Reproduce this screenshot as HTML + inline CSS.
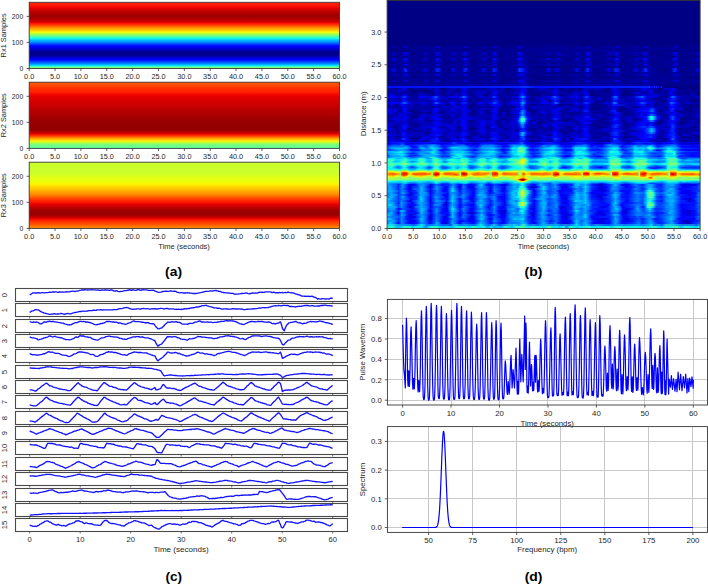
<!DOCTYPE html><html><head><meta charset="utf-8"><style>html,body{margin:0;padding:0;background:#fff;overflow:hidden}svg{display:block}text{font-family:"Liberation Sans",sans-serif}</style></head><body><svg width="708" height="584" viewBox="0 0 708 584"><defs><linearGradient id="ga0" x1="0" y1="0" x2="0" y2="1"><stop offset="0.000" stop-color="#ff2500"/><stop offset="0.015" stop-color="#ff2200"/><stop offset="0.030" stop-color="#ff1f00"/><stop offset="0.045" stop-color="#ff1900"/><stop offset="0.061" stop-color="#fb1000"/><stop offset="0.076" stop-color="#f00600"/><stop offset="0.091" stop-color="#e40000"/><stop offset="0.106" stop-color="#d90000"/><stop offset="0.121" stop-color="#cd0000"/><stop offset="0.136" stop-color="#c20000"/><stop offset="0.152" stop-color="#b80000"/><stop offset="0.167" stop-color="#af0000"/><stop offset="0.182" stop-color="#a70000"/><stop offset="0.197" stop-color="#a20000"/><stop offset="0.212" stop-color="#9d0000"/><stop offset="0.227" stop-color="#a40000"/><stop offset="0.242" stop-color="#ae0000"/><stop offset="0.258" stop-color="#b70000"/><stop offset="0.273" stop-color="#c00000"/><stop offset="0.288" stop-color="#ca0000"/><stop offset="0.303" stop-color="#e20000"/><stop offset="0.318" stop-color="#fe1200"/><stop offset="0.333" stop-color="#ff2b00"/><stop offset="0.348" stop-color="#ff4400"/><stop offset="0.364" stop-color="#ff6400"/><stop offset="0.379" stop-color="#ff8300"/><stop offset="0.394" stop-color="#ff9d00"/><stop offset="0.409" stop-color="#ffb400"/><stop offset="0.424" stop-color="#ffcb00"/><stop offset="0.439" stop-color="#ffe500"/><stop offset="0.455" stop-color="#e9ff0e"/><stop offset="0.470" stop-color="#c7ff30"/><stop offset="0.485" stop-color="#a4ff53"/><stop offset="0.500" stop-color="#7eff78"/><stop offset="0.515" stop-color="#58ff9e"/><stop offset="0.530" stop-color="#34ffc2"/><stop offset="0.545" stop-color="#13fee3"/><stop offset="0.561" stop-color="#00d5ff"/><stop offset="0.576" stop-color="#00b8ff"/><stop offset="0.591" stop-color="#009dff"/><stop offset="0.606" stop-color="#0082ff"/><stop offset="0.621" stop-color="#005cff"/><stop offset="0.636" stop-color="#0036ff"/><stop offset="0.652" stop-color="#0015ff"/><stop offset="0.667" stop-color="#0000ff"/><stop offset="0.682" stop-color="#0000f0"/><stop offset="0.697" stop-color="#0000d7"/><stop offset="0.712" stop-color="#0000c4"/><stop offset="0.727" stop-color="#0000b1"/><stop offset="0.742" stop-color="#00009d"/><stop offset="0.758" stop-color="#000092"/><stop offset="0.773" stop-color="#00008b"/><stop offset="0.788" stop-color="#000091"/><stop offset="0.803" stop-color="#000096"/><stop offset="0.818" stop-color="#0000ad"/><stop offset="0.833" stop-color="#0000c4"/><stop offset="0.848" stop-color="#0000e3"/><stop offset="0.864" stop-color="#0000ff"/><stop offset="0.879" stop-color="#001cff"/><stop offset="0.894" stop-color="#003eff"/><stop offset="0.909" stop-color="#005eff"/><stop offset="0.924" stop-color="#007fff"/><stop offset="0.939" stop-color="#00acff"/><stop offset="0.955" stop-color="#00e0fb"/><stop offset="0.970" stop-color="#3bffbb"/><stop offset="0.985" stop-color="#7bff7c"/><stop offset="1.000" stop-color="#a5ff52"/></linearGradient><linearGradient id="ga1" x1="0" y1="0" x2="0" y2="1"><stop offset="0.000" stop-color="#ff5400"/><stop offset="0.015" stop-color="#ff5200"/><stop offset="0.030" stop-color="#ff4f00"/><stop offset="0.045" stop-color="#ff4c00"/><stop offset="0.061" stop-color="#ff4300"/><stop offset="0.076" stop-color="#ff3800"/><stop offset="0.091" stop-color="#ff2f00"/><stop offset="0.106" stop-color="#ff2c00"/><stop offset="0.121" stop-color="#ff2900"/><stop offset="0.136" stop-color="#ff2700"/><stop offset="0.152" stop-color="#ff1e00"/><stop offset="0.167" stop-color="#ff1200"/><stop offset="0.182" stop-color="#f20900"/><stop offset="0.197" stop-color="#ee0500"/><stop offset="0.212" stop-color="#e90100"/><stop offset="0.227" stop-color="#e40000"/><stop offset="0.242" stop-color="#e00000"/><stop offset="0.258" stop-color="#db0000"/><stop offset="0.273" stop-color="#d80000"/><stop offset="0.288" stop-color="#d50000"/><stop offset="0.303" stop-color="#d20000"/><stop offset="0.318" stop-color="#cf0000"/><stop offset="0.333" stop-color="#cd0000"/><stop offset="0.348" stop-color="#cb0000"/><stop offset="0.364" stop-color="#c80000"/><stop offset="0.379" stop-color="#c60000"/><stop offset="0.394" stop-color="#c00000"/><stop offset="0.409" stop-color="#b90000"/><stop offset="0.424" stop-color="#b30000"/><stop offset="0.439" stop-color="#b20000"/><stop offset="0.455" stop-color="#b10000"/><stop offset="0.470" stop-color="#b00000"/><stop offset="0.485" stop-color="#af0000"/><stop offset="0.500" stop-color="#ac0000"/><stop offset="0.515" stop-color="#a80000"/><stop offset="0.530" stop-color="#a30000"/><stop offset="0.545" stop-color="#a00000"/><stop offset="0.561" stop-color="#9e0000"/><stop offset="0.576" stop-color="#9c0000"/><stop offset="0.591" stop-color="#990000"/><stop offset="0.606" stop-color="#970000"/><stop offset="0.621" stop-color="#960000"/><stop offset="0.636" stop-color="#950000"/><stop offset="0.652" stop-color="#940000"/><stop offset="0.667" stop-color="#940000"/><stop offset="0.682" stop-color="#930000"/><stop offset="0.697" stop-color="#920000"/><stop offset="0.712" stop-color="#910000"/><stop offset="0.727" stop-color="#9a0000"/><stop offset="0.742" stop-color="#aa0000"/><stop offset="0.758" stop-color="#bb0000"/><stop offset="0.773" stop-color="#d80000"/><stop offset="0.788" stop-color="#f50b00"/><stop offset="0.803" stop-color="#ff2a00"/><stop offset="0.818" stop-color="#ff4d00"/><stop offset="0.833" stop-color="#ff7500"/><stop offset="0.848" stop-color="#ff9f00"/><stop offset="0.864" stop-color="#ffbe00"/><stop offset="0.879" stop-color="#ffdc00"/><stop offset="0.894" stop-color="#e8ff0f"/><stop offset="0.909" stop-color="#c4ff32"/><stop offset="0.924" stop-color="#a3ff53"/><stop offset="0.939" stop-color="#82ff74"/><stop offset="0.955" stop-color="#71ff86"/><stop offset="0.970" stop-color="#63ff94"/><stop offset="0.985" stop-color="#63ff94"/><stop offset="1.000" stop-color="#63ff94"/></linearGradient><linearGradient id="ga2" x1="0" y1="0" x2="0" y2="1"><stop offset="0.000" stop-color="#caff2d"/><stop offset="0.015" stop-color="#caff2d"/><stop offset="0.030" stop-color="#caff2c"/><stop offset="0.045" stop-color="#cbff2c"/><stop offset="0.061" stop-color="#cbff2c"/><stop offset="0.076" stop-color="#cbff2b"/><stop offset="0.091" stop-color="#ccff2b"/><stop offset="0.106" stop-color="#ccff2b"/><stop offset="0.121" stop-color="#ccff2a"/><stop offset="0.136" stop-color="#cdff2a"/><stop offset="0.152" stop-color="#cdff2a"/><stop offset="0.167" stop-color="#cdff29"/><stop offset="0.182" stop-color="#cfff28"/><stop offset="0.197" stop-color="#d6ff21"/><stop offset="0.212" stop-color="#dcff1a"/><stop offset="0.227" stop-color="#e0ff17"/><stop offset="0.242" stop-color="#e2ff14"/><stop offset="0.258" stop-color="#e5ff12"/><stop offset="0.273" stop-color="#e8ff0f"/><stop offset="0.288" stop-color="#eaff0d"/><stop offset="0.303" stop-color="#efff08"/><stop offset="0.318" stop-color="#f4f903"/><stop offset="0.333" stop-color="#faf200"/><stop offset="0.348" stop-color="#ffe800"/><stop offset="0.364" stop-color="#ffdd00"/><stop offset="0.379" stop-color="#ffd300"/><stop offset="0.394" stop-color="#ffc900"/><stop offset="0.409" stop-color="#ffbf00"/><stop offset="0.424" stop-color="#ffb400"/><stop offset="0.439" stop-color="#ffaa00"/><stop offset="0.455" stop-color="#ffa000"/><stop offset="0.470" stop-color="#ff9600"/><stop offset="0.485" stop-color="#ff8b00"/><stop offset="0.500" stop-color="#ff7f00"/><stop offset="0.515" stop-color="#ff6d00"/><stop offset="0.530" stop-color="#ff5b00"/><stop offset="0.545" stop-color="#ff4900"/><stop offset="0.561" stop-color="#ff3a00"/><stop offset="0.576" stop-color="#ff2d00"/><stop offset="0.591" stop-color="#ff2100"/><stop offset="0.606" stop-color="#ff1400"/><stop offset="0.621" stop-color="#f30900"/><stop offset="0.636" stop-color="#e60000"/><stop offset="0.652" stop-color="#d90000"/><stop offset="0.667" stop-color="#cd0000"/><stop offset="0.682" stop-color="#c00000"/><stop offset="0.697" stop-color="#b40000"/><stop offset="0.712" stop-color="#a80000"/><stop offset="0.727" stop-color="#a10000"/><stop offset="0.742" stop-color="#9f0000"/><stop offset="0.758" stop-color="#9c0000"/><stop offset="0.773" stop-color="#9a0000"/><stop offset="0.788" stop-color="#970000"/><stop offset="0.803" stop-color="#a30000"/><stop offset="0.818" stop-color="#b60000"/><stop offset="0.833" stop-color="#c90000"/><stop offset="0.848" stop-color="#e00000"/><stop offset="0.864" stop-color="#f70d00"/><stop offset="0.879" stop-color="#ff1e00"/><stop offset="0.894" stop-color="#ff2e00"/><stop offset="0.909" stop-color="#ff3d00"/><stop offset="0.924" stop-color="#ff4900"/><stop offset="0.939" stop-color="#ff5500"/><stop offset="0.955" stop-color="#ff6200"/><stop offset="0.970" stop-color="#ff7800"/><stop offset="0.985" stop-color="#ff8700"/><stop offset="1.000" stop-color="#ff8e00"/></linearGradient><linearGradient id="s22"><stop offset="0.002" stop-color="#000084"/><stop offset="0.069" stop-color="#000088"/><stop offset="0.174" stop-color="#000086"/><stop offset="0.260" stop-color="#000087"/><stop offset="0.356" stop-color="#000085"/><stop offset="0.436" stop-color="#00008d"/><stop offset="0.653" stop-color="#000086"/><stop offset="0.743" stop-color="#000088"/><stop offset="0.931" stop-color="#000086"/><stop offset="0.998" stop-color="#000089"/></linearGradient><linearGradient id="s23"><stop offset="0.002" stop-color="#000084"/><stop offset="0.024" stop-color="#0000aa"/><stop offset="0.043" stop-color="#000085"/><stop offset="0.059" stop-color="#0000ce"/><stop offset="0.075" stop-color="#000085"/><stop offset="0.117" stop-color="#00009e"/><stop offset="0.129" stop-color="#000091"/><stop offset="0.152" stop-color="#000092"/><stop offset="0.161" stop-color="#0000cf"/><stop offset="0.181" stop-color="#000084"/><stop offset="0.206" stop-color="#00009b"/><stop offset="0.216" stop-color="#0000a2"/><stop offset="0.238" stop-color="#00008b"/><stop offset="0.251" stop-color="#0000ce"/><stop offset="0.267" stop-color="#000085"/><stop offset="0.302" stop-color="#000098"/><stop offset="0.312" stop-color="#0000a6"/><stop offset="0.331" stop-color="#000089"/><stop offset="0.343" stop-color="#0000cf"/><stop offset="0.359" stop-color="#000085"/><stop offset="0.414" stop-color="#000095"/><stop offset="0.423" stop-color="#0000d4"/><stop offset="0.442" stop-color="#000089"/><stop offset="0.506" stop-color="#00008f"/><stop offset="0.519" stop-color="#0000a0"/><stop offset="0.535" stop-color="#000091"/><stop offset="0.548" stop-color="#00009e"/><stop offset="0.596" stop-color="#000089"/><stop offset="0.609" stop-color="#0000aa"/><stop offset="0.628" stop-color="#000087"/><stop offset="0.644" stop-color="#0000c7"/><stop offset="0.657" stop-color="#000085"/><stop offset="0.701" stop-color="#000096"/><stop offset="0.711" stop-color="#0000a7"/><stop offset="0.724" stop-color="#000095"/><stop offset="0.733" stop-color="#0000cf"/><stop offset="0.749" stop-color="#000085"/><stop offset="0.788" stop-color="#000094"/><stop offset="0.797" stop-color="#0000a9"/><stop offset="0.813" stop-color="#00008c"/><stop offset="0.826" stop-color="#0000cd"/><stop offset="0.842" stop-color="#000085"/><stop offset="0.909" stop-color="#00008f"/><stop offset="0.922" stop-color="#0000c8"/><stop offset="0.938" stop-color="#000084"/><stop offset="0.986" stop-color="#000094"/><stop offset="0.995" stop-color="#0000a9"/><stop offset="0.998" stop-color="#00009a"/></linearGradient><linearGradient id="s24"><stop offset="0.002" stop-color="#000084"/><stop offset="0.065" stop-color="#000090"/><stop offset="0.158" stop-color="#00009c"/><stop offset="0.241" stop-color="#00008c"/><stop offset="0.257" stop-color="#00008f"/><stop offset="0.337" stop-color="#000093"/><stop offset="0.417" stop-color="#000095"/><stop offset="0.637" stop-color="#00009a"/><stop offset="0.727" stop-color="#000093"/><stop offset="0.819" stop-color="#000097"/><stop offset="0.915" stop-color="#00009a"/><stop offset="0.998" stop-color="#00008a"/></linearGradient><linearGradient id="s25"><stop offset="0.002" stop-color="#000084"/><stop offset="0.069" stop-color="#000088"/><stop offset="0.158" stop-color="#00009c"/><stop offset="0.241" stop-color="#00008f"/><stop offset="0.257" stop-color="#000096"/><stop offset="0.337" stop-color="#000092"/><stop offset="0.417" stop-color="#000098"/><stop offset="0.637" stop-color="#000097"/><stop offset="0.730" stop-color="#00009f"/><stop offset="0.772" stop-color="#000091"/><stop offset="0.998" stop-color="#000088"/></linearGradient><linearGradient id="s26"><stop offset="0.002" stop-color="#000084"/><stop offset="0.014" stop-color="#0000a0"/><stop offset="0.024" stop-color="#0000c3"/><stop offset="0.037" stop-color="#00008c"/><stop offset="0.050" stop-color="#0000a4"/><stop offset="0.056" stop-color="#0001ef"/><stop offset="0.062" stop-color="#0000e6"/><stop offset="0.072" stop-color="#00008a"/><stop offset="0.113" stop-color="#000096"/><stop offset="0.123" stop-color="#0000c6"/><stop offset="0.136" stop-color="#000089"/><stop offset="0.152" stop-color="#00009b"/><stop offset="0.161" stop-color="#0007f4"/><stop offset="0.177" stop-color="#000086"/><stop offset="0.203" stop-color="#000095"/><stop offset="0.212" stop-color="#0000d0"/><stop offset="0.228" stop-color="#000091"/><stop offset="0.241" stop-color="#0000a7"/><stop offset="0.251" stop-color="#0004f0"/><stop offset="0.264" stop-color="#000088"/><stop offset="0.299" stop-color="#000092"/><stop offset="0.308" stop-color="#0000c9"/><stop offset="0.324" stop-color="#000085"/><stop offset="0.334" stop-color="#00009f"/><stop offset="0.343" stop-color="#0005f4"/><stop offset="0.356" stop-color="#00008d"/><stop offset="0.411" stop-color="#00008e"/><stop offset="0.423" stop-color="#0008f2"/><stop offset="0.439" stop-color="#00008f"/><stop offset="0.506" stop-color="#000096"/><stop offset="0.516" stop-color="#0000c6"/><stop offset="0.529" stop-color="#00008a"/><stop offset="0.545" stop-color="#0000c8"/><stop offset="0.558" stop-color="#00008a"/><stop offset="0.599" stop-color="#00009c"/><stop offset="0.609" stop-color="#0000c1"/><stop offset="0.621" stop-color="#00008b"/><stop offset="0.631" stop-color="#00009b"/><stop offset="0.641" stop-color="#0009f2"/><stop offset="0.657" stop-color="#00008c"/><stop offset="0.698" stop-color="#00008e"/><stop offset="0.711" stop-color="#0000c0"/><stop offset="0.724" stop-color="#0000af"/><stop offset="0.733" stop-color="#0005ef"/><stop offset="0.746" stop-color="#00008c"/><stop offset="0.788" stop-color="#0000a4"/><stop offset="0.797" stop-color="#0000bf"/><stop offset="0.810" stop-color="#000095"/><stop offset="0.826" stop-color="#0003ee"/><stop offset="0.839" stop-color="#000089"/><stop offset="0.909" stop-color="#000096"/><stop offset="0.919" stop-color="#0004ef"/><stop offset="0.925" stop-color="#0000ce"/><stop offset="0.935" stop-color="#000088"/><stop offset="0.986" stop-color="#00009e"/><stop offset="0.995" stop-color="#0000c6"/><stop offset="0.998" stop-color="#0000b0"/></linearGradient><linearGradient id="s27"><stop offset="0.002" stop-color="#000088"/><stop offset="0.024" stop-color="#0000ad"/><stop offset="0.043" stop-color="#00008a"/><stop offset="0.059" stop-color="#0000d9"/><stop offset="0.075" stop-color="#000085"/><stop offset="0.126" stop-color="#0000a4"/><stop offset="0.149" stop-color="#00008c"/><stop offset="0.161" stop-color="#0000e2"/><stop offset="0.177" stop-color="#00008f"/><stop offset="0.203" stop-color="#000095"/><stop offset="0.212" stop-color="#0000c2"/><stop offset="0.232" stop-color="#000084"/><stop offset="0.244" stop-color="#0000b8"/><stop offset="0.254" stop-color="#0000d0"/><stop offset="0.267" stop-color="#000088"/><stop offset="0.302" stop-color="#00009c"/><stop offset="0.312" stop-color="#0000a9"/><stop offset="0.331" stop-color="#00008a"/><stop offset="0.343" stop-color="#0000de"/><stop offset="0.359" stop-color="#000088"/><stop offset="0.414" stop-color="#00009a"/><stop offset="0.423" stop-color="#0000e1"/><stop offset="0.442" stop-color="#00008d"/><stop offset="0.510" stop-color="#0000a0"/><stop offset="0.519" stop-color="#0000a3"/><stop offset="0.532" stop-color="#000089"/><stop offset="0.545" stop-color="#0000b6"/><stop offset="0.596" stop-color="#00008b"/><stop offset="0.609" stop-color="#0000af"/><stop offset="0.628" stop-color="#000088"/><stop offset="0.644" stop-color="#0000e2"/><stop offset="0.657" stop-color="#000086"/><stop offset="0.701" stop-color="#0000a2"/><stop offset="0.711" stop-color="#0000ab"/><stop offset="0.724" stop-color="#000098"/><stop offset="0.733" stop-color="#0000da"/><stop offset="0.746" stop-color="#000089"/><stop offset="0.788" stop-color="#000096"/><stop offset="0.797" stop-color="#0000ac"/><stop offset="0.810" stop-color="#00008b"/><stop offset="0.826" stop-color="#0000d8"/><stop offset="0.839" stop-color="#000088"/><stop offset="0.909" stop-color="#000091"/><stop offset="0.919" stop-color="#0000d9"/><stop offset="0.935" stop-color="#000089"/><stop offset="0.986" stop-color="#000095"/><stop offset="0.995" stop-color="#0000ac"/><stop offset="0.998" stop-color="#00009f"/></linearGradient><linearGradient id="s28"><stop offset="0.002" stop-color="#000087"/><stop offset="0.050" stop-color="#000092"/><stop offset="0.062" stop-color="#00009d"/><stop offset="0.107" stop-color="#000090"/><stop offset="0.152" stop-color="#000099"/><stop offset="0.244" stop-color="#000098"/><stop offset="0.337" stop-color="#00009d"/><stop offset="0.353" stop-color="#00008e"/><stop offset="0.414" stop-color="#000099"/><stop offset="0.427" stop-color="#0000b5"/><stop offset="0.474" stop-color="#000084"/><stop offset="0.637" stop-color="#00009f"/><stop offset="0.724" stop-color="#00008d"/><stop offset="0.736" stop-color="#0000ae"/><stop offset="0.762" stop-color="#000084"/><stop offset="0.829" stop-color="#00009e"/><stop offset="0.909" stop-color="#000089"/><stop offset="0.922" stop-color="#0000aa"/><stop offset="0.944" stop-color="#000087"/><stop offset="0.998" stop-color="#00008d"/></linearGradient><linearGradient id="s29"><stop offset="0.002" stop-color="#000084"/><stop offset="0.014" stop-color="#0000ac"/><stop offset="0.021" stop-color="#0000d8"/><stop offset="0.040" stop-color="#000085"/><stop offset="0.050" stop-color="#0000b5"/><stop offset="0.059" stop-color="#000cfb"/><stop offset="0.072" stop-color="#00008a"/><stop offset="0.110" stop-color="#00008e"/><stop offset="0.123" stop-color="#0000d2"/><stop offset="0.136" stop-color="#000086"/><stop offset="0.152" stop-color="#00009e"/><stop offset="0.161" stop-color="#000dfb"/><stop offset="0.177" stop-color="#00008d"/><stop offset="0.203" stop-color="#0000a3"/><stop offset="0.212" stop-color="#0000d6"/><stop offset="0.225" stop-color="#000086"/><stop offset="0.238" stop-color="#00009d"/><stop offset="0.248" stop-color="#0009f9"/><stop offset="0.254" stop-color="#0000ec"/><stop offset="0.264" stop-color="#000089"/><stop offset="0.299" stop-color="#000094"/><stop offset="0.308" stop-color="#0000db"/><stop offset="0.324" stop-color="#000085"/><stop offset="0.334" stop-color="#0000a4"/><stop offset="0.343" stop-color="#000cfb"/><stop offset="0.356" stop-color="#000093"/><stop offset="0.411" stop-color="#000094"/><stop offset="0.420" stop-color="#0009fb"/><stop offset="0.430" stop-color="#0000e2"/><stop offset="0.439" stop-color="#000096"/><stop offset="0.500" stop-color="#00009a"/><stop offset="0.516" stop-color="#0000dd"/><stop offset="0.532" stop-color="#00008e"/><stop offset="0.545" stop-color="#0000d8"/><stop offset="0.561" stop-color="#00008b"/><stop offset="0.596" stop-color="#00008d"/><stop offset="0.605" stop-color="#0000d4"/><stop offset="0.621" stop-color="#000086"/><stop offset="0.631" stop-color="#00009b"/><stop offset="0.641" stop-color="#000bfb"/><stop offset="0.647" stop-color="#0000d4"/><stop offset="0.657" stop-color="#00008b"/><stop offset="0.698" stop-color="#000098"/><stop offset="0.708" stop-color="#0000d5"/><stop offset="0.720" stop-color="#000094"/><stop offset="0.733" stop-color="#000cfc"/><stop offset="0.746" stop-color="#000095"/><stop offset="0.784" stop-color="#000090"/><stop offset="0.794" stop-color="#0000d9"/><stop offset="0.810" stop-color="#00009b"/><stop offset="0.826" stop-color="#000aff"/><stop offset="0.839" stop-color="#00008b"/><stop offset="0.909" stop-color="#000099"/><stop offset="0.919" stop-color="#000bfb"/><stop offset="0.925" stop-color="#0000d6"/><stop offset="0.935" stop-color="#000087"/><stop offset="0.982" stop-color="#000097"/><stop offset="0.992" stop-color="#0000d6"/><stop offset="0.998" stop-color="#0000ae"/></linearGradient><linearGradient id="s30"><stop offset="0.002" stop-color="#000084"/><stop offset="0.024" stop-color="#0000ad"/><stop offset="0.040" stop-color="#00008f"/><stop offset="0.059" stop-color="#0000d4"/><stop offset="0.075" stop-color="#000085"/><stop offset="0.117" stop-color="#0000a6"/><stop offset="0.149" stop-color="#000088"/><stop offset="0.161" stop-color="#0000dd"/><stop offset="0.181" stop-color="#000089"/><stop offset="0.206" stop-color="#00009f"/><stop offset="0.216" stop-color="#0000a4"/><stop offset="0.235" stop-color="#00008b"/><stop offset="0.251" stop-color="#0000d3"/><stop offset="0.267" stop-color="#00008a"/><stop offset="0.302" stop-color="#000098"/><stop offset="0.312" stop-color="#0000a9"/><stop offset="0.331" stop-color="#00008b"/><stop offset="0.343" stop-color="#0000d5"/><stop offset="0.359" stop-color="#000086"/><stop offset="0.414" stop-color="#000097"/><stop offset="0.423" stop-color="#0000de"/><stop offset="0.449" stop-color="#000088"/><stop offset="0.510" stop-color="#00009e"/><stop offset="0.522" stop-color="#000099"/><stop offset="0.538" stop-color="#0000a0"/><stop offset="0.551" stop-color="#0000a2"/><stop offset="0.573" stop-color="#000087"/><stop offset="0.599" stop-color="#000099"/><stop offset="0.609" stop-color="#0000ae"/><stop offset="0.628" stop-color="#000088"/><stop offset="0.641" stop-color="#0000dd"/><stop offset="0.657" stop-color="#000086"/><stop offset="0.701" stop-color="#000097"/><stop offset="0.714" stop-color="#00009b"/><stop offset="0.724" stop-color="#000098"/><stop offset="0.733" stop-color="#0000d4"/><stop offset="0.752" stop-color="#000086"/><stop offset="0.788" stop-color="#0000a1"/><stop offset="0.797" stop-color="#0000b0"/><stop offset="0.813" stop-color="#00008d"/><stop offset="0.826" stop-color="#0000d4"/><stop offset="0.839" stop-color="#00008c"/><stop offset="0.909" stop-color="#000093"/><stop offset="0.922" stop-color="#0000cd"/><stop offset="0.935" stop-color="#000086"/><stop offset="0.986" stop-color="#00009c"/><stop offset="0.995" stop-color="#0000b2"/><stop offset="0.998" stop-color="#0000a5"/></linearGradient><linearGradient id="s31"><stop offset="0.002" stop-color="#000084"/><stop offset="0.027" stop-color="#000094"/><stop offset="0.050" stop-color="#000098"/><stop offset="0.062" stop-color="#0000b3"/><stop offset="0.081" stop-color="#000088"/><stop offset="0.129" stop-color="#00008d"/><stop offset="0.152" stop-color="#000094"/><stop offset="0.161" stop-color="#0000c3"/><stop offset="0.181" stop-color="#000084"/><stop offset="0.219" stop-color="#00008e"/><stop offset="0.241" stop-color="#000094"/><stop offset="0.251" stop-color="#0000bf"/><stop offset="0.270" stop-color="#000084"/><stop offset="0.315" stop-color="#000097"/><stop offset="0.334" stop-color="#000093"/><stop offset="0.343" stop-color="#0000c7"/><stop offset="0.363" stop-color="#000084"/><stop offset="0.414" stop-color="#000093"/><stop offset="0.427" stop-color="#0000c9"/><stop offset="0.458" stop-color="#000084"/><stop offset="0.510" stop-color="#00009a"/><stop offset="0.538" stop-color="#000097"/><stop offset="0.551" stop-color="#000093"/><stop offset="0.602" stop-color="#00009d"/><stop offset="0.631" stop-color="#000090"/><stop offset="0.644" stop-color="#0000c4"/><stop offset="0.660" stop-color="#000084"/><stop offset="0.704" stop-color="#00009b"/><stop offset="0.724" stop-color="#000098"/><stop offset="0.733" stop-color="#0000ca"/><stop offset="0.749" stop-color="#000085"/><stop offset="0.791" stop-color="#0000a0"/><stop offset="0.816" stop-color="#0000a9"/><stop offset="0.826" stop-color="#0000c3"/><stop offset="0.845" stop-color="#000088"/><stop offset="0.912" stop-color="#00009f"/><stop offset="0.922" stop-color="#0000c0"/><stop offset="0.941" stop-color="#000084"/><stop offset="0.998" stop-color="#000093"/></linearGradient><linearGradient id="s32"><stop offset="0.002" stop-color="#000084"/><stop offset="0.024" stop-color="#0000b5"/><stop offset="0.043" stop-color="#000086"/><stop offset="0.059" stop-color="#0000ed"/><stop offset="0.075" stop-color="#000090"/><stop offset="0.117" stop-color="#0000a5"/><stop offset="0.126" stop-color="#0000a8"/><stop offset="0.149" stop-color="#000089"/><stop offset="0.161" stop-color="#0000ec"/><stop offset="0.177" stop-color="#000085"/><stop offset="0.206" stop-color="#0000a3"/><stop offset="0.216" stop-color="#0000b1"/><stop offset="0.232" stop-color="#000085"/><stop offset="0.241" stop-color="#0000a1"/><stop offset="0.251" stop-color="#0000eb"/><stop offset="0.264" stop-color="#000088"/><stop offset="0.302" stop-color="#0000a0"/><stop offset="0.312" stop-color="#0000b5"/><stop offset="0.327" stop-color="#000086"/><stop offset="0.337" stop-color="#0000bb"/><stop offset="0.343" stop-color="#0000ea"/><stop offset="0.356" stop-color="#00008a"/><stop offset="0.414" stop-color="#00009c"/><stop offset="0.423" stop-color="#0000f3"/><stop offset="0.442" stop-color="#000096"/><stop offset="0.506" stop-color="#00009a"/><stop offset="0.516" stop-color="#0000bf"/><stop offset="0.535" stop-color="#00009b"/><stop offset="0.545" stop-color="#0000bc"/><stop offset="0.564" stop-color="#000086"/><stop offset="0.599" stop-color="#000097"/><stop offset="0.609" stop-color="#0000b4"/><stop offset="0.628" stop-color="#000088"/><stop offset="0.641" stop-color="#0000ee"/><stop offset="0.657" stop-color="#000092"/><stop offset="0.701" stop-color="#00009f"/><stop offset="0.711" stop-color="#0000b7"/><stop offset="0.720" stop-color="#000090"/><stop offset="0.733" stop-color="#0000ea"/><stop offset="0.746" stop-color="#000089"/><stop offset="0.788" stop-color="#00009f"/><stop offset="0.797" stop-color="#0000b6"/><stop offset="0.810" stop-color="#000088"/><stop offset="0.826" stop-color="#0000ef"/><stop offset="0.839" stop-color="#00008d"/><stop offset="0.909" stop-color="#000093"/><stop offset="0.919" stop-color="#0000e6"/><stop offset="0.935" stop-color="#00008b"/><stop offset="0.986" stop-color="#00009d"/><stop offset="0.995" stop-color="#0000b3"/><stop offset="0.998" stop-color="#0000a0"/></linearGradient><linearGradient id="s33"><stop offset="0.002" stop-color="#000086"/><stop offset="0.053" stop-color="#000099"/><stop offset="0.065" stop-color="#000099"/><stop offset="0.155" stop-color="#000095"/><stop offset="0.168" stop-color="#000096"/><stop offset="0.244" stop-color="#00009a"/><stop offset="0.337" stop-color="#000097"/><stop offset="0.356" stop-color="#00008f"/><stop offset="0.417" stop-color="#00009d"/><stop offset="0.436" stop-color="#0000b8"/><stop offset="0.468" stop-color="#000084"/><stop offset="0.554" stop-color="#000085"/><stop offset="0.634" stop-color="#000093"/><stop offset="0.644" stop-color="#0000ad"/><stop offset="0.698" stop-color="#00008e"/><stop offset="0.740" stop-color="#000097"/><stop offset="0.816" stop-color="#000091"/><stop offset="0.829" stop-color="#0000a9"/><stop offset="0.861" stop-color="#000090"/><stop offset="0.915" stop-color="#00009f"/><stop offset="0.986" stop-color="#00008d"/><stop offset="0.998" stop-color="#00008b"/></linearGradient><linearGradient id="s34"><stop offset="0.002" stop-color="#000093"/><stop offset="0.014" stop-color="#0000b0"/><stop offset="0.021" stop-color="#0005e1"/><stop offset="0.037" stop-color="#000085"/><stop offset="0.050" stop-color="#0000b2"/><stop offset="0.056" stop-color="#0025f5"/><stop offset="0.065" stop-color="#0000cc"/><stop offset="0.072" stop-color="#000091"/><stop offset="0.113" stop-color="#0000a1"/><stop offset="0.123" stop-color="#0002e2"/><stop offset="0.136" stop-color="#000086"/><stop offset="0.149" stop-color="#000094"/><stop offset="0.158" stop-color="#001ef1"/><stop offset="0.165" stop-color="#001ef3"/><stop offset="0.174" stop-color="#00009a"/><stop offset="0.200" stop-color="#00008e"/><stop offset="0.212" stop-color="#000ae1"/><stop offset="0.225" stop-color="#000087"/><stop offset="0.238" stop-color="#000098"/><stop offset="0.244" stop-color="#0002e4"/><stop offset="0.251" stop-color="#002cfa"/><stop offset="0.260" stop-color="#0000a4"/><stop offset="0.292" stop-color="#00008e"/><stop offset="0.302" stop-color="#0000b8"/><stop offset="0.308" stop-color="#0008e8"/><stop offset="0.315" stop-color="#0000c0"/><stop offset="0.324" stop-color="#000085"/><stop offset="0.334" stop-color="#0000ac"/><stop offset="0.340" stop-color="#001ff3"/><stop offset="0.347" stop-color="#0018ef"/><stop offset="0.356" stop-color="#00008d"/><stop offset="0.411" stop-color="#000098"/><stop offset="0.417" stop-color="#0000e2"/><stop offset="0.423" stop-color="#003fff"/><stop offset="0.439" stop-color="#0000f0"/><stop offset="0.449" stop-color="#000091"/><stop offset="0.503" stop-color="#00008e"/><stop offset="0.516" stop-color="#0006e4"/><stop offset="0.529" stop-color="#00009c"/><stop offset="0.545" stop-color="#0002e5"/><stop offset="0.558" stop-color="#000086"/><stop offset="0.596" stop-color="#000096"/><stop offset="0.605" stop-color="#0007ea"/><stop offset="0.621" stop-color="#000085"/><stop offset="0.631" stop-color="#0000a1"/><stop offset="0.641" stop-color="#002dfc"/><stop offset="0.647" stop-color="#0000e5"/><stop offset="0.657" stop-color="#000087"/><stop offset="0.698" stop-color="#000096"/><stop offset="0.708" stop-color="#0003e2"/><stop offset="0.720" stop-color="#000095"/><stop offset="0.730" stop-color="#0020f4"/><stop offset="0.736" stop-color="#001bef"/><stop offset="0.749" stop-color="#000087"/><stop offset="0.784" stop-color="#000099"/><stop offset="0.794" stop-color="#0005e1"/><stop offset="0.810" stop-color="#000089"/><stop offset="0.819" stop-color="#0008e7"/><stop offset="0.826" stop-color="#002cfb"/><stop offset="0.835" stop-color="#0000b7"/><stop offset="0.874" stop-color="#000084"/><stop offset="0.906" stop-color="#00008d"/><stop offset="0.915" stop-color="#0013ed"/><stop offset="0.922" stop-color="#0023f6"/><stop offset="0.928" stop-color="#0000b3"/><stop offset="0.941" stop-color="#000084"/><stop offset="0.982" stop-color="#000097"/><stop offset="0.992" stop-color="#0002e3"/><stop offset="0.998" stop-color="#0000bb"/></linearGradient><linearGradient id="s35"><stop offset="0.002" stop-color="#000084"/><stop offset="0.014" stop-color="#0000ba"/><stop offset="0.021" stop-color="#000beb"/><stop offset="0.027" stop-color="#0000ca"/><stop offset="0.037" stop-color="#000085"/><stop offset="0.046" stop-color="#000096"/><stop offset="0.053" stop-color="#0001e9"/><stop offset="0.059" stop-color="#002dfd"/><stop offset="0.069" stop-color="#0000a5"/><stop offset="0.104" stop-color="#000086"/><stop offset="0.117" stop-color="#0000c5"/><stop offset="0.123" stop-color="#0000e0"/><stop offset="0.136" stop-color="#000086"/><stop offset="0.152" stop-color="#0000ae"/><stop offset="0.158" stop-color="#001df3"/><stop offset="0.165" stop-color="#001ff5"/><stop offset="0.174" stop-color="#00009a"/><stop offset="0.200" stop-color="#00008b"/><stop offset="0.212" stop-color="#0002e1"/><stop offset="0.228" stop-color="#000087"/><stop offset="0.241" stop-color="#0000b5"/><stop offset="0.248" stop-color="#0025f6"/><stop offset="0.257" stop-color="#0000c9"/><stop offset="0.267" stop-color="#000086"/><stop offset="0.299" stop-color="#000098"/><stop offset="0.308" stop-color="#0005e2"/><stop offset="0.324" stop-color="#000087"/><stop offset="0.334" stop-color="#0000ac"/><stop offset="0.340" stop-color="#001ff4"/><stop offset="0.347" stop-color="#0018f0"/><stop offset="0.356" stop-color="#00008d"/><stop offset="0.411" stop-color="#000091"/><stop offset="0.417" stop-color="#0000e3"/><stop offset="0.423" stop-color="#0042ff"/><stop offset="0.439" stop-color="#0000f1"/><stop offset="0.449" stop-color="#000096"/><stop offset="0.503" stop-color="#00008d"/><stop offset="0.516" stop-color="#0005e3"/><stop offset="0.529" stop-color="#00008a"/><stop offset="0.545" stop-color="#0000e0"/><stop offset="0.558" stop-color="#000086"/><stop offset="0.596" stop-color="#000090"/><stop offset="0.605" stop-color="#0006e5"/><stop offset="0.621" stop-color="#000085"/><stop offset="0.631" stop-color="#0000a6"/><stop offset="0.641" stop-color="#002ffc"/><stop offset="0.647" stop-color="#0000e2"/><stop offset="0.657" stop-color="#000087"/><stop offset="0.698" stop-color="#000094"/><stop offset="0.708" stop-color="#0003e3"/><stop offset="0.720" stop-color="#000095"/><stop offset="0.730" stop-color="#0020f4"/><stop offset="0.736" stop-color="#001cf3"/><stop offset="0.746" stop-color="#000092"/><stop offset="0.784" stop-color="#000096"/><stop offset="0.794" stop-color="#0006e6"/><stop offset="0.810" stop-color="#00008c"/><stop offset="0.819" stop-color="#0008e7"/><stop offset="0.826" stop-color="#002efa"/><stop offset="0.835" stop-color="#0000af"/><stop offset="0.858" stop-color="#00008a"/><stop offset="0.896" stop-color="#000089"/><stop offset="0.909" stop-color="#00009f"/><stop offset="0.919" stop-color="#002cfb"/><stop offset="0.925" stop-color="#0000e3"/><stop offset="0.935" stop-color="#000087"/><stop offset="0.982" stop-color="#000095"/><stop offset="0.992" stop-color="#0002e2"/><stop offset="0.998" stop-color="#0000bc"/></linearGradient><linearGradient id="s36"><stop offset="0.002" stop-color="#000092"/><stop offset="0.050" stop-color="#00009b"/><stop offset="0.059" stop-color="#0000b3"/><stop offset="0.081" stop-color="#000085"/><stop offset="0.126" stop-color="#000091"/><stop offset="0.155" stop-color="#000099"/><stop offset="0.165" stop-color="#0000ab"/><stop offset="0.193" stop-color="#00008f"/><stop offset="0.244" stop-color="#00009f"/><stop offset="0.257" stop-color="#000099"/><stop offset="0.334" stop-color="#00008e"/><stop offset="0.347" stop-color="#0000ae"/><stop offset="0.369" stop-color="#00008f"/><stop offset="0.414" stop-color="#00009a"/><stop offset="0.433" stop-color="#0000cf"/><stop offset="0.462" stop-color="#00008b"/><stop offset="0.618" stop-color="#000089"/><stop offset="0.644" stop-color="#0000ad"/><stop offset="0.666" stop-color="#000084"/><stop offset="0.717" stop-color="#00008e"/><stop offset="0.736" stop-color="#0000ae"/><stop offset="0.784" stop-color="#00008e"/><stop offset="0.819" stop-color="#0000a3"/><stop offset="0.829" stop-color="#0000b0"/><stop offset="0.877" stop-color="#00008d"/><stop offset="0.912" stop-color="#000096"/><stop offset="0.922" stop-color="#0000b0"/><stop offset="0.947" stop-color="#00008b"/><stop offset="0.998" stop-color="#000097"/></linearGradient><linearGradient id="s37"><stop offset="0.002" stop-color="#000088"/><stop offset="0.024" stop-color="#0000b2"/><stop offset="0.043" stop-color="#000086"/><stop offset="0.059" stop-color="#0000e4"/><stop offset="0.075" stop-color="#000092"/><stop offset="0.113" stop-color="#000098"/><stop offset="0.123" stop-color="#0000b8"/><stop offset="0.142" stop-color="#000084"/><stop offset="0.155" stop-color="#0000b7"/><stop offset="0.161" stop-color="#0000ed"/><stop offset="0.177" stop-color="#00008a"/><stop offset="0.203" stop-color="#0000a0"/><stop offset="0.212" stop-color="#0000c0"/><stop offset="0.235" stop-color="#000086"/><stop offset="0.251" stop-color="#0000e6"/><stop offset="0.264" stop-color="#000088"/><stop offset="0.302" stop-color="#0000a2"/><stop offset="0.312" stop-color="#0000ae"/><stop offset="0.327" stop-color="#000088"/><stop offset="0.337" stop-color="#0000b9"/><stop offset="0.343" stop-color="#0000ec"/><stop offset="0.356" stop-color="#000089"/><stop offset="0.414" stop-color="#0000a4"/><stop offset="0.423" stop-color="#0000fc"/><stop offset="0.452" stop-color="#000087"/><stop offset="0.506" stop-color="#00009a"/><stop offset="0.516" stop-color="#0000c1"/><stop offset="0.529" stop-color="#000086"/><stop offset="0.545" stop-color="#0000b5"/><stop offset="0.564" stop-color="#000084"/><stop offset="0.602" stop-color="#0000af"/><stop offset="0.631" stop-color="#000093"/><stop offset="0.641" stop-color="#0000e2"/><stop offset="0.657" stop-color="#000086"/><stop offset="0.701" stop-color="#00009a"/><stop offset="0.711" stop-color="#0000af"/><stop offset="0.720" stop-color="#00008d"/><stop offset="0.733" stop-color="#0000e7"/><stop offset="0.746" stop-color="#000089"/><stop offset="0.788" stop-color="#000098"/><stop offset="0.797" stop-color="#0000b0"/><stop offset="0.813" stop-color="#000096"/><stop offset="0.826" stop-color="#0000f2"/><stop offset="0.839" stop-color="#000092"/><stop offset="0.909" stop-color="#000093"/><stop offset="0.919" stop-color="#0000e1"/><stop offset="0.935" stop-color="#00008c"/><stop offset="0.986" stop-color="#000097"/><stop offset="0.995" stop-color="#0000b3"/><stop offset="0.998" stop-color="#0000a1"/></linearGradient><linearGradient id="s38"><stop offset="0.002" stop-color="#000086"/><stop offset="0.050" stop-color="#000099"/><stop offset="0.062" stop-color="#0000b0"/><stop offset="0.081" stop-color="#000086"/><stop offset="0.155" stop-color="#00009b"/><stop offset="0.171" stop-color="#00009f"/><stop offset="0.241" stop-color="#00008e"/><stop offset="0.254" stop-color="#00009e"/><stop offset="0.334" stop-color="#00008e"/><stop offset="0.350" stop-color="#0000a1"/><stop offset="0.391" stop-color="#00008f"/><stop offset="0.417" stop-color="#00009d"/><stop offset="0.430" stop-color="#0000c4"/><stop offset="0.462" stop-color="#000085"/><stop offset="0.526" stop-color="#000088"/><stop offset="0.634" stop-color="#000093"/><stop offset="0.647" stop-color="#0000a6"/><stop offset="0.673" stop-color="#000086"/><stop offset="0.727" stop-color="#000097"/><stop offset="0.736" stop-color="#0000a4"/><stop offset="0.772" stop-color="#000084"/><stop offset="0.819" stop-color="#0000a1"/><stop offset="0.909" stop-color="#00008f"/><stop offset="0.922" stop-color="#0000af"/><stop offset="0.954" stop-color="#000084"/><stop offset="0.998" stop-color="#00008b"/></linearGradient><linearGradient id="s39"><stop offset="0.002" stop-color="#000087"/><stop offset="0.053" stop-color="#00009b"/><stop offset="0.113" stop-color="#000097"/><stop offset="0.155" stop-color="#00009c"/><stop offset="0.168" stop-color="#000096"/><stop offset="0.241" stop-color="#00008e"/><stop offset="0.254" stop-color="#0000a3"/><stop offset="0.305" stop-color="#00008f"/><stop offset="0.337" stop-color="#00009a"/><stop offset="0.347" stop-color="#0000b0"/><stop offset="0.372" stop-color="#000088"/><stop offset="0.414" stop-color="#000094"/><stop offset="0.430" stop-color="#0000c0"/><stop offset="0.471" stop-color="#000086"/><stop offset="0.634" stop-color="#00009d"/><stop offset="0.701" stop-color="#000093"/><stop offset="0.727" stop-color="#00009b"/><stop offset="0.816" stop-color="#000093"/><stop offset="0.832" stop-color="#00009a"/><stop offset="0.912" stop-color="#000094"/><stop offset="0.925" stop-color="#00009b"/><stop offset="0.998" stop-color="#00008b"/></linearGradient><linearGradient id="s40"><stop offset="0.002" stop-color="#000085"/><stop offset="0.024" stop-color="#0000b4"/><stop offset="0.043" stop-color="#000086"/><stop offset="0.059" stop-color="#0000e2"/><stop offset="0.072" stop-color="#00008c"/><stop offset="0.113" stop-color="#000092"/><stop offset="0.123" stop-color="#0000bf"/><stop offset="0.139" stop-color="#000086"/><stop offset="0.155" stop-color="#0000b2"/><stop offset="0.161" stop-color="#0000e5"/><stop offset="0.177" stop-color="#000085"/><stop offset="0.206" stop-color="#0000a0"/><stop offset="0.216" stop-color="#0000ac"/><stop offset="0.238" stop-color="#00008c"/><stop offset="0.251" stop-color="#0000e9"/><stop offset="0.264" stop-color="#00008e"/><stop offset="0.302" stop-color="#00009c"/><stop offset="0.312" stop-color="#0000ad"/><stop offset="0.327" stop-color="#000086"/><stop offset="0.343" stop-color="#0000e4"/><stop offset="0.356" stop-color="#000089"/><stop offset="0.414" stop-color="#00009c"/><stop offset="0.423" stop-color="#0000ff"/><stop offset="0.455" stop-color="#000086"/><stop offset="0.506" stop-color="#00009c"/><stop offset="0.519" stop-color="#0000b1"/><stop offset="0.535" stop-color="#000094"/><stop offset="0.545" stop-color="#0000b4"/><stop offset="0.570" stop-color="#000084"/><stop offset="0.602" stop-color="#0000aa"/><stop offset="0.628" stop-color="#000090"/><stop offset="0.641" stop-color="#0000ea"/><stop offset="0.657" stop-color="#000086"/><stop offset="0.701" stop-color="#0000a5"/><stop offset="0.711" stop-color="#0000af"/><stop offset="0.720" stop-color="#000095"/><stop offset="0.733" stop-color="#0000ed"/><stop offset="0.756" stop-color="#000084"/><stop offset="0.791" stop-color="#0000ab"/><stop offset="0.813" stop-color="#00009c"/><stop offset="0.826" stop-color="#0000e5"/><stop offset="0.839" stop-color="#000099"/><stop offset="0.909" stop-color="#000092"/><stop offset="0.919" stop-color="#0000e1"/><stop offset="0.935" stop-color="#00008e"/><stop offset="0.986" stop-color="#000097"/><stop offset="0.995" stop-color="#0000b3"/><stop offset="0.998" stop-color="#0000a3"/></linearGradient><linearGradient id="s41"><stop offset="0.002" stop-color="#000084"/><stop offset="0.053" stop-color="#000098"/><stop offset="0.155" stop-color="#000099"/><stop offset="0.168" stop-color="#000096"/><stop offset="0.244" stop-color="#000099"/><stop offset="0.260" stop-color="#00008f"/><stop offset="0.337" stop-color="#000097"/><stop offset="0.353" stop-color="#00008a"/><stop offset="0.414" stop-color="#000090"/><stop offset="0.430" stop-color="#0000db"/><stop offset="0.458" stop-color="#000085"/><stop offset="0.526" stop-color="#000090"/><stop offset="0.634" stop-color="#000095"/><stop offset="0.647" stop-color="#00009c"/><stop offset="0.724" stop-color="#000094"/><stop offset="0.740" stop-color="#00009b"/><stop offset="0.813" stop-color="#00008f"/><stop offset="0.829" stop-color="#0000ae"/><stop offset="0.906" stop-color="#000085"/><stop offset="0.925" stop-color="#00009b"/><stop offset="0.992" stop-color="#000093"/><stop offset="0.998" stop-color="#000098"/></linearGradient><linearGradient id="s42"><stop offset="0.002" stop-color="#000096"/><stop offset="0.417" stop-color="#0000ab"/><stop offset="0.436" stop-color="#0000d1"/><stop offset="0.458" stop-color="#000097"/><stop offset="0.634" stop-color="#0000a6"/><stop offset="0.730" stop-color="#0000ab"/><stop offset="0.819" stop-color="#0000a5"/><stop offset="0.855" stop-color="#0000a6"/><stop offset="0.858" stop-color="#00008c"/><stop offset="0.887" stop-color="#00008c"/><stop offset="0.998" stop-color="#000089"/></linearGradient><linearGradient id="s43"><stop offset="0.002" stop-color="#000fff"/><stop offset="0.420" stop-color="#001fff"/><stop offset="0.439" stop-color="#0037ff"/><stop offset="0.474" stop-color="#000fff"/><stop offset="0.835" stop-color="#0022ff"/><stop offset="0.839" stop-color="#004bff"/><stop offset="0.842" stop-color="#0000be"/><stop offset="0.845" stop-color="#0015ff"/><stop offset="0.848" stop-color="#0003ff"/><stop offset="0.851" stop-color="#0000c7"/><stop offset="0.855" stop-color="#0037ff"/><stop offset="0.858" stop-color="#00008e"/><stop offset="0.861" stop-color="#0036ff"/><stop offset="0.864" stop-color="#0000a8"/><stop offset="0.867" stop-color="#0001fe"/><stop offset="0.871" stop-color="#0000f8"/><stop offset="0.874" stop-color="#0000af"/><stop offset="0.877" stop-color="#002dff"/><stop offset="0.880" stop-color="#000084"/><stop offset="0.998" stop-color="#000084"/></linearGradient><linearGradient id="s44"><stop offset="0.002" stop-color="#00009b"/><stop offset="0.011" stop-color="#0000b0"/><stop offset="0.024" stop-color="#000089"/><stop offset="0.037" stop-color="#00009a"/><stop offset="0.056" stop-color="#0000f3"/><stop offset="0.069" stop-color="#000087"/><stop offset="0.081" stop-color="#00009b"/><stop offset="0.107" stop-color="#000099"/><stop offset="0.126" stop-color="#000090"/><stop offset="0.136" stop-color="#0000c5"/><stop offset="0.145" stop-color="#00009a"/><stop offset="0.158" stop-color="#0000d0"/><stop offset="0.174" stop-color="#000080"/><stop offset="0.206" stop-color="#0000b9"/><stop offset="0.216" stop-color="#0000aa"/><stop offset="0.225" stop-color="#000099"/><stop offset="0.238" stop-color="#0000c6"/><stop offset="0.248" stop-color="#0000f7"/><stop offset="0.264" stop-color="#00009f"/><stop offset="0.312" stop-color="#000091"/><stop offset="0.343" stop-color="#0000cd"/><stop offset="0.353" stop-color="#00009c"/><stop offset="0.366" stop-color="#0000c0"/><stop offset="0.382" stop-color="#000081"/><stop offset="0.407" stop-color="#0000b2"/><stop offset="0.420" stop-color="#0000b5"/><stop offset="0.433" stop-color="#0000ff"/><stop offset="0.452" stop-color="#000090"/><stop offset="0.478" stop-color="#0000a0"/><stop offset="0.494" stop-color="#0000d4"/><stop offset="0.519" stop-color="#0000a8"/><stop offset="0.535" stop-color="#0000b1"/><stop offset="0.542" stop-color="#0000cc"/><stop offset="0.554" stop-color="#00008e"/><stop offset="0.570" stop-color="#00009c"/><stop offset="0.596" stop-color="#000091"/><stop offset="0.621" stop-color="#000093"/><stop offset="0.634" stop-color="#0000d1"/><stop offset="0.657" stop-color="#00009c"/><stop offset="0.666" stop-color="#0000d0"/><stop offset="0.708" stop-color="#00008a"/><stop offset="0.727" stop-color="#0000f7"/><stop offset="0.740" stop-color="#0000b2"/><stop offset="0.749" stop-color="#000098"/><stop offset="0.778" stop-color="#000098"/><stop offset="0.791" stop-color="#0000aa"/><stop offset="0.800" stop-color="#0000bd"/><stop offset="0.807" stop-color="#0000ab"/><stop offset="0.816" stop-color="#0000f9"/><stop offset="0.874" stop-color="#000084"/><stop offset="0.887" stop-color="#0000b8"/><stop offset="0.903" stop-color="#0000da"/><stop offset="0.915" stop-color="#0000f9"/><stop offset="0.931" stop-color="#000080"/><stop offset="0.979" stop-color="#00008c"/><stop offset="0.998" stop-color="#000086"/></linearGradient><linearGradient id="s45"><stop offset="0.002" stop-color="#000080"/><stop offset="0.027" stop-color="#0000b6"/><stop offset="0.037" stop-color="#0000d4"/><stop offset="0.046" stop-color="#0000b1"/><stop offset="0.056" stop-color="#0000c8"/><stop offset="0.069" stop-color="#000086"/><stop offset="0.126" stop-color="#000084"/><stop offset="0.145" stop-color="#00008e"/><stop offset="0.158" stop-color="#0000ea"/><stop offset="0.181" stop-color="#000080"/><stop offset="0.206" stop-color="#0000ca"/><stop offset="0.222" stop-color="#000080"/><stop offset="0.232" stop-color="#00009c"/><stop offset="0.248" stop-color="#0000f8"/><stop offset="0.257" stop-color="#000090"/><stop offset="0.280" stop-color="#0000ad"/><stop offset="0.289" stop-color="#0000bb"/><stop offset="0.305" stop-color="#0000c7"/><stop offset="0.318" stop-color="#0000a4"/><stop offset="0.334" stop-color="#0000b9"/><stop offset="0.343" stop-color="#0000d7"/><stop offset="0.385" stop-color="#000085"/><stop offset="0.420" stop-color="#0000ac"/><stop offset="0.430" stop-color="#0003ff"/><stop offset="0.439" stop-color="#0000f0"/><stop offset="0.452" stop-color="#000095"/><stop offset="0.497" stop-color="#0000a0"/><stop offset="0.522" stop-color="#0000b5"/><stop offset="0.542" stop-color="#0000f3"/><stop offset="0.551" stop-color="#0000a4"/><stop offset="0.583" stop-color="#000086"/><stop offset="0.596" stop-color="#0000a0"/><stop offset="0.605" stop-color="#0000b9"/><stop offset="0.618" stop-color="#00008f"/><stop offset="0.634" stop-color="#0000e6"/><stop offset="0.647" stop-color="#000088"/><stop offset="0.669" stop-color="#00009b"/><stop offset="0.711" stop-color="#000087"/><stop offset="0.727" stop-color="#0000ef"/><stop offset="0.762" stop-color="#000080"/><stop offset="0.784" stop-color="#000098"/><stop offset="0.810" stop-color="#0000af"/><stop offset="0.819" stop-color="#0000ca"/><stop offset="0.829" stop-color="#0000c9"/><stop offset="0.845" stop-color="#0000d9"/><stop offset="0.858" stop-color="#000080"/><stop offset="0.887" stop-color="#0000ac"/><stop offset="0.896" stop-color="#000090"/><stop offset="0.909" stop-color="#0000fc"/><stop offset="0.919" stop-color="#0000cf"/><stop offset="0.931" stop-color="#00009d"/><stop offset="0.970" stop-color="#000097"/><stop offset="0.989" stop-color="#00008b"/><stop offset="0.998" stop-color="#0000af"/></linearGradient><linearGradient id="s46"><stop offset="0.002" stop-color="#000093"/><stop offset="0.014" stop-color="#0000c7"/><stop offset="0.027" stop-color="#0000a2"/><stop offset="0.037" stop-color="#0000aa"/><stop offset="0.046" stop-color="#00008a"/><stop offset="0.059" stop-color="#0000bc"/><stop offset="0.078" stop-color="#000080"/><stop offset="0.104" stop-color="#0000a6"/><stop offset="0.120" stop-color="#00009d"/><stop offset="0.145" stop-color="#000086"/><stop offset="0.158" stop-color="#0000d7"/><stop offset="0.174" stop-color="#000083"/><stop offset="0.200" stop-color="#0000bc"/><stop offset="0.209" stop-color="#0000a2"/><stop offset="0.222" stop-color="#0000c9"/><stop offset="0.232" stop-color="#00008f"/><stop offset="0.244" stop-color="#0000f4"/><stop offset="0.264" stop-color="#000097"/><stop offset="0.276" stop-color="#00008c"/><stop offset="0.289" stop-color="#0000ce"/><stop offset="0.312" stop-color="#0000ba"/><stop offset="0.324" stop-color="#00008b"/><stop offset="0.343" stop-color="#0000f1"/><stop offset="0.359" stop-color="#0000ad"/><stop offset="0.382" stop-color="#00008d"/><stop offset="0.391" stop-color="#00009b"/><stop offset="0.423" stop-color="#0000df"/><stop offset="0.433" stop-color="#000fff"/><stop offset="0.442" stop-color="#0000cd"/><stop offset="0.452" stop-color="#00008d"/><stop offset="0.497" stop-color="#000098"/><stop offset="0.522" stop-color="#00009b"/><stop offset="0.535" stop-color="#0000fe"/><stop offset="0.551" stop-color="#0000a1"/><stop offset="0.577" stop-color="#0000b6"/><stop offset="0.586" stop-color="#000090"/><stop offset="0.602" stop-color="#0000cf"/><stop offset="0.621" stop-color="#0000ad"/><stop offset="0.631" stop-color="#0000fc"/><stop offset="0.644" stop-color="#0000c1"/><stop offset="0.653" stop-color="#00008a"/><stop offset="0.676" stop-color="#000098"/><stop offset="0.688" stop-color="#0000ad"/><stop offset="0.698" stop-color="#000091"/><stop offset="0.717" stop-color="#0000a4"/><stop offset="0.730" stop-color="#0000f0"/><stop offset="0.759" stop-color="#000085"/><stop offset="0.788" stop-color="#0000a3"/><stop offset="0.797" stop-color="#0000ea"/><stop offset="0.819" stop-color="#00009c"/><stop offset="0.829" stop-color="#00009e"/><stop offset="0.839" stop-color="#0000e9"/><stop offset="0.858" stop-color="#00009b"/><stop offset="0.896" stop-color="#0000a3"/><stop offset="0.906" stop-color="#0000fe"/><stop offset="0.915" stop-color="#0000c5"/><stop offset="0.928" stop-color="#000092"/><stop offset="0.963" stop-color="#00008d"/><stop offset="0.973" stop-color="#0000b7"/><stop offset="0.992" stop-color="#000080"/><stop offset="0.998" stop-color="#000080"/></linearGradient><linearGradient id="s47"><stop offset="0.002" stop-color="#00009f"/><stop offset="0.014" stop-color="#0000f4"/><stop offset="0.027" stop-color="#0000a8"/><stop offset="0.046" stop-color="#0000b9"/><stop offset="0.056" stop-color="#0000ed"/><stop offset="0.072" stop-color="#00008b"/><stop offset="0.088" stop-color="#00009d"/><stop offset="0.097" stop-color="#000093"/><stop offset="0.107" stop-color="#0000db"/><stop offset="0.136" stop-color="#0000a2"/><stop offset="0.145" stop-color="#000090"/><stop offset="0.158" stop-color="#0000e9"/><stop offset="0.174" stop-color="#000091"/><stop offset="0.212" stop-color="#0000a3"/><stop offset="0.219" stop-color="#0000ce"/><stop offset="0.232" stop-color="#0000ab"/><stop offset="0.248" stop-color="#0004ff"/><stop offset="0.264" stop-color="#000083"/><stop offset="0.296" stop-color="#0000ca"/><stop offset="0.318" stop-color="#000080"/><stop offset="0.340" stop-color="#0000e7"/><stop offset="0.350" stop-color="#0000d3"/><stop offset="0.359" stop-color="#000087"/><stop offset="0.372" stop-color="#0000a6"/><stop offset="0.411" stop-color="#000098"/><stop offset="0.417" stop-color="#000093"/><stop offset="0.427" stop-color="#001bff"/><stop offset="0.433" stop-color="#0029ff"/><stop offset="0.446" stop-color="#0000c4"/><stop offset="0.462" stop-color="#000080"/><stop offset="0.487" stop-color="#00008c"/><stop offset="0.500" stop-color="#0000ab"/><stop offset="0.526" stop-color="#00009c"/><stop offset="0.538" stop-color="#0000e1"/><stop offset="0.561" stop-color="#000080"/><stop offset="0.580" stop-color="#0000b4"/><stop offset="0.609" stop-color="#0000df"/><stop offset="0.621" stop-color="#000088"/><stop offset="0.637" stop-color="#0002fd"/><stop offset="0.644" stop-color="#0000cc"/><stop offset="0.650" stop-color="#000081"/><stop offset="0.685" stop-color="#000098"/><stop offset="0.717" stop-color="#0000a0"/><stop offset="0.730" stop-color="#0004fe"/><stop offset="0.740" stop-color="#0000cc"/><stop offset="0.752" stop-color="#000083"/><stop offset="0.778" stop-color="#00008f"/><stop offset="0.797" stop-color="#0000b6"/><stop offset="0.810" stop-color="#0000c3"/><stop offset="0.819" stop-color="#0000f2"/><stop offset="0.832" stop-color="#0000c1"/><stop offset="0.851" stop-color="#0000dc"/><stop offset="0.861" stop-color="#0000c4"/><stop offset="0.871" stop-color="#0000ce"/><stop offset="0.887" stop-color="#000095"/><stop offset="0.903" stop-color="#0000cf"/><stop offset="0.912" stop-color="#0000f4"/><stop offset="0.928" stop-color="#0000a1"/><stop offset="0.963" stop-color="#0000a3"/><stop offset="0.979" stop-color="#0000c4"/><stop offset="0.998" stop-color="#000085"/></linearGradient><linearGradient id="s48"><stop offset="0.002" stop-color="#0000e2"/><stop offset="0.018" stop-color="#0000f3"/><stop offset="0.043" stop-color="#0000d6"/><stop offset="0.056" stop-color="#0036ff"/><stop offset="0.065" stop-color="#0000ed"/><stop offset="0.072" stop-color="#0000aa"/><stop offset="0.085" stop-color="#0000a1"/><stop offset="0.094" stop-color="#00009c"/><stop offset="0.104" stop-color="#0000fe"/><stop offset="0.139" stop-color="#0000d9"/><stop offset="0.149" stop-color="#001fff"/><stop offset="0.155" stop-color="#0052ff"/><stop offset="0.168" stop-color="#0000d6"/><stop offset="0.181" stop-color="#0000a6"/><stop offset="0.200" stop-color="#0000de"/><stop offset="0.209" stop-color="#0000ff"/><stop offset="0.228" stop-color="#0000d7"/><stop offset="0.238" stop-color="#001eff"/><stop offset="0.244" stop-color="#0068ff"/><stop offset="0.251" stop-color="#003bff"/><stop offset="0.257" stop-color="#0000dc"/><stop offset="0.264" stop-color="#0000a7"/><stop offset="0.286" stop-color="#0000a9"/><stop offset="0.302" stop-color="#0000eb"/><stop offset="0.315" stop-color="#0000ac"/><stop offset="0.331" stop-color="#0000c6"/><stop offset="0.337" stop-color="#0019ff"/><stop offset="0.343" stop-color="#0040ff"/><stop offset="0.350" stop-color="#0000fc"/><stop offset="0.359" stop-color="#000091"/><stop offset="0.382" stop-color="#0000b2"/><stop offset="0.391" stop-color="#0000a2"/><stop offset="0.404" stop-color="#0000dd"/><stop offset="0.417" stop-color="#0000e7"/><stop offset="0.423" stop-color="#0018ff"/><stop offset="0.433" stop-color="#008cff"/><stop offset="0.439" stop-color="#0056ff"/><stop offset="0.446" stop-color="#0000fb"/><stop offset="0.455" stop-color="#0000a6"/><stop offset="0.487" stop-color="#0000b1"/><stop offset="0.522" stop-color="#0000ec"/><stop offset="0.535" stop-color="#005aff"/><stop offset="0.548" stop-color="#0000e7"/><stop offset="0.567" stop-color="#0000a5"/><stop offset="0.586" stop-color="#0000d3"/><stop offset="0.609" stop-color="#0001f6"/><stop offset="0.621" stop-color="#00009c"/><stop offset="0.631" stop-color="#0013ff"/><stop offset="0.637" stop-color="#0044ff"/><stop offset="0.647" stop-color="#0000fa"/><stop offset="0.657" stop-color="#0000a6"/><stop offset="0.676" stop-color="#0000aa"/><stop offset="0.711" stop-color="#00008d"/><stop offset="0.714" stop-color="#0000a1"/><stop offset="0.720" stop-color="#0018ff"/><stop offset="0.727" stop-color="#0061ff"/><stop offset="0.733" stop-color="#0058ff"/><stop offset="0.740" stop-color="#0000fc"/><stop offset="0.746" stop-color="#000096"/><stop offset="0.788" stop-color="#0000cb"/><stop offset="0.797" stop-color="#001aff"/><stop offset="0.816" stop-color="#0064ff"/><stop offset="0.826" stop-color="#0000f8"/><stop offset="0.835" stop-color="#0000d1"/><stop offset="0.845" stop-color="#0000ee"/><stop offset="0.864" stop-color="#0000bd"/><stop offset="0.874" stop-color="#0000a7"/><stop offset="0.887" stop-color="#000088"/><stop offset="0.896" stop-color="#000099"/><stop offset="0.903" stop-color="#0001f5"/><stop offset="0.912" stop-color="#0065ff"/><stop offset="0.919" stop-color="#0044ff"/><stop offset="0.925" stop-color="#0000ee"/><stop offset="0.938" stop-color="#0000b7"/><stop offset="0.957" stop-color="#0000b3"/><stop offset="0.970" stop-color="#00009a"/><stop offset="0.995" stop-color="#0000cb"/><stop offset="0.998" stop-color="#0000bb"/></linearGradient><linearGradient id="s49"><stop offset="0.002" stop-color="#0000a3"/><stop offset="0.018" stop-color="#0000ce"/><stop offset="0.040" stop-color="#0000a1"/><stop offset="0.053" stop-color="#0006fc"/><stop offset="0.069" stop-color="#0000ac"/><stop offset="0.091" stop-color="#000098"/><stop offset="0.117" stop-color="#0000d3"/><stop offset="0.126" stop-color="#0000a8"/><stop offset="0.149" stop-color="#0011ff"/><stop offset="0.155" stop-color="#002cff"/><stop offset="0.168" stop-color="#0000c5"/><stop offset="0.190" stop-color="#0000ca"/><stop offset="0.200" stop-color="#000096"/><stop offset="0.228" stop-color="#0000c8"/><stop offset="0.235" stop-color="#0000bf"/><stop offset="0.248" stop-color="#0012ff"/><stop offset="0.257" stop-color="#0000dd"/><stop offset="0.267" stop-color="#000097"/><stop offset="0.292" stop-color="#0000a2"/><stop offset="0.308" stop-color="#0000b3"/><stop offset="0.327" stop-color="#0000a9"/><stop offset="0.347" stop-color="#0003e8"/><stop offset="0.372" stop-color="#000083"/><stop offset="0.391" stop-color="#0000a7"/><stop offset="0.411" stop-color="#0000af"/><stop offset="0.420" stop-color="#0000d3"/><stop offset="0.427" stop-color="#0012ff"/><stop offset="0.433" stop-color="#003eff"/><stop offset="0.442" stop-color="#0000e2"/><stop offset="0.458" stop-color="#00008c"/><stop offset="0.497" stop-color="#0000df"/><stop offset="0.510" stop-color="#0000aa"/><stop offset="0.529" stop-color="#000cee"/><stop offset="0.538" stop-color="#0028ff"/><stop offset="0.558" stop-color="#0000b1"/><stop offset="0.586" stop-color="#0000a7"/><stop offset="0.609" stop-color="#0000e6"/><stop offset="0.621" stop-color="#00009b"/><stop offset="0.634" stop-color="#0011e9"/><stop offset="0.666" stop-color="#0000a1"/><stop offset="0.676" stop-color="#0000da"/><stop offset="0.698" stop-color="#000094"/><stop offset="0.717" stop-color="#0000bd"/><stop offset="0.727" stop-color="#0031ff"/><stop offset="0.733" stop-color="#0039ff"/><stop offset="0.740" stop-color="#0000e1"/><stop offset="0.746" stop-color="#0000ad"/><stop offset="0.788" stop-color="#0000ab"/><stop offset="0.807" stop-color="#000bff"/><stop offset="0.819" stop-color="#0017ff"/><stop offset="0.835" stop-color="#0000ba"/><stop offset="0.845" stop-color="#0000c5"/><stop offset="0.858" stop-color="#000080"/><stop offset="0.877" stop-color="#0000a5"/><stop offset="0.887" stop-color="#0000a3"/><stop offset="0.906" stop-color="#000efa"/><stop offset="0.915" stop-color="#0020ff"/><stop offset="0.935" stop-color="#0000ae"/><stop offset="0.973" stop-color="#0000a4"/><stop offset="0.986" stop-color="#00009a"/><stop offset="0.998" stop-color="#0000aa"/></linearGradient><linearGradient id="s50"><stop offset="0.002" stop-color="#00009f"/><stop offset="0.021" stop-color="#0000ca"/><stop offset="0.040" stop-color="#0000af"/><stop offset="0.056" stop-color="#0013ff"/><stop offset="0.078" stop-color="#00009b"/><stop offset="0.120" stop-color="#0000c0"/><stop offset="0.129" stop-color="#0000a1"/><stop offset="0.149" stop-color="#0000d2"/><stop offset="0.155" stop-color="#0004ff"/><stop offset="0.177" stop-color="#00009e"/><stop offset="0.196" stop-color="#00009d"/><stop offset="0.206" stop-color="#0000da"/><stop offset="0.232" stop-color="#000095"/><stop offset="0.244" stop-color="#0001ff"/><stop offset="0.251" stop-color="#0000ff"/><stop offset="0.260" stop-color="#000094"/><stop offset="0.283" stop-color="#000091"/><stop offset="0.305" stop-color="#0000b7"/><stop offset="0.331" stop-color="#0000c2"/><stop offset="0.347" stop-color="#001bfa"/><stop offset="0.366" stop-color="#00009a"/><stop offset="0.388" stop-color="#0000aa"/><stop offset="0.407" stop-color="#0000dd"/><stop offset="0.417" stop-color="#0000c6"/><stop offset="0.427" stop-color="#0016ff"/><stop offset="0.433" stop-color="#0061ff"/><stop offset="0.446" stop-color="#0000d8"/><stop offset="0.458" stop-color="#000095"/><stop offset="0.471" stop-color="#0000ab"/><stop offset="0.481" stop-color="#000080"/><stop offset="0.497" stop-color="#0000f5"/><stop offset="0.513" stop-color="#0000b2"/><stop offset="0.522" stop-color="#000093"/><stop offset="0.535" stop-color="#0017ff"/><stop offset="0.548" stop-color="#0000e4"/><stop offset="0.554" stop-color="#000090"/><stop offset="0.586" stop-color="#0000b2"/><stop offset="0.605" stop-color="#0000c8"/><stop offset="0.615" stop-color="#000088"/><stop offset="0.637" stop-color="#0000ea"/><stop offset="0.669" stop-color="#0000a3"/><stop offset="0.682" stop-color="#000093"/><stop offset="0.692" stop-color="#000087"/><stop offset="0.701" stop-color="#0000b2"/><stop offset="0.714" stop-color="#000098"/><stop offset="0.724" stop-color="#0015ff"/><stop offset="0.736" stop-color="#0000e8"/><stop offset="0.746" stop-color="#0000c0"/><stop offset="0.759" stop-color="#0000ba"/><stop offset="0.775" stop-color="#000098"/><stop offset="0.823" stop-color="#0000fc"/><stop offset="0.835" stop-color="#0000bb"/><stop offset="0.848" stop-color="#0000c8"/><stop offset="0.858" stop-color="#0000a0"/><stop offset="0.880" stop-color="#00008f"/><stop offset="0.890" stop-color="#00008c"/><stop offset="0.906" stop-color="#000dff"/><stop offset="0.925" stop-color="#0000e9"/><stop offset="0.935" stop-color="#000080"/><stop offset="0.947" stop-color="#0000b1"/><stop offset="0.966" stop-color="#0000ab"/><stop offset="0.976" stop-color="#000080"/><stop offset="0.998" stop-color="#000095"/></linearGradient><linearGradient id="s51"><stop offset="0.002" stop-color="#0000dd"/><stop offset="0.018" stop-color="#0000fd"/><stop offset="0.037" stop-color="#0000dc"/><stop offset="0.046" stop-color="#0017ff"/><stop offset="0.056" stop-color="#0060ff"/><stop offset="0.069" stop-color="#0000ee"/><stop offset="0.088" stop-color="#0000b2"/><stop offset="0.107" stop-color="#0000d0"/><stop offset="0.120" stop-color="#0000e5"/><stop offset="0.133" stop-color="#0000b2"/><stop offset="0.145" stop-color="#0000c9"/><stop offset="0.152" stop-color="#0023ff"/><stop offset="0.158" stop-color="#005bff"/><stop offset="0.168" stop-color="#0000fb"/><stop offset="0.187" stop-color="#0000b2"/><stop offset="0.196" stop-color="#0000be"/><stop offset="0.206" stop-color="#0008ff"/><stop offset="0.216" stop-color="#0000fa"/><stop offset="0.225" stop-color="#00009b"/><stop offset="0.232" stop-color="#0000bd"/><stop offset="0.238" stop-color="#000bff"/><stop offset="0.248" stop-color="#0022ff"/><stop offset="0.260" stop-color="#0000b3"/><stop offset="0.280" stop-color="#0000a1"/><stop offset="0.299" stop-color="#0000f7"/><stop offset="0.318" stop-color="#0000c1"/><stop offset="0.334" stop-color="#0003ff"/><stop offset="0.343" stop-color="#0050ff"/><stop offset="0.356" stop-color="#0000f2"/><stop offset="0.372" stop-color="#00008c"/><stop offset="0.391" stop-color="#0000df"/><stop offset="0.411" stop-color="#0000f4"/><stop offset="0.423" stop-color="#0010ff"/><stop offset="0.433" stop-color="#00a4ff"/><stop offset="0.439" stop-color="#005dff"/><stop offset="0.446" stop-color="#0000f7"/><stop offset="0.458" stop-color="#0000b2"/><stop offset="0.474" stop-color="#0000c2"/><stop offset="0.484" stop-color="#0000b3"/><stop offset="0.497" stop-color="#0000f8"/><stop offset="0.510" stop-color="#0000f5"/><stop offset="0.522" stop-color="#0000c4"/><stop offset="0.532" stop-color="#000dff"/><stop offset="0.538" stop-color="#005cff"/><stop offset="0.545" stop-color="#003aff"/><stop offset="0.551" stop-color="#0000c7"/><stop offset="0.558" stop-color="#00009f"/><stop offset="0.570" stop-color="#0000c7"/><stop offset="0.593" stop-color="#0000bc"/><stop offset="0.605" stop-color="#0005ff"/><stop offset="0.621" stop-color="#0000ab"/><stop offset="0.631" stop-color="#0017ff"/><stop offset="0.637" stop-color="#0031ff"/><stop offset="0.650" stop-color="#0000d9"/><stop offset="0.669" stop-color="#000086"/><stop offset="0.695" stop-color="#0000c9"/><stop offset="0.701" stop-color="#0000ec"/><stop offset="0.714" stop-color="#0000cd"/><stop offset="0.720" stop-color="#0023ff"/><stop offset="0.727" stop-color="#0084ff"/><stop offset="0.733" stop-color="#0044ff"/><stop offset="0.736" stop-color="#0005ff"/><stop offset="0.743" stop-color="#0000b4"/><stop offset="0.762" stop-color="#0000c7"/><stop offset="0.784" stop-color="#0000b7"/><stop offset="0.804" stop-color="#0000ff"/><stop offset="0.816" stop-color="#0052ff"/><stop offset="0.832" stop-color="#0000f5"/><stop offset="0.851" stop-color="#0000dd"/><stop offset="0.861" stop-color="#000095"/><stop offset="0.874" stop-color="#0000b3"/><stop offset="0.883" stop-color="#00008b"/><stop offset="0.899" stop-color="#0000ed"/><stop offset="0.909" stop-color="#0067ff"/><stop offset="0.925" stop-color="#0000fd"/><stop offset="0.938" stop-color="#0000ad"/><stop offset="0.950" stop-color="#0000ae"/><stop offset="0.963" stop-color="#0000db"/><stop offset="0.979" stop-color="#000091"/><stop offset="0.998" stop-color="#0000c5"/></linearGradient><linearGradient id="s52"><stop offset="0.002" stop-color="#000083"/><stop offset="0.014" stop-color="#0000e4"/><stop offset="0.030" stop-color="#00008a"/><stop offset="0.050" stop-color="#0009f8"/><stop offset="0.069" stop-color="#0000c4"/><stop offset="0.094" stop-color="#00009a"/><stop offset="0.120" stop-color="#0000cc"/><stop offset="0.142" stop-color="#00009b"/><stop offset="0.152" stop-color="#0000ff"/><stop offset="0.171" stop-color="#0000b4"/><stop offset="0.181" stop-color="#0000c0"/><stop offset="0.193" stop-color="#000085"/><stop offset="0.209" stop-color="#0000ed"/><stop offset="0.228" stop-color="#00009b"/><stop offset="0.241" stop-color="#0000ed"/><stop offset="0.254" stop-color="#0000dc"/><stop offset="0.267" stop-color="#000082"/><stop offset="0.286" stop-color="#0000a8"/><stop offset="0.305" stop-color="#0000c4"/><stop offset="0.327" stop-color="#0000a3"/><stop offset="0.337" stop-color="#0007fc"/><stop offset="0.356" stop-color="#0000f4"/><stop offset="0.375" stop-color="#00008b"/><stop offset="0.401" stop-color="#0000d0"/><stop offset="0.420" stop-color="#0000e5"/><stop offset="0.423" stop-color="#0003ff"/><stop offset="0.430" stop-color="#005aff"/><stop offset="0.436" stop-color="#0045ff"/><stop offset="0.442" stop-color="#0000d9"/><stop offset="0.449" stop-color="#00009c"/><stop offset="0.471" stop-color="#000095"/><stop offset="0.497" stop-color="#0000ac"/><stop offset="0.526" stop-color="#0000bf"/><stop offset="0.535" stop-color="#0002ed"/><stop offset="0.551" stop-color="#000084"/><stop offset="0.570" stop-color="#0000a0"/><stop offset="0.596" stop-color="#000095"/><stop offset="0.605" stop-color="#0000e7"/><stop offset="0.618" stop-color="#0000b0"/><stop offset="0.637" stop-color="#0000fb"/><stop offset="0.653" stop-color="#00008d"/><stop offset="0.679" stop-color="#00008b"/><stop offset="0.714" stop-color="#0000c8"/><stop offset="0.724" stop-color="#0019ff"/><stop offset="0.775" stop-color="#0000ab"/><stop offset="0.804" stop-color="#0000de"/><stop offset="0.819" stop-color="#0010ff"/><stop offset="0.832" stop-color="#000095"/><stop offset="0.845" stop-color="#0000d8"/><stop offset="0.861" stop-color="#00008c"/><stop offset="0.899" stop-color="#0000cd"/><stop offset="0.909" stop-color="#0020ff"/><stop offset="0.925" stop-color="#0000de"/><stop offset="0.950" stop-color="#000099"/><stop offset="0.995" stop-color="#000090"/><stop offset="0.998" stop-color="#000085"/></linearGradient><linearGradient id="s53"><stop offset="0.002" stop-color="#0000ac"/><stop offset="0.021" stop-color="#0000ab"/><stop offset="0.034" stop-color="#000095"/><stop offset="0.056" stop-color="#0000f0"/><stop offset="0.072" stop-color="#00009e"/><stop offset="0.085" stop-color="#0000b9"/><stop offset="0.097" stop-color="#0000a1"/><stop offset="0.113" stop-color="#0000ae"/><stop offset="0.123" stop-color="#00008e"/><stop offset="0.133" stop-color="#0000ad"/><stop offset="0.145" stop-color="#00009a"/><stop offset="0.161" stop-color="#0000b7"/><stop offset="0.174" stop-color="#0000b1"/><stop offset="0.187" stop-color="#0000cc"/><stop offset="0.200" stop-color="#0000a6"/><stop offset="0.212" stop-color="#0000e0"/><stop offset="0.238" stop-color="#0000cf"/><stop offset="0.248" stop-color="#0001f7"/><stop offset="0.260" stop-color="#000085"/><stop offset="0.280" stop-color="#000095"/><stop offset="0.312" stop-color="#0000a8"/><stop offset="0.331" stop-color="#00009b"/><stop offset="0.347" stop-color="#0000ea"/><stop offset="0.366" stop-color="#000095"/><stop offset="0.391" stop-color="#0000a0"/><stop offset="0.401" stop-color="#000087"/><stop offset="0.420" stop-color="#0000ce"/><stop offset="0.427" stop-color="#0011ff"/><stop offset="0.433" stop-color="#003bff"/><stop offset="0.442" stop-color="#0000e2"/><stop offset="0.452" stop-color="#00009b"/><stop offset="0.468" stop-color="#0000cc"/><stop offset="0.481" stop-color="#0000c0"/><stop offset="0.532" stop-color="#0000ba"/><stop offset="0.564" stop-color="#0000b9"/><stop offset="0.589" stop-color="#0000b2"/><stop offset="0.625" stop-color="#0000a0"/><stop offset="0.637" stop-color="#0000f3"/><stop offset="0.653" stop-color="#000091"/><stop offset="0.688" stop-color="#000092"/><stop offset="0.711" stop-color="#0000b2"/><stop offset="0.730" stop-color="#0000f6"/><stop offset="0.746" stop-color="#000092"/><stop offset="0.775" stop-color="#0000d0"/><stop offset="0.788" stop-color="#00008d"/><stop offset="0.804" stop-color="#0000a5"/><stop offset="0.816" stop-color="#0000e0"/><stop offset="0.832" stop-color="#0000d6"/><stop offset="0.848" stop-color="#0000dc"/><stop offset="0.858" stop-color="#0000a6"/><stop offset="0.867" stop-color="#0000be"/><stop offset="0.883" stop-color="#000098"/><stop offset="0.896" stop-color="#0000b2"/><stop offset="0.906" stop-color="#0000ff"/><stop offset="0.919" stop-color="#0000ff"/><stop offset="0.928" stop-color="#0000c8"/><stop offset="0.954" stop-color="#00009c"/><stop offset="0.973" stop-color="#00008e"/><stop offset="0.995" stop-color="#000093"/><stop offset="0.998" stop-color="#000092"/></linearGradient><linearGradient id="s54"><stop offset="0.002" stop-color="#0000e1"/><stop offset="0.021" stop-color="#0000c4"/><stop offset="0.040" stop-color="#0000a6"/><stop offset="0.056" stop-color="#0008ff"/><stop offset="0.069" stop-color="#0000c8"/><stop offset="0.078" stop-color="#000094"/><stop offset="0.139" stop-color="#0000b0"/><stop offset="0.158" stop-color="#0000f0"/><stop offset="0.171" stop-color="#0000b9"/><stop offset="0.193" stop-color="#0000ba"/><stop offset="0.206" stop-color="#0000df"/><stop offset="0.235" stop-color="#0000b9"/><stop offset="0.244" stop-color="#0001ff"/><stop offset="0.254" stop-color="#0000e5"/><stop offset="0.264" stop-color="#00008d"/><stop offset="0.280" stop-color="#0000a3"/><stop offset="0.292" stop-color="#0000a0"/><stop offset="0.302" stop-color="#0000e4"/><stop offset="0.315" stop-color="#0000ab"/><stop offset="0.337" stop-color="#0000c9"/><stop offset="0.347" stop-color="#0001ff"/><stop offset="0.363" stop-color="#00008e"/><stop offset="0.391" stop-color="#00009e"/><stop offset="0.427" stop-color="#0007ff"/><stop offset="0.436" stop-color="#0034ff"/><stop offset="0.442" stop-color="#0000f5"/><stop offset="0.452" stop-color="#000080"/><stop offset="0.471" stop-color="#0000c7"/><stop offset="0.484" stop-color="#0000a3"/><stop offset="0.500" stop-color="#0000cd"/><stop offset="0.513" stop-color="#0000a8"/><stop offset="0.545" stop-color="#0000f1"/><stop offset="0.573" stop-color="#00008a"/><stop offset="0.586" stop-color="#0000c2"/><stop offset="0.596" stop-color="#0000c6"/><stop offset="0.605" stop-color="#0000dd"/><stop offset="0.615" stop-color="#00009d"/><stop offset="0.637" stop-color="#0000f8"/><stop offset="0.657" stop-color="#000080"/><stop offset="0.692" stop-color="#0000a5"/><stop offset="0.711" stop-color="#00009c"/><stop offset="0.727" stop-color="#0007ff"/><stop offset="0.733" stop-color="#0000cb"/><stop offset="0.740" stop-color="#000080"/><stop offset="0.791" stop-color="#0000b7"/><stop offset="0.804" stop-color="#0000e3"/><stop offset="0.819" stop-color="#0000ff"/><stop offset="0.832" stop-color="#0000f1"/><stop offset="0.848" stop-color="#0041ff"/><stop offset="0.858" stop-color="#0000f0"/><stop offset="0.867" stop-color="#0000a8"/><stop offset="0.896" stop-color="#0000a7"/><stop offset="0.906" stop-color="#000aff"/><stop offset="0.912" stop-color="#002eff"/><stop offset="0.919" stop-color="#0001fb"/><stop offset="0.925" stop-color="#0000c3"/><stop offset="0.935" stop-color="#0000dc"/><stop offset="0.950" stop-color="#000095"/><stop offset="0.979" stop-color="#000095"/><stop offset="0.989" stop-color="#0000c7"/><stop offset="0.998" stop-color="#00009b"/></linearGradient><linearGradient id="s55"><stop offset="0.002" stop-color="#0000ea"/><stop offset="0.021" stop-color="#0000e2"/><stop offset="0.043" stop-color="#000097"/><stop offset="0.056" stop-color="#0003ff"/><stop offset="0.075" stop-color="#000082"/><stop offset="0.101" stop-color="#00009c"/><stop offset="0.120" stop-color="#0000d3"/><stop offset="0.136" stop-color="#0000a2"/><stop offset="0.155" stop-color="#0000ff"/><stop offset="0.165" stop-color="#0000cf"/><stop offset="0.174" stop-color="#000093"/><stop offset="0.200" stop-color="#0000c8"/><stop offset="0.219" stop-color="#0000d7"/><stop offset="0.232" stop-color="#0000b4"/><stop offset="0.251" stop-color="#0000f6"/><stop offset="0.276" stop-color="#00008a"/><stop offset="0.299" stop-color="#0000d1"/><stop offset="0.308" stop-color="#0000c5"/><stop offset="0.318" stop-color="#000085"/><stop offset="0.334" stop-color="#0000cb"/><stop offset="0.343" stop-color="#0009ff"/><stop offset="0.350" stop-color="#0000e1"/><stop offset="0.356" stop-color="#00008d"/><stop offset="0.388" stop-color="#000090"/><stop offset="0.401" stop-color="#0000c2"/><stop offset="0.420" stop-color="#0000e1"/><stop offset="0.423" stop-color="#0004ff"/><stop offset="0.433" stop-color="#0080ff"/><stop offset="0.439" stop-color="#0050ff"/><stop offset="0.446" stop-color="#0000ec"/><stop offset="0.452" stop-color="#00008a"/><stop offset="0.468" stop-color="#000089"/><stop offset="0.487" stop-color="#0000bb"/><stop offset="0.497" stop-color="#0000d5"/><stop offset="0.513" stop-color="#0000a6"/><stop offset="0.538" stop-color="#0003fd"/><stop offset="0.558" stop-color="#000097"/><stop offset="0.570" stop-color="#0000af"/><stop offset="0.580" stop-color="#0000a2"/><stop offset="0.589" stop-color="#0000c8"/><stop offset="0.612" stop-color="#0000d1"/><stop offset="0.621" stop-color="#0000a1"/><stop offset="0.631" stop-color="#0018ff"/><stop offset="0.637" stop-color="#001cff"/><stop offset="0.650" stop-color="#0000aa"/><stop offset="0.676" stop-color="#00009c"/><stop offset="0.685" stop-color="#0000ab"/><stop offset="0.704" stop-color="#00009a"/><stop offset="0.724" stop-color="#0018ff"/><stop offset="0.730" stop-color="#001bff"/><stop offset="0.733" stop-color="#0000f2"/><stop offset="0.740" stop-color="#000080"/><stop offset="0.768" stop-color="#00009a"/><stop offset="0.788" stop-color="#0000b5"/><stop offset="0.800" stop-color="#0000f0"/><stop offset="0.835" stop-color="#0012ff"/><stop offset="0.845" stop-color="#0066ff"/><stop offset="0.851" stop-color="#0046ff"/><stop offset="0.858" stop-color="#0000e8"/><stop offset="0.867" stop-color="#00008e"/><stop offset="0.880" stop-color="#000095"/><stop offset="0.893" stop-color="#0000c3"/><stop offset="0.899" stop-color="#0000c0"/><stop offset="0.909" stop-color="#001aff"/><stop offset="0.919" stop-color="#0000e5"/><stop offset="0.925" stop-color="#00009e"/><stop offset="0.938" stop-color="#0000a1"/><stop offset="0.979" stop-color="#00008d"/><stop offset="0.989" stop-color="#0000bb"/><stop offset="0.998" stop-color="#0000b4"/></linearGradient><linearGradient id="s56"><stop offset="0.002" stop-color="#0000e0"/><stop offset="0.014" stop-color="#0000f8"/><stop offset="0.024" stop-color="#0000a3"/><stop offset="0.046" stop-color="#0000cc"/><stop offset="0.056" stop-color="#0000e8"/><stop offset="0.081" stop-color="#0000a8"/><stop offset="0.094" stop-color="#000080"/><stop offset="0.120" stop-color="#0000b3"/><stop offset="0.129" stop-color="#000080"/><stop offset="0.139" stop-color="#00008c"/><stop offset="0.152" stop-color="#0000f6"/><stop offset="0.161" stop-color="#0000c1"/><stop offset="0.168" stop-color="#000080"/><stop offset="0.181" stop-color="#00009d"/><stop offset="0.200" stop-color="#0000c6"/><stop offset="0.235" stop-color="#0000af"/><stop offset="0.248" stop-color="#0000fa"/><stop offset="0.270" stop-color="#000080"/><stop offset="0.289" stop-color="#0000a3"/><stop offset="0.302" stop-color="#0000de"/><stop offset="0.321" stop-color="#000092"/><stop offset="0.334" stop-color="#0000a3"/><stop offset="0.340" stop-color="#0000f8"/><stop offset="0.350" stop-color="#0000e2"/><stop offset="0.359" stop-color="#00008f"/><stop offset="0.375" stop-color="#0000cd"/><stop offset="0.388" stop-color="#00009a"/><stop offset="0.404" stop-color="#0000cd"/><stop offset="0.414" stop-color="#0000cd"/><stop offset="0.420" stop-color="#0004ff"/><stop offset="0.433" stop-color="#0098ff"/><stop offset="0.446" stop-color="#0000fd"/><stop offset="0.462" stop-color="#00009b"/><stop offset="0.487" stop-color="#0000a9"/><stop offset="0.500" stop-color="#0000f5"/><stop offset="0.516" stop-color="#0000a3"/><stop offset="0.542" stop-color="#0000f4"/><stop offset="0.561" stop-color="#00009c"/><stop offset="0.605" stop-color="#000097"/><stop offset="0.621" stop-color="#000097"/><stop offset="0.634" stop-color="#0000ea"/><stop offset="0.657" stop-color="#0000a0"/><stop offset="0.698" stop-color="#00008d"/><stop offset="0.717" stop-color="#0000d4"/><stop offset="0.730" stop-color="#000dff"/><stop offset="0.762" stop-color="#000080"/><stop offset="0.797" stop-color="#0000c0"/><stop offset="0.810" stop-color="#0000cf"/><stop offset="0.823" stop-color="#0004eb"/><stop offset="0.835" stop-color="#0000f0"/><stop offset="0.848" stop-color="#001eff"/><stop offset="0.858" stop-color="#0000e2"/><stop offset="0.871" stop-color="#000096"/><stop offset="0.890" stop-color="#0000bd"/><stop offset="0.906" stop-color="#0000de"/><stop offset="0.919" stop-color="#0000f4"/><stop offset="0.938" stop-color="#000098"/><stop offset="0.957" stop-color="#000093"/><stop offset="0.979" stop-color="#00009e"/><stop offset="0.998" stop-color="#0000c4"/></linearGradient><linearGradient id="s57"><stop offset="0.002" stop-color="#00009d"/><stop offset="0.018" stop-color="#0000b4"/><stop offset="0.027" stop-color="#0000a5"/><stop offset="0.043" stop-color="#0000e1"/><stop offset="0.078" stop-color="#0000ad"/><stop offset="0.091" stop-color="#000080"/><stop offset="0.113" stop-color="#0000cc"/><stop offset="0.139" stop-color="#0000b8"/><stop offset="0.161" stop-color="#0000ec"/><stop offset="0.184" stop-color="#0000a4"/><stop offset="0.200" stop-color="#0000b7"/><stop offset="0.209" stop-color="#0000d3"/><stop offset="0.232" stop-color="#000095"/><stop offset="0.244" stop-color="#0000f9"/><stop offset="0.260" stop-color="#0000a4"/><stop offset="0.292" stop-color="#00009c"/><stop offset="0.302" stop-color="#0000c5"/><stop offset="0.312" stop-color="#0000a8"/><stop offset="0.334" stop-color="#0000bc"/><stop offset="0.343" stop-color="#0002f2"/><stop offset="0.359" stop-color="#00008e"/><stop offset="0.372" stop-color="#0000c2"/><stop offset="0.385" stop-color="#000081"/><stop offset="0.417" stop-color="#0000d4"/><stop offset="0.423" stop-color="#0010ff"/><stop offset="0.433" stop-color="#0084ff"/><stop offset="0.446" stop-color="#0000e7"/><stop offset="0.462" stop-color="#0000a5"/><stop offset="0.478" stop-color="#0000b2"/><stop offset="0.494" stop-color="#00008f"/><stop offset="0.503" stop-color="#0000bf"/><stop offset="0.519" stop-color="#0000a2"/><stop offset="0.542" stop-color="#0000e4"/><stop offset="0.554" stop-color="#0000af"/><stop offset="0.593" stop-color="#000097"/><stop offset="0.637" stop-color="#0000dd"/><stop offset="0.663" stop-color="#00009f"/><stop offset="0.676" stop-color="#0000c2"/><stop offset="0.714" stop-color="#00008c"/><stop offset="0.733" stop-color="#0000f7"/><stop offset="0.759" stop-color="#000089"/><stop offset="0.794" stop-color="#0000b8"/><stop offset="0.816" stop-color="#0001ff"/><stop offset="0.826" stop-color="#0000b8"/><stop offset="0.835" stop-color="#0016fc"/><stop offset="0.845" stop-color="#006cff"/><stop offset="0.855" stop-color="#0036ff"/><stop offset="0.864" stop-color="#0000c4"/><stop offset="0.887" stop-color="#00008e"/><stop offset="0.896" stop-color="#00009f"/><stop offset="0.906" stop-color="#0009ff"/><stop offset="0.919" stop-color="#0000f0"/><stop offset="0.928" stop-color="#0000ad"/><stop offset="0.938" stop-color="#0000e5"/><stop offset="0.954" stop-color="#0000ac"/><stop offset="0.979" stop-color="#000098"/><stop offset="0.989" stop-color="#0000d1"/><stop offset="0.998" stop-color="#0000ad"/></linearGradient><linearGradient id="s58"><stop offset="0.002" stop-color="#000098"/><stop offset="0.037" stop-color="#0000d5"/><stop offset="0.050" stop-color="#0000d1"/><stop offset="0.062" stop-color="#0000f4"/><stop offset="0.075" stop-color="#000090"/><stop offset="0.094" stop-color="#00008d"/><stop offset="0.113" stop-color="#0000e3"/><stop offset="0.129" stop-color="#0000ac"/><stop offset="0.145" stop-color="#0000da"/><stop offset="0.155" stop-color="#0001ff"/><stop offset="0.174" stop-color="#000099"/><stop offset="0.196" stop-color="#00009b"/><stop offset="0.209" stop-color="#0000be"/><stop offset="0.222" stop-color="#0000a0"/><stop offset="0.235" stop-color="#0000c9"/><stop offset="0.248" stop-color="#0000f2"/><stop offset="0.273" stop-color="#0000b1"/><stop offset="0.292" stop-color="#0000bb"/><stop offset="0.318" stop-color="#0000a1"/><stop offset="0.331" stop-color="#0000b3"/><stop offset="0.343" stop-color="#0002f7"/><stop offset="0.363" stop-color="#00009d"/><stop offset="0.372" stop-color="#0000b9"/><stop offset="0.385" stop-color="#000096"/><stop offset="0.417" stop-color="#0000d8"/><stop offset="0.420" stop-color="#0001ff"/><stop offset="0.430" stop-color="#0bcff0"/><stop offset="0.436" stop-color="#04c4f7"/><stop offset="0.446" stop-color="#0013ff"/><stop offset="0.462" stop-color="#0000ae"/><stop offset="0.474" stop-color="#0000b0"/><stop offset="0.490" stop-color="#0000a4"/><stop offset="0.500" stop-color="#0000e1"/><stop offset="0.513" stop-color="#000081"/><stop offset="0.529" stop-color="#0000d1"/><stop offset="0.542" stop-color="#0000ff"/><stop offset="0.558" stop-color="#0000a3"/><stop offset="0.573" stop-color="#0000b3"/><stop offset="0.586" stop-color="#0000b2"/><stop offset="0.625" stop-color="#0000d3"/><stop offset="0.641" stop-color="#0012ff"/><stop offset="0.650" stop-color="#0000e1"/><stop offset="0.660" stop-color="#00008c"/><stop offset="0.676" stop-color="#0000bc"/><stop offset="0.698" stop-color="#00009b"/><stop offset="0.717" stop-color="#0000cd"/><stop offset="0.733" stop-color="#0003ff"/><stop offset="0.749" stop-color="#0000af"/><stop offset="0.781" stop-color="#0000bb"/><stop offset="0.791" stop-color="#0000b0"/><stop offset="0.800" stop-color="#0000d3"/><stop offset="0.810" stop-color="#0000eb"/><stop offset="0.829" stop-color="#0013ff"/><stop offset="0.842" stop-color="#10f7e7"/><stop offset="0.848" stop-color="#0ef4e8"/><stop offset="0.864" stop-color="#000cff"/><stop offset="0.883" stop-color="#0000a1"/><stop offset="0.896" stop-color="#0000a4"/><stop offset="0.906" stop-color="#0019ff"/><stop offset="0.912" stop-color="#0051ff"/><stop offset="0.922" stop-color="#0000f7"/><stop offset="0.928" stop-color="#0000bf"/><stop offset="0.938" stop-color="#0000c2"/><stop offset="0.950" stop-color="#00008d"/><stop offset="0.979" stop-color="#00009e"/><stop offset="0.989" stop-color="#0000d3"/><stop offset="0.998" stop-color="#0000c4"/></linearGradient><linearGradient id="s59"><stop offset="0.002" stop-color="#0000b0"/><stop offset="0.021" stop-color="#0000de"/><stop offset="0.046" stop-color="#0000dd"/><stop offset="0.059" stop-color="#0000f0"/><stop offset="0.075" stop-color="#00009c"/><stop offset="0.091" stop-color="#0000ae"/><stop offset="0.104" stop-color="#0000e8"/><stop offset="0.120" stop-color="#0000c7"/><stop offset="0.129" stop-color="#000094"/><stop offset="0.149" stop-color="#0000e6"/><stop offset="0.165" stop-color="#0000ff"/><stop offset="0.187" stop-color="#000096"/><stop offset="0.203" stop-color="#0000b2"/><stop offset="0.228" stop-color="#0000cb"/><stop offset="0.241" stop-color="#0000ea"/><stop offset="0.264" stop-color="#0000d6"/><stop offset="0.286" stop-color="#0000bd"/><stop offset="0.302" stop-color="#0000bc"/><stop offset="0.315" stop-color="#0000ae"/><stop offset="0.331" stop-color="#0000ac"/><stop offset="0.343" stop-color="#0002f5"/><stop offset="0.366" stop-color="#000088"/><stop offset="0.404" stop-color="#0000c7"/><stop offset="0.414" stop-color="#0000d3"/><stop offset="0.420" stop-color="#002bff"/><stop offset="0.427" stop-color="#01defa"/><stop offset="0.433" stop-color="#60ff97"/><stop offset="0.439" stop-color="#12f4e5"/><stop offset="0.449" stop-color="#0009ff"/><stop offset="0.465" stop-color="#0000b8"/><stop offset="0.490" stop-color="#0000a4"/><stop offset="0.503" stop-color="#0000bd"/><stop offset="0.522" stop-color="#00009c"/><stop offset="0.532" stop-color="#000dff"/><stop offset="0.538" stop-color="#001fff"/><stop offset="0.551" stop-color="#0000ce"/><stop offset="0.564" stop-color="#000094"/><stop offset="0.593" stop-color="#000093"/><stop offset="0.609" stop-color="#0000ee"/><stop offset="0.621" stop-color="#0000ad"/><stop offset="0.628" stop-color="#0000fd"/><stop offset="0.653" stop-color="#0000e9"/><stop offset="0.676" stop-color="#00009f"/><stop offset="0.688" stop-color="#000087"/><stop offset="0.711" stop-color="#0000a8"/><stop offset="0.724" stop-color="#0008ff"/><stop offset="0.730" stop-color="#002eff"/><stop offset="0.740" stop-color="#0000df"/><stop offset="0.749" stop-color="#0000a4"/><stop offset="0.765" stop-color="#0000c5"/><stop offset="0.781" stop-color="#0000be"/><stop offset="0.791" stop-color="#00008d"/><stop offset="0.810" stop-color="#0000af"/><stop offset="0.819" stop-color="#0000f7"/><stop offset="0.829" stop-color="#000fff"/><stop offset="0.842" stop-color="#05e5f6"/><stop offset="0.848" stop-color="#08ebf2"/><stop offset="0.864" stop-color="#000cf2"/><stop offset="0.877" stop-color="#00008c"/><stop offset="0.890" stop-color="#0000c3"/><stop offset="0.896" stop-color="#0000a3"/><stop offset="0.906" stop-color="#0010ff"/><stop offset="0.912" stop-color="#004dff"/><stop offset="0.922" stop-color="#0000f5"/><stop offset="0.944" stop-color="#000081"/><stop offset="0.963" stop-color="#000099"/><stop offset="0.986" stop-color="#0000a4"/><stop offset="0.998" stop-color="#00009b"/></linearGradient><linearGradient id="s60"><stop offset="0.002" stop-color="#0000b5"/><stop offset="0.018" stop-color="#0000a8"/><stop offset="0.030" stop-color="#0000db"/><stop offset="0.043" stop-color="#0000bb"/><stop offset="0.056" stop-color="#0000e5"/><stop offset="0.069" stop-color="#000097"/><stop offset="0.085" stop-color="#0000c4"/><stop offset="0.094" stop-color="#0000ad"/><stop offset="0.107" stop-color="#0000c7"/><stop offset="0.120" stop-color="#0000c1"/><stop offset="0.129" stop-color="#000095"/><stop offset="0.145" stop-color="#0000b4"/><stop offset="0.158" stop-color="#0000f3"/><stop offset="0.171" stop-color="#0000b9"/><stop offset="0.200" stop-color="#00009e"/><stop offset="0.219" stop-color="#0000d4"/><stop offset="0.228" stop-color="#000097"/><stop offset="0.244" stop-color="#0005ff"/><stop offset="0.254" stop-color="#0000dd"/><stop offset="0.267" stop-color="#000084"/><stop offset="0.305" stop-color="#0000e6"/><stop offset="0.318" stop-color="#0000c8"/><stop offset="0.343" stop-color="#0000dd"/><stop offset="0.356" stop-color="#00008e"/><stop offset="0.372" stop-color="#0000c4"/><stop offset="0.385" stop-color="#0000a9"/><stop offset="0.404" stop-color="#0000d1"/><stop offset="0.411" stop-color="#0000cd"/><stop offset="0.417" stop-color="#0017ff"/><stop offset="0.427" stop-color="#01d9fa"/><stop offset="0.433" stop-color="#44ffb3"/><stop offset="0.439" stop-color="#01dbfa"/><stop offset="0.446" stop-color="#001bff"/><stop offset="0.458" stop-color="#0000a2"/><stop offset="0.471" stop-color="#0000a6"/><stop offset="0.481" stop-color="#0000c0"/><stop offset="0.494" stop-color="#000094"/><stop offset="0.506" stop-color="#0000be"/><stop offset="0.519" stop-color="#000094"/><stop offset="0.538" stop-color="#0000d0"/><stop offset="0.570" stop-color="#000088"/><stop offset="0.589" stop-color="#0000b9"/><stop offset="0.599" stop-color="#000093"/><stop offset="0.612" stop-color="#0000c0"/><stop offset="0.628" stop-color="#0000e7"/><stop offset="0.653" stop-color="#0000ba"/><stop offset="0.679" stop-color="#00008e"/><stop offset="0.708" stop-color="#0000b4"/><stop offset="0.727" stop-color="#000bff"/><stop offset="0.740" stop-color="#0000e7"/><stop offset="0.752" stop-color="#00008d"/><stop offset="0.775" stop-color="#0000d1"/><stop offset="0.791" stop-color="#00009b"/><stop offset="0.819" stop-color="#0000f3"/><stop offset="0.832" stop-color="#000cff"/><stop offset="0.845" stop-color="#007cff"/><stop offset="0.851" stop-color="#0050ff"/><stop offset="0.858" stop-color="#0000ef"/><stop offset="0.871" stop-color="#000089"/><stop offset="0.883" stop-color="#00009c"/><stop offset="0.896" stop-color="#0000d6"/><stop offset="0.915" stop-color="#0008ff"/><stop offset="0.944" stop-color="#000085"/><stop offset="0.976" stop-color="#0000c1"/><stop offset="0.998" stop-color="#000096"/></linearGradient><linearGradient id="s61"><stop offset="0.002" stop-color="#0000bc"/><stop offset="0.021" stop-color="#0000c0"/><stop offset="0.037" stop-color="#0000be"/><stop offset="0.046" stop-color="#0000af"/><stop offset="0.059" stop-color="#0000eb"/><stop offset="0.072" stop-color="#000091"/><stop offset="0.107" stop-color="#0000b9"/><stop offset="0.126" stop-color="#0000bf"/><stop offset="0.139" stop-color="#0000a9"/><stop offset="0.155" stop-color="#0000ff"/><stop offset="0.181" stop-color="#0000b8"/><stop offset="0.193" stop-color="#0000ba"/><stop offset="0.203" stop-color="#000099"/><stop offset="0.216" stop-color="#0000e7"/><stop offset="0.228" stop-color="#0000a2"/><stop offset="0.241" stop-color="#0000ff"/><stop offset="0.251" stop-color="#0000f8"/><stop offset="0.260" stop-color="#0000a2"/><stop offset="0.286" stop-color="#0000aa"/><stop offset="0.302" stop-color="#0000fd"/><stop offset="0.321" stop-color="#0000bb"/><stop offset="0.337" stop-color="#0000e4"/><stop offset="0.350" stop-color="#0000b9"/><stop offset="0.356" stop-color="#000087"/><stop offset="0.372" stop-color="#0000d5"/><stop offset="0.385" stop-color="#000096"/><stop offset="0.398" stop-color="#0000e9"/><stop offset="0.411" stop-color="#0000ba"/><stop offset="0.420" stop-color="#0015ff"/><stop offset="0.430" stop-color="#00beff"/><stop offset="0.436" stop-color="#00afff"/><stop offset="0.446" stop-color="#0010fa"/><stop offset="0.455" stop-color="#0000a8"/><stop offset="0.471" stop-color="#0000df"/><stop offset="0.484" stop-color="#000080"/><stop offset="0.506" stop-color="#0000b1"/><stop offset="0.519" stop-color="#0000ba"/><stop offset="0.548" stop-color="#0000e1"/><stop offset="0.580" stop-color="#0000c1"/><stop offset="0.596" stop-color="#0000bb"/><stop offset="0.618" stop-color="#0000ac"/><stop offset="0.631" stop-color="#0001ff"/><stop offset="0.647" stop-color="#0000f5"/><stop offset="0.660" stop-color="#00009a"/><stop offset="0.704" stop-color="#00008f"/><stop offset="0.717" stop-color="#0000b7"/><stop offset="0.727" stop-color="#0000f5"/><stop offset="0.740" stop-color="#0000da"/><stop offset="0.749" stop-color="#0000d3"/><stop offset="0.759" stop-color="#00008d"/><stop offset="0.775" stop-color="#0000c4"/><stop offset="0.784" stop-color="#0000a2"/><stop offset="0.800" stop-color="#0000e8"/><stop offset="0.851" stop-color="#0005eb"/><stop offset="0.864" stop-color="#000089"/><stop offset="0.880" stop-color="#00009b"/><stop offset="0.912" stop-color="#000bff"/><stop offset="0.938" stop-color="#000080"/><stop offset="0.970" stop-color="#0000af"/><stop offset="0.992" stop-color="#0000a4"/><stop offset="0.998" stop-color="#000095"/></linearGradient><linearGradient id="s62"><stop offset="0.002" stop-color="#0000e8"/><stop offset="0.027" stop-color="#0000a1"/><stop offset="0.046" stop-color="#0000cf"/><stop offset="0.056" stop-color="#0007f3"/><stop offset="0.072" stop-color="#0000a5"/><stop offset="0.097" stop-color="#000085"/><stop offset="0.110" stop-color="#0000c1"/><stop offset="0.129" stop-color="#0000c7"/><stop offset="0.142" stop-color="#0000b8"/><stop offset="0.158" stop-color="#0000fa"/><stop offset="0.174" stop-color="#0000da"/><stop offset="0.209" stop-color="#0000d7"/><stop offset="0.219" stop-color="#0000c1"/><stop offset="0.225" stop-color="#00009b"/><stop offset="0.238" stop-color="#0003ff"/><stop offset="0.251" stop-color="#0000f5"/><stop offset="0.260" stop-color="#00009f"/><stop offset="0.292" stop-color="#0000c5"/><stop offset="0.302" stop-color="#0000f6"/><stop offset="0.315" stop-color="#0000be"/><stop offset="0.331" stop-color="#0000be"/><stop offset="0.343" stop-color="#0000e4"/><stop offset="0.353" stop-color="#00009f"/><stop offset="0.375" stop-color="#0000a8"/><stop offset="0.401" stop-color="#0000ef"/><stop offset="0.414" stop-color="#0000ac"/><stop offset="0.423" stop-color="#0019ff"/><stop offset="0.430" stop-color="#0085ff"/><stop offset="0.436" stop-color="#006dff"/><stop offset="0.442" stop-color="#000aff"/><stop offset="0.458" stop-color="#0000b2"/><stop offset="0.490" stop-color="#0000a3"/><stop offset="0.506" stop-color="#0000eb"/><stop offset="0.519" stop-color="#0000ab"/><stop offset="0.532" stop-color="#0000f7"/><stop offset="0.542" stop-color="#0000e3"/><stop offset="0.551" stop-color="#0000c0"/><stop offset="0.564" stop-color="#0000c7"/><stop offset="0.577" stop-color="#0000ad"/><stop offset="0.586" stop-color="#0000cd"/><stop offset="0.615" stop-color="#0000a0"/><stop offset="0.631" stop-color="#0000e9"/><stop offset="0.657" stop-color="#000089"/><stop offset="0.669" stop-color="#000096"/><stop offset="0.714" stop-color="#0000b4"/><stop offset="0.724" stop-color="#0017ff"/><stop offset="0.733" stop-color="#002dff"/><stop offset="0.746" stop-color="#0000dd"/><stop offset="0.759" stop-color="#000084"/><stop offset="0.775" stop-color="#0000a3"/><stop offset="0.791" stop-color="#0000b7"/><stop offset="0.804" stop-color="#0000ff"/><stop offset="0.823" stop-color="#000bff"/><stop offset="0.832" stop-color="#0000d0"/><stop offset="0.842" stop-color="#001dff"/><stop offset="0.851" stop-color="#0000ed"/><stop offset="0.861" stop-color="#0000a2"/><stop offset="0.903" stop-color="#0000ec"/><stop offset="0.912" stop-color="#0030ff"/><stop offset="0.922" stop-color="#0000ed"/><stop offset="0.935" stop-color="#0000a2"/><stop offset="0.973" stop-color="#0000c7"/><stop offset="0.986" stop-color="#0000a4"/><stop offset="0.998" stop-color="#0000da"/></linearGradient><linearGradient id="s63"><stop offset="0.002" stop-color="#0000e5"/><stop offset="0.014" stop-color="#0000be"/><stop offset="0.024" stop-color="#000088"/><stop offset="0.040" stop-color="#0000a9"/><stop offset="0.053" stop-color="#0008ff"/><stop offset="0.062" stop-color="#0000f6"/><stop offset="0.072" stop-color="#0000a3"/><stop offset="0.094" stop-color="#0000a6"/><stop offset="0.129" stop-color="#0000dd"/><stop offset="0.158" stop-color="#0000f5"/><stop offset="0.177" stop-color="#00009a"/><stop offset="0.212" stop-color="#0000f1"/><stop offset="0.228" stop-color="#000082"/><stop offset="0.238" stop-color="#0000c1"/><stop offset="0.248" stop-color="#0008ff"/><stop offset="0.257" stop-color="#0000c9"/><stop offset="0.270" stop-color="#00008d"/><stop offset="0.305" stop-color="#0000f0"/><stop offset="0.318" stop-color="#0000a1"/><stop offset="0.327" stop-color="#00009a"/><stop offset="0.337" stop-color="#000efa"/><stop offset="0.347" stop-color="#0000f0"/><stop offset="0.359" stop-color="#000096"/><stop offset="0.379" stop-color="#0000be"/><stop offset="0.395" stop-color="#0000b7"/><stop offset="0.404" stop-color="#0000cf"/><stop offset="0.414" stop-color="#0000bd"/><stop offset="0.423" stop-color="#0006ff"/><stop offset="0.433" stop-color="#0072ff"/><stop offset="0.439" stop-color="#0038ff"/><stop offset="0.442" stop-color="#0001ff"/><stop offset="0.452" stop-color="#0000b1"/><stop offset="0.481" stop-color="#0000b6"/><stop offset="0.494" stop-color="#000089"/><stop offset="0.506" stop-color="#0000e4"/><stop offset="0.522" stop-color="#000095"/><stop offset="0.538" stop-color="#0000f0"/><stop offset="0.580" stop-color="#000088"/><stop offset="0.596" stop-color="#0000b8"/><stop offset="0.605" stop-color="#0000df"/><stop offset="0.618" stop-color="#0000ba"/><stop offset="0.637" stop-color="#0000e9"/><stop offset="0.657" stop-color="#0000a7"/><stop offset="0.666" stop-color="#0000a2"/><stop offset="0.676" stop-color="#000089"/><stop offset="0.698" stop-color="#0000a4"/><stop offset="0.714" stop-color="#0000c2"/><stop offset="0.720" stop-color="#0010ff"/><stop offset="0.730" stop-color="#0038ff"/><stop offset="0.743" stop-color="#0000d9"/><stop offset="0.759" stop-color="#00008c"/><stop offset="0.794" stop-color="#0000dd"/><stop offset="0.810" stop-color="#0018ff"/><stop offset="0.819" stop-color="#0035ff"/><stop offset="0.832" stop-color="#001dff"/><stop offset="0.845" stop-color="#0058ff"/><stop offset="0.858" stop-color="#0000fa"/><stop offset="0.867" stop-color="#0000c0"/><stop offset="0.877" stop-color="#0000c6"/><stop offset="0.887" stop-color="#0000ab"/><stop offset="0.899" stop-color="#0000b7"/><stop offset="0.906" stop-color="#0001ff"/><stop offset="0.912" stop-color="#0036ff"/><stop offset="0.925" stop-color="#0000e2"/><stop offset="0.935" stop-color="#0000a5"/><stop offset="0.947" stop-color="#0000c0"/><stop offset="0.970" stop-color="#0000aa"/><stop offset="0.982" stop-color="#00008a"/><stop offset="0.998" stop-color="#0000ae"/></linearGradient><linearGradient id="s64"><stop offset="0.002" stop-color="#0000eb"/><stop offset="0.014" stop-color="#0000eb"/><stop offset="0.027" stop-color="#000094"/><stop offset="0.043" stop-color="#0000c4"/><stop offset="0.056" stop-color="#000bfe"/><stop offset="0.065" stop-color="#0000bc"/><stop offset="0.072" stop-color="#000081"/><stop offset="0.094" stop-color="#0000c7"/><stop offset="0.104" stop-color="#0000b0"/><stop offset="0.120" stop-color="#0000db"/><stop offset="0.133" stop-color="#0000a4"/><stop offset="0.152" stop-color="#000dff"/><stop offset="0.168" stop-color="#0000dc"/><stop offset="0.193" stop-color="#0000b6"/><stop offset="0.212" stop-color="#0000e2"/><stop offset="0.232" stop-color="#000096"/><stop offset="0.248" stop-color="#0000ff"/><stop offset="0.257" stop-color="#0000ca"/><stop offset="0.264" stop-color="#000080"/><stop offset="0.286" stop-color="#000091"/><stop offset="0.302" stop-color="#0000f5"/><stop offset="0.315" stop-color="#0000b4"/><stop offset="0.331" stop-color="#0000a9"/><stop offset="0.350" stop-color="#0000de"/><stop offset="0.366" stop-color="#0000ae"/><stop offset="0.382" stop-color="#0000a6"/><stop offset="0.391" stop-color="#0000a6"/><stop offset="0.398" stop-color="#0000d9"/><stop offset="0.417" stop-color="#00009b"/><stop offset="0.430" stop-color="#000dff"/><stop offset="0.436" stop-color="#0025ff"/><stop offset="0.442" stop-color="#0000ec"/><stop offset="0.452" stop-color="#000092"/><stop offset="0.503" stop-color="#0000aa"/><stop offset="0.522" stop-color="#00008e"/><stop offset="0.532" stop-color="#0000b1"/><stop offset="0.542" stop-color="#0000eb"/><stop offset="0.554" stop-color="#0000ac"/><stop offset="0.570" stop-color="#0000ad"/><stop offset="0.583" stop-color="#00008c"/><stop offset="0.605" stop-color="#0000f1"/><stop offset="0.615" stop-color="#0000a6"/><stop offset="0.631" stop-color="#0008ff"/><stop offset="0.641" stop-color="#0000ff"/><stop offset="0.650" stop-color="#0000a8"/><stop offset="0.676" stop-color="#0000a0"/><stop offset="0.695" stop-color="#0000d2"/><stop offset="0.711" stop-color="#0000c2"/><stop offset="0.727" stop-color="#000cff"/><stop offset="0.743" stop-color="#0000e0"/><stop offset="0.759" stop-color="#00009d"/><stop offset="0.823" stop-color="#0011ff"/><stop offset="0.835" stop-color="#0058ff"/><stop offset="0.845" stop-color="#00b4ff"/><stop offset="0.855" stop-color="#0052ff"/><stop offset="0.861" stop-color="#0000f7"/><stop offset="0.874" stop-color="#0000a6"/><stop offset="0.890" stop-color="#0000dd"/><stop offset="0.899" stop-color="#0000bf"/><stop offset="0.909" stop-color="#001eff"/><stop offset="0.915" stop-color="#0022ff"/><stop offset="0.925" stop-color="#0000c8"/><stop offset="0.935" stop-color="#000085"/><stop offset="0.947" stop-color="#0000a7"/><stop offset="0.957" stop-color="#000087"/><stop offset="0.966" stop-color="#0000b9"/><stop offset="0.979" stop-color="#000083"/><stop offset="0.998" stop-color="#0000d6"/></linearGradient><linearGradient id="s65"><stop offset="0.002" stop-color="#0000c4"/><stop offset="0.021" stop-color="#0000ce"/><stop offset="0.030" stop-color="#00008b"/><stop offset="0.046" stop-color="#0000db"/><stop offset="0.075" stop-color="#0000a7"/><stop offset="0.091" stop-color="#00008c"/><stop offset="0.113" stop-color="#0000bd"/><stop offset="0.126" stop-color="#00009b"/><stop offset="0.155" stop-color="#0000ff"/><stop offset="0.171" stop-color="#0000dd"/><stop offset="0.196" stop-color="#0000af"/><stop offset="0.216" stop-color="#0000cc"/><stop offset="0.232" stop-color="#000093"/><stop offset="0.244" stop-color="#0000f1"/><stop offset="0.257" stop-color="#0000bf"/><stop offset="0.270" stop-color="#000096"/><stop offset="0.296" stop-color="#0000dd"/><stop offset="0.308" stop-color="#0000f6"/><stop offset="0.318" stop-color="#0000b7"/><stop offset="0.350" stop-color="#0000d1"/><stop offset="0.369" stop-color="#0000b1"/><stop offset="0.391" stop-color="#0000c7"/><stop offset="0.401" stop-color="#0000bd"/><stop offset="0.411" stop-color="#0000bf"/><stop offset="0.417" stop-color="#0000a5"/><stop offset="0.427" stop-color="#0015fc"/><stop offset="0.439" stop-color="#0026ff"/><stop offset="0.452" stop-color="#0000c4"/><stop offset="0.468" stop-color="#00008a"/><stop offset="0.490" stop-color="#0000c5"/><stop offset="0.503" stop-color="#000092"/><stop offset="0.532" stop-color="#0000d1"/><stop offset="0.542" stop-color="#0000f9"/><stop offset="0.554" stop-color="#00008e"/><stop offset="0.580" stop-color="#0000a7"/><stop offset="0.589" stop-color="#000080"/><stop offset="0.602" stop-color="#0000c0"/><stop offset="0.621" stop-color="#000098"/><stop offset="0.631" stop-color="#0000fe"/><stop offset="0.641" stop-color="#0000f3"/><stop offset="0.647" stop-color="#00009c"/><stop offset="0.717" stop-color="#0000d2"/><stop offset="0.727" stop-color="#001cff"/><stop offset="0.768" stop-color="#0000a9"/><stop offset="0.788" stop-color="#0000ac"/><stop offset="0.819" stop-color="#0006ff"/><stop offset="0.832" stop-color="#0040ff"/><stop offset="0.845" stop-color="#00c9ff"/><stop offset="0.855" stop-color="#006bff"/><stop offset="0.861" stop-color="#0006ff"/><stop offset="0.874" stop-color="#00009d"/><stop offset="0.899" stop-color="#0000d7"/><stop offset="0.912" stop-color="#002dff"/><stop offset="0.919" stop-color="#0000fd"/><stop offset="0.928" stop-color="#0000ac"/><stop offset="0.954" stop-color="#000097"/><stop offset="0.979" stop-color="#0000a7"/><stop offset="0.998" stop-color="#00009d"/></linearGradient><linearGradient id="s66"><stop offset="0.002" stop-color="#0000a8"/><stop offset="0.014" stop-color="#0000b7"/><stop offset="0.024" stop-color="#0000d1"/><stop offset="0.034" stop-color="#00008b"/><stop offset="0.053" stop-color="#0009f7"/><stop offset="0.069" stop-color="#0000ba"/><stop offset="0.081" stop-color="#0000bf"/><stop offset="0.101" stop-color="#0000bb"/><stop offset="0.113" stop-color="#0000c2"/><stop offset="0.129" stop-color="#000085"/><stop offset="0.155" stop-color="#0000fb"/><stop offset="0.184" stop-color="#0000a9"/><stop offset="0.203" stop-color="#0000e6"/><stop offset="0.216" stop-color="#0000b2"/><stop offset="0.232" stop-color="#0000d3"/><stop offset="0.248" stop-color="#000aff"/><stop offset="0.264" stop-color="#0000ab"/><stop offset="0.283" stop-color="#000098"/><stop offset="0.305" stop-color="#0000e0"/><stop offset="0.318" stop-color="#0000a5"/><stop offset="0.343" stop-color="#0005f8"/><stop offset="0.369" stop-color="#0000b5"/><stop offset="0.395" stop-color="#0000ca"/><stop offset="0.404" stop-color="#0000d9"/><stop offset="0.414" stop-color="#0000ce"/><stop offset="0.420" stop-color="#0007ff"/><stop offset="0.433" stop-color="#00b5ff"/><stop offset="0.439" stop-color="#007cff"/><stop offset="0.446" stop-color="#000eff"/><stop offset="0.471" stop-color="#0000a5"/><stop offset="0.497" stop-color="#0000ba"/><stop offset="0.516" stop-color="#0000c3"/><stop offset="0.526" stop-color="#0000cd"/><stop offset="0.535" stop-color="#000fff"/><stop offset="0.545" stop-color="#0000f4"/><stop offset="0.554" stop-color="#0000ba"/><stop offset="0.570" stop-color="#000081"/><stop offset="0.583" stop-color="#0000c0"/><stop offset="0.599" stop-color="#0000c7"/><stop offset="0.618" stop-color="#0000a4"/><stop offset="0.631" stop-color="#0003ff"/><stop offset="0.641" stop-color="#0000ff"/><stop offset="0.650" stop-color="#00009a"/><stop offset="0.663" stop-color="#0000ad"/><stop offset="0.673" stop-color="#000092"/><stop offset="0.685" stop-color="#000097"/><stop offset="0.704" stop-color="#0000a2"/><stop offset="0.724" stop-color="#0026ff"/><stop offset="0.733" stop-color="#002cff"/><stop offset="0.743" stop-color="#0000db"/><stop offset="0.756" stop-color="#00008c"/><stop offset="0.788" stop-color="#0000e0"/><stop offset="0.797" stop-color="#0000e9"/><stop offset="0.807" stop-color="#0000de"/><stop offset="0.823" stop-color="#0000ff"/><stop offset="0.845" stop-color="#0083ff"/><stop offset="0.861" stop-color="#0000e4"/><stop offset="0.880" stop-color="#000098"/><stop offset="0.899" stop-color="#0000e5"/><stop offset="0.915" stop-color="#0022ff"/><stop offset="0.931" stop-color="#0000a1"/><stop offset="0.941" stop-color="#00009d"/><stop offset="0.957" stop-color="#0000a9"/><stop offset="0.970" stop-color="#0000aa"/><stop offset="0.982" stop-color="#0000d0"/><stop offset="0.998" stop-color="#0000d2"/></linearGradient><linearGradient id="s67"><stop offset="0.002" stop-color="#0000f1"/><stop offset="0.018" stop-color="#0000d3"/><stop offset="0.043" stop-color="#0000bd"/><stop offset="0.053" stop-color="#0010ff"/><stop offset="0.062" stop-color="#0000e4"/><stop offset="0.072" stop-color="#0000cb"/><stop offset="0.104" stop-color="#0000b3"/><stop offset="0.113" stop-color="#0000de"/><stop offset="0.123" stop-color="#0000ac"/><stop offset="0.139" stop-color="#0000d5"/><stop offset="0.161" stop-color="#000cff"/><stop offset="0.187" stop-color="#0000a4"/><stop offset="0.203" stop-color="#0000e1"/><stop offset="0.216" stop-color="#0000c3"/><stop offset="0.232" stop-color="#0000cd"/><stop offset="0.241" stop-color="#000aff"/><stop offset="0.254" stop-color="#0000ee"/><stop offset="0.267" stop-color="#000093"/><stop offset="0.296" stop-color="#0000b5"/><stop offset="0.312" stop-color="#0000c9"/><stop offset="0.321" stop-color="#00009e"/><stop offset="0.337" stop-color="#0000f6"/><stop offset="0.350" stop-color="#0000f0"/><stop offset="0.363" stop-color="#000098"/><stop offset="0.395" stop-color="#0000cb"/><stop offset="0.404" stop-color="#0000e5"/><stop offset="0.414" stop-color="#0000c4"/><stop offset="0.420" stop-color="#0000ff"/><stop offset="0.430" stop-color="#009fff"/><stop offset="0.433" stop-color="#00b2ff"/><stop offset="0.439" stop-color="#0058ff"/><stop offset="0.442" stop-color="#0014ff"/><stop offset="0.455" stop-color="#0000bd"/><stop offset="0.481" stop-color="#0000a4"/><stop offset="0.494" stop-color="#0000e8"/><stop offset="0.506" stop-color="#0000bd"/><stop offset="0.516" stop-color="#000083"/><stop offset="0.526" stop-color="#0000c3"/><stop offset="0.535" stop-color="#000bfd"/><stop offset="0.561" stop-color="#0000bf"/><stop offset="0.583" stop-color="#0000b4"/><stop offset="0.609" stop-color="#0000d2"/><stop offset="0.625" stop-color="#0000d4"/><stop offset="0.637" stop-color="#0005ff"/><stop offset="0.657" stop-color="#0000a1"/><stop offset="0.669" stop-color="#0000b2"/><stop offset="0.688" stop-color="#000093"/><stop offset="0.708" stop-color="#00009b"/><stop offset="0.720" stop-color="#0014ff"/><stop offset="0.733" stop-color="#0033ff"/><stop offset="0.743" stop-color="#0000e9"/><stop offset="0.752" stop-color="#0000d7"/><stop offset="0.762" stop-color="#00008e"/><stop offset="0.778" stop-color="#0000cd"/><stop offset="0.810" stop-color="#0000ec"/><stop offset="0.835" stop-color="#000fff"/><stop offset="0.845" stop-color="#001aff"/><stop offset="0.867" stop-color="#0000bd"/><stop offset="0.883" stop-color="#0000a0"/><stop offset="0.896" stop-color="#0000fc"/><stop offset="0.915" stop-color="#002aff"/><stop offset="0.925" stop-color="#0000dc"/><stop offset="0.938" stop-color="#000082"/><stop offset="0.950" stop-color="#0000e5"/><stop offset="0.973" stop-color="#000095"/><stop offset="0.982" stop-color="#0000b1"/><stop offset="0.998" stop-color="#0000a6"/></linearGradient><linearGradient id="s68"><stop offset="0.002" stop-color="#0000a0"/><stop offset="0.014" stop-color="#0000d7"/><stop offset="0.034" stop-color="#00008c"/><stop offset="0.043" stop-color="#00009a"/><stop offset="0.050" stop-color="#0000f5"/><stop offset="0.059" stop-color="#0002f1"/><stop offset="0.072" stop-color="#0000b1"/><stop offset="0.104" stop-color="#00009f"/><stop offset="0.120" stop-color="#0000e8"/><stop offset="0.145" stop-color="#0000bd"/><stop offset="0.158" stop-color="#0003fb"/><stop offset="0.171" stop-color="#00009a"/><stop offset="0.206" stop-color="#0000c8"/><stop offset="0.216" stop-color="#0000c5"/><stop offset="0.228" stop-color="#0000a2"/><stop offset="0.244" stop-color="#0000ff"/><stop offset="0.254" stop-color="#0000b2"/><stop offset="0.260" stop-color="#000080"/><stop offset="0.286" stop-color="#0000e1"/><stop offset="0.299" stop-color="#000094"/><stop offset="0.312" stop-color="#0000bf"/><stop offset="0.324" stop-color="#000091"/><stop offset="0.340" stop-color="#0006ff"/><stop offset="0.353" stop-color="#0000ef"/><stop offset="0.363" stop-color="#0000c3"/><stop offset="0.372" stop-color="#0000b6"/><stop offset="0.385" stop-color="#00008d"/><stop offset="0.401" stop-color="#0000eb"/><stop offset="0.414" stop-color="#0000b1"/><stop offset="0.423" stop-color="#0002ff"/><stop offset="0.433" stop-color="#005aff"/><stop offset="0.439" stop-color="#002fff"/><stop offset="0.442" stop-color="#0000ff"/><stop offset="0.449" stop-color="#0000a4"/><stop offset="0.465" stop-color="#0000a2"/><stop offset="0.481" stop-color="#00009c"/><stop offset="0.503" stop-color="#0000e8"/><stop offset="0.519" stop-color="#0000be"/><stop offset="0.532" stop-color="#000dff"/><stop offset="0.554" stop-color="#0000d5"/><stop offset="0.564" stop-color="#0000a7"/><stop offset="0.577" stop-color="#0000b8"/><stop offset="0.602" stop-color="#0000e3"/><stop offset="0.625" stop-color="#0000bc"/><stop offset="0.637" stop-color="#0000ee"/><stop offset="0.666" stop-color="#000085"/><stop offset="0.698" stop-color="#0000c5"/><stop offset="0.708" stop-color="#0000a0"/><stop offset="0.724" stop-color="#0005fc"/><stop offset="0.740" stop-color="#0000ed"/><stop offset="0.762" stop-color="#000080"/><stop offset="0.778" stop-color="#00009b"/><stop offset="0.794" stop-color="#0000ab"/><stop offset="0.807" stop-color="#0000ff"/><stop offset="0.832" stop-color="#0010ff"/><stop offset="0.842" stop-color="#0031ff"/><stop offset="0.855" stop-color="#0000f4"/><stop offset="0.867" stop-color="#000091"/><stop offset="0.890" stop-color="#0000cb"/><stop offset="0.906" stop-color="#0009ff"/><stop offset="0.915" stop-color="#0034ff"/><stop offset="0.925" stop-color="#0000ec"/><stop offset="0.944" stop-color="#000086"/><stop offset="0.982" stop-color="#0000a9"/><stop offset="0.998" stop-color="#000087"/></linearGradient><linearGradient id="s69"><stop offset="0.002" stop-color="#0000ac"/><stop offset="0.014" stop-color="#0000e6"/><stop offset="0.027" stop-color="#0000b5"/><stop offset="0.043" stop-color="#0000d8"/><stop offset="0.053" stop-color="#003cff"/><stop offset="0.062" stop-color="#0002fb"/><stop offset="0.081" stop-color="#000093"/><stop offset="0.101" stop-color="#0000a4"/><stop offset="0.113" stop-color="#0000ee"/><stop offset="0.129" stop-color="#0000c4"/><stop offset="0.152" stop-color="#0007ff"/><stop offset="0.158" stop-color="#0029ff"/><stop offset="0.165" stop-color="#0000f6"/><stop offset="0.171" stop-color="#0000b7"/><stop offset="0.200" stop-color="#0000b7"/><stop offset="0.209" stop-color="#0000f8"/><stop offset="0.228" stop-color="#0000d2"/><stop offset="0.244" stop-color="#0016ff"/><stop offset="0.254" stop-color="#0000f1"/><stop offset="0.260" stop-color="#0000a7"/><stop offset="0.302" stop-color="#0000ef"/><stop offset="0.318" stop-color="#0000a9"/><stop offset="0.343" stop-color="#001aff"/><stop offset="0.356" stop-color="#0000d4"/><stop offset="0.366" stop-color="#0000bc"/><stop offset="0.398" stop-color="#0000cb"/><stop offset="0.411" stop-color="#0000d3"/><stop offset="0.420" stop-color="#0000e7"/><stop offset="0.436" stop-color="#004cff"/><stop offset="0.446" stop-color="#0000ea"/><stop offset="0.455" stop-color="#0000b1"/><stop offset="0.484" stop-color="#0000b3"/><stop offset="0.497" stop-color="#0000d0"/><stop offset="0.522" stop-color="#0000b2"/><stop offset="0.532" stop-color="#0014ff"/><stop offset="0.538" stop-color="#0040ff"/><stop offset="0.551" stop-color="#0000f8"/><stop offset="0.564" stop-color="#0000a4"/><stop offset="0.573" stop-color="#0000dd"/><stop offset="0.589" stop-color="#000084"/><stop offset="0.602" stop-color="#0000f6"/><stop offset="0.631" stop-color="#0017ff"/><stop offset="0.641" stop-color="#0000ff"/><stop offset="0.650" stop-color="#0000a8"/><stop offset="0.673" stop-color="#0000bb"/><stop offset="0.685" stop-color="#00009c"/><stop offset="0.695" stop-color="#0000d4"/><stop offset="0.708" stop-color="#000096"/><stop offset="0.720" stop-color="#0005ff"/><stop offset="0.727" stop-color="#005bff"/><stop offset="0.733" stop-color="#0031ff"/><stop offset="0.740" stop-color="#0000e7"/><stop offset="0.752" stop-color="#0000aa"/><stop offset="0.788" stop-color="#0000c7"/><stop offset="0.800" stop-color="#0000b1"/><stop offset="0.813" stop-color="#0002ff"/><stop offset="0.848" stop-color="#0000f0"/><stop offset="0.858" stop-color="#0000ba"/><stop offset="0.883" stop-color="#00009e"/><stop offset="0.899" stop-color="#0000bf"/><stop offset="0.906" stop-color="#0017ff"/><stop offset="0.912" stop-color="#0061ff"/><stop offset="0.925" stop-color="#0000d7"/><stop offset="0.935" stop-color="#0000a9"/><stop offset="0.947" stop-color="#0000b5"/><stop offset="0.966" stop-color="#0000a2"/><stop offset="0.998" stop-color="#00009a"/></linearGradient><linearGradient id="s70"><stop offset="0.002" stop-color="#0000a8"/><stop offset="0.014" stop-color="#0000f8"/><stop offset="0.037" stop-color="#0000cb"/><stop offset="0.059" stop-color="#0000f5"/><stop offset="0.088" stop-color="#000098"/><stop offset="0.107" stop-color="#0000cf"/><stop offset="0.120" stop-color="#000095"/><stop offset="0.155" stop-color="#001bff"/><stop offset="0.165" stop-color="#0000f4"/><stop offset="0.171" stop-color="#0000bb"/><stop offset="0.193" stop-color="#00009a"/><stop offset="0.212" stop-color="#0000de"/><stop offset="0.232" stop-color="#0000b4"/><stop offset="0.244" stop-color="#000bff"/><stop offset="0.254" stop-color="#0000e5"/><stop offset="0.267" stop-color="#00009c"/><stop offset="0.280" stop-color="#0000b2"/><stop offset="0.289" stop-color="#0000ae"/><stop offset="0.299" stop-color="#0000d5"/><stop offset="0.308" stop-color="#0000ac"/><stop offset="0.318" stop-color="#0000b1"/><stop offset="0.334" stop-color="#0000b9"/><stop offset="0.347" stop-color="#0000f7"/><stop offset="0.363" stop-color="#00008d"/><stop offset="0.375" stop-color="#0000d9"/><stop offset="0.395" stop-color="#0000b0"/><stop offset="0.407" stop-color="#0000c5"/><stop offset="0.417" stop-color="#0000d8"/><stop offset="0.430" stop-color="#0026ff"/><stop offset="0.446" stop-color="#0000cc"/><stop offset="0.465" stop-color="#000086"/><stop offset="0.478" stop-color="#0000aa"/><stop offset="0.484" stop-color="#000093"/><stop offset="0.497" stop-color="#0000e9"/><stop offset="0.526" stop-color="#00009e"/><stop offset="0.535" stop-color="#0010fe"/><stop offset="0.564" stop-color="#0000a2"/><stop offset="0.609" stop-color="#0000ea"/><stop offset="0.634" stop-color="#0000e1"/><stop offset="0.644" stop-color="#0000bc"/><stop offset="0.660" stop-color="#0000c3"/><stop offset="0.673" stop-color="#0000a9"/><stop offset="0.695" stop-color="#0000aa"/><stop offset="0.708" stop-color="#000080"/><stop offset="0.727" stop-color="#001cff"/><stop offset="0.733" stop-color="#0019ff"/><stop offset="0.759" stop-color="#0000ad"/><stop offset="0.781" stop-color="#0000b4"/><stop offset="0.797" stop-color="#0000f5"/><stop offset="0.807" stop-color="#0000dc"/><stop offset="0.823" stop-color="#0007ff"/><stop offset="0.835" stop-color="#0000c9"/><stop offset="0.851" stop-color="#0000ba"/><stop offset="0.887" stop-color="#000096"/><stop offset="0.909" stop-color="#0005ff"/><stop offset="0.915" stop-color="#001dff"/><stop offset="0.935" stop-color="#0000a2"/><stop offset="0.957" stop-color="#000098"/><stop offset="0.973" stop-color="#0000b7"/><stop offset="0.992" stop-color="#0000a5"/><stop offset="0.998" stop-color="#0000bf"/></linearGradient><linearGradient id="s71"><stop offset="0.002" stop-color="#0000d6"/><stop offset="0.014" stop-color="#001dff"/><stop offset="0.034" stop-color="#0012ff"/><stop offset="0.046" stop-color="#0031ff"/><stop offset="0.062" stop-color="#0000ff"/><stop offset="0.107" stop-color="#000dff"/><stop offset="0.139" stop-color="#0018ff"/><stop offset="0.203" stop-color="#0004ff"/><stop offset="0.216" stop-color="#0033ff"/><stop offset="0.228" stop-color="#0009ff"/><stop offset="0.251" stop-color="#0012ff"/><stop offset="0.286" stop-color="#0000ed"/><stop offset="0.324" stop-color="#0012ff"/><stop offset="0.340" stop-color="#000fff"/><stop offset="0.417" stop-color="#0016ff"/><stop offset="0.430" stop-color="#0058ff"/><stop offset="0.442" stop-color="#0000ff"/><stop offset="0.471" stop-color="#0000e2"/><stop offset="0.494" stop-color="#0018ff"/><stop offset="0.519" stop-color="#0022ff"/><stop offset="0.542" stop-color="#0000f8"/><stop offset="0.554" stop-color="#0000e4"/><stop offset="0.570" stop-color="#0000e8"/><stop offset="0.596" stop-color="#000cff"/><stop offset="0.612" stop-color="#0032ff"/><stop offset="0.634" stop-color="#000bff"/><stop offset="0.657" stop-color="#0000e8"/><stop offset="0.673" stop-color="#0000cf"/><stop offset="0.688" stop-color="#0000e4"/><stop offset="0.711" stop-color="#0009ff"/><stop offset="0.720" stop-color="#0021ff"/><stop offset="0.746" stop-color="#0018ff"/><stop offset="0.765" stop-color="#0000c9"/><stop offset="0.781" stop-color="#0007ff"/><stop offset="0.800" stop-color="#003fff"/><stop offset="0.829" stop-color="#0021ff"/><stop offset="0.839" stop-color="#0031ff"/><stop offset="0.864" stop-color="#0000e3"/><stop offset="0.896" stop-color="#000eff"/><stop offset="0.922" stop-color="#0020ff"/><stop offset="0.941" stop-color="#0000d7"/><stop offset="0.954" stop-color="#0000d6"/><stop offset="0.963" stop-color="#0000d8"/><stop offset="0.986" stop-color="#0000ee"/><stop offset="0.998" stop-color="#0000fb"/></linearGradient><linearGradient id="s72"><stop offset="0.002" stop-color="#0000bd"/><stop offset="0.014" stop-color="#0000fd"/><stop offset="0.040" stop-color="#0019ff"/><stop offset="0.050" stop-color="#0034ff"/><stop offset="0.059" stop-color="#0000ff"/><stop offset="0.078" stop-color="#0000c2"/><stop offset="0.088" stop-color="#0000e4"/><stop offset="0.097" stop-color="#0000dc"/><stop offset="0.113" stop-color="#0009ff"/><stop offset="0.171" stop-color="#0000e5"/><stop offset="0.193" stop-color="#0000e1"/><stop offset="0.206" stop-color="#0015ff"/><stop offset="0.212" stop-color="#003eff"/><stop offset="0.225" stop-color="#0000ff"/><stop offset="0.251" stop-color="#0000fd"/><stop offset="0.260" stop-color="#0000cb"/><stop offset="0.292" stop-color="#0000ce"/><stop offset="0.308" stop-color="#0018ff"/><stop offset="0.363" stop-color="#0000f2"/><stop offset="0.379" stop-color="#0000d2"/><stop offset="0.388" stop-color="#0002ff"/><stop offset="0.420" stop-color="#0017ff"/><stop offset="0.430" stop-color="#006cff"/><stop offset="0.439" stop-color="#0004ff"/><stop offset="0.468" stop-color="#0000d1"/><stop offset="0.478" stop-color="#0000cf"/><stop offset="0.494" stop-color="#0000f9"/><stop offset="0.529" stop-color="#001cff"/><stop offset="0.554" stop-color="#0000de"/><stop offset="0.596" stop-color="#0000e9"/><stop offset="0.621" stop-color="#0011ff"/><stop offset="0.631" stop-color="#001aff"/><stop offset="0.647" stop-color="#0000f4"/><stop offset="0.660" stop-color="#0000cd"/><stop offset="0.682" stop-color="#0000b5"/><stop offset="0.708" stop-color="#0003ff"/><stop offset="0.717" stop-color="#0036ff"/><stop offset="0.749" stop-color="#0000f1"/><stop offset="0.765" stop-color="#0000ad"/><stop offset="0.784" stop-color="#0000ff"/><stop offset="0.804" stop-color="#0023ff"/><stop offset="0.819" stop-color="#0007ff"/><stop offset="0.842" stop-color="#000fff"/><stop offset="0.858" stop-color="#0000f2"/><stop offset="0.867" stop-color="#0000c5"/><stop offset="0.883" stop-color="#0003ff"/><stop offset="0.909" stop-color="#0005ff"/><stop offset="0.919" stop-color="#0027ff"/><stop offset="0.931" stop-color="#0000dd"/><stop offset="0.966" stop-color="#0000cc"/><stop offset="0.995" stop-color="#0000ab"/><stop offset="0.998" stop-color="#00009d"/></linearGradient><linearGradient id="s73"><stop offset="0.002" stop-color="#0000e7"/><stop offset="0.018" stop-color="#002eff"/><stop offset="0.040" stop-color="#0023ff"/><stop offset="0.050" stop-color="#005dff"/><stop offset="0.062" stop-color="#0000ff"/><stop offset="0.101" stop-color="#0020ff"/><stop offset="0.139" stop-color="#0054ff"/><stop offset="0.149" stop-color="#0064ff"/><stop offset="0.174" stop-color="#0000ff"/><stop offset="0.203" stop-color="#0015ff"/><stop offset="0.222" stop-color="#003dff"/><stop offset="0.244" stop-color="#0037ff"/><stop offset="0.254" stop-color="#0000ed"/><stop offset="0.289" stop-color="#0000e8"/><stop offset="0.302" stop-color="#002bff"/><stop offset="0.315" stop-color="#0045ff"/><stop offset="0.340" stop-color="#0041ff"/><stop offset="0.359" stop-color="#0005ff"/><stop offset="0.379" stop-color="#0000de"/><stop offset="0.391" stop-color="#002dff"/><stop offset="0.404" stop-color="#0056ff"/><stop offset="0.423" stop-color="#0054ff"/><stop offset="0.433" stop-color="#0078ff"/><stop offset="0.449" stop-color="#0000ff"/><stop offset="0.465" stop-color="#0000d3"/><stop offset="0.494" stop-color="#0009ff"/><stop offset="0.513" stop-color="#0034ff"/><stop offset="0.535" stop-color="#003aff"/><stop offset="0.558" stop-color="#0000e9"/><stop offset="0.580" stop-color="#0000e7"/><stop offset="0.612" stop-color="#0027ff"/><stop offset="0.621" stop-color="#002bff"/><stop offset="0.631" stop-color="#0060ff"/><stop offset="0.650" stop-color="#0000ff"/><stop offset="0.685" stop-color="#0000e4"/><stop offset="0.711" stop-color="#0075ff"/><stop offset="0.733" stop-color="#004bff"/><stop offset="0.759" stop-color="#0000ff"/><stop offset="0.775" stop-color="#000eff"/><stop offset="0.807" stop-color="#0040ff"/><stop offset="0.839" stop-color="#0022ff"/><stop offset="0.848" stop-color="#0046ff"/><stop offset="0.864" stop-color="#0000f8"/><stop offset="0.899" stop-color="#003bff"/><stop offset="0.915" stop-color="#0054ff"/><stop offset="0.922" stop-color="#0044ff"/><stop offset="0.935" stop-color="#0000ff"/><stop offset="0.960" stop-color="#0000dc"/><stop offset="0.970" stop-color="#0000e0"/><stop offset="0.979" stop-color="#0000e3"/><stop offset="0.998" stop-color="#0000e6"/></linearGradient><linearGradient id="s74"><stop offset="0.002" stop-color="#0023ff"/><stop offset="0.021" stop-color="#0060ff"/><stop offset="0.037" stop-color="#0058ff"/><stop offset="0.050" stop-color="#0083ff"/><stop offset="0.078" stop-color="#0005ff"/><stop offset="0.110" stop-color="#006bff"/><stop offset="0.123" stop-color="#0049ff"/><stop offset="0.145" stop-color="#00a4ff"/><stop offset="0.155" stop-color="#007fff"/><stop offset="0.165" stop-color="#006aff"/><stop offset="0.174" stop-color="#0017ff"/><stop offset="0.244" stop-color="#007bff"/><stop offset="0.264" stop-color="#000eff"/><stop offset="0.292" stop-color="#0012ff"/><stop offset="0.308" stop-color="#007aff"/><stop offset="0.334" stop-color="#0082ff"/><stop offset="0.379" stop-color="#0000f8"/><stop offset="0.388" stop-color="#002aff"/><stop offset="0.404" stop-color="#009aff"/><stop offset="0.423" stop-color="#0096ff"/><stop offset="0.433" stop-color="#00bcff"/><stop offset="0.449" stop-color="#0025ff"/><stop offset="0.471" stop-color="#0000ff"/><stop offset="0.487" stop-color="#0029ff"/><stop offset="0.500" stop-color="#007bff"/><stop offset="0.516" stop-color="#005aff"/><stop offset="0.535" stop-color="#0096ff"/><stop offset="0.558" stop-color="#0004ff"/><stop offset="0.586" stop-color="#0017ff"/><stop offset="0.612" stop-color="#006fff"/><stop offset="0.634" stop-color="#007bff"/><stop offset="0.653" stop-color="#0008ff"/><stop offset="0.666" stop-color="#0016ff"/><stop offset="0.688" stop-color="#000aff"/><stop offset="0.711" stop-color="#00a3ff"/><stop offset="0.727" stop-color="#0081ff"/><stop offset="0.740" stop-color="#0071ff"/><stop offset="0.752" stop-color="#0010ff"/><stop offset="0.778" stop-color="#0043ff"/><stop offset="0.791" stop-color="#0084ff"/><stop offset="0.807" stop-color="#0054ff"/><stop offset="0.819" stop-color="#007fff"/><stop offset="0.832" stop-color="#0064ff"/><stop offset="0.842" stop-color="#00a7ff"/><stop offset="0.861" stop-color="#001fff"/><stop offset="0.874" stop-color="#0026ff"/><stop offset="0.909" stop-color="#007dff"/><stop offset="0.919" stop-color="#007fff"/><stop offset="0.931" stop-color="#001eff"/><stop offset="0.947" stop-color="#0003ff"/><stop offset="0.957" stop-color="#001cff"/><stop offset="0.979" stop-color="#0000e8"/><stop offset="0.998" stop-color="#0010ff"/></linearGradient><linearGradient id="s75"><stop offset="0.002" stop-color="#005aff"/><stop offset="0.027" stop-color="#0078ff"/><stop offset="0.040" stop-color="#0074ff"/><stop offset="0.065" stop-color="#007cff"/><stop offset="0.078" stop-color="#0000ff"/><stop offset="0.094" stop-color="#0019ff"/><stop offset="0.107" stop-color="#007cff"/><stop offset="0.117" stop-color="#0058ff"/><stop offset="0.123" stop-color="#004bff"/><stop offset="0.142" stop-color="#00bcff"/><stop offset="0.165" stop-color="#005cff"/><stop offset="0.177" stop-color="#000dff"/><stop offset="0.190" stop-color="#0020ff"/><stop offset="0.206" stop-color="#0061ff"/><stop offset="0.222" stop-color="#0094ff"/><stop offset="0.248" stop-color="#0085ff"/><stop offset="0.267" stop-color="#0019ff"/><stop offset="0.289" stop-color="#0010ff"/><stop offset="0.305" stop-color="#008dff"/><stop offset="0.340" stop-color="#007eff"/><stop offset="0.372" stop-color="#0000ff"/><stop offset="0.385" stop-color="#0007ff"/><stop offset="0.404" stop-color="#00acff"/><stop offset="0.417" stop-color="#00a9ff"/><stop offset="0.430" stop-color="#0bf4eb"/><stop offset="0.458" stop-color="#0000ff"/><stop offset="0.484" stop-color="#001bff"/><stop offset="0.500" stop-color="#0087ff"/><stop offset="0.516" stop-color="#0071ff"/><stop offset="0.532" stop-color="#00c1ff"/><stop offset="0.548" stop-color="#0042ff"/><stop offset="0.570" stop-color="#0000ff"/><stop offset="0.586" stop-color="#0000ff"/><stop offset="0.602" stop-color="#008fff"/><stop offset="0.631" stop-color="#009fff"/><stop offset="0.653" stop-color="#0004ff"/><stop offset="0.663" stop-color="#0037ff"/><stop offset="0.676" stop-color="#0000ff"/><stop offset="0.688" stop-color="#0010ff"/><stop offset="0.698" stop-color="#0041ff"/><stop offset="0.720" stop-color="#0094ff"/><stop offset="0.736" stop-color="#009dff"/><stop offset="0.749" stop-color="#0006ff"/><stop offset="0.781" stop-color="#005eff"/><stop offset="0.791" stop-color="#00adff"/><stop offset="0.804" stop-color="#0075ff"/><stop offset="0.819" stop-color="#0091ff"/><stop offset="0.829" stop-color="#0092ff"/><stop offset="0.839" stop-color="#02e8f5"/><stop offset="0.867" stop-color="#000dff"/><stop offset="0.893" stop-color="#0088ff"/><stop offset="0.919" stop-color="#0088ff"/><stop offset="0.941" stop-color="#0000ff"/><stop offset="0.982" stop-color="#0000ee"/><stop offset="0.998" stop-color="#0000ff"/></linearGradient><linearGradient id="s76"><stop offset="0.002" stop-color="#0056ff"/><stop offset="0.014" stop-color="#0093ff"/><stop offset="0.050" stop-color="#00a0ff"/><stop offset="0.062" stop-color="#00b0ff"/><stop offset="0.085" stop-color="#0002ff"/><stop offset="0.094" stop-color="#0019ff"/><stop offset="0.107" stop-color="#009fff"/><stop offset="0.117" stop-color="#008dff"/><stop offset="0.126" stop-color="#0061ff"/><stop offset="0.142" stop-color="#00d0ff"/><stop offset="0.161" stop-color="#0098ff"/><stop offset="0.184" stop-color="#0005ff"/><stop offset="0.209" stop-color="#00cfff"/><stop offset="0.241" stop-color="#00a3ff"/><stop offset="0.254" stop-color="#0098ff"/><stop offset="0.267" stop-color="#0046ff"/><stop offset="0.286" stop-color="#002eff"/><stop offset="0.305" stop-color="#0091ff"/><stop offset="0.337" stop-color="#00acff"/><stop offset="0.353" stop-color="#005fff"/><stop offset="0.363" stop-color="#004fff"/><stop offset="0.372" stop-color="#0018ff"/><stop offset="0.388" stop-color="#004bff"/><stop offset="0.404" stop-color="#00defc"/><stop offset="0.414" stop-color="#00cdff"/><stop offset="0.423" stop-color="#39ffbe"/><stop offset="0.439" stop-color="#16ffe1"/><stop offset="0.452" stop-color="#007bff"/><stop offset="0.462" stop-color="#0011ff"/><stop offset="0.481" stop-color="#0046ff"/><stop offset="0.513" stop-color="#00abff"/><stop offset="0.532" stop-color="#00d2ff"/><stop offset="0.564" stop-color="#0022ff"/><stop offset="0.586" stop-color="#002eff"/><stop offset="0.602" stop-color="#00ccff"/><stop offset="0.618" stop-color="#00ccff"/><stop offset="0.631" stop-color="#00dbff"/><stop offset="0.650" stop-color="#0035ff"/><stop offset="0.688" stop-color="#0037ff"/><stop offset="0.724" stop-color="#00dcff"/><stop offset="0.736" stop-color="#00caff"/><stop offset="0.749" stop-color="#0025ff"/><stop offset="0.762" stop-color="#002aff"/><stop offset="0.784" stop-color="#008fff"/><stop offset="0.791" stop-color="#00d6ff"/><stop offset="0.804" stop-color="#00acff"/><stop offset="0.816" stop-color="#00c6ff"/><stop offset="0.826" stop-color="#0099ff"/><stop offset="0.832" stop-color="#00e4f8"/><stop offset="0.839" stop-color="#3affbd"/><stop offset="0.848" stop-color="#00e0fb"/><stop offset="0.864" stop-color="#003aff"/><stop offset="0.890" stop-color="#00a9ff"/><stop offset="0.903" stop-color="#00ceff"/><stop offset="0.928" stop-color="#007dff"/><stop offset="0.941" stop-color="#0015ff"/><stop offset="0.970" stop-color="#000aff"/><stop offset="0.998" stop-color="#0000ff"/></linearGradient><linearGradient id="s77"><stop offset="0.002" stop-color="#0052ff"/><stop offset="0.014" stop-color="#00a4ff"/><stop offset="0.034" stop-color="#00c6ff"/><stop offset="0.065" stop-color="#009eff"/><stop offset="0.081" stop-color="#0029ff"/><stop offset="0.097" stop-color="#0043ff"/><stop offset="0.113" stop-color="#00c7ff"/><stop offset="0.129" stop-color="#007aff"/><stop offset="0.145" stop-color="#00ddfe"/><stop offset="0.171" stop-color="#008aff"/><stop offset="0.184" stop-color="#0005ff"/><stop offset="0.209" stop-color="#00c3ff"/><stop offset="0.228" stop-color="#00b7ff"/><stop offset="0.251" stop-color="#00b1ff"/><stop offset="0.267" stop-color="#0056ff"/><stop offset="0.283" stop-color="#003bff"/><stop offset="0.305" stop-color="#009aff"/><stop offset="0.343" stop-color="#00c1ff"/><stop offset="0.369" stop-color="#001eff"/><stop offset="0.388" stop-color="#005aff"/><stop offset="0.401" stop-color="#07efef"/><stop offset="0.414" stop-color="#00e2fa"/><stop offset="0.423" stop-color="#55ffa2"/><stop offset="0.433" stop-color="#66ff91"/><stop offset="0.442" stop-color="#10fae6"/><stop offset="0.455" stop-color="#003dff"/><stop offset="0.468" stop-color="#002aff"/><stop offset="0.510" stop-color="#00c8ff"/><stop offset="0.529" stop-color="#00e4f8"/><stop offset="0.545" stop-color="#00a6ff"/><stop offset="0.567" stop-color="#002dff"/><stop offset="0.589" stop-color="#0054ff"/><stop offset="0.602" stop-color="#00e2fa"/><stop offset="0.615" stop-color="#00cfff"/><stop offset="0.631" stop-color="#0cf4eb"/><stop offset="0.644" stop-color="#0084ff"/><stop offset="0.650" stop-color="#0042ff"/><stop offset="0.669" stop-color="#0024ff"/><stop offset="0.695" stop-color="#0075ff"/><stop offset="0.711" stop-color="#00cfff"/><stop offset="0.730" stop-color="#04ebf2"/><stop offset="0.740" stop-color="#00baff"/><stop offset="0.752" stop-color="#0044ff"/><stop offset="0.784" stop-color="#0089ff"/><stop offset="0.791" stop-color="#00defd"/><stop offset="0.810" stop-color="#00c2ff"/><stop offset="0.819" stop-color="#00ccff"/><stop offset="0.829" stop-color="#00b9ff"/><stop offset="0.835" stop-color="#1effd9"/><stop offset="0.845" stop-color="#43ffb4"/><stop offset="0.851" stop-color="#0af1ed"/><stop offset="0.864" stop-color="#006aff"/><stop offset="0.890" stop-color="#00b1ff"/><stop offset="0.899" stop-color="#0df6ea"/><stop offset="0.922" stop-color="#00afff"/><stop offset="0.938" stop-color="#0038ff"/><stop offset="0.957" stop-color="#0022ff"/><stop offset="0.970" stop-color="#0028ff"/><stop offset="0.998" stop-color="#0000ff"/></linearGradient><linearGradient id="s78"><stop offset="0.002" stop-color="#0034ff"/><stop offset="0.040" stop-color="#00b0ff"/><stop offset="0.062" stop-color="#0072ff"/><stop offset="0.078" stop-color="#000cff"/><stop offset="0.101" stop-color="#002fff"/><stop offset="0.117" stop-color="#008bff"/><stop offset="0.136" stop-color="#0071ff"/><stop offset="0.149" stop-color="#00caff"/><stop offset="0.158" stop-color="#009dff"/><stop offset="0.177" stop-color="#0008ff"/><stop offset="0.193" stop-color="#001cff"/><stop offset="0.209" stop-color="#008eff"/><stop offset="0.222" stop-color="#0088ff"/><stop offset="0.232" stop-color="#00baff"/><stop offset="0.280" stop-color="#0000ff"/><stop offset="0.292" stop-color="#0047ff"/><stop offset="0.305" stop-color="#0079ff"/><stop offset="0.334" stop-color="#00a1ff"/><stop offset="0.356" stop-color="#004fff"/><stop offset="0.369" stop-color="#0000ff"/><stop offset="0.388" stop-color="#002aff"/><stop offset="0.401" stop-color="#00c3ff"/><stop offset="0.414" stop-color="#00d2ff"/><stop offset="0.423" stop-color="#3fffb8"/><stop offset="0.433" stop-color="#56ffa1"/><stop offset="0.439" stop-color="#1dffda"/><stop offset="0.446" stop-color="#008cff"/><stop offset="0.455" stop-color="#0010ff"/><stop offset="0.478" stop-color="#0018ff"/><stop offset="0.503" stop-color="#00a4ff"/><stop offset="0.516" stop-color="#009cff"/><stop offset="0.529" stop-color="#00bfff"/><stop offset="0.548" stop-color="#006eff"/><stop offset="0.567" stop-color="#000bff"/><stop offset="0.586" stop-color="#000eff"/><stop offset="0.596" stop-color="#0076ff"/><stop offset="0.602" stop-color="#00d7ff"/><stop offset="0.618" stop-color="#00c0ff"/><stop offset="0.631" stop-color="#00c8ff"/><stop offset="0.650" stop-color="#0022ff"/><stop offset="0.676" stop-color="#000fff"/><stop offset="0.695" stop-color="#0058ff"/><stop offset="0.724" stop-color="#00d9ff"/><stop offset="0.736" stop-color="#00c1ff"/><stop offset="0.752" stop-color="#0010ff"/><stop offset="0.768" stop-color="#0042ff"/><stop offset="0.784" stop-color="#006bff"/><stop offset="0.791" stop-color="#00c6ff"/><stop offset="0.800" stop-color="#00b9ff"/><stop offset="0.810" stop-color="#009bff"/><stop offset="0.816" stop-color="#00c5ff"/><stop offset="0.829" stop-color="#007cff"/><stop offset="0.842" stop-color="#0ef7e9"/><stop offset="0.861" stop-color="#0035ff"/><stop offset="0.871" stop-color="#0032ff"/><stop offset="0.890" stop-color="#0089ff"/><stop offset="0.899" stop-color="#00e4f8"/><stop offset="0.912" stop-color="#00bbff"/><stop offset="0.941" stop-color="#000bff"/><stop offset="0.982" stop-color="#0000f2"/><stop offset="0.995" stop-color="#0000e2"/><stop offset="0.998" stop-color="#0000ed"/></linearGradient><linearGradient id="s79"><stop offset="0.002" stop-color="#0043ff"/><stop offset="0.027" stop-color="#0080ff"/><stop offset="0.053" stop-color="#00acff"/><stop offset="0.081" stop-color="#000eff"/><stop offset="0.101" stop-color="#002bff"/><stop offset="0.113" stop-color="#0080ff"/><stop offset="0.136" stop-color="#007fff"/><stop offset="0.152" stop-color="#00d9ff"/><stop offset="0.161" stop-color="#007cff"/><stop offset="0.171" stop-color="#0002ff"/><stop offset="0.196" stop-color="#002fff"/><stop offset="0.212" stop-color="#00a7ff"/><stop offset="0.238" stop-color="#00a9ff"/><stop offset="0.273" stop-color="#001dff"/><stop offset="0.283" stop-color="#0006ff"/><stop offset="0.302" stop-color="#008fff"/><stop offset="0.337" stop-color="#00b8ff"/><stop offset="0.356" stop-color="#004dff"/><stop offset="0.372" stop-color="#0000f3"/><stop offset="0.388" stop-color="#0035ff"/><stop offset="0.401" stop-color="#00cfff"/><stop offset="0.411" stop-color="#00c4ff"/><stop offset="0.420" stop-color="#3dffba"/><stop offset="0.433" stop-color="#64ff93"/><stop offset="0.439" stop-color="#21ffd6"/><stop offset="0.446" stop-color="#0093ff"/><stop offset="0.458" stop-color="#000fff"/><stop offset="0.481" stop-color="#0023ff"/><stop offset="0.490" stop-color="#006fff"/><stop offset="0.510" stop-color="#008dff"/><stop offset="0.529" stop-color="#00daff"/><stop offset="0.570" stop-color="#0000f4"/><stop offset="0.589" stop-color="#0016ff"/><stop offset="0.602" stop-color="#00d1ff"/><stop offset="0.631" stop-color="#00bfff"/><stop offset="0.650" stop-color="#001eff"/><stop offset="0.679" stop-color="#0016ff"/><stop offset="0.692" stop-color="#004aff"/><stop offset="0.720" stop-color="#01e7f5"/><stop offset="0.736" stop-color="#00c5ff"/><stop offset="0.749" stop-color="#0032ff"/><stop offset="0.765" stop-color="#001aff"/><stop offset="0.788" stop-color="#00b3ff"/><stop offset="0.791" stop-color="#00e2fa"/><stop offset="0.810" stop-color="#00afff"/><stop offset="0.816" stop-color="#00ccff"/><stop offset="0.826" stop-color="#007aff"/><stop offset="0.842" stop-color="#00c0ff"/><stop offset="0.861" stop-color="#0011ff"/><stop offset="0.871" stop-color="#000dff"/><stop offset="0.896" stop-color="#0ef7e8"/><stop offset="0.909" stop-color="#0af2ed"/><stop offset="0.935" stop-color="#0028ff"/><stop offset="0.954" stop-color="#0002ff"/><stop offset="0.986" stop-color="#0000ff"/><stop offset="0.995" stop-color="#0000db"/><stop offset="0.998" stop-color="#0000e2"/></linearGradient><linearGradient id="s80"><stop offset="0.002" stop-color="#00a9ff"/><stop offset="0.024" stop-color="#00b8ff"/><stop offset="0.034" stop-color="#00beff"/><stop offset="0.043" stop-color="#0bf3ec"/><stop offset="0.072" stop-color="#0072ff"/><stop offset="0.085" stop-color="#0046ff"/><stop offset="0.123" stop-color="#00a3ff"/><stop offset="0.136" stop-color="#00bbff"/><stop offset="0.149" stop-color="#03e9f4"/><stop offset="0.161" stop-color="#00aaff"/><stop offset="0.177" stop-color="#001aff"/><stop offset="0.216" stop-color="#00cfff"/><stop offset="0.248" stop-color="#00cbff"/><stop offset="0.273" stop-color="#0048ff"/><stop offset="0.296" stop-color="#0087ff"/><stop offset="0.308" stop-color="#00b9ff"/><stop offset="0.324" stop-color="#00ddfd"/><stop offset="0.340" stop-color="#07eef0"/><stop offset="0.372" stop-color="#0012ff"/><stop offset="0.391" stop-color="#008fff"/><stop offset="0.401" stop-color="#08efef"/><stop offset="0.411" stop-color="#00dcfe"/><stop offset="0.423" stop-color="#6dff8a"/><stop offset="0.433" stop-color="#82ff75"/><stop offset="0.442" stop-color="#07eef0"/><stop offset="0.455" stop-color="#005aff"/><stop offset="0.465" stop-color="#0023ff"/><stop offset="0.481" stop-color="#004fff"/><stop offset="0.500" stop-color="#00b5ff"/><stop offset="0.516" stop-color="#04ebf3"/><stop offset="0.529" stop-color="#1dffda"/><stop offset="0.551" stop-color="#0096ff"/><stop offset="0.570" stop-color="#001bff"/><stop offset="0.593" stop-color="#0063ff"/><stop offset="0.602" stop-color="#00e2fa"/><stop offset="0.618" stop-color="#1affdd"/><stop offset="0.641" stop-color="#009aff"/><stop offset="0.650" stop-color="#005cff"/><stop offset="0.679" stop-color="#003bff"/><stop offset="0.704" stop-color="#0097ff"/><stop offset="0.714" stop-color="#16ffe1"/><stop offset="0.736" stop-color="#0ef6e9"/><stop offset="0.749" stop-color="#007cff"/><stop offset="0.762" stop-color="#0032ff"/><stop offset="0.784" stop-color="#009cff"/><stop offset="0.791" stop-color="#08f0ee"/><stop offset="0.807" stop-color="#08f0ee"/><stop offset="0.816" stop-color="#15ffe2"/><stop offset="0.826" stop-color="#00a1ff"/><stop offset="0.842" stop-color="#00acff"/><stop offset="0.871" stop-color="#0041ff"/><stop offset="0.890" stop-color="#03eaf3"/><stop offset="0.903" stop-color="#3fffb8"/><stop offset="0.919" stop-color="#13fee3"/><stop offset="0.928" stop-color="#008bff"/><stop offset="0.960" stop-color="#002eff"/><stop offset="0.986" stop-color="#0030ff"/><stop offset="0.995" stop-color="#0007ff"/><stop offset="0.998" stop-color="#0011ff"/></linearGradient><linearGradient id="s81"><stop offset="0.002" stop-color="#00a2ff"/><stop offset="0.046" stop-color="#0cf4eb"/><stop offset="0.081" stop-color="#003cff"/><stop offset="0.094" stop-color="#005fff"/><stop offset="0.107" stop-color="#008fff"/><stop offset="0.133" stop-color="#00a0ff"/><stop offset="0.145" stop-color="#0cf4eb"/><stop offset="0.165" stop-color="#0082ff"/><stop offset="0.181" stop-color="#0023ff"/><stop offset="0.216" stop-color="#00c6ff"/><stop offset="0.241" stop-color="#00d2ff"/><stop offset="0.257" stop-color="#0089ff"/><stop offset="0.273" stop-color="#0031ff"/><stop offset="0.296" stop-color="#0078ff"/><stop offset="0.324" stop-color="#00c2ff"/><stop offset="0.334" stop-color="#00e5f7"/><stop offset="0.363" stop-color="#0072ff"/><stop offset="0.375" stop-color="#000dff"/><stop offset="0.401" stop-color="#00d5ff"/><stop offset="0.411" stop-color="#00d5ff"/><stop offset="0.423" stop-color="#3fffb8"/><stop offset="0.436" stop-color="#51ffa6"/><stop offset="0.442" stop-color="#08efef"/><stop offset="0.458" stop-color="#0036ff"/><stop offset="0.481" stop-color="#0041ff"/><stop offset="0.510" stop-color="#00d8ff"/><stop offset="0.529" stop-color="#16ffe1"/><stop offset="0.548" stop-color="#0089ff"/><stop offset="0.570" stop-color="#0019ff"/><stop offset="0.593" stop-color="#0077ff"/><stop offset="0.609" stop-color="#10f9e7"/><stop offset="0.631" stop-color="#00defc"/><stop offset="0.650" stop-color="#0075ff"/><stop offset="0.676" stop-color="#0023ff"/><stop offset="0.704" stop-color="#0099ff"/><stop offset="0.714" stop-color="#16ffe1"/><stop offset="0.736" stop-color="#08efef"/><stop offset="0.759" stop-color="#0033ff"/><stop offset="0.781" stop-color="#0067ff"/><stop offset="0.791" stop-color="#00dbff"/><stop offset="0.813" stop-color="#10fae6"/><stop offset="0.829" stop-color="#0090ff"/><stop offset="0.851" stop-color="#0056ff"/><stop offset="0.877" stop-color="#004dff"/><stop offset="0.896" stop-color="#0bf4eb"/><stop offset="0.919" stop-color="#19ffde"/><stop offset="0.925" stop-color="#0097ff"/><stop offset="0.941" stop-color="#002aff"/><stop offset="0.979" stop-color="#000eff"/><stop offset="0.998" stop-color="#0011ff"/></linearGradient><linearGradient id="s82"><stop offset="0.002" stop-color="#007dff"/><stop offset="0.021" stop-color="#00aeff"/><stop offset="0.046" stop-color="#00d6ff"/><stop offset="0.065" stop-color="#004fff"/><stop offset="0.085" stop-color="#0016ff"/><stop offset="0.107" stop-color="#0099ff"/><stop offset="0.133" stop-color="#007aff"/><stop offset="0.149" stop-color="#06edf1"/><stop offset="0.168" stop-color="#0061ff"/><stop offset="0.181" stop-color="#002aff"/><stop offset="0.196" stop-color="#0044ff"/><stop offset="0.209" stop-color="#00c8ff"/><stop offset="0.238" stop-color="#00dbff"/><stop offset="0.248" stop-color="#00adff"/><stop offset="0.257" stop-color="#009cff"/><stop offset="0.283" stop-color="#0029ff"/><stop offset="0.318" stop-color="#00b6ff"/><stop offset="0.334" stop-color="#00d2ff"/><stop offset="0.369" stop-color="#0031ff"/><stop offset="0.379" stop-color="#002aff"/><stop offset="0.401" stop-color="#00c9ff"/><stop offset="0.420" stop-color="#1cffdb"/><stop offset="0.436" stop-color="#22ffd5"/><stop offset="0.449" stop-color="#0083ff"/><stop offset="0.462" stop-color="#0017ff"/><stop offset="0.484" stop-color="#0031ff"/><stop offset="0.506" stop-color="#00daff"/><stop offset="0.529" stop-color="#05ecf1"/><stop offset="0.564" stop-color="#0028ff"/><stop offset="0.586" stop-color="#0035ff"/><stop offset="0.605" stop-color="#0ff8e8"/><stop offset="0.634" stop-color="#05ecf2"/><stop offset="0.660" stop-color="#0032ff"/><stop offset="0.688" stop-color="#0042ff"/><stop offset="0.714" stop-color="#00dffc"/><stop offset="0.733" stop-color="#00ddfd"/><stop offset="0.740" stop-color="#0af2ed"/><stop offset="0.756" stop-color="#0039ff"/><stop offset="0.775" stop-color="#002fff"/><stop offset="0.794" stop-color="#00c8ff"/><stop offset="0.816" stop-color="#00d0ff"/><stop offset="0.842" stop-color="#004bff"/><stop offset="0.851" stop-color="#0033ff"/><stop offset="0.871" stop-color="#004fff"/><stop offset="0.883" stop-color="#0068ff"/><stop offset="0.893" stop-color="#00cdff"/><stop offset="0.909" stop-color="#00cdff"/><stop offset="0.919" stop-color="#13fde4"/><stop offset="0.928" stop-color="#004cff"/><stop offset="0.944" stop-color="#0019ff"/><stop offset="0.998" stop-color="#0005ff"/></linearGradient><linearGradient id="s83"><stop offset="0.002" stop-color="#0079ff"/><stop offset="0.011" stop-color="#00a9ff"/><stop offset="0.030" stop-color="#00d0ff"/><stop offset="0.053" stop-color="#00e4f8"/><stop offset="0.065" stop-color="#0085ff"/><stop offset="0.075" stop-color="#003cff"/><stop offset="0.094" stop-color="#004aff"/><stop offset="0.110" stop-color="#00a2ff"/><stop offset="0.136" stop-color="#00b2ff"/><stop offset="0.158" stop-color="#00cdff"/><stop offset="0.181" stop-color="#003aff"/><stop offset="0.200" stop-color="#0081ff"/><stop offset="0.225" stop-color="#18ffdf"/><stop offset="0.248" stop-color="#00d0ff"/><stop offset="0.283" stop-color="#004fff"/><stop offset="0.299" stop-color="#00a6ff"/><stop offset="0.324" stop-color="#00dcff"/><stop offset="0.340" stop-color="#00ceff"/><stop offset="0.359" stop-color="#005bff"/><stop offset="0.379" stop-color="#0058ff"/><stop offset="0.391" stop-color="#008eff"/><stop offset="0.404" stop-color="#00d7ff"/><stop offset="0.423" stop-color="#34ffc2"/><stop offset="0.436" stop-color="#0ef7e8"/><stop offset="0.455" stop-color="#006aff"/><stop offset="0.468" stop-color="#0023ff"/><stop offset="0.487" stop-color="#006cff"/><stop offset="0.506" stop-color="#05ecf2"/><stop offset="0.529" stop-color="#00d1ff"/><stop offset="0.551" stop-color="#0082ff"/><stop offset="0.567" stop-color="#0043ff"/><stop offset="0.586" stop-color="#004cff"/><stop offset="0.605" stop-color="#0bf3ec"/><stop offset="0.641" stop-color="#00ceff"/><stop offset="0.660" stop-color="#0022ff"/><stop offset="0.692" stop-color="#006cff"/><stop offset="0.711" stop-color="#01e7f5"/><stop offset="0.733" stop-color="#02e8f5"/><stop offset="0.743" stop-color="#00dbff"/><stop offset="0.756" stop-color="#0055ff"/><stop offset="0.775" stop-color="#004bff"/><stop offset="0.784" stop-color="#0082ff"/><stop offset="0.791" stop-color="#00dcfe"/><stop offset="0.804" stop-color="#00d2ff"/><stop offset="0.816" stop-color="#06edf1"/><stop offset="0.851" stop-color="#0051ff"/><stop offset="0.871" stop-color="#004bff"/><stop offset="0.883" stop-color="#0081ff"/><stop offset="0.893" stop-color="#00e2fa"/><stop offset="0.903" stop-color="#00ccff"/><stop offset="0.919" stop-color="#1dffda"/><stop offset="0.925" stop-color="#0096ff"/><stop offset="0.935" stop-color="#0059ff"/><stop offset="0.960" stop-color="#001cff"/><stop offset="0.979" stop-color="#0009ff"/><stop offset="0.998" stop-color="#001eff"/></linearGradient><linearGradient id="s84"><stop offset="0.002" stop-color="#0047ff"/><stop offset="0.011" stop-color="#0094ff"/><stop offset="0.037" stop-color="#00b0ff"/><stop offset="0.046" stop-color="#00e5f7"/><stop offset="0.062" stop-color="#0086ff"/><stop offset="0.072" stop-color="#0030ff"/><stop offset="0.091" stop-color="#0021ff"/><stop offset="0.120" stop-color="#00a5ff"/><stop offset="0.142" stop-color="#00bfff"/><stop offset="0.168" stop-color="#006bff"/><stop offset="0.181" stop-color="#0037ff"/><stop offset="0.200" stop-color="#005dff"/><stop offset="0.219" stop-color="#00cfff"/><stop offset="0.232" stop-color="#0cf4eb"/><stop offset="0.244" stop-color="#00b6ff"/><stop offset="0.257" stop-color="#0086ff"/><stop offset="0.283" stop-color="#003dff"/><stop offset="0.299" stop-color="#00a2ff"/><stop offset="0.318" stop-color="#00beff"/><stop offset="0.343" stop-color="#00a3ff"/><stop offset="0.363" stop-color="#0031ff"/><stop offset="0.388" stop-color="#0062ff"/><stop offset="0.407" stop-color="#00ceff"/><stop offset="0.423" stop-color="#05ecf1"/><stop offset="0.433" stop-color="#13fde4"/><stop offset="0.452" stop-color="#0066ff"/><stop offset="0.471" stop-color="#0016ff"/><stop offset="0.487" stop-color="#004dff"/><stop offset="0.500" stop-color="#00b3ff"/><stop offset="0.532" stop-color="#00b8ff"/><stop offset="0.551" stop-color="#0065ff"/><stop offset="0.573" stop-color="#0000ff"/><stop offset="0.586" stop-color="#001eff"/><stop offset="0.602" stop-color="#00bdff"/><stop offset="0.615" stop-color="#00bbff"/><stop offset="0.628" stop-color="#00beff"/><stop offset="0.660" stop-color="#0028ff"/><stop offset="0.679" stop-color="#002cff"/><stop offset="0.701" stop-color="#0097ff"/><stop offset="0.714" stop-color="#00ddfd"/><stop offset="0.736" stop-color="#00cdff"/><stop offset="0.752" stop-color="#003cff"/><stop offset="0.778" stop-color="#004bff"/><stop offset="0.791" stop-color="#00beff"/><stop offset="0.807" stop-color="#00b4ff"/><stop offset="0.819" stop-color="#00bbff"/><stop offset="0.839" stop-color="#0057ff"/><stop offset="0.851" stop-color="#0045ff"/><stop offset="0.874" stop-color="#0030ff"/><stop offset="0.883" stop-color="#0076ff"/><stop offset="0.893" stop-color="#01e7f5"/><stop offset="0.912" stop-color="#00d4ff"/><stop offset="0.919" stop-color="#03eaf3"/><stop offset="0.935" stop-color="#003aff"/><stop offset="0.976" stop-color="#0000fa"/><stop offset="0.989" stop-color="#0019ff"/><stop offset="0.998" stop-color="#0002ff"/></linearGradient><linearGradient id="s85"><stop offset="0.002" stop-color="#0040ff"/><stop offset="0.011" stop-color="#0097ff"/><stop offset="0.037" stop-color="#00a8ff"/><stop offset="0.050" stop-color="#00c4ff"/><stop offset="0.072" stop-color="#0029ff"/><stop offset="0.097" stop-color="#0054ff"/><stop offset="0.117" stop-color="#009aff"/><stop offset="0.133" stop-color="#00abff"/><stop offset="0.149" stop-color="#00ccff"/><stop offset="0.177" stop-color="#002aff"/><stop offset="0.196" stop-color="#0031ff"/><stop offset="0.209" stop-color="#00ceff"/><stop offset="0.225" stop-color="#00ceff"/><stop offset="0.235" stop-color="#0ef7e9"/><stop offset="0.257" stop-color="#0065ff"/><stop offset="0.276" stop-color="#0017ff"/><stop offset="0.296" stop-color="#0096ff"/><stop offset="0.315" stop-color="#00a5ff"/><stop offset="0.343" stop-color="#00a6ff"/><stop offset="0.363" stop-color="#0013ff"/><stop offset="0.391" stop-color="#004fff"/><stop offset="0.401" stop-color="#00aeff"/><stop offset="0.420" stop-color="#00c3ff"/><stop offset="0.430" stop-color="#13fde4"/><stop offset="0.452" stop-color="#0056ff"/><stop offset="0.471" stop-color="#0013ff"/><stop offset="0.487" stop-color="#0032ff"/><stop offset="0.500" stop-color="#00a2ff"/><stop offset="0.519" stop-color="#00c3ff"/><stop offset="0.535" stop-color="#00abff"/><stop offset="0.551" stop-color="#0065ff"/><stop offset="0.567" stop-color="#0000ff"/><stop offset="0.580" stop-color="#0000f6"/><stop offset="0.593" stop-color="#0061ff"/><stop offset="0.602" stop-color="#00c7ff"/><stop offset="0.615" stop-color="#00ceff"/><stop offset="0.625" stop-color="#03eaf3"/><stop offset="0.650" stop-color="#0039ff"/><stop offset="0.679" stop-color="#0004ff"/><stop offset="0.704" stop-color="#008cff"/><stop offset="0.720" stop-color="#13fde4"/><stop offset="0.730" stop-color="#02e8f5"/><stop offset="0.740" stop-color="#00a6ff"/><stop offset="0.749" stop-color="#0038ff"/><stop offset="0.778" stop-color="#0058ff"/><stop offset="0.794" stop-color="#00aeff"/><stop offset="0.819" stop-color="#00b0ff"/><stop offset="0.839" stop-color="#005fff"/><stop offset="0.867" stop-color="#001cff"/><stop offset="0.880" stop-color="#0054ff"/><stop offset="0.893" stop-color="#00d6ff"/><stop offset="0.919" stop-color="#00d9ff"/><stop offset="0.931" stop-color="#002fff"/><stop offset="0.963" stop-color="#0017ff"/><stop offset="0.982" stop-color="#000fff"/><stop offset="0.998" stop-color="#0000ff"/></linearGradient><linearGradient id="s86"><stop offset="0.002" stop-color="#0079ff"/><stop offset="0.018" stop-color="#00c2ff"/><stop offset="0.034" stop-color="#00c1ff"/><stop offset="0.053" stop-color="#00d5ff"/><stop offset="0.081" stop-color="#0055ff"/><stop offset="0.113" stop-color="#00baff"/><stop offset="0.129" stop-color="#00a4ff"/><stop offset="0.145" stop-color="#23ffd4"/><stop offset="0.161" stop-color="#00bbff"/><stop offset="0.174" stop-color="#005dff"/><stop offset="0.200" stop-color="#0071ff"/><stop offset="0.216" stop-color="#11fae6"/><stop offset="0.244" stop-color="#00ddfe"/><stop offset="0.257" stop-color="#0086ff"/><stop offset="0.273" stop-color="#0036ff"/><stop offset="0.292" stop-color="#009bff"/><stop offset="0.308" stop-color="#00beff"/><stop offset="0.327" stop-color="#00d3ff"/><stop offset="0.337" stop-color="#00bcff"/><stop offset="0.350" stop-color="#009eff"/><stop offset="0.359" stop-color="#0042ff"/><stop offset="0.391" stop-color="#0077ff"/><stop offset="0.401" stop-color="#00defd"/><stop offset="0.417" stop-color="#00ddfe"/><stop offset="0.430" stop-color="#3affbd"/><stop offset="0.439" stop-color="#01e7f6"/><stop offset="0.452" stop-color="#0062ff"/><stop offset="0.468" stop-color="#003bff"/><stop offset="0.490" stop-color="#0079ff"/><stop offset="0.506" stop-color="#00e0fb"/><stop offset="0.535" stop-color="#0ff9e7"/><stop offset="0.570" stop-color="#0026ff"/><stop offset="0.589" stop-color="#0070ff"/><stop offset="0.602" stop-color="#0cf4eb"/><stop offset="0.618" stop-color="#00daff"/><stop offset="0.631" stop-color="#04ebf3"/><stop offset="0.641" stop-color="#00b6ff"/><stop offset="0.653" stop-color="#0049ff"/><stop offset="0.682" stop-color="#0037ff"/><stop offset="0.701" stop-color="#00a1ff"/><stop offset="0.711" stop-color="#25ffd2"/><stop offset="0.730" stop-color="#1fffd8"/><stop offset="0.740" stop-color="#00c9ff"/><stop offset="0.749" stop-color="#0053ff"/><stop offset="0.765" stop-color="#0060ff"/><stop offset="0.784" stop-color="#0093ff"/><stop offset="0.791" stop-color="#06edf1"/><stop offset="0.819" stop-color="#00d2ff"/><stop offset="0.835" stop-color="#0084ff"/><stop offset="0.871" stop-color="#0053ff"/><stop offset="0.883" stop-color="#0099ff"/><stop offset="0.893" stop-color="#1effd9"/><stop offset="0.919" stop-color="#14ffe2"/><stop offset="0.931" stop-color="#004bff"/><stop offset="0.960" stop-color="#0038ff"/><stop offset="0.998" stop-color="#0037ff"/></linearGradient><linearGradient id="s87"><stop offset="0.002" stop-color="#00e2fa"/><stop offset="0.021" stop-color="#03e9f4"/><stop offset="0.037" stop-color="#00a8ff"/><stop offset="0.059" stop-color="#19ffde"/><stop offset="0.075" stop-color="#0088ff"/><stop offset="0.097" stop-color="#00c6ff"/><stop offset="0.107" stop-color="#21ffd5"/><stop offset="0.120" stop-color="#00dcfe"/><stop offset="0.133" stop-color="#0080ff"/><stop offset="0.142" stop-color="#00b7ff"/><stop offset="0.149" stop-color="#1effd9"/><stop offset="0.158" stop-color="#2fffc8"/><stop offset="0.165" stop-color="#00d9ff"/><stop offset="0.177" stop-color="#0089ff"/><stop offset="0.190" stop-color="#008dff"/><stop offset="0.209" stop-color="#00dffc"/><stop offset="0.222" stop-color="#00c0ff"/><stop offset="0.232" stop-color="#00bfff"/><stop offset="0.241" stop-color="#1cffdb"/><stop offset="0.254" stop-color="#0af2ed"/><stop offset="0.267" stop-color="#0084ff"/><stop offset="0.283" stop-color="#0092ff"/><stop offset="0.308" stop-color="#17ffdf"/><stop offset="0.321" stop-color="#008dff"/><stop offset="0.343" stop-color="#10f9e7"/><stop offset="0.353" stop-color="#00bdff"/><stop offset="0.363" stop-color="#0077ff"/><stop offset="0.379" stop-color="#0099ff"/><stop offset="0.395" stop-color="#13fde4"/><stop offset="0.417" stop-color="#0bf4eb"/><stop offset="0.433" stop-color="#88ff6f"/><stop offset="0.439" stop-color="#76ff81"/><stop offset="0.446" stop-color="#12fce5"/><stop offset="0.455" stop-color="#0075ff"/><stop offset="0.465" stop-color="#0067ff"/><stop offset="0.481" stop-color="#00b1ff"/><stop offset="0.497" stop-color="#09f1ed"/><stop offset="0.506" stop-color="#1affdd"/><stop offset="0.516" stop-color="#00ccff"/><stop offset="0.532" stop-color="#11fae6"/><stop offset="0.542" stop-color="#39ffbe"/><stop offset="0.548" stop-color="#0cf4eb"/><stop offset="0.564" stop-color="#005aff"/><stop offset="0.593" stop-color="#00bdff"/><stop offset="0.605" stop-color="#28ffcf"/><stop offset="0.618" stop-color="#00bcff"/><stop offset="0.631" stop-color="#38ffbf"/><stop offset="0.641" stop-color="#18ffdf"/><stop offset="0.650" stop-color="#0099ff"/><stop offset="0.669" stop-color="#0054ff"/><stop offset="0.701" stop-color="#0076ff"/><stop offset="0.714" stop-color="#1dffda"/><stop offset="0.733" stop-color="#3effb8"/><stop offset="0.743" stop-color="#12fce5"/><stop offset="0.752" stop-color="#009cff"/><stop offset="0.768" stop-color="#007dff"/><stop offset="0.788" stop-color="#00cfff"/><stop offset="0.794" stop-color="#29ffce"/><stop offset="0.816" stop-color="#1bffdc"/><stop offset="0.826" stop-color="#11fae6"/><stop offset="0.835" stop-color="#009bff"/><stop offset="0.861" stop-color="#0083ff"/><stop offset="0.871" stop-color="#0073ff"/><stop offset="0.887" stop-color="#0097ff"/><stop offset="0.893" stop-color="#00e4f8"/><stop offset="0.899" stop-color="#3dffba"/><stop offset="0.922" stop-color="#3fffb8"/><stop offset="0.925" stop-color="#22ffd5"/><stop offset="0.931" stop-color="#00a0ff"/><stop offset="0.944" stop-color="#002fff"/><stop offset="0.966" stop-color="#007cff"/><stop offset="0.986" stop-color="#007aff"/><stop offset="0.998" stop-color="#008cff"/></linearGradient><linearGradient id="s88"><stop offset="0.002" stop-color="#34ffc2"/><stop offset="0.021" stop-color="#27ffcf"/><stop offset="0.030" stop-color="#00d6ff"/><stop offset="0.046" stop-color="#0cf5eb"/><stop offset="0.059" stop-color="#39ffbe"/><stop offset="0.069" stop-color="#00d7ff"/><stop offset="0.094" stop-color="#00c3ff"/><stop offset="0.104" stop-color="#3cffbb"/><stop offset="0.117" stop-color="#32ffc5"/><stop offset="0.129" stop-color="#00c9ff"/><stop offset="0.139" stop-color="#00cbff"/><stop offset="0.149" stop-color="#41ffb6"/><stop offset="0.158" stop-color="#57ffa0"/><stop offset="0.171" stop-color="#00d8ff"/><stop offset="0.184" stop-color="#00a6ff"/><stop offset="0.200" stop-color="#21ffd6"/><stop offset="0.216" stop-color="#2dffc9"/><stop offset="0.228" stop-color="#00e5f7"/><stop offset="0.241" stop-color="#57ffa0"/><stop offset="0.257" stop-color="#08f0ee"/><stop offset="0.267" stop-color="#00a6ff"/><stop offset="0.280" stop-color="#008dff"/><stop offset="0.296" stop-color="#18ffdf"/><stop offset="0.308" stop-color="#54ffa3"/><stop offset="0.315" stop-color="#1dffda"/><stop offset="0.321" stop-color="#00bdff"/><stop offset="0.334" stop-color="#12fce5"/><stop offset="0.347" stop-color="#35ffc2"/><stop offset="0.359" stop-color="#00d7ff"/><stop offset="0.379" stop-color="#00b9ff"/><stop offset="0.385" stop-color="#06edf1"/><stop offset="0.395" stop-color="#4effa9"/><stop offset="0.417" stop-color="#3bffbb"/><stop offset="0.433" stop-color="#d1ff26"/><stop offset="0.439" stop-color="#b1ff46"/><stop offset="0.449" stop-color="#0cf4eb"/><stop offset="0.458" stop-color="#009cff"/><stop offset="0.490" stop-color="#12fce4"/><stop offset="0.510" stop-color="#2cffcb"/><stop offset="0.532" stop-color="#34ffc3"/><stop offset="0.542" stop-color="#49ffad"/><stop offset="0.548" stop-color="#11fae6"/><stop offset="0.561" stop-color="#00a2ff"/><stop offset="0.577" stop-color="#00aaff"/><stop offset="0.596" stop-color="#19ffde"/><stop offset="0.609" stop-color="#52ffa4"/><stop offset="0.621" stop-color="#1effd8"/><stop offset="0.637" stop-color="#66ff91"/><stop offset="0.647" stop-color="#10f9e7"/><stop offset="0.666" stop-color="#0090ff"/><stop offset="0.688" stop-color="#00afff"/><stop offset="0.701" stop-color="#0098ff"/><stop offset="0.711" stop-color="#0ff9e7"/><stop offset="0.720" stop-color="#3fffb8"/><stop offset="0.736" stop-color="#56ffa1"/><stop offset="0.749" stop-color="#04eaf3"/><stop offset="0.768" stop-color="#009dff"/><stop offset="0.788" stop-color="#13fde4"/><stop offset="0.797" stop-color="#43ffb4"/><stop offset="0.810" stop-color="#1fffd7"/><stop offset="0.823" stop-color="#57ffa0"/><stop offset="0.835" stop-color="#00e6f7"/><stop offset="0.861" stop-color="#00b2ff"/><stop offset="0.871" stop-color="#009dff"/><stop offset="0.890" stop-color="#00d4ff"/><stop offset="0.896" stop-color="#3bffbc"/><stop offset="0.903" stop-color="#60ff97"/><stop offset="0.922" stop-color="#69ff8e"/><stop offset="0.928" stop-color="#18ffdf"/><stop offset="0.938" stop-color="#00a5ff"/><stop offset="0.950" stop-color="#0079ff"/><stop offset="0.963" stop-color="#00a1ff"/><stop offset="0.976" stop-color="#0091ff"/><stop offset="0.998" stop-color="#00b0ff"/></linearGradient><linearGradient id="s89"><stop offset="0.002" stop-color="#2dffca"/><stop offset="0.018" stop-color="#43ffb4"/><stop offset="0.027" stop-color="#00d5ff"/><stop offset="0.040" stop-color="#00dffc"/><stop offset="0.056" stop-color="#45ffb2"/><stop offset="0.069" stop-color="#04eaf3"/><stop offset="0.091" stop-color="#00c0ff"/><stop offset="0.101" stop-color="#22ffd5"/><stop offset="0.120" stop-color="#26ffd0"/><stop offset="0.129" stop-color="#00bcff"/><stop offset="0.139" stop-color="#00c3ff"/><stop offset="0.149" stop-color="#32ffc5"/><stop offset="0.158" stop-color="#4cffab"/><stop offset="0.171" stop-color="#17ffe0"/><stop offset="0.181" stop-color="#00aeff"/><stop offset="0.200" stop-color="#1effd9"/><stop offset="0.219" stop-color="#25ffd2"/><stop offset="0.228" stop-color="#03eaf3"/><stop offset="0.241" stop-color="#62ff95"/><stop offset="0.257" stop-color="#15ffe2"/><stop offset="0.280" stop-color="#0090ff"/><stop offset="0.296" stop-color="#1affdd"/><stop offset="0.308" stop-color="#4dffa9"/><stop offset="0.321" stop-color="#00d8ff"/><stop offset="0.334" stop-color="#2affcd"/><stop offset="0.343" stop-color="#4fffa7"/><stop offset="0.356" stop-color="#01e7f5"/><stop offset="0.382" stop-color="#00acff"/><stop offset="0.391" stop-color="#2bffcc"/><stop offset="0.420" stop-color="#6fff88"/><stop offset="0.433" stop-color="#ffeb00"/><stop offset="0.439" stop-color="#cdff2a"/><stop offset="0.449" stop-color="#20ffd7"/><stop offset="0.455" stop-color="#00aeff"/><stop offset="0.474" stop-color="#00b2ff"/><stop offset="0.487" stop-color="#17ffe0"/><stop offset="0.506" stop-color="#4effa9"/><stop offset="0.522" stop-color="#08efef"/><stop offset="0.542" stop-color="#3dffba"/><stop offset="0.551" stop-color="#00c0ff"/><stop offset="0.580" stop-color="#00b5ff"/><stop offset="0.596" stop-color="#21ffd6"/><stop offset="0.612" stop-color="#4fffa8"/><stop offset="0.628" stop-color="#44ffb2"/><stop offset="0.641" stop-color="#53ffa4"/><stop offset="0.647" stop-color="#19ffde"/><stop offset="0.657" stop-color="#00afff"/><stop offset="0.673" stop-color="#00a5ff"/><stop offset="0.704" stop-color="#00bbff"/><stop offset="0.711" stop-color="#18ffdf"/><stop offset="0.717" stop-color="#66ff91"/><stop offset="0.743" stop-color="#4dffaa"/><stop offset="0.752" stop-color="#00defd"/><stop offset="0.772" stop-color="#00acff"/><stop offset="0.788" stop-color="#27ffcf"/><stop offset="0.800" stop-color="#53ffa4"/><stop offset="0.823" stop-color="#6bff8c"/><stop offset="0.835" stop-color="#00e0fc"/><stop offset="0.871" stop-color="#009eff"/><stop offset="0.887" stop-color="#00aeff"/><stop offset="0.893" stop-color="#04eaf3"/><stop offset="0.903" stop-color="#5eff98"/><stop offset="0.925" stop-color="#4affad"/><stop offset="0.931" stop-color="#02e7f5"/><stop offset="0.944" stop-color="#0095ff"/><stop offset="0.960" stop-color="#00c7ff"/><stop offset="0.986" stop-color="#0094ff"/><stop offset="0.998" stop-color="#0096ff"/></linearGradient><linearGradient id="s90"><stop offset="0.002" stop-color="#17ffe0"/><stop offset="0.014" stop-color="#31ffc6"/><stop offset="0.024" stop-color="#00c3ff"/><stop offset="0.037" stop-color="#00c2ff"/><stop offset="0.046" stop-color="#2affcd"/><stop offset="0.056" stop-color="#4affad"/><stop offset="0.069" stop-color="#00d9ff"/><stop offset="0.078" stop-color="#008aff"/><stop offset="0.094" stop-color="#00b9ff"/><stop offset="0.107" stop-color="#2cffcb"/><stop offset="0.117" stop-color="#3affbd"/><stop offset="0.126" stop-color="#00c7ff"/><stop offset="0.139" stop-color="#00afff"/><stop offset="0.149" stop-color="#24ffd3"/><stop offset="0.161" stop-color="#30ffc7"/><stop offset="0.171" stop-color="#00e0fb"/><stop offset="0.184" stop-color="#007fff"/><stop offset="0.206" stop-color="#0cf5eb"/><stop offset="0.235" stop-color="#1cffda"/><stop offset="0.244" stop-color="#50ffa7"/><stop offset="0.257" stop-color="#0bf3ec"/><stop offset="0.267" stop-color="#00a3ff"/><stop offset="0.283" stop-color="#00b0ff"/><stop offset="0.299" stop-color="#1cffdb"/><stop offset="0.308" stop-color="#2fffc8"/><stop offset="0.321" stop-color="#00c7ff"/><stop offset="0.340" stop-color="#39ffbe"/><stop offset="0.353" stop-color="#00dcff"/><stop offset="0.372" stop-color="#0083ff"/><stop offset="0.395" stop-color="#02e8f5"/><stop offset="0.417" stop-color="#5dff99"/><stop offset="0.430" stop-color="#f6f601"/><stop offset="0.436" stop-color="#f4f903"/><stop offset="0.449" stop-color="#09f1ee"/><stop offset="0.458" stop-color="#007eff"/><stop offset="0.478" stop-color="#0086ff"/><stop offset="0.490" stop-color="#22ffd4"/><stop offset="0.503" stop-color="#44ffb2"/><stop offset="0.513" stop-color="#0bf3ec"/><stop offset="0.522" stop-color="#00c2ff"/><stop offset="0.535" stop-color="#2cffcb"/><stop offset="0.545" stop-color="#29ffce"/><stop offset="0.554" stop-color="#00a8ff"/><stop offset="0.583" stop-color="#00aaff"/><stop offset="0.599" stop-color="#13fee3"/><stop offset="0.612" stop-color="#40ffb7"/><stop offset="0.625" stop-color="#37ffc0"/><stop offset="0.637" stop-color="#54ffa3"/><stop offset="0.647" stop-color="#06edf0"/><stop offset="0.657" stop-color="#007aff"/><stop offset="0.704" stop-color="#009cff"/><stop offset="0.711" stop-color="#08efef"/><stop offset="0.717" stop-color="#65ff91"/><stop offset="0.736" stop-color="#3affbd"/><stop offset="0.743" stop-color="#30ffc6"/><stop offset="0.749" stop-color="#00c1ff"/><stop offset="0.772" stop-color="#0068ff"/><stop offset="0.788" stop-color="#06edf1"/><stop offset="0.813" stop-color="#76ff81"/><stop offset="0.826" stop-color="#3affbd"/><stop offset="0.832" stop-color="#00d2ff"/><stop offset="0.864" stop-color="#0075ff"/><stop offset="0.887" stop-color="#0087ff"/><stop offset="0.896" stop-color="#13fde4"/><stop offset="0.906" stop-color="#44ffb2"/><stop offset="0.925" stop-color="#34ffc3"/><stop offset="0.931" stop-color="#00bbff"/><stop offset="0.941" stop-color="#0083ff"/><stop offset="0.970" stop-color="#009bff"/><stop offset="0.992" stop-color="#0073ff"/><stop offset="0.998" stop-color="#0089ff"/></linearGradient><linearGradient id="s91"><stop offset="0.002" stop-color="#14ffe2"/><stop offset="0.011" stop-color="#47ffb0"/><stop offset="0.027" stop-color="#00daff"/><stop offset="0.043" stop-color="#18ffdf"/><stop offset="0.053" stop-color="#65ff91"/><stop offset="0.069" stop-color="#00e0fb"/><stop offset="0.078" stop-color="#00a8ff"/><stop offset="0.097" stop-color="#08f0ef"/><stop offset="0.113" stop-color="#61ff96"/><stop offset="0.129" stop-color="#00ddfe"/><stop offset="0.139" stop-color="#00beff"/><stop offset="0.149" stop-color="#32ffc5"/><stop offset="0.158" stop-color="#51ffa6"/><stop offset="0.171" stop-color="#0af2ed"/><stop offset="0.187" stop-color="#008fff"/><stop offset="0.200" stop-color="#19ffde"/><stop offset="0.232" stop-color="#01e7f5"/><stop offset="0.244" stop-color="#49ffae"/><stop offset="0.257" stop-color="#1affdd"/><stop offset="0.264" stop-color="#00b6ff"/><stop offset="0.273" stop-color="#00abff"/><stop offset="0.296" stop-color="#22ffd4"/><stop offset="0.308" stop-color="#3bffbc"/><stop offset="0.327" stop-color="#00e3f9"/><stop offset="0.343" stop-color="#4cffab"/><stop offset="0.356" stop-color="#00d9ff"/><stop offset="0.372" stop-color="#0095ff"/><stop offset="0.391" stop-color="#01e6f6"/><stop offset="0.417" stop-color="#60ff97"/><stop offset="0.430" stop-color="#f8f400"/><stop offset="0.436" stop-color="#d8ff1e"/><stop offset="0.449" stop-color="#0bf3ec"/><stop offset="0.455" stop-color="#00a0ff"/><stop offset="0.478" stop-color="#00a8ff"/><stop offset="0.490" stop-color="#21ffd6"/><stop offset="0.500" stop-color="#5cff9b"/><stop offset="0.513" stop-color="#33ffc3"/><stop offset="0.522" stop-color="#00c6ff"/><stop offset="0.532" stop-color="#37ffc0"/><stop offset="0.545" stop-color="#30ffc7"/><stop offset="0.558" stop-color="#00baff"/><stop offset="0.583" stop-color="#00b0ff"/><stop offset="0.593" stop-color="#17ffdf"/><stop offset="0.618" stop-color="#48ffae"/><stop offset="0.641" stop-color="#4effa9"/><stop offset="0.647" stop-color="#00d9ff"/><stop offset="0.657" stop-color="#0089ff"/><stop offset="0.676" stop-color="#00a1ff"/><stop offset="0.704" stop-color="#009eff"/><stop offset="0.711" stop-color="#0df6ea"/><stop offset="0.717" stop-color="#71ff86"/><stop offset="0.743" stop-color="#46ffb1"/><stop offset="0.749" stop-color="#00d0ff"/><stop offset="0.772" stop-color="#0082ff"/><stop offset="0.788" stop-color="#01e7f6"/><stop offset="0.807" stop-color="#66ff91"/><stop offset="0.826" stop-color="#3affbd"/><stop offset="0.835" stop-color="#00d9ff"/><stop offset="0.851" stop-color="#009fff"/><stop offset="0.867" stop-color="#0080ff"/><stop offset="0.887" stop-color="#00afff"/><stop offset="0.893" stop-color="#03e9f4"/><stop offset="0.903" stop-color="#5cff9b"/><stop offset="0.922" stop-color="#55ffa2"/><stop offset="0.928" stop-color="#0ff8e8"/><stop offset="0.938" stop-color="#00a3ff"/><stop offset="0.995" stop-color="#0086ff"/><stop offset="0.998" stop-color="#0090ff"/></linearGradient><linearGradient id="s92"><stop offset="0.002" stop-color="#2effc9"/><stop offset="0.014" stop-color="#56ffa1"/><stop offset="0.034" stop-color="#29ffcd"/><stop offset="0.056" stop-color="#91ff66"/><stop offset="0.078" stop-color="#0cf5eb"/><stop offset="0.104" stop-color="#54ffa3"/><stop offset="0.113" stop-color="#8eff69"/><stop offset="0.136" stop-color="#0af2ed"/><stop offset="0.155" stop-color="#82ff75"/><stop offset="0.181" stop-color="#0cf5eb"/><stop offset="0.206" stop-color="#6dff8a"/><stop offset="0.228" stop-color="#2bffcc"/><stop offset="0.244" stop-color="#83ff74"/><stop offset="0.254" stop-color="#6cff8b"/><stop offset="0.264" stop-color="#00e4f8"/><stop offset="0.273" stop-color="#00e5f8"/><stop offset="0.305" stop-color="#79ff7e"/><stop offset="0.327" stop-color="#38ffbf"/><stop offset="0.347" stop-color="#76ff80"/><stop offset="0.366" stop-color="#05ecf2"/><stop offset="0.379" stop-color="#08efef"/><stop offset="0.407" stop-color="#68ff8f"/><stop offset="0.423" stop-color="#91ff66"/><stop offset="0.436" stop-color="#cbff2b"/><stop offset="0.452" stop-color="#04eaf3"/><stop offset="0.484" stop-color="#22ffd4"/><stop offset="0.500" stop-color="#8dff69"/><stop offset="0.513" stop-color="#50ffa7"/><stop offset="0.522" stop-color="#1fffd7"/><stop offset="0.538" stop-color="#76ff80"/><stop offset="0.561" stop-color="#02e7f5"/><stop offset="0.583" stop-color="#10fae6"/><stop offset="0.596" stop-color="#69ff8d"/><stop offset="0.641" stop-color="#7aff7d"/><stop offset="0.650" stop-color="#00e3f9"/><stop offset="0.685" stop-color="#00cfff"/><stop offset="0.708" stop-color="#15ffe2"/><stop offset="0.717" stop-color="#96ff60"/><stop offset="0.743" stop-color="#72ff85"/><stop offset="0.756" stop-color="#1effd9"/><stop offset="0.775" stop-color="#00d9ff"/><stop offset="0.788" stop-color="#4fffa7"/><stop offset="0.800" stop-color="#84ff73"/><stop offset="0.823" stop-color="#8cff6a"/><stop offset="0.845" stop-color="#06edf1"/><stop offset="0.867" stop-color="#00cbff"/><stop offset="0.893" stop-color="#26ffd1"/><stop offset="0.906" stop-color="#9bff5c"/><stop offset="0.925" stop-color="#71ff86"/><stop offset="0.935" stop-color="#09f0ee"/><stop offset="0.950" stop-color="#00b7ff"/><stop offset="0.970" stop-color="#00ccff"/><stop offset="0.998" stop-color="#00c2ff"/></linearGradient><linearGradient id="s93"><stop offset="0.002" stop-color="#21ffd5"/><stop offset="0.018" stop-color="#62ff95"/><stop offset="0.034" stop-color="#14fee3"/><stop offset="0.059" stop-color="#82ff74"/><stop offset="0.081" stop-color="#0cf4eb"/><stop offset="0.117" stop-color="#78ff7f"/><stop offset="0.139" stop-color="#0cf5ea"/><stop offset="0.158" stop-color="#8cff6b"/><stop offset="0.177" stop-color="#16ffe0"/><stop offset="0.193" stop-color="#2bffcc"/><stop offset="0.206" stop-color="#77ff80"/><stop offset="0.222" stop-color="#3cffbb"/><stop offset="0.235" stop-color="#5eff98"/><stop offset="0.248" stop-color="#7bff7c"/><stop offset="0.260" stop-color="#04eaf3"/><stop offset="0.273" stop-color="#00cfff"/><stop offset="0.289" stop-color="#42ffb5"/><stop offset="0.302" stop-color="#91ff65"/><stop offset="0.315" stop-color="#4bffac"/><stop offset="0.324" stop-color="#17ffe0"/><stop offset="0.343" stop-color="#72ff84"/><stop offset="0.366" stop-color="#00e1fa"/><stop offset="0.391" stop-color="#37ffc0"/><stop offset="0.423" stop-color="#67ff90"/><stop offset="0.436" stop-color="#a4ff53"/><stop offset="0.446" stop-color="#3bffbb"/><stop offset="0.452" stop-color="#00ceff"/><stop offset="0.481" stop-color="#23ffd4"/><stop offset="0.503" stop-color="#95ff62"/><stop offset="0.519" stop-color="#34ffc2"/><stop offset="0.538" stop-color="#76ff81"/><stop offset="0.554" stop-color="#07eef0"/><stop offset="0.564" stop-color="#00c1ff"/><stop offset="0.586" stop-color="#27ffd0"/><stop offset="0.605" stop-color="#7bff7c"/><stop offset="0.618" stop-color="#5eff99"/><stop offset="0.637" stop-color="#84ff73"/><stop offset="0.650" stop-color="#04eaf3"/><stop offset="0.663" stop-color="#00b0ff"/><stop offset="0.708" stop-color="#04eaf3"/><stop offset="0.717" stop-color="#93ff64"/><stop offset="0.743" stop-color="#7dff7a"/><stop offset="0.752" stop-color="#25ffd2"/><stop offset="0.768" stop-color="#00cdff"/><stop offset="0.781" stop-color="#18ffdf"/><stop offset="0.794" stop-color="#8eff69"/><stop offset="0.810" stop-color="#70ff86"/><stop offset="0.823" stop-color="#90ff67"/><stop offset="0.835" stop-color="#37ffc0"/><stop offset="0.845" stop-color="#04ebf2"/><stop offset="0.855" stop-color="#00cfff"/><stop offset="0.893" stop-color="#22ffd5"/><stop offset="0.906" stop-color="#8dff6a"/><stop offset="0.925" stop-color="#6dff89"/><stop offset="0.935" stop-color="#05ebf2"/><stop offset="0.954" stop-color="#00b2ff"/><stop offset="0.998" stop-color="#04eaf3"/></linearGradient><linearGradient id="s94"><stop offset="0.002" stop-color="#1effd8"/><stop offset="0.018" stop-color="#55ffa2"/><stop offset="0.027" stop-color="#00e3f9"/><stop offset="0.037" stop-color="#00bcff"/><stop offset="0.046" stop-color="#14fee3"/><stop offset="0.056" stop-color="#42ffb5"/><stop offset="0.065" stop-color="#02e8f5"/><stop offset="0.085" stop-color="#00b3ff"/><stop offset="0.097" stop-color="#19ffde"/><stop offset="0.110" stop-color="#32ffc5"/><stop offset="0.123" stop-color="#21ffd6"/><stop offset="0.136" stop-color="#00baff"/><stop offset="0.145" stop-color="#07efef"/><stop offset="0.158" stop-color="#6dff8a"/><stop offset="0.168" stop-color="#17ffe0"/><stop offset="0.177" stop-color="#00a2ff"/><stop offset="0.196" stop-color="#08efef"/><stop offset="0.206" stop-color="#38ffbf"/><stop offset="0.219" stop-color="#00e5f7"/><stop offset="0.248" stop-color="#3affbc"/><stop offset="0.254" stop-color="#0df6ea"/><stop offset="0.264" stop-color="#0066ff"/><stop offset="0.286" stop-color="#00bfff"/><stop offset="0.296" stop-color="#34ffc2"/><stop offset="0.305" stop-color="#4fffa7"/><stop offset="0.315" stop-color="#00e0fb"/><stop offset="0.324" stop-color="#00b4ff"/><stop offset="0.334" stop-color="#0bf4eb"/><stop offset="0.343" stop-color="#5aff9d"/><stop offset="0.353" stop-color="#08efef"/><stop offset="0.363" stop-color="#008eff"/><stop offset="0.379" stop-color="#0094ff"/><stop offset="0.398" stop-color="#1dffd9"/><stop offset="0.420" stop-color="#31ffc6"/><stop offset="0.433" stop-color="#6dff8a"/><stop offset="0.446" stop-color="#00e5f8"/><stop offset="0.455" stop-color="#0082ff"/><stop offset="0.474" stop-color="#009bff"/><stop offset="0.487" stop-color="#0af2ed"/><stop offset="0.503" stop-color="#54ffa3"/><stop offset="0.516" stop-color="#17ffe0"/><stop offset="0.529" stop-color="#20ffd7"/><stop offset="0.542" stop-color="#4fffa7"/><stop offset="0.551" stop-color="#00e0fb"/><stop offset="0.561" stop-color="#0072ff"/><stop offset="0.577" stop-color="#00a5ff"/><stop offset="0.586" stop-color="#00a8ff"/><stop offset="0.596" stop-color="#0cf5eb"/><stop offset="0.605" stop-color="#4fffa7"/><stop offset="0.618" stop-color="#12fbe5"/><stop offset="0.634" stop-color="#55ffa2"/><stop offset="0.641" stop-color="#2cffcb"/><stop offset="0.644" stop-color="#00e6f7"/><stop offset="0.657" stop-color="#0072ff"/><stop offset="0.701" stop-color="#007aff"/><stop offset="0.711" stop-color="#00ceff"/><stop offset="0.714" stop-color="#21ffd6"/><stop offset="0.717" stop-color="#5bff9b"/><stop offset="0.743" stop-color="#3effb8"/><stop offset="0.746" stop-color="#09f0ee"/><stop offset="0.756" stop-color="#009fff"/><stop offset="0.772" stop-color="#0087ff"/><stop offset="0.784" stop-color="#00c5ff"/><stop offset="0.791" stop-color="#2bffcc"/><stop offset="0.797" stop-color="#68ff8f"/><stop offset="0.813" stop-color="#3fffb8"/><stop offset="0.823" stop-color="#4fffa8"/><stop offset="0.832" stop-color="#00d2ff"/><stop offset="0.858" stop-color="#0064ff"/><stop offset="0.877" stop-color="#00a8ff"/><stop offset="0.887" stop-color="#00a3ff"/><stop offset="0.893" stop-color="#00ddfe"/><stop offset="0.899" stop-color="#4fffa8"/><stop offset="0.925" stop-color="#42ffb5"/><stop offset="0.928" stop-color="#12fce5"/><stop offset="0.938" stop-color="#0090ff"/><stop offset="0.966" stop-color="#0066ff"/><stop offset="0.982" stop-color="#0087ff"/><stop offset="0.998" stop-color="#0086ff"/></linearGradient><linearGradient id="s95"><stop offset="0.002" stop-color="#0ef7e9"/><stop offset="0.018" stop-color="#28ffcf"/><stop offset="0.024" stop-color="#00d6ff"/><stop offset="0.034" stop-color="#007dff"/><stop offset="0.043" stop-color="#00a4ff"/><stop offset="0.050" stop-color="#0ef7e8"/><stop offset="0.059" stop-color="#17ffdf"/><stop offset="0.078" stop-color="#0059ff"/><stop offset="0.104" stop-color="#11fbe6"/><stop offset="0.120" stop-color="#00d3ff"/><stop offset="0.136" stop-color="#0078ff"/><stop offset="0.145" stop-color="#00b8ff"/><stop offset="0.152" stop-color="#22ffd5"/><stop offset="0.161" stop-color="#21ffd6"/><stop offset="0.168" stop-color="#00c6ff"/><stop offset="0.174" stop-color="#006aff"/><stop offset="0.187" stop-color="#0080ff"/><stop offset="0.212" stop-color="#0af2ed"/><stop offset="0.228" stop-color="#00c9ff"/><stop offset="0.244" stop-color="#21ffd6"/><stop offset="0.254" stop-color="#00e2f9"/><stop offset="0.264" stop-color="#0053ff"/><stop offset="0.280" stop-color="#006cff"/><stop offset="0.292" stop-color="#00c7ff"/><stop offset="0.302" stop-color="#17ffe0"/><stop offset="0.324" stop-color="#009bff"/><stop offset="0.334" stop-color="#00daff"/><stop offset="0.340" stop-color="#28ffce"/><stop offset="0.350" stop-color="#0ef7e8"/><stop offset="0.366" stop-color="#0042ff"/><stop offset="0.385" stop-color="#0096ff"/><stop offset="0.395" stop-color="#00b3ff"/><stop offset="0.401" stop-color="#05ecf2"/><stop offset="0.420" stop-color="#1affdd"/><stop offset="0.433" stop-color="#52ffa4"/><stop offset="0.442" stop-color="#01e7f6"/><stop offset="0.458" stop-color="#0053ff"/><stop offset="0.478" stop-color="#0081ff"/><stop offset="0.506" stop-color="#17ffe0"/><stop offset="0.526" stop-color="#00d0ff"/><stop offset="0.535" stop-color="#2dffca"/><stop offset="0.545" stop-color="#1effd8"/><stop offset="0.551" stop-color="#00adff"/><stop offset="0.564" stop-color="#0038ff"/><stop offset="0.586" stop-color="#0073ff"/><stop offset="0.599" stop-color="#09f1ee"/><stop offset="0.609" stop-color="#1affdc"/><stop offset="0.618" stop-color="#00d2ff"/><stop offset="0.634" stop-color="#48ffaf"/><stop offset="0.641" stop-color="#1effd9"/><stop offset="0.647" stop-color="#0095ff"/><stop offset="0.657" stop-color="#0055ff"/><stop offset="0.685" stop-color="#0028ff"/><stop offset="0.704" stop-color="#0077ff"/><stop offset="0.714" stop-color="#17ffdf"/><stop offset="0.717" stop-color="#4bffac"/><stop offset="0.743" stop-color="#1affdd"/><stop offset="0.749" stop-color="#0084ff"/><stop offset="0.772" stop-color="#004dff"/><stop offset="0.788" stop-color="#00acff"/><stop offset="0.791" stop-color="#00dcfe"/><stop offset="0.797" stop-color="#4dffaa"/><stop offset="0.826" stop-color="#11fae6"/><stop offset="0.839" stop-color="#007bff"/><stop offset="0.861" stop-color="#003bff"/><stop offset="0.887" stop-color="#0070ff"/><stop offset="0.896" stop-color="#11fbe5"/><stop offset="0.899" stop-color="#41ffb6"/><stop offset="0.919" stop-color="#1effd9"/><stop offset="0.925" stop-color="#15ffe2"/><stop offset="0.935" stop-color="#0076ff"/><stop offset="0.970" stop-color="#0043ff"/><stop offset="0.986" stop-color="#0049ff"/><stop offset="0.998" stop-color="#0040ff"/></linearGradient><linearGradient id="s96"><stop offset="0.002" stop-color="#0bf3ec"/><stop offset="0.014" stop-color="#1bffdc"/><stop offset="0.034" stop-color="#006bff"/><stop offset="0.046" stop-color="#00b9ff"/><stop offset="0.056" stop-color="#13fde4"/><stop offset="0.069" stop-color="#008bff"/><stop offset="0.081" stop-color="#003bff"/><stop offset="0.107" stop-color="#08efef"/><stop offset="0.120" stop-color="#00bbff"/><stop offset="0.136" stop-color="#003fff"/><stop offset="0.145" stop-color="#00a4ff"/><stop offset="0.152" stop-color="#19ffdd"/><stop offset="0.161" stop-color="#15ffe2"/><stop offset="0.177" stop-color="#0056ff"/><stop offset="0.190" stop-color="#005aff"/><stop offset="0.206" stop-color="#00d3ff"/><stop offset="0.212" stop-color="#0bf4eb"/><stop offset="0.225" stop-color="#00a4ff"/><stop offset="0.235" stop-color="#00dcfe"/><stop offset="0.244" stop-color="#14fee3"/><stop offset="0.254" stop-color="#00e0fc"/><stop offset="0.264" stop-color="#0044ff"/><stop offset="0.273" stop-color="#0044ff"/><stop offset="0.292" stop-color="#00b4ff"/><stop offset="0.302" stop-color="#00e5f7"/><stop offset="0.327" stop-color="#0080ff"/><stop offset="0.340" stop-color="#1dffd9"/><stop offset="0.347" stop-color="#0af2ed"/><stop offset="0.363" stop-color="#004eff"/><stop offset="0.372" stop-color="#0043ff"/><stop offset="0.395" stop-color="#00c4ff"/><stop offset="0.404" stop-color="#06edf1"/><stop offset="0.423" stop-color="#20ffd7"/><stop offset="0.436" stop-color="#3affbc"/><stop offset="0.442" stop-color="#00d8ff"/><stop offset="0.458" stop-color="#003dff"/><stop offset="0.484" stop-color="#0090ff"/><stop offset="0.506" stop-color="#0df6ea"/><stop offset="0.522" stop-color="#00a1ff"/><stop offset="0.538" stop-color="#1affdd"/><stop offset="0.545" stop-color="#00e0fb"/><stop offset="0.561" stop-color="#0011ff"/><stop offset="0.583" stop-color="#004fff"/><stop offset="0.602" stop-color="#0df6ea"/><stop offset="0.618" stop-color="#00b0ff"/><stop offset="0.628" stop-color="#1dffda"/><stop offset="0.637" stop-color="#3bffbc"/><stop offset="0.641" stop-color="#18ffdf"/><stop offset="0.650" stop-color="#005eff"/><stop offset="0.682" stop-color="#0005ff"/><stop offset="0.701" stop-color="#005fff"/><stop offset="0.711" stop-color="#00e2fa"/><stop offset="0.717" stop-color="#4bffac"/><stop offset="0.730" stop-color="#0df6ea"/><stop offset="0.743" stop-color="#0bf3ec"/><stop offset="0.752" stop-color="#0063ff"/><stop offset="0.775" stop-color="#003fff"/><stop offset="0.794" stop-color="#00dbff"/><stop offset="0.800" stop-color="#2fffc8"/><stop offset="0.823" stop-color="#14fee3"/><stop offset="0.835" stop-color="#004eff"/><stop offset="0.871" stop-color="#0016ff"/><stop offset="0.890" stop-color="#0087ff"/><stop offset="0.896" stop-color="#08efef"/><stop offset="0.899" stop-color="#2fffc8"/><stop offset="0.912" stop-color="#0ff9e7"/><stop offset="0.925" stop-color="#0af1ed"/><stop offset="0.935" stop-color="#0067ff"/><stop offset="0.950" stop-color="#0029ff"/><stop offset="0.992" stop-color="#0030ff"/><stop offset="0.998" stop-color="#001aff"/></linearGradient><linearGradient id="s97"><stop offset="0.002" stop-color="#17ffe0"/><stop offset="0.024" stop-color="#00e2fa"/><stop offset="0.037" stop-color="#0092ff"/><stop offset="0.046" stop-color="#00c8ff"/><stop offset="0.053" stop-color="#24ffd3"/><stop offset="0.062" stop-color="#0bf3ec"/><stop offset="0.075" stop-color="#0080ff"/><stop offset="0.091" stop-color="#0096ff"/><stop offset="0.104" stop-color="#10f9e7"/><stop offset="0.120" stop-color="#00c5ff"/><stop offset="0.133" stop-color="#0065ff"/><stop offset="0.142" stop-color="#00a0ff"/><stop offset="0.149" stop-color="#16ffe1"/><stop offset="0.158" stop-color="#47ffaf"/><stop offset="0.165" stop-color="#13fde4"/><stop offset="0.174" stop-color="#007dff"/><stop offset="0.187" stop-color="#005aff"/><stop offset="0.203" stop-color="#00c8ff"/><stop offset="0.212" stop-color="#18ffdf"/><stop offset="0.225" stop-color="#00acff"/><stop offset="0.235" stop-color="#0ff8e8"/><stop offset="0.244" stop-color="#47ffb0"/><stop offset="0.254" stop-color="#14ffe2"/><stop offset="0.264" stop-color="#0071ff"/><stop offset="0.273" stop-color="#0065ff"/><stop offset="0.289" stop-color="#00ccff"/><stop offset="0.299" stop-color="#20ffd7"/><stop offset="0.315" stop-color="#00d1ff"/><stop offset="0.324" stop-color="#009bff"/><stop offset="0.334" stop-color="#08efef"/><stop offset="0.340" stop-color="#44ffb3"/><stop offset="0.350" stop-color="#01e6f6"/><stop offset="0.359" stop-color="#0077ff"/><stop offset="0.372" stop-color="#0052ff"/><stop offset="0.398" stop-color="#0ef7e8"/><stop offset="0.420" stop-color="#0ef7e9"/><stop offset="0.436" stop-color="#48ffaf"/><stop offset="0.442" stop-color="#11fbe6"/><stop offset="0.462" stop-color="#004aff"/><stop offset="0.481" stop-color="#0091ff"/><stop offset="0.494" stop-color="#17ffe0"/><stop offset="0.510" stop-color="#00e1fb"/><stop offset="0.522" stop-color="#00a8ff"/><stop offset="0.532" stop-color="#1affdd"/><stop offset="0.542" stop-color="#1dffda"/><stop offset="0.554" stop-color="#0069ff"/><stop offset="0.570" stop-color="#004eff"/><stop offset="0.586" stop-color="#008cff"/><stop offset="0.599" stop-color="#15ffe2"/><stop offset="0.612" stop-color="#01e6f6"/><stop offset="0.621" stop-color="#00e2fa"/><stop offset="0.634" stop-color="#40ffb7"/><stop offset="0.641" stop-color="#1bffdc"/><stop offset="0.647" stop-color="#008dff"/><stop offset="0.660" stop-color="#0059ff"/><stop offset="0.685" stop-color="#0047ff"/><stop offset="0.701" stop-color="#005fff"/><stop offset="0.711" stop-color="#06edf1"/><stop offset="0.717" stop-color="#59ff9e"/><stop offset="0.730" stop-color="#22ffd5"/><stop offset="0.743" stop-color="#34ffc3"/><stop offset="0.749" stop-color="#00c6ff"/><stop offset="0.762" stop-color="#0077ff"/><stop offset="0.784" stop-color="#008cff"/><stop offset="0.797" stop-color="#1affdd"/><stop offset="0.819" stop-color="#3cffba"/><stop offset="0.826" stop-color="#03e9f4"/><stop offset="0.839" stop-color="#0052ff"/><stop offset="0.855" stop-color="#001bff"/><stop offset="0.890" stop-color="#0095ff"/><stop offset="0.896" stop-color="#11fbe6"/><stop offset="0.899" stop-color="#40ffb7"/><stop offset="0.915" stop-color="#3dffba"/><stop offset="0.925" stop-color="#32ffc4"/><stop offset="0.928" stop-color="#00e5f7"/><stop offset="0.941" stop-color="#005eff"/><stop offset="0.966" stop-color="#004eff"/><stop offset="0.992" stop-color="#003dff"/><stop offset="0.998" stop-color="#0046ff"/></linearGradient><linearGradient id="s98"><stop offset="0.002" stop-color="#19ffde"/><stop offset="0.027" stop-color="#1fffd8"/><stop offset="0.040" stop-color="#0cf4eb"/><stop offset="0.059" stop-color="#48ffaf"/><stop offset="0.065" stop-color="#1effd9"/><stop offset="0.072" stop-color="#00b3ff"/><stop offset="0.088" stop-color="#00b9ff"/><stop offset="0.097" stop-color="#10f9e7"/><stop offset="0.110" stop-color="#42ffb5"/><stop offset="0.123" stop-color="#05ecf2"/><stop offset="0.133" stop-color="#00a6ff"/><stop offset="0.142" stop-color="#00e1fa"/><stop offset="0.152" stop-color="#66ff91"/><stop offset="0.161" stop-color="#67ff8f"/><stop offset="0.171" stop-color="#00e1fa"/><stop offset="0.181" stop-color="#009aff"/><stop offset="0.200" stop-color="#16ffe1"/><stop offset="0.235" stop-color="#2effc9"/><stop offset="0.244" stop-color="#78ff7f"/><stop offset="0.260" stop-color="#00e5f7"/><stop offset="0.270" stop-color="#00b3ff"/><stop offset="0.286" stop-color="#0af2ec"/><stop offset="0.299" stop-color="#41ffb5"/><stop offset="0.324" stop-color="#08efef"/><stop offset="0.343" stop-color="#61ff96"/><stop offset="0.356" stop-color="#00e4f8"/><stop offset="0.366" stop-color="#009dff"/><stop offset="0.391" stop-color="#14fee3"/><stop offset="0.407" stop-color="#3effb9"/><stop offset="0.420" stop-color="#2cffcb"/><stop offset="0.436" stop-color="#6fff88"/><stop offset="0.449" stop-color="#04ebf2"/><stop offset="0.462" stop-color="#009fff"/><stop offset="0.481" stop-color="#00d8ff"/><stop offset="0.490" stop-color="#45ffb2"/><stop offset="0.500" stop-color="#51ffa5"/><stop offset="0.510" stop-color="#00e3f9"/><stop offset="0.519" stop-color="#00d0ff"/><stop offset="0.529" stop-color="#46ffb1"/><stop offset="0.538" stop-color="#78ff7f"/><stop offset="0.561" stop-color="#00dffc"/><stop offset="0.583" stop-color="#00b9ff"/><stop offset="0.589" stop-color="#1dffda"/><stop offset="0.609" stop-color="#3fffb8"/><stop offset="0.625" stop-color="#50ffa7"/><stop offset="0.637" stop-color="#63ff94"/><stop offset="0.647" stop-color="#00e5f7"/><stop offset="0.657" stop-color="#00adff"/><stop offset="0.673" stop-color="#00a2ff"/><stop offset="0.688" stop-color="#009eff"/><stop offset="0.708" stop-color="#00e0fc"/><stop offset="0.717" stop-color="#66ff91"/><stop offset="0.743" stop-color="#6aff8d"/><stop offset="0.756" stop-color="#0af1ed"/><stop offset="0.765" stop-color="#00c2ff"/><stop offset="0.784" stop-color="#00e4f8"/><stop offset="0.800" stop-color="#5bff9c"/><stop offset="0.823" stop-color="#70ff87"/><stop offset="0.835" stop-color="#00dffc"/><stop offset="0.858" stop-color="#0087ff"/><stop offset="0.871" stop-color="#00cdff"/><stop offset="0.887" stop-color="#00c8ff"/><stop offset="0.896" stop-color="#34ffc3"/><stop offset="0.906" stop-color="#6aff8d"/><stop offset="0.922" stop-color="#72ff85"/><stop offset="0.928" stop-color="#19ffde"/><stop offset="0.935" stop-color="#00c6ff"/><stop offset="0.950" stop-color="#00a6ff"/><stop offset="0.992" stop-color="#009bff"/><stop offset="0.998" stop-color="#0099ff"/></linearGradient><linearGradient id="s99"><stop offset="0.002" stop-color="#46ffb1"/><stop offset="0.011" stop-color="#85ff72"/><stop offset="0.034" stop-color="#3bffbc"/><stop offset="0.043" stop-color="#60ff96"/><stop offset="0.050" stop-color="#a7ff50"/><stop offset="0.065" stop-color="#7bff7c"/><stop offset="0.075" stop-color="#04ebf2"/><stop offset="0.110" stop-color="#86ff71"/><stop offset="0.123" stop-color="#72ff84"/><stop offset="0.133" stop-color="#2effc9"/><stop offset="0.145" stop-color="#65ff92"/><stop offset="0.152" stop-color="#aeff48"/><stop offset="0.165" stop-color="#81ff76"/><stop offset="0.177" stop-color="#35ffc2"/><stop offset="0.228" stop-color="#82ff75"/><stop offset="0.235" stop-color="#74ff83"/><stop offset="0.244" stop-color="#bbff3c"/><stop offset="0.267" stop-color="#4bffab"/><stop offset="0.283" stop-color="#41ffb6"/><stop offset="0.296" stop-color="#86ff70"/><stop offset="0.324" stop-color="#4fffa8"/><stop offset="0.340" stop-color="#a5ff52"/><stop offset="0.353" stop-color="#7eff79"/><stop offset="0.366" stop-color="#2affcc"/><stop offset="0.407" stop-color="#80ff76"/><stop offset="0.427" stop-color="#90ff67"/><stop offset="0.439" stop-color="#a0ff56"/><stop offset="0.449" stop-color="#3dffba"/><stop offset="0.471" stop-color="#3cffbb"/><stop offset="0.500" stop-color="#8eff69"/><stop offset="0.516" stop-color="#32ffc5"/><stop offset="0.526" stop-color="#52ffa5"/><stop offset="0.535" stop-color="#caff2d"/><stop offset="0.548" stop-color="#98ff5f"/><stop offset="0.561" stop-color="#4bffac"/><stop offset="0.583" stop-color="#29ffce"/><stop offset="0.596" stop-color="#76ff80"/><stop offset="0.618" stop-color="#6fff88"/><stop offset="0.625" stop-color="#71ff86"/><stop offset="0.637" stop-color="#aeff49"/><stop offset="0.653" stop-color="#4affac"/><stop offset="0.688" stop-color="#30ffc7"/><stop offset="0.714" stop-color="#61ff95"/><stop offset="0.724" stop-color="#a7ff50"/><stop offset="0.740" stop-color="#a8ff4f"/><stop offset="0.752" stop-color="#60ff96"/><stop offset="0.778" stop-color="#42ffb5"/><stop offset="0.800" stop-color="#9cff5b"/><stop offset="0.807" stop-color="#94ff63"/><stop offset="0.816" stop-color="#dbff1c"/><stop offset="0.826" stop-color="#a4ff53"/><stop offset="0.835" stop-color="#4fffa8"/><stop offset="0.855" stop-color="#37ffc0"/><stop offset="0.883" stop-color="#2affcd"/><stop offset="0.912" stop-color="#bfff38"/><stop offset="0.922" stop-color="#aeff48"/><stop offset="0.931" stop-color="#41ffb6"/><stop offset="0.982" stop-color="#31ffc6"/><stop offset="0.995" stop-color="#39ffbe"/><stop offset="0.998" stop-color="#2dffca"/></linearGradient><linearGradient id="s100"><stop offset="0.002" stop-color="#bfff38"/><stop offset="0.011" stop-color="#ebff0c"/><stop offset="0.030" stop-color="#aeff49"/><stop offset="0.040" stop-color="#ceff28"/><stop offset="0.043" stop-color="#9dff5a"/><stop offset="0.046" stop-color="#ffe100"/><stop offset="0.053" stop-color="#ffb200"/><stop offset="0.065" stop-color="#f3fa04"/><stop offset="0.072" stop-color="#90ff67"/><stop offset="0.081" stop-color="#9aff5c"/><stop offset="0.104" stop-color="#f1fd06"/><stop offset="0.123" stop-color="#d7ff20"/><stop offset="0.133" stop-color="#c0ff37"/><stop offset="0.139" stop-color="#caff2d"/><stop offset="0.142" stop-color="#8bff6b"/><stop offset="0.145" stop-color="#9bff5c"/><stop offset="0.149" stop-color="#ffec00"/><stop offset="0.155" stop-color="#ffb400"/><stop offset="0.165" stop-color="#edff0a"/><stop offset="0.171" stop-color="#94ff63"/><stop offset="0.181" stop-color="#b1ff46"/><stop offset="0.209" stop-color="#e8ff0f"/><stop offset="0.228" stop-color="#d9ff1e"/><stop offset="0.232" stop-color="#97ff60"/><stop offset="0.235" stop-color="#beff39"/><stop offset="0.238" stop-color="#ffcb00"/><stop offset="0.248" stop-color="#ffc500"/><stop offset="0.254" stop-color="#f7f500"/><stop offset="0.260" stop-color="#b9ff3e"/><stop offset="0.283" stop-color="#beff39"/><stop offset="0.292" stop-color="#f8f400"/><stop offset="0.327" stop-color="#cfff28"/><stop offset="0.331" stop-color="#9fff58"/><stop offset="0.334" stop-color="#f3fa04"/><stop offset="0.340" stop-color="#ffb500"/><stop offset="0.353" stop-color="#ffec00"/><stop offset="0.359" stop-color="#aaff4d"/><stop offset="0.407" stop-color="#f2fb05"/><stop offset="0.417" stop-color="#e9ff0e"/><stop offset="0.420" stop-color="#b2ff44"/><stop offset="0.433" stop-color="#e9ff0e"/><stop offset="0.446" stop-color="#a5ff52"/><stop offset="0.481" stop-color="#ceff29"/><stop offset="0.497" stop-color="#e3ff14"/><stop offset="0.506" stop-color="#e0ff17"/><stop offset="0.522" stop-color="#c3ff34"/><stop offset="0.526" stop-color="#85ff71"/><stop offset="0.529" stop-color="#deff18"/><stop offset="0.535" stop-color="#ffba00"/><stop offset="0.545" stop-color="#ffdf00"/><stop offset="0.548" stop-color="#effe08"/><stop offset="0.554" stop-color="#b0ff47"/><stop offset="0.586" stop-color="#b0ff46"/><stop offset="0.609" stop-color="#ffe700"/><stop offset="0.618" stop-color="#dbff1c"/><stop offset="0.621" stop-color="#96ff61"/><stop offset="0.628" stop-color="#ffe100"/><stop offset="0.637" stop-color="#ffce00"/><stop offset="0.644" stop-color="#f7f500"/><stop offset="0.653" stop-color="#bcff3b"/><stop offset="0.695" stop-color="#c0ff37"/><stop offset="0.711" stop-color="#c6ff31"/><stop offset="0.714" stop-color="#90ff67"/><stop offset="0.717" stop-color="#c7ff30"/><stop offset="0.720" stop-color="#ffd300"/><stop offset="0.733" stop-color="#ffa900"/><stop offset="0.740" stop-color="#ffe600"/><stop offset="0.749" stop-color="#b1ff46"/><stop offset="0.788" stop-color="#c9ff2e"/><stop offset="0.800" stop-color="#e6ff11"/><stop offset="0.804" stop-color="#a3ff53"/><stop offset="0.807" stop-color="#bcff3b"/><stop offset="0.810" stop-color="#ffc800"/><stop offset="0.819" stop-color="#ff9b00"/><stop offset="0.829" stop-color="#f1fd06"/><stop offset="0.835" stop-color="#b1ff45"/><stop offset="0.851" stop-color="#c2ff35"/><stop offset="0.880" stop-color="#a4ff53"/><stop offset="0.896" stop-color="#ebff0c"/><stop offset="0.899" stop-color="#b9ff3d"/><stop offset="0.903" stop-color="#effe08"/><stop offset="0.906" stop-color="#ffb500"/><stop offset="0.922" stop-color="#ffd700"/><stop offset="0.928" stop-color="#b7ff40"/><stop offset="0.938" stop-color="#a5ff52"/><stop offset="0.970" stop-color="#b6ff41"/><stop offset="0.998" stop-color="#bbff3c"/></linearGradient><linearGradient id="s101"><stop offset="0.002" stop-color="#ffd100"/><stop offset="0.011" stop-color="#ffa600"/><stop offset="0.030" stop-color="#feed00"/><stop offset="0.040" stop-color="#ffdc00"/><stop offset="0.043" stop-color="#8eff69"/><stop offset="0.046" stop-color="#ff8700"/><stop offset="0.053" stop-color="#ff4300"/><stop offset="0.062" stop-color="#ff5700"/><stop offset="0.065" stop-color="#ff7b00"/><stop offset="0.069" stop-color="#ffde00"/><stop offset="0.075" stop-color="#ddff19"/><stop offset="0.088" stop-color="#ffc700"/><stop offset="0.107" stop-color="#ffa600"/><stop offset="0.120" stop-color="#ffa100"/><stop offset="0.129" stop-color="#ffe000"/><stop offset="0.139" stop-color="#ffce00"/><stop offset="0.142" stop-color="#8eff69"/><stop offset="0.145" stop-color="#9dff5a"/><stop offset="0.149" stop-color="#ff8e00"/><stop offset="0.158" stop-color="#ff4800"/><stop offset="0.165" stop-color="#ff7100"/><stop offset="0.171" stop-color="#deff18"/><stop offset="0.177" stop-color="#edff09"/><stop offset="0.184" stop-color="#ffac00"/><stop offset="0.206" stop-color="#ff9100"/><stop offset="0.228" stop-color="#ffcc00"/><stop offset="0.232" stop-color="#89ff6e"/><stop offset="0.235" stop-color="#c6ff31"/><stop offset="0.238" stop-color="#ff6800"/><stop offset="0.244" stop-color="#ff3b00"/><stop offset="0.254" stop-color="#ff8a00"/><stop offset="0.260" stop-color="#e3ff14"/><stop offset="0.292" stop-color="#ff9b00"/><stop offset="0.302" stop-color="#ffba00"/><stop offset="0.324" stop-color="#ffb600"/><stop offset="0.327" stop-color="#ffbf00"/><stop offset="0.331" stop-color="#91ff65"/><stop offset="0.334" stop-color="#ffb900"/><stop offset="0.337" stop-color="#ff6200"/><stop offset="0.347" stop-color="#ff4100"/><stop offset="0.353" stop-color="#ff7d00"/><stop offset="0.356" stop-color="#fcef00"/><stop offset="0.363" stop-color="#dcff1a"/><stop offset="0.366" stop-color="#f5f702"/><stop offset="0.372" stop-color="#ff9a00"/><stop offset="0.388" stop-color="#ffbb00"/><stop offset="0.417" stop-color="#ffc500"/><stop offset="0.420" stop-color="#96ff61"/><stop offset="0.430" stop-color="#ffdf00"/><stop offset="0.436" stop-color="#ffb800"/><stop offset="0.442" stop-color="#edff0a"/><stop offset="0.446" stop-color="#cfff28"/><stop offset="0.449" stop-color="#ffe500"/><stop offset="0.458" stop-color="#ffc600"/><stop offset="0.468" stop-color="#ffad00"/><stop offset="0.494" stop-color="#ffd300"/><stop offset="0.503" stop-color="#ffa200"/><stop offset="0.522" stop-color="#ffc500"/><stop offset="0.526" stop-color="#8eff69"/><stop offset="0.529" stop-color="#ffbd00"/><stop offset="0.532" stop-color="#ff7000"/><stop offset="0.542" stop-color="#ff5300"/><stop offset="0.548" stop-color="#ff8b00"/><stop offset="0.551" stop-color="#f6f601"/><stop offset="0.561" stop-color="#f2fb05"/><stop offset="0.573" stop-color="#ffbe00"/><stop offset="0.589" stop-color="#ffd700"/><stop offset="0.602" stop-color="#ff8b00"/><stop offset="0.618" stop-color="#ffc400"/><stop offset="0.621" stop-color="#98ff5f"/><stop offset="0.625" stop-color="#ffe400"/><stop offset="0.628" stop-color="#ff6b00"/><stop offset="0.637" stop-color="#ff4d00"/><stop offset="0.644" stop-color="#ff7400"/><stop offset="0.650" stop-color="#effe08"/><stop offset="0.660" stop-color="#ffdd00"/><stop offset="0.673" stop-color="#ffaa00"/><stop offset="0.708" stop-color="#ffe600"/><stop offset="0.711" stop-color="#ffe300"/><stop offset="0.714" stop-color="#83ff74"/><stop offset="0.717" stop-color="#ddff19"/><stop offset="0.720" stop-color="#ff6200"/><stop offset="0.730" stop-color="#ff3200"/><stop offset="0.736" stop-color="#ff4f00"/><stop offset="0.743" stop-color="#efff08"/><stop offset="0.752" stop-color="#ffe400"/><stop offset="0.768" stop-color="#ffb400"/><stop offset="0.781" stop-color="#ffea00"/><stop offset="0.797" stop-color="#ffaf00"/><stop offset="0.800" stop-color="#ffbb00"/><stop offset="0.804" stop-color="#93ff64"/><stop offset="0.807" stop-color="#b0ff47"/><stop offset="0.810" stop-color="#ff8700"/><stop offset="0.823" stop-color="#ff4200"/><stop offset="0.829" stop-color="#ff8e00"/><stop offset="0.832" stop-color="#ffe200"/><stop offset="0.842" stop-color="#faf200"/><stop offset="0.864" stop-color="#ffb700"/><stop offset="0.887" stop-color="#ffce00"/><stop offset="0.896" stop-color="#ffbb00"/><stop offset="0.899" stop-color="#a0ff56"/><stop offset="0.903" stop-color="#ffe400"/><stop offset="0.906" stop-color="#ff5800"/><stop offset="0.922" stop-color="#ff6f00"/><stop offset="0.928" stop-color="#f2fb05"/><stop offset="0.938" stop-color="#fdef00"/><stop offset="0.970" stop-color="#ffce00"/><stop offset="0.995" stop-color="#f6f701"/><stop offset="0.998" stop-color="#fcf000"/></linearGradient><linearGradient id="s102"><stop offset="0.002" stop-color="#ff9600"/><stop offset="0.018" stop-color="#ff5900"/><stop offset="0.037" stop-color="#ffb700"/><stop offset="0.040" stop-color="#ffac00"/><stop offset="0.043" stop-color="#6cff8a"/><stop offset="0.046" stop-color="#ff4f00"/><stop offset="0.053" stop-color="#f10700"/><stop offset="0.062" stop-color="#ff2300"/><stop offset="0.065" stop-color="#ff4700"/><stop offset="0.069" stop-color="#ffbf00"/><stop offset="0.075" stop-color="#ffd800"/><stop offset="0.085" stop-color="#ff6800"/><stop offset="0.120" stop-color="#ff5f00"/><stop offset="0.139" stop-color="#ff8800"/><stop offset="0.142" stop-color="#8dff6a"/><stop offset="0.145" stop-color="#a2ff55"/><stop offset="0.149" stop-color="#ff3300"/><stop offset="0.161" stop-color="#f20800"/><stop offset="0.165" stop-color="#ff2d00"/><stop offset="0.171" stop-color="#fdee00"/><stop offset="0.177" stop-color="#ffc400"/><stop offset="0.184" stop-color="#ff6000"/><stop offset="0.203" stop-color="#ff6500"/><stop offset="0.228" stop-color="#ff9800"/><stop offset="0.232" stop-color="#61ff96"/><stop offset="0.235" stop-color="#adff4a"/><stop offset="0.238" stop-color="#ff2c00"/><stop offset="0.241" stop-color="#df0000"/><stop offset="0.244" stop-color="#c00000"/><stop offset="0.251" stop-color="#f40a00"/><stop offset="0.254" stop-color="#ff3000"/><stop offset="0.260" stop-color="#ffe000"/><stop offset="0.270" stop-color="#ffad00"/><stop offset="0.286" stop-color="#ff5800"/><stop offset="0.299" stop-color="#ff8a00"/><stop offset="0.312" stop-color="#ff6200"/><stop offset="0.327" stop-color="#ff9800"/><stop offset="0.331" stop-color="#69ff8e"/><stop offset="0.334" stop-color="#ff9b00"/><stop offset="0.337" stop-color="#ff2700"/><stop offset="0.347" stop-color="#fb1000"/><stop offset="0.353" stop-color="#ff3d00"/><stop offset="0.356" stop-color="#ffc800"/><stop offset="0.359" stop-color="#f9f200"/><stop offset="0.366" stop-color="#ffbb00"/><stop offset="0.372" stop-color="#ff4f00"/><stop offset="0.388" stop-color="#ff7800"/><stop offset="0.401" stop-color="#ff7f00"/><stop offset="0.417" stop-color="#ff8f00"/><stop offset="0.420" stop-color="#79ff7d"/><stop offset="0.427" stop-color="#ddff19"/><stop offset="0.433" stop-color="#ff7e00"/><stop offset="0.436" stop-color="#ff5400"/><stop offset="0.439" stop-color="#ff6e00"/><stop offset="0.446" stop-color="#e7ff0f"/><stop offset="0.449" stop-color="#ffc000"/><stop offset="0.455" stop-color="#ffb800"/><stop offset="0.462" stop-color="#ff5a00"/><stop offset="0.494" stop-color="#ff8300"/><stop offset="0.503" stop-color="#ff6b00"/><stop offset="0.522" stop-color="#ff8f00"/><stop offset="0.526" stop-color="#6dff89"/><stop offset="0.529" stop-color="#ff9d00"/><stop offset="0.532" stop-color="#ff3900"/><stop offset="0.545" stop-color="#fe1200"/><stop offset="0.548" stop-color="#ff2f00"/><stop offset="0.551" stop-color="#ffbf00"/><stop offset="0.554" stop-color="#ffe500"/><stop offset="0.561" stop-color="#ffcd00"/><stop offset="0.567" stop-color="#ff6e00"/><stop offset="0.583" stop-color="#ff7000"/><stop offset="0.609" stop-color="#ff7a00"/><stop offset="0.618" stop-color="#ff8b00"/><stop offset="0.621" stop-color="#86ff71"/><stop offset="0.625" stop-color="#ffba00"/><stop offset="0.628" stop-color="#f20800"/><stop offset="0.641" stop-color="#f10700"/><stop offset="0.644" stop-color="#ff1f00"/><stop offset="0.650" stop-color="#ffe500"/><stop offset="0.660" stop-color="#ff8e00"/><stop offset="0.666" stop-color="#ff5000"/><stop offset="0.679" stop-color="#ff5400"/><stop offset="0.698" stop-color="#ff8d00"/><stop offset="0.711" stop-color="#ffb500"/><stop offset="0.714" stop-color="#57ffa0"/><stop offset="0.717" stop-color="#c4ff32"/><stop offset="0.720" stop-color="#ff3500"/><stop offset="0.730" stop-color="#ea0200"/><stop offset="0.736" stop-color="#ff1d00"/><stop offset="0.743" stop-color="#ffe300"/><stop offset="0.756" stop-color="#ff6700"/><stop offset="0.772" stop-color="#ff5700"/><stop offset="0.784" stop-color="#ff8000"/><stop offset="0.800" stop-color="#ff7c00"/><stop offset="0.804" stop-color="#88ff6e"/><stop offset="0.807" stop-color="#b0ff47"/><stop offset="0.810" stop-color="#ff3800"/><stop offset="0.823" stop-color="#ec0400"/><stop offset="0.826" stop-color="#ff1400"/><stop offset="0.832" stop-color="#ffb900"/><stop offset="0.839" stop-color="#ffaf00"/><stop offset="0.848" stop-color="#ff6b00"/><stop offset="0.867" stop-color="#ff6400"/><stop offset="0.896" stop-color="#ffa200"/><stop offset="0.899" stop-color="#6dff8a"/><stop offset="0.903" stop-color="#ffe600"/><stop offset="0.906" stop-color="#ff1400"/><stop offset="0.912" stop-color="#eb0300"/><stop offset="0.922" stop-color="#ff2d00"/><stop offset="0.928" stop-color="#ffda00"/><stop offset="0.938" stop-color="#ff9600"/><stop offset="0.941" stop-color="#ff7400"/><stop offset="0.960" stop-color="#ff8900"/><stop offset="0.979" stop-color="#ff6f00"/><stop offset="0.989" stop-color="#ffaf00"/><stop offset="0.998" stop-color="#ff8800"/></linearGradient><linearGradient id="s103"><stop offset="0.002" stop-color="#ff8e00"/><stop offset="0.021" stop-color="#ff6800"/><stop offset="0.037" stop-color="#ffad00"/><stop offset="0.040" stop-color="#ffac00"/><stop offset="0.043" stop-color="#63ff94"/><stop offset="0.046" stop-color="#ff6000"/><stop offset="0.053" stop-color="#f90e00"/><stop offset="0.062" stop-color="#ff2000"/><stop offset="0.065" stop-color="#ff5500"/><stop offset="0.069" stop-color="#ffda00"/><stop offset="0.075" stop-color="#ffe300"/><stop offset="0.085" stop-color="#ff5700"/><stop offset="0.123" stop-color="#ff6300"/><stop offset="0.139" stop-color="#ff9800"/><stop offset="0.142" stop-color="#85ff72"/><stop offset="0.145" stop-color="#9dff5a"/><stop offset="0.149" stop-color="#ff3500"/><stop offset="0.152" stop-color="#ff1300"/><stop offset="0.158" stop-color="#c30000"/><stop offset="0.165" stop-color="#ff1900"/><stop offset="0.171" stop-color="#ffe900"/><stop offset="0.177" stop-color="#ffc800"/><stop offset="0.184" stop-color="#ff6100"/><stop offset="0.209" stop-color="#ff7100"/><stop offset="0.219" stop-color="#ff4c00"/><stop offset="0.228" stop-color="#ff8f00"/><stop offset="0.232" stop-color="#62ff94"/><stop offset="0.235" stop-color="#a9ff4e"/><stop offset="0.238" stop-color="#ff3b00"/><stop offset="0.244" stop-color="#d60000"/><stop offset="0.254" stop-color="#ff1f00"/><stop offset="0.260" stop-color="#ffd100"/><stop offset="0.267" stop-color="#ffd300"/><stop offset="0.276" stop-color="#ff6500"/><stop offset="0.292" stop-color="#ff7300"/><stop offset="0.318" stop-color="#ff8c00"/><stop offset="0.327" stop-color="#ffbf00"/><stop offset="0.331" stop-color="#4fffa8"/><stop offset="0.334" stop-color="#ffaf00"/><stop offset="0.337" stop-color="#ff3a00"/><stop offset="0.347" stop-color="#ff1300"/><stop offset="0.353" stop-color="#ff3500"/><stop offset="0.356" stop-color="#ffbe00"/><stop offset="0.359" stop-color="#ffe700"/><stop offset="0.369" stop-color="#ff9000"/><stop offset="0.375" stop-color="#ff6a00"/><stop offset="0.417" stop-color="#ff8e00"/><stop offset="0.420" stop-color="#7dff7a"/><stop offset="0.427" stop-color="#dbff1b"/><stop offset="0.433" stop-color="#ff8b00"/><stop offset="0.436" stop-color="#ff5b00"/><stop offset="0.439" stop-color="#ff6c00"/><stop offset="0.446" stop-color="#ebff0b"/><stop offset="0.449" stop-color="#ffc100"/><stop offset="0.455" stop-color="#ffc800"/><stop offset="0.462" stop-color="#ff6d00"/><stop offset="0.490" stop-color="#ff7b00"/><stop offset="0.500" stop-color="#ff6c00"/><stop offset="0.522" stop-color="#ff8f00"/><stop offset="0.526" stop-color="#73ff84"/><stop offset="0.529" stop-color="#ff8e00"/><stop offset="0.532" stop-color="#ff1e00"/><stop offset="0.542" stop-color="#dc0000"/><stop offset="0.548" stop-color="#ff2100"/><stop offset="0.551" stop-color="#ffb200"/><stop offset="0.554" stop-color="#ffe000"/><stop offset="0.561" stop-color="#ffc500"/><stop offset="0.567" stop-color="#ff6b00"/><stop offset="0.599" stop-color="#ff6700"/><stop offset="0.618" stop-color="#ff8e00"/><stop offset="0.621" stop-color="#71ff85"/><stop offset="0.625" stop-color="#ffdd00"/><stop offset="0.628" stop-color="#ff2a00"/><stop offset="0.641" stop-color="#ff2000"/><stop offset="0.644" stop-color="#ff2f00"/><stop offset="0.650" stop-color="#ffe800"/><stop offset="0.660" stop-color="#ffa600"/><stop offset="0.666" stop-color="#ff7d00"/><stop offset="0.679" stop-color="#ff6d00"/><stop offset="0.688" stop-color="#ff9800"/><stop offset="0.704" stop-color="#ff9100"/><stop offset="0.711" stop-color="#ffa500"/><stop offset="0.714" stop-color="#67ff90"/><stop offset="0.717" stop-color="#d1ff26"/><stop offset="0.720" stop-color="#ff2b00"/><stop offset="0.730" stop-color="#d90000"/><stop offset="0.736" stop-color="#ff2d00"/><stop offset="0.743" stop-color="#ffe800"/><stop offset="0.756" stop-color="#ff7100"/><stop offset="0.781" stop-color="#ff7400"/><stop offset="0.800" stop-color="#ff8700"/><stop offset="0.804" stop-color="#80ff77"/><stop offset="0.807" stop-color="#aaff4c"/><stop offset="0.810" stop-color="#ff3c00"/><stop offset="0.819" stop-color="#f20800"/><stop offset="0.826" stop-color="#ff2c00"/><stop offset="0.832" stop-color="#ffd900"/><stop offset="0.842" stop-color="#ff8800"/><stop offset="0.848" stop-color="#ff6800"/><stop offset="0.877" stop-color="#ff8000"/><stop offset="0.896" stop-color="#ff9a00"/><stop offset="0.899" stop-color="#70ff87"/><stop offset="0.903" stop-color="#ffe700"/><stop offset="0.906" stop-color="#ff1400"/><stop offset="0.912" stop-color="#cf0000"/><stop offset="0.922" stop-color="#ff2500"/><stop offset="0.928" stop-color="#fbf000"/><stop offset="0.941" stop-color="#ff7100"/><stop offset="0.966" stop-color="#ff6400"/><stop offset="0.976" stop-color="#ff4e00"/><stop offset="0.986" stop-color="#ff9c00"/><stop offset="0.998" stop-color="#ff6300"/></linearGradient><linearGradient id="s104"><stop offset="0.002" stop-color="#ffcc00"/><stop offset="0.018" stop-color="#ff9900"/><stop offset="0.027" stop-color="#ffd100"/><stop offset="0.040" stop-color="#ffd400"/><stop offset="0.043" stop-color="#91ff66"/><stop offset="0.046" stop-color="#ff8200"/><stop offset="0.053" stop-color="#ff3a00"/><stop offset="0.062" stop-color="#ff7100"/><stop offset="0.069" stop-color="#dfff18"/><stop offset="0.075" stop-color="#ceff29"/><stop offset="0.081" stop-color="#ffd500"/><stop offset="0.091" stop-color="#ffa800"/><stop offset="0.113" stop-color="#ffa000"/><stop offset="0.133" stop-color="#ffd700"/><stop offset="0.139" stop-color="#ffeb00"/><stop offset="0.142" stop-color="#82ff75"/><stop offset="0.145" stop-color="#9bff5c"/><stop offset="0.149" stop-color="#ff8800"/><stop offset="0.155" stop-color="#ff3000"/><stop offset="0.161" stop-color="#ff4600"/><stop offset="0.171" stop-color="#e1ff16"/><stop offset="0.181" stop-color="#ffe200"/><stop offset="0.200" stop-color="#ffbb00"/><stop offset="0.209" stop-color="#ffa800"/><stop offset="0.222" stop-color="#ff8700"/><stop offset="0.228" stop-color="#ffa700"/><stop offset="0.232" stop-color="#9dff59"/><stop offset="0.235" stop-color="#cbff2b"/><stop offset="0.238" stop-color="#ff7000"/><stop offset="0.248" stop-color="#ff3f00"/><stop offset="0.254" stop-color="#ff7500"/><stop offset="0.260" stop-color="#f3f903"/><stop offset="0.270" stop-color="#ffe900"/><stop offset="0.280" stop-color="#ff9c00"/><stop offset="0.315" stop-color="#ffc900"/><stop offset="0.324" stop-color="#f1fd06"/><stop offset="0.327" stop-color="#f8f400"/><stop offset="0.331" stop-color="#78ff7f"/><stop offset="0.334" stop-color="#ffc600"/><stop offset="0.337" stop-color="#ff6b00"/><stop offset="0.347" stop-color="#ff5f00"/><stop offset="0.353" stop-color="#ff8800"/><stop offset="0.356" stop-color="#ffe700"/><stop offset="0.366" stop-color="#f9f300"/><stop offset="0.375" stop-color="#ffbe00"/><stop offset="0.398" stop-color="#ffbd00"/><stop offset="0.411" stop-color="#ffb700"/><stop offset="0.417" stop-color="#ffc200"/><stop offset="0.420" stop-color="#a0ff57"/><stop offset="0.427" stop-color="#f0fd07"/><stop offset="0.436" stop-color="#ff9900"/><stop offset="0.442" stop-color="#ffda00"/><stop offset="0.446" stop-color="#d8ff1f"/><stop offset="0.455" stop-color="#edff0a"/><stop offset="0.462" stop-color="#ffb000"/><stop offset="0.481" stop-color="#ffc700"/><stop offset="0.500" stop-color="#ffa600"/><stop offset="0.513" stop-color="#ffc800"/><stop offset="0.522" stop-color="#ffce00"/><stop offset="0.526" stop-color="#84ff73"/><stop offset="0.529" stop-color="#ffc300"/><stop offset="0.532" stop-color="#ff6500"/><stop offset="0.538" stop-color="#ff3c00"/><stop offset="0.548" stop-color="#ff7600"/><stop offset="0.551" stop-color="#ffd500"/><stop offset="0.558" stop-color="#f6f701"/><stop offset="0.570" stop-color="#ffca00"/><stop offset="0.599" stop-color="#ffb900"/><stop offset="0.618" stop-color="#ffc000"/><stop offset="0.621" stop-color="#89ff6e"/><stop offset="0.625" stop-color="#eaff0d"/><stop offset="0.628" stop-color="#ff8e00"/><stop offset="0.644" stop-color="#ff7d00"/><stop offset="0.650" stop-color="#e6ff11"/><stop offset="0.663" stop-color="#ffbd00"/><stop offset="0.688" stop-color="#feed00"/><stop offset="0.704" stop-color="#ffd600"/><stop offset="0.711" stop-color="#ffd700"/><stop offset="0.714" stop-color="#87ff6f"/><stop offset="0.717" stop-color="#d6ff21"/><stop offset="0.720" stop-color="#ff7500"/><stop offset="0.730" stop-color="#ff5300"/><stop offset="0.736" stop-color="#ff7700"/><stop offset="0.743" stop-color="#fbf000"/><stop offset="0.752" stop-color="#ffe500"/><stop offset="0.781" stop-color="#ffbe00"/><stop offset="0.797" stop-color="#ffb800"/><stop offset="0.800" stop-color="#ffa900"/><stop offset="0.804" stop-color="#b2ff45"/><stop offset="0.807" stop-color="#d2ff25"/><stop offset="0.810" stop-color="#ff6500"/><stop offset="0.823" stop-color="#ff3d00"/><stop offset="0.829" stop-color="#ffa800"/><stop offset="0.832" stop-color="#f7f500"/><stop offset="0.845" stop-color="#ffa300"/><stop offset="0.880" stop-color="#ffd400"/><stop offset="0.896" stop-color="#ffc100"/><stop offset="0.899" stop-color="#9eff58"/><stop offset="0.903" stop-color="#ffe600"/><stop offset="0.906" stop-color="#ff5800"/><stop offset="0.915" stop-color="#ff3e00"/><stop offset="0.922" stop-color="#ff6700"/><stop offset="0.928" stop-color="#e3ff14"/><stop offset="0.938" stop-color="#ffce00"/><stop offset="0.944" stop-color="#ffba00"/><stop offset="0.979" stop-color="#ffae00"/><stop offset="0.989" stop-color="#ffce00"/><stop offset="0.998" stop-color="#ff9d00"/></linearGradient><linearGradient id="s105"><stop offset="0.002" stop-color="#e2ff15"/><stop offset="0.018" stop-color="#ffd300"/><stop offset="0.027" stop-color="#daff1d"/><stop offset="0.040" stop-color="#c0ff37"/><stop offset="0.043" stop-color="#95ff62"/><stop offset="0.046" stop-color="#ffe400"/><stop offset="0.053" stop-color="#ffa000"/><stop offset="0.065" stop-color="#e3ff13"/><stop offset="0.072" stop-color="#a5ff51"/><stop offset="0.097" stop-color="#ffe800"/><stop offset="0.107" stop-color="#ffcc00"/><stop offset="0.117" stop-color="#d5ff22"/><stop offset="0.139" stop-color="#c2ff34"/><stop offset="0.142" stop-color="#8eff68"/><stop offset="0.145" stop-color="#a7ff4f"/><stop offset="0.149" stop-color="#ffdb00"/><stop offset="0.158" stop-color="#ff9c00"/><stop offset="0.168" stop-color="#edff0a"/><stop offset="0.177" stop-color="#cbff2c"/><stop offset="0.193" stop-color="#e2ff15"/><stop offset="0.209" stop-color="#ffea00"/><stop offset="0.228" stop-color="#f3fa04"/><stop offset="0.232" stop-color="#baff3d"/><stop offset="0.235" stop-color="#dfff18"/><stop offset="0.238" stop-color="#ffb200"/><stop offset="0.251" stop-color="#ffb400"/><stop offset="0.257" stop-color="#f3fa04"/><stop offset="0.264" stop-color="#baff3d"/><stop offset="0.286" stop-color="#faf200"/><stop offset="0.305" stop-color="#feed00"/><stop offset="0.324" stop-color="#b8ff3f"/><stop offset="0.327" stop-color="#c9ff2e"/><stop offset="0.331" stop-color="#9bff5c"/><stop offset="0.334" stop-color="#f7f500"/><stop offset="0.340" stop-color="#ff9e00"/><stop offset="0.350" stop-color="#ffc100"/><stop offset="0.359" stop-color="#d0ff26"/><stop offset="0.385" stop-color="#c7ff2f"/><stop offset="0.395" stop-color="#d8ff1f"/><stop offset="0.404" stop-color="#ffe600"/><stop offset="0.417" stop-color="#f2fb05"/><stop offset="0.420" stop-color="#c5ff31"/><stop offset="0.430" stop-color="#ffd700"/><stop offset="0.436" stop-color="#ffbb00"/><stop offset="0.442" stop-color="#f5f802"/><stop offset="0.455" stop-color="#a8ff4e"/><stop offset="0.468" stop-color="#e7ff10"/><stop offset="0.481" stop-color="#dfff18"/><stop offset="0.497" stop-color="#ffea00"/><stop offset="0.522" stop-color="#deff19"/><stop offset="0.526" stop-color="#9cff5b"/><stop offset="0.529" stop-color="#efff08"/><stop offset="0.535" stop-color="#ff9b00"/><stop offset="0.542" stop-color="#ffac00"/><stop offset="0.548" stop-color="#ffe800"/><stop offset="0.558" stop-color="#abff4c"/><stop offset="0.599" stop-color="#feed00"/><stop offset="0.618" stop-color="#f2fb05"/><stop offset="0.621" stop-color="#aeff49"/><stop offset="0.628" stop-color="#ffd800"/><stop offset="0.644" stop-color="#f9f300"/><stop offset="0.650" stop-color="#b6ff41"/><stop offset="0.663" stop-color="#e1ff15"/><stop offset="0.692" stop-color="#bfff38"/><stop offset="0.711" stop-color="#e1ff16"/><stop offset="0.714" stop-color="#a9ff4d"/><stop offset="0.717" stop-color="#d4ff23"/><stop offset="0.724" stop-color="#ffc000"/><stop offset="0.736" stop-color="#ffbf00"/><stop offset="0.746" stop-color="#c6ff31"/><stop offset="0.759" stop-color="#c3ff34"/><stop offset="0.794" stop-color="#d7ff20"/><stop offset="0.800" stop-color="#ffec00"/><stop offset="0.804" stop-color="#cbff2c"/><stop offset="0.807" stop-color="#e1ff15"/><stop offset="0.810" stop-color="#ffab00"/><stop offset="0.819" stop-color="#ff7b00"/><stop offset="0.832" stop-color="#efff08"/><stop offset="0.845" stop-color="#ffc300"/><stop offset="0.855" stop-color="#c5ff32"/><stop offset="0.893" stop-color="#daff1d"/><stop offset="0.896" stop-color="#f6f600"/><stop offset="0.899" stop-color="#cdff2a"/><stop offset="0.906" stop-color="#ffb600"/><stop offset="0.922" stop-color="#ffd300"/><stop offset="0.925" stop-color="#edff0a"/><stop offset="0.931" stop-color="#bdff3a"/><stop offset="0.947" stop-color="#c9ff2d"/><stop offset="0.982" stop-color="#d5ff22"/><stop offset="0.992" stop-color="#c9ff2e"/><stop offset="0.998" stop-color="#dcff1b"/></linearGradient><linearGradient id="s106"><stop offset="0.002" stop-color="#aeff48"/><stop offset="0.014" stop-color="#e3ff14"/><stop offset="0.034" stop-color="#a4ff52"/><stop offset="0.043" stop-color="#9eff59"/><stop offset="0.053" stop-color="#fdee00"/><stop offset="0.072" stop-color="#89ff6d"/><stop offset="0.110" stop-color="#d3ff23"/><stop offset="0.136" stop-color="#84ff73"/><stop offset="0.145" stop-color="#b2ff45"/><stop offset="0.152" stop-color="#feee00"/><stop offset="0.161" stop-color="#e9ff0d"/><stop offset="0.181" stop-color="#96ff61"/><stop offset="0.219" stop-color="#c2ff35"/><stop offset="0.235" stop-color="#d7ff20"/><stop offset="0.241" stop-color="#f9f300"/><stop offset="0.264" stop-color="#86ff71"/><stop offset="0.305" stop-color="#c5ff32"/><stop offset="0.324" stop-color="#92ff65"/><stop offset="0.331" stop-color="#99ff5d"/><stop offset="0.340" stop-color="#f9f300"/><stop offset="0.350" stop-color="#eeff09"/><stop offset="0.366" stop-color="#8bff6c"/><stop offset="0.404" stop-color="#d5ff22"/><stop offset="0.420" stop-color="#cdff2a"/><stop offset="0.430" stop-color="#ffce00"/><stop offset="0.436" stop-color="#ffb400"/><stop offset="0.442" stop-color="#f1fd06"/><stop offset="0.458" stop-color="#9fff58"/><stop offset="0.500" stop-color="#bcff3b"/><stop offset="0.526" stop-color="#90ff67"/><stop offset="0.538" stop-color="#f7f600"/><stop offset="0.558" stop-color="#90ff67"/><stop offset="0.589" stop-color="#c3ff34"/><stop offset="0.605" stop-color="#dcff1b"/><stop offset="0.625" stop-color="#b0ff47"/><stop offset="0.637" stop-color="#d4ff23"/><stop offset="0.650" stop-color="#a5ff51"/><stop offset="0.711" stop-color="#a5ff51"/><stop offset="0.727" stop-color="#e4ff12"/><stop offset="0.740" stop-color="#e4ff12"/><stop offset="0.752" stop-color="#8dff6a"/><stop offset="0.772" stop-color="#a9ff4e"/><stop offset="0.791" stop-color="#96ff61"/><stop offset="0.807" stop-color="#caff2d"/><stop offset="0.813" stop-color="#ffe500"/><stop offset="0.829" stop-color="#daff1d"/><stop offset="0.832" stop-color="#fbf000"/><stop offset="0.839" stop-color="#ff5d00"/><stop offset="0.842" stop-color="#ff4800"/><stop offset="0.848" stop-color="#ffbc00"/><stop offset="0.851" stop-color="#dcff1a"/><stop offset="0.858" stop-color="#94ff62"/><stop offset="0.893" stop-color="#a3ff54"/><stop offset="0.909" stop-color="#eaff0d"/><stop offset="0.925" stop-color="#bbff3c"/><stop offset="0.935" stop-color="#89ff6d"/><stop offset="0.973" stop-color="#95ff62"/><stop offset="0.982" stop-color="#a7ff50"/><stop offset="0.992" stop-color="#80ff77"/><stop offset="0.998" stop-color="#8aff6d"/></linearGradient><linearGradient id="s107"><stop offset="0.002" stop-color="#a1ff56"/><stop offset="0.018" stop-color="#a1ff56"/><stop offset="0.043" stop-color="#93ff64"/><stop offset="0.059" stop-color="#abff4b"/><stop offset="0.078" stop-color="#76ff81"/><stop offset="0.120" stop-color="#a4ff53"/><stop offset="0.136" stop-color="#78ff7f"/><stop offset="0.152" stop-color="#cdff29"/><stop offset="0.184" stop-color="#6aff8d"/><stop offset="0.244" stop-color="#bbff3b"/><stop offset="0.264" stop-color="#80ff76"/><stop offset="0.286" stop-color="#90ff67"/><stop offset="0.327" stop-color="#8dff69"/><stop offset="0.350" stop-color="#b0ff47"/><stop offset="0.369" stop-color="#7eff79"/><stop offset="0.391" stop-color="#8fff67"/><stop offset="0.420" stop-color="#f6f601"/><stop offset="0.430" stop-color="#ff5600"/><stop offset="0.436" stop-color="#ff5d00"/><stop offset="0.446" stop-color="#ffe900"/><stop offset="0.458" stop-color="#aeff49"/><stop offset="0.481" stop-color="#85ff72"/><stop offset="0.494" stop-color="#a5ff51"/><stop offset="0.516" stop-color="#6fff88"/><stop offset="0.542" stop-color="#abff4c"/><stop offset="0.573" stop-color="#7fff78"/><stop offset="0.605" stop-color="#c7ff30"/><stop offset="0.631" stop-color="#a1ff56"/><stop offset="0.644" stop-color="#a9ff4e"/><stop offset="0.711" stop-color="#82ff75"/><stop offset="0.736" stop-color="#d2ff25"/><stop offset="0.756" stop-color="#85ff72"/><stop offset="0.778" stop-color="#8bff6c"/><stop offset="0.819" stop-color="#bdff3a"/><stop offset="0.829" stop-color="#aeff49"/><stop offset="0.835" stop-color="#ffd400"/><stop offset="0.842" stop-color="#ff6e00"/><stop offset="0.848" stop-color="#ffc600"/><stop offset="0.851" stop-color="#e7ff10"/><stop offset="0.861" stop-color="#98ff5e"/><stop offset="0.877" stop-color="#7cff7b"/><stop offset="0.909" stop-color="#c8ff2f"/><stop offset="0.935" stop-color="#83ff74"/><stop offset="0.982" stop-color="#80ff77"/><stop offset="0.998" stop-color="#76ff81"/></linearGradient><linearGradient id="s108"><stop offset="0.002" stop-color="#bdff3a"/><stop offset="0.024" stop-color="#9aff5d"/><stop offset="0.085" stop-color="#86ff70"/><stop offset="0.171" stop-color="#8bff6c"/><stop offset="0.196" stop-color="#79ff7e"/><stop offset="0.238" stop-color="#9aff5d"/><stop offset="0.315" stop-color="#8fff68"/><stop offset="0.324" stop-color="#afff48"/><stop offset="0.350" stop-color="#86ff70"/><stop offset="0.363" stop-color="#a5ff52"/><stop offset="0.391" stop-color="#80ff77"/><stop offset="0.411" stop-color="#d2ff25"/><stop offset="0.414" stop-color="#eeff09"/><stop offset="0.423" stop-color="#ff2f00"/><stop offset="0.427" stop-color="#bc0000"/><stop offset="0.430" stop-color="#800000"/><stop offset="0.436" stop-color="#830000"/><stop offset="0.439" stop-color="#d40000"/><stop offset="0.446" stop-color="#ff9100"/><stop offset="0.452" stop-color="#ecff0b"/><stop offset="0.465" stop-color="#99ff5d"/><stop offset="0.494" stop-color="#97ff60"/><stop offset="0.529" stop-color="#8fff68"/><stop offset="0.554" stop-color="#87ff70"/><stop offset="0.564" stop-color="#99ff5e"/><stop offset="0.583" stop-color="#9eff59"/><stop offset="0.621" stop-color="#adff4a"/><stop offset="0.637" stop-color="#8fff67"/><stop offset="0.676" stop-color="#8fff68"/><stop offset="0.692" stop-color="#76ff80"/><stop offset="0.743" stop-color="#aeff48"/><stop offset="0.797" stop-color="#95ff62"/><stop offset="0.832" stop-color="#a9ff4e"/><stop offset="0.845" stop-color="#d2ff25"/><stop offset="0.877" stop-color="#7aff7d"/><stop offset="0.919" stop-color="#9eff59"/><stop offset="0.931" stop-color="#7fff78"/><stop offset="0.954" stop-color="#9fff58"/><stop offset="0.992" stop-color="#77ff80"/><stop offset="0.998" stop-color="#8cff6a"/></linearGradient><linearGradient id="s109"><stop offset="0.002" stop-color="#55ffa2"/><stop offset="0.053" stop-color="#42ffb5"/><stop offset="0.101" stop-color="#49ffae"/><stop offset="0.123" stop-color="#32ffc5"/><stop offset="0.133" stop-color="#1fffd7"/><stop offset="0.165" stop-color="#5aff9d"/><stop offset="0.196" stop-color="#4fffa7"/><stop offset="0.286" stop-color="#3dffba"/><stop offset="0.343" stop-color="#46ffb1"/><stop offset="0.366" stop-color="#3fffb8"/><stop offset="0.382" stop-color="#2cffca"/><stop offset="0.411" stop-color="#6fff88"/><stop offset="0.417" stop-color="#cdff2a"/><stop offset="0.420" stop-color="#ffd900"/><stop offset="0.427" stop-color="#ff2c00"/><stop offset="0.430" stop-color="#cf0000"/><stop offset="0.433" stop-color="#b60000"/><stop offset="0.436" stop-color="#d90000"/><stop offset="0.442" stop-color="#ff9e00"/><stop offset="0.446" stop-color="#f7f500"/><stop offset="0.458" stop-color="#41ffb5"/><stop offset="0.471" stop-color="#3fffb7"/><stop offset="0.506" stop-color="#4effa8"/><stop offset="0.529" stop-color="#39ffbe"/><stop offset="0.548" stop-color="#33ffc3"/><stop offset="0.567" stop-color="#47ffaf"/><stop offset="0.621" stop-color="#4fffa8"/><stop offset="0.650" stop-color="#31ffc6"/><stop offset="0.676" stop-color="#34ffc3"/><stop offset="0.688" stop-color="#1dffda"/><stop offset="0.720" stop-color="#66ff91"/><stop offset="0.733" stop-color="#56ffa0"/><stop offset="0.781" stop-color="#4dffaa"/><stop offset="0.823" stop-color="#67ff8f"/><stop offset="0.835" stop-color="#58ff9f"/><stop offset="0.883" stop-color="#26ffd1"/><stop offset="0.912" stop-color="#51ffa6"/><stop offset="0.941" stop-color="#42ffb5"/><stop offset="0.992" stop-color="#26ffd1"/><stop offset="0.998" stop-color="#41ffb6"/></linearGradient><linearGradient id="s110"><stop offset="0.002" stop-color="#10fae7"/><stop offset="0.040" stop-color="#00dffc"/><stop offset="0.059" stop-color="#23ffd4"/><stop offset="0.081" stop-color="#00d8ff"/><stop offset="0.110" stop-color="#01e6f6"/><stop offset="0.133" stop-color="#00bfff"/><stop offset="0.149" stop-color="#02e8f5"/><stop offset="0.158" stop-color="#38ffbf"/><stop offset="0.181" stop-color="#00d8ff"/><stop offset="0.212" stop-color="#2affcd"/><stop offset="0.241" stop-color="#0ff9e7"/><stop offset="0.254" stop-color="#12fce4"/><stop offset="0.270" stop-color="#00beff"/><stop offset="0.312" stop-color="#13fde4"/><stop offset="0.327" stop-color="#00c2ff"/><stop offset="0.340" stop-color="#1cffdb"/><stop offset="0.369" stop-color="#00cfff"/><stop offset="0.388" stop-color="#00daff"/><stop offset="0.411" stop-color="#29ffce"/><stop offset="0.427" stop-color="#e4ff13"/><stop offset="0.433" stop-color="#ffdc00"/><stop offset="0.439" stop-color="#d4ff23"/><stop offset="0.455" stop-color="#09f1ee"/><stop offset="0.465" stop-color="#00bdff"/><stop offset="0.503" stop-color="#11fae6"/><stop offset="0.522" stop-color="#00d1ff"/><stop offset="0.548" stop-color="#00d0ff"/><stop offset="0.558" stop-color="#00daff"/><stop offset="0.567" stop-color="#00e5f7"/><stop offset="0.618" stop-color="#11fae6"/><stop offset="0.641" stop-color="#04ebf3"/><stop offset="0.650" stop-color="#00c6ff"/><stop offset="0.666" stop-color="#00d9ff"/><stop offset="0.688" stop-color="#00d0ff"/><stop offset="0.724" stop-color="#18ffdf"/><stop offset="0.743" stop-color="#0bf3ec"/><stop offset="0.756" stop-color="#00bfff"/><stop offset="0.788" stop-color="#21ffd6"/><stop offset="0.807" stop-color="#31ffc6"/><stop offset="0.826" stop-color="#21ffd6"/><stop offset="0.848" stop-color="#0df5ea"/><stop offset="0.880" stop-color="#00afff"/><stop offset="0.899" stop-color="#22ffd5"/><stop offset="0.925" stop-color="#1cffdb"/><stop offset="0.938" stop-color="#00c9ff"/><stop offset="0.947" stop-color="#03e9f4"/><stop offset="0.982" stop-color="#00b5ff"/><stop offset="0.992" stop-color="#00b6ff"/><stop offset="0.998" stop-color="#00ddfe"/></linearGradient><linearGradient id="s111"><stop offset="0.002" stop-color="#00d0ff"/><stop offset="0.040" stop-color="#00b6ff"/><stop offset="0.056" stop-color="#05ecf2"/><stop offset="0.072" stop-color="#0096ff"/><stop offset="0.088" stop-color="#0093ff"/><stop offset="0.104" stop-color="#00d6ff"/><stop offset="0.133" stop-color="#008fff"/><stop offset="0.149" stop-color="#00b6ff"/><stop offset="0.155" stop-color="#19ffdd"/><stop offset="0.171" stop-color="#00bdff"/><stop offset="0.190" stop-color="#0085ff"/><stop offset="0.206" stop-color="#03e9f4"/><stop offset="0.225" stop-color="#00c1ff"/><stop offset="0.251" stop-color="#10f9e7"/><stop offset="0.270" stop-color="#0086ff"/><stop offset="0.308" stop-color="#00dbff"/><stop offset="0.324" stop-color="#0074ff"/><stop offset="0.340" stop-color="#00d7ff"/><stop offset="0.356" stop-color="#00d8ff"/><stop offset="0.375" stop-color="#007cff"/><stop offset="0.391" stop-color="#0094ff"/><stop offset="0.407" stop-color="#04ebf3"/><stop offset="0.433" stop-color="#63ff94"/><stop offset="0.449" stop-color="#08efef"/><stop offset="0.465" stop-color="#0080ff"/><stop offset="0.484" stop-color="#00a0ff"/><stop offset="0.494" stop-color="#00b6ff"/><stop offset="0.519" stop-color="#0083ff"/><stop offset="0.532" stop-color="#00caff"/><stop offset="0.558" stop-color="#0090ff"/><stop offset="0.589" stop-color="#00b4ff"/><stop offset="0.612" stop-color="#00defd"/><stop offset="0.625" stop-color="#00c7ff"/><stop offset="0.637" stop-color="#09f0ee"/><stop offset="0.653" stop-color="#00adff"/><stop offset="0.685" stop-color="#008dff"/><stop offset="0.730" stop-color="#00d2ff"/><stop offset="0.746" stop-color="#00a7ff"/><stop offset="0.759" stop-color="#007dff"/><stop offset="0.778" stop-color="#00a8ff"/><stop offset="0.800" stop-color="#03e9f4"/><stop offset="0.826" stop-color="#00e0fc"/><stop offset="0.845" stop-color="#009eff"/><stop offset="0.877" stop-color="#0087ff"/><stop offset="0.903" stop-color="#02e8f5"/><stop offset="0.925" stop-color="#00d2ff"/><stop offset="0.938" stop-color="#007cff"/><stop offset="0.947" stop-color="#0097ff"/><stop offset="0.960" stop-color="#0080ff"/><stop offset="0.976" stop-color="#0094ff"/><stop offset="0.998" stop-color="#0094ff"/></linearGradient><linearGradient id="s112"><stop offset="0.002" stop-color="#00acff"/><stop offset="0.040" stop-color="#006dff"/><stop offset="0.056" stop-color="#00c2ff"/><stop offset="0.075" stop-color="#005cff"/><stop offset="0.088" stop-color="#0049ff"/><stop offset="0.101" stop-color="#009eff"/><stop offset="0.123" stop-color="#007fff"/><stop offset="0.142" stop-color="#0065ff"/><stop offset="0.158" stop-color="#00d0ff"/><stop offset="0.177" stop-color="#0042ff"/><stop offset="0.193" stop-color="#0046ff"/><stop offset="0.206" stop-color="#00aeff"/><stop offset="0.228" stop-color="#0079ff"/><stop offset="0.251" stop-color="#00cfff"/><stop offset="0.267" stop-color="#0040ff"/><stop offset="0.286" stop-color="#0072ff"/><stop offset="0.302" stop-color="#00afff"/><stop offset="0.315" stop-color="#0082ff"/><stop offset="0.324" stop-color="#002dff"/><stop offset="0.340" stop-color="#0096ff"/><stop offset="0.359" stop-color="#007fff"/><stop offset="0.382" stop-color="#0041ff"/><stop offset="0.398" stop-color="#00a1ff"/><stop offset="0.407" stop-color="#00d4ff"/><stop offset="0.420" stop-color="#00c4ff"/><stop offset="0.433" stop-color="#26ffd1"/><stop offset="0.446" stop-color="#00a9ff"/><stop offset="0.462" stop-color="#004bff"/><stop offset="0.481" stop-color="#0067ff"/><stop offset="0.490" stop-color="#00a5ff"/><stop offset="0.519" stop-color="#0040ff"/><stop offset="0.532" stop-color="#00aeff"/><stop offset="0.561" stop-color="#004eff"/><stop offset="0.589" stop-color="#0059ff"/><stop offset="0.605" stop-color="#00caff"/><stop offset="0.625" stop-color="#00b1ff"/><stop offset="0.634" stop-color="#00d5ff"/><stop offset="0.657" stop-color="#004aff"/><stop offset="0.673" stop-color="#0050ff"/><stop offset="0.685" stop-color="#0011ff"/><stop offset="0.701" stop-color="#0061ff"/><stop offset="0.717" stop-color="#00baff"/><stop offset="0.746" stop-color="#0082ff"/><stop offset="0.762" stop-color="#0038ff"/><stop offset="0.788" stop-color="#0086ff"/><stop offset="0.797" stop-color="#00b2ff"/><stop offset="0.826" stop-color="#00b0ff"/><stop offset="0.842" stop-color="#004aff"/><stop offset="0.880" stop-color="#0052ff"/><stop offset="0.899" stop-color="#00bcff"/><stop offset="0.915" stop-color="#00aaff"/><stop offset="0.925" stop-color="#00a8ff"/><stop offset="0.938" stop-color="#0040ff"/><stop offset="0.960" stop-color="#0031ff"/><stop offset="0.976" stop-color="#0054ff"/><stop offset="0.998" stop-color="#003aff"/></linearGradient><linearGradient id="s113"><stop offset="0.002" stop-color="#00a9ff"/><stop offset="0.018" stop-color="#0072ff"/><stop offset="0.030" stop-color="#005fff"/><stop offset="0.037" stop-color="#0018ff"/><stop offset="0.050" stop-color="#009fff"/><stop offset="0.069" stop-color="#0002ff"/><stop offset="0.075" stop-color="#0000e7"/><stop offset="0.091" stop-color="#001bff"/><stop offset="0.104" stop-color="#0086ff"/><stop offset="0.117" stop-color="#0092ff"/><stop offset="0.133" stop-color="#0039ff"/><stop offset="0.139" stop-color="#0000e5"/><stop offset="0.158" stop-color="#006cff"/><stop offset="0.177" stop-color="#0011ff"/><stop offset="0.196" stop-color="#002aff"/><stop offset="0.212" stop-color="#0087ff"/><stop offset="0.232" stop-color="#0000ff"/><stop offset="0.238" stop-color="#0026ff"/><stop offset="0.244" stop-color="#0060ff"/><stop offset="0.264" stop-color="#0000f7"/><stop offset="0.280" stop-color="#0018ff"/><stop offset="0.296" stop-color="#00adff"/><stop offset="0.302" stop-color="#00c8ff"/><stop offset="0.318" stop-color="#0018ff"/><stop offset="0.331" stop-color="#0008fe"/><stop offset="0.343" stop-color="#0049ff"/><stop offset="0.369" stop-color="#0000fa"/><stop offset="0.375" stop-color="#0000cd"/><stop offset="0.379" stop-color="#0000fc"/><stop offset="0.404" stop-color="#00a3ff"/><stop offset="0.420" stop-color="#009fff"/><stop offset="0.433" stop-color="#1cffdb"/><stop offset="0.446" stop-color="#0077ff"/><stop offset="0.458" stop-color="#0023ff"/><stop offset="0.471" stop-color="#0000f7"/><stop offset="0.490" stop-color="#00acff"/><stop offset="0.519" stop-color="#0048ff"/><stop offset="0.538" stop-color="#008cff"/><stop offset="0.551" stop-color="#0018ff"/><stop offset="0.573" stop-color="#0005ff"/><stop offset="0.583" stop-color="#0025ff"/><stop offset="0.589" stop-color="#001aff"/><stop offset="0.602" stop-color="#00b7ff"/><stop offset="0.612" stop-color="#00bbff"/><stop offset="0.621" stop-color="#0083ff"/><stop offset="0.634" stop-color="#00b1ff"/><stop offset="0.657" stop-color="#0019ff"/><stop offset="0.676" stop-color="#0000e9"/><stop offset="0.682" stop-color="#0000b0"/><stop offset="0.695" stop-color="#000cff"/><stop offset="0.704" stop-color="#0020ff"/><stop offset="0.711" stop-color="#0034ff"/><stop offset="0.730" stop-color="#00bcff"/><stop offset="0.752" stop-color="#0002ff"/><stop offset="0.768" stop-color="#0000f1"/><stop offset="0.778" stop-color="#0027ff"/><stop offset="0.794" stop-color="#0079ff"/><stop offset="0.816" stop-color="#0022ff"/><stop offset="0.835" stop-color="#00a5ff"/><stop offset="0.845" stop-color="#00a6ff"/><stop offset="0.861" stop-color="#0032ff"/><stop offset="0.874" stop-color="#0014ff"/><stop offset="0.893" stop-color="#0093ff"/><stop offset="0.912" stop-color="#00acff"/><stop offset="0.941" stop-color="#0000ff"/><stop offset="0.957" stop-color="#0000d9"/><stop offset="0.973" stop-color="#0000fd"/><stop offset="0.986" stop-color="#0000ef"/><stop offset="0.995" stop-color="#0036ff"/><stop offset="0.998" stop-color="#0058ff"/></linearGradient><linearGradient id="s114"><stop offset="0.002" stop-color="#0090ff"/><stop offset="0.011" stop-color="#00a2ff"/><stop offset="0.037" stop-color="#0030ff"/><stop offset="0.050" stop-color="#0096ff"/><stop offset="0.069" stop-color="#0000f7"/><stop offset="0.075" stop-color="#0000dc"/><stop offset="0.081" stop-color="#0020ff"/><stop offset="0.097" stop-color="#0045ff"/><stop offset="0.110" stop-color="#00baff"/><stop offset="0.120" stop-color="#0072ff"/><stop offset="0.133" stop-color="#0000ff"/><stop offset="0.139" stop-color="#0000c8"/><stop offset="0.142" stop-color="#0000fb"/><stop offset="0.158" stop-color="#008cff"/><stop offset="0.187" stop-color="#0006f7"/><stop offset="0.193" stop-color="#000bff"/><stop offset="0.209" stop-color="#00afff"/><stop offset="0.228" stop-color="#0003fa"/><stop offset="0.235" stop-color="#0000ff"/><stop offset="0.244" stop-color="#007eff"/><stop offset="0.260" stop-color="#0000ff"/><stop offset="0.273" stop-color="#0000e1"/><stop offset="0.276" stop-color="#0000fc"/><stop offset="0.286" stop-color="#0068ff"/><stop offset="0.302" stop-color="#00adff"/><stop offset="0.331" stop-color="#0000ff"/><stop offset="0.343" stop-color="#0060ff"/><stop offset="0.356" stop-color="#0035ff"/><stop offset="0.375" stop-color="#0000f7"/><stop offset="0.388" stop-color="#006aff"/><stop offset="0.398" stop-color="#0080ff"/><stop offset="0.404" stop-color="#00b9ff"/><stop offset="0.417" stop-color="#0093ff"/><stop offset="0.427" stop-color="#26ffd1"/><stop offset="0.436" stop-color="#22ffd5"/><stop offset="0.442" stop-color="#00b1ff"/><stop offset="0.452" stop-color="#001aff"/><stop offset="0.462" stop-color="#0000e5"/><stop offset="0.468" stop-color="#0000c6"/><stop offset="0.478" stop-color="#000aff"/><stop offset="0.500" stop-color="#03daf8"/><stop offset="0.519" stop-color="#004bff"/><stop offset="0.538" stop-color="#0096ff"/><stop offset="0.558" stop-color="#0000ff"/><stop offset="0.573" stop-color="#0000e2"/><stop offset="0.583" stop-color="#002aff"/><stop offset="0.605" stop-color="#00afff"/><stop offset="0.618" stop-color="#0067ff"/><stop offset="0.634" stop-color="#00d6ff"/><stop offset="0.647" stop-color="#0076ff"/><stop offset="0.653" stop-color="#0034ff"/><stop offset="0.679" stop-color="#0000e6"/><stop offset="0.701" stop-color="#0000ff"/><stop offset="0.724" stop-color="#008fff"/><stop offset="0.733" stop-color="#007aff"/><stop offset="0.765" stop-color="#0000f4"/><stop offset="0.784" stop-color="#0024ff"/><stop offset="0.800" stop-color="#006dff"/><stop offset="0.816" stop-color="#0039ff"/><stop offset="0.829" stop-color="#008fff"/><stop offset="0.842" stop-color="#00b8ff"/><stop offset="0.861" stop-color="#0032ff"/><stop offset="0.877" stop-color="#002fff"/><stop offset="0.893" stop-color="#008eff"/><stop offset="0.915" stop-color="#0084ff"/><stop offset="0.925" stop-color="#004cff"/><stop offset="0.935" stop-color="#0026ff"/><stop offset="0.944" stop-color="#0000fd"/><stop offset="0.963" stop-color="#0000f6"/><stop offset="0.979" stop-color="#0020ff"/><stop offset="0.992" stop-color="#0031ff"/><stop offset="0.998" stop-color="#0065ff"/></linearGradient><linearGradient id="s115"><stop offset="0.002" stop-color="#0091ff"/><stop offset="0.011" stop-color="#00abff"/><stop offset="0.037" stop-color="#0028ff"/><stop offset="0.046" stop-color="#0089ff"/><stop offset="0.056" stop-color="#0043ff"/><stop offset="0.069" stop-color="#0000fb"/><stop offset="0.075" stop-color="#0000e3"/><stop offset="0.088" stop-color="#0056ff"/><stop offset="0.101" stop-color="#0065ff"/><stop offset="0.110" stop-color="#00beff"/><stop offset="0.139" stop-color="#0007ff"/><stop offset="0.158" stop-color="#0099ff"/><stop offset="0.174" stop-color="#0028ff"/><stop offset="0.187" stop-color="#0000fb"/><stop offset="0.193" stop-color="#0014ff"/><stop offset="0.209" stop-color="#00d3ff"/><stop offset="0.222" stop-color="#0055ff"/><stop offset="0.232" stop-color="#0000e5"/><stop offset="0.244" stop-color="#0060ff"/><stop offset="0.264" stop-color="#0010ff"/><stop offset="0.276" stop-color="#0000ec"/><stop offset="0.296" stop-color="#0088ff"/><stop offset="0.312" stop-color="#006fff"/><stop offset="0.331" stop-color="#0004f9"/><stop offset="0.343" stop-color="#0073ff"/><stop offset="0.359" stop-color="#0041ff"/><stop offset="0.369" stop-color="#0000ef"/><stop offset="0.375" stop-color="#0000e0"/><stop offset="0.385" stop-color="#0054ff"/><stop offset="0.407" stop-color="#00a8ff"/><stop offset="0.417" stop-color="#00b1ff"/><stop offset="0.420" stop-color="#04eaf3"/><stop offset="0.430" stop-color="#68ff8f"/><stop offset="0.439" stop-color="#35ffc1"/><stop offset="0.442" stop-color="#08edf0"/><stop offset="0.455" stop-color="#0020ff"/><stop offset="0.468" stop-color="#0000f1"/><stop offset="0.474" stop-color="#002cff"/><stop offset="0.500" stop-color="#00d4ff"/><stop offset="0.519" stop-color="#0052ff"/><stop offset="0.542" stop-color="#0078ff"/><stop offset="0.558" stop-color="#0000ff"/><stop offset="0.586" stop-color="#0014ff"/><stop offset="0.609" stop-color="#0091ff"/><stop offset="0.621" stop-color="#005cff"/><stop offset="0.634" stop-color="#00c7ff"/><stop offset="0.647" stop-color="#0065ff"/><stop offset="0.653" stop-color="#0025ff"/><stop offset="0.676" stop-color="#0000eb"/><stop offset="0.682" stop-color="#0000ca"/><stop offset="0.695" stop-color="#0000ff"/><stop offset="0.708" stop-color="#002aff"/><stop offset="0.720" stop-color="#0093ff"/><stop offset="0.736" stop-color="#0076ff"/><stop offset="0.752" stop-color="#0018ff"/><stop offset="0.762" stop-color="#0013ff"/><stop offset="0.778" stop-color="#0018ff"/><stop offset="0.794" stop-color="#0084ff"/><stop offset="0.810" stop-color="#0043ff"/><stop offset="0.819" stop-color="#0021ff"/><stop offset="0.839" stop-color="#08dff3"/><stop offset="0.855" stop-color="#008cff"/><stop offset="0.871" stop-color="#0022ff"/><stop offset="0.909" stop-color="#00c9fe"/><stop offset="0.935" stop-color="#0000ff"/><stop offset="0.989" stop-color="#0021ff"/><stop offset="0.998" stop-color="#005eff"/></linearGradient><linearGradient id="s116"><stop offset="0.002" stop-color="#00a5ff"/><stop offset="0.014" stop-color="#00aaff"/><stop offset="0.034" stop-color="#0062ff"/><stop offset="0.037" stop-color="#003dff"/><stop offset="0.050" stop-color="#0086ff"/><stop offset="0.072" stop-color="#0000ff"/><stop offset="0.091" stop-color="#0031ff"/><stop offset="0.110" stop-color="#00b7ff"/><stop offset="0.139" stop-color="#0000ee"/><stop offset="0.161" stop-color="#007dff"/><stop offset="0.171" stop-color="#0043ff"/><stop offset="0.181" stop-color="#0000fb"/><stop offset="0.193" stop-color="#0011ff"/><stop offset="0.209" stop-color="#00dffc"/><stop offset="0.222" stop-color="#006dff"/><stop offset="0.232" stop-color="#0012ff"/><stop offset="0.244" stop-color="#006aff"/><stop offset="0.260" stop-color="#002eff"/><stop offset="0.276" stop-color="#0003f3"/><stop offset="0.292" stop-color="#0079ff"/><stop offset="0.305" stop-color="#0093ff"/><stop offset="0.318" stop-color="#0063ff"/><stop offset="0.327" stop-color="#0000fb"/><stop offset="0.334" stop-color="#0002ff"/><stop offset="0.343" stop-color="#0081ff"/><stop offset="0.369" stop-color="#0000f7"/><stop offset="0.379" stop-color="#0017ff"/><stop offset="0.395" stop-color="#0086ff"/><stop offset="0.407" stop-color="#00caff"/><stop offset="0.417" stop-color="#00cdff"/><stop offset="0.423" stop-color="#3dffb9"/><stop offset="0.433" stop-color="#bbff3c"/><stop offset="0.446" stop-color="#1af5dc"/><stop offset="0.462" stop-color="#0045ff"/><stop offset="0.468" stop-color="#0000f6"/><stop offset="0.471" stop-color="#0000e0"/><stop offset="0.481" stop-color="#003bff"/><stop offset="0.500" stop-color="#00b3ff"/><stop offset="0.516" stop-color="#003bff"/><stop offset="0.538" stop-color="#0077ff"/><stop offset="0.551" stop-color="#0000ff"/><stop offset="0.589" stop-color="#0011ff"/><stop offset="0.602" stop-color="#0098ff"/><stop offset="0.621" stop-color="#0068ff"/><stop offset="0.634" stop-color="#00ccff"/><stop offset="0.657" stop-color="#0006ff"/><stop offset="0.679" stop-color="#0000fc"/><stop offset="0.685" stop-color="#0000cb"/><stop offset="0.698" stop-color="#0000f6"/><stop offset="0.708" stop-color="#0021ff"/><stop offset="0.717" stop-color="#006bff"/><stop offset="0.736" stop-color="#0071ff"/><stop offset="0.749" stop-color="#000aff"/><stop offset="0.772" stop-color="#000dff"/><stop offset="0.797" stop-color="#006aff"/><stop offset="0.813" stop-color="#0039ff"/><stop offset="0.819" stop-color="#0045ff"/><stop offset="0.832" stop-color="#01defa"/><stop offset="0.839" stop-color="#49ffae"/><stop offset="0.848" stop-color="#0be5f0"/><stop offset="0.858" stop-color="#005bff"/><stop offset="0.877" stop-color="#0023ff"/><stop offset="0.896" stop-color="#00abff"/><stop offset="0.915" stop-color="#0099ff"/><stop offset="0.941" stop-color="#0000ff"/><stop offset="0.966" stop-color="#0000e6"/><stop offset="0.998" stop-color="#0041ff"/></linearGradient><linearGradient id="s117"><stop offset="0.002" stop-color="#0096ff"/><stop offset="0.014" stop-color="#00a1ff"/><stop offset="0.037" stop-color="#0030ff"/><stop offset="0.050" stop-color="#00a2ff"/><stop offset="0.075" stop-color="#0000e7"/><stop offset="0.094" stop-color="#0025ff"/><stop offset="0.107" stop-color="#00acff"/><stop offset="0.123" stop-color="#0098ff"/><stop offset="0.139" stop-color="#0002f3"/><stop offset="0.158" stop-color="#006fff"/><stop offset="0.193" stop-color="#000bff"/><stop offset="0.203" stop-color="#0087ff"/><stop offset="0.212" stop-color="#008aff"/><stop offset="0.225" stop-color="#0063ff"/><stop offset="0.235" stop-color="#0022ff"/><stop offset="0.244" stop-color="#006cff"/><stop offset="0.276" stop-color="#0000ff"/><stop offset="0.296" stop-color="#009dff"/><stop offset="0.305" stop-color="#009aff"/><stop offset="0.331" stop-color="#000bf0"/><stop offset="0.340" stop-color="#0040ff"/><stop offset="0.347" stop-color="#0068ff"/><stop offset="0.375" stop-color="#000cff"/><stop offset="0.401" stop-color="#00c7ff"/><stop offset="0.414" stop-color="#00b0ff"/><stop offset="0.420" stop-color="#23ffd4"/><stop offset="0.430" stop-color="#d1ff26"/><stop offset="0.433" stop-color="#e0ff17"/><stop offset="0.449" stop-color="#07e8f4"/><stop offset="0.462" stop-color="#0039ff"/><stop offset="0.471" stop-color="#0000ed"/><stop offset="0.490" stop-color="#0081ff"/><stop offset="0.503" stop-color="#00c6ff"/><stop offset="0.516" stop-color="#0041ff"/><stop offset="0.542" stop-color="#0075ff"/><stop offset="0.551" stop-color="#0003ff"/><stop offset="0.577" stop-color="#001aff"/><stop offset="0.593" stop-color="#002dff"/><stop offset="0.605" stop-color="#00b6ff"/><stop offset="0.621" stop-color="#0083ff"/><stop offset="0.631" stop-color="#00b8ff"/><stop offset="0.653" stop-color="#0000ff"/><stop offset="0.692" stop-color="#0008ff"/><stop offset="0.717" stop-color="#004aff"/><stop offset="0.730" stop-color="#00b0ff"/><stop offset="0.756" stop-color="#0014ff"/><stop offset="0.768" stop-color="#0000fb"/><stop offset="0.784" stop-color="#0040ff"/><stop offset="0.794" stop-color="#0093ff"/><stop offset="0.819" stop-color="#0067ff"/><stop offset="0.832" stop-color="#0df6ea"/><stop offset="0.839" stop-color="#6cff8b"/><stop offset="0.845" stop-color="#70ff86"/><stop offset="0.851" stop-color="#20f9d6"/><stop offset="0.861" stop-color="#0075ff"/><stop offset="0.874" stop-color="#0051ff"/><stop offset="0.893" stop-color="#00a0ff"/><stop offset="0.903" stop-color="#0088ff"/><stop offset="0.912" stop-color="#00bcff"/><stop offset="0.938" stop-color="#0000ff"/><stop offset="0.960" stop-color="#0000ec"/><stop offset="0.986" stop-color="#000cff"/><stop offset="0.998" stop-color="#0084ff"/></linearGradient><linearGradient id="s118"><stop offset="0.002" stop-color="#007cff"/><stop offset="0.014" stop-color="#00b2ff"/><stop offset="0.030" stop-color="#0087ff"/><stop offset="0.037" stop-color="#003aff"/><stop offset="0.050" stop-color="#006eff"/><stop offset="0.069" stop-color="#0000ff"/><stop offset="0.075" stop-color="#0000d8"/><stop offset="0.088" stop-color="#0032ff"/><stop offset="0.097" stop-color="#0051ff"/><stop offset="0.110" stop-color="#00adff"/><stop offset="0.129" stop-color="#0072ff"/><stop offset="0.139" stop-color="#0008ff"/><stop offset="0.155" stop-color="#0073ff"/><stop offset="0.174" stop-color="#0046ff"/><stop offset="0.181" stop-color="#0000ff"/><stop offset="0.193" stop-color="#0008ff"/><stop offset="0.206" stop-color="#00a0ff"/><stop offset="0.212" stop-color="#00a8ff"/><stop offset="0.232" stop-color="#002eff"/><stop offset="0.244" stop-color="#008cff"/><stop offset="0.273" stop-color="#0000f7"/><stop offset="0.280" stop-color="#001aff"/><stop offset="0.292" stop-color="#00adff"/><stop offset="0.302" stop-color="#00b9ff"/><stop offset="0.315" stop-color="#0087ff"/><stop offset="0.324" stop-color="#002cff"/><stop offset="0.343" stop-color="#0061ff"/><stop offset="0.356" stop-color="#002cff"/><stop offset="0.375" stop-color="#0001ff"/><stop offset="0.404" stop-color="#00ceff"/><stop offset="0.414" stop-color="#00aeff"/><stop offset="0.420" stop-color="#16fee1"/><stop offset="0.430" stop-color="#b9ff3e"/><stop offset="0.436" stop-color="#b9ff3e"/><stop offset="0.446" stop-color="#0ef6e9"/><stop offset="0.455" stop-color="#005dff"/><stop offset="0.471" stop-color="#0001fd"/><stop offset="0.500" stop-color="#00afff"/><stop offset="0.513" stop-color="#0072ff"/><stop offset="0.519" stop-color="#0048ff"/><stop offset="0.538" stop-color="#00a0ff"/><stop offset="0.554" stop-color="#0002fb"/><stop offset="0.573" stop-color="#0000ed"/><stop offset="0.593" stop-color="#004eff"/><stop offset="0.605" stop-color="#00caff"/><stop offset="0.621" stop-color="#0098ff"/><stop offset="0.634" stop-color="#00c8ff"/><stop offset="0.653" stop-color="#0012ff"/><stop offset="0.682" stop-color="#0000db"/><stop offset="0.698" stop-color="#0000fb"/><stop offset="0.717" stop-color="#006cff"/><stop offset="0.727" stop-color="#00c5ff"/><stop offset="0.740" stop-color="#0089ff"/><stop offset="0.749" stop-color="#001dff"/><stop offset="0.768" stop-color="#000cff"/><stop offset="0.800" stop-color="#0079ff"/><stop offset="0.819" stop-color="#0051ff"/><stop offset="0.829" stop-color="#00c0ff"/><stop offset="0.832" stop-color="#11fbe6"/><stop offset="0.842" stop-color="#7aff7d"/><stop offset="0.851" stop-color="#26ffd1"/><stop offset="0.855" stop-color="#00d0ff"/><stop offset="0.861" stop-color="#0067ff"/><stop offset="0.877" stop-color="#0036ff"/><stop offset="0.899" stop-color="#00caff"/><stop offset="0.912" stop-color="#00b8ff"/><stop offset="0.931" stop-color="#002fff"/><stop offset="0.966" stop-color="#0000ec"/><stop offset="0.986" stop-color="#001eff"/><stop offset="0.998" stop-color="#008dff"/></linearGradient><linearGradient id="s119"><stop offset="0.002" stop-color="#008fff"/><stop offset="0.014" stop-color="#00b8ff"/><stop offset="0.037" stop-color="#0037ff"/><stop offset="0.050" stop-color="#00a6ff"/><stop offset="0.069" stop-color="#001bff"/><stop offset="0.078" stop-color="#0014ff"/><stop offset="0.094" stop-color="#0024ff"/><stop offset="0.107" stop-color="#00c2ff"/><stop offset="0.117" stop-color="#0095ff"/><stop offset="0.139" stop-color="#0006fe"/><stop offset="0.155" stop-color="#0090ff"/><stop offset="0.177" stop-color="#0045ff"/><stop offset="0.187" stop-color="#0000ff"/><stop offset="0.193" stop-color="#0008ff"/><stop offset="0.209" stop-color="#00c8ff"/><stop offset="0.219" stop-color="#008aff"/><stop offset="0.232" stop-color="#0050ff"/><stop offset="0.244" stop-color="#008eff"/><stop offset="0.264" stop-color="#0006ff"/><stop offset="0.276" stop-color="#0005ff"/><stop offset="0.292" stop-color="#0085ff"/><stop offset="0.312" stop-color="#00adff"/><stop offset="0.324" stop-color="#004cff"/><stop offset="0.343" stop-color="#0085ff"/><stop offset="0.356" stop-color="#0002ff"/><stop offset="0.375" stop-color="#0000fd"/><stop offset="0.398" stop-color="#00a7ff"/><stop offset="0.420" stop-color="#0df3ea"/><stop offset="0.433" stop-color="#92ff65"/><stop offset="0.442" stop-color="#18f9df"/><stop offset="0.452" stop-color="#006bff"/><stop offset="0.468" stop-color="#0000f9"/><stop offset="0.494" stop-color="#00a9ff"/><stop offset="0.513" stop-color="#0088ff"/><stop offset="0.519" stop-color="#0064ff"/><stop offset="0.532" stop-color="#00a1ff"/><stop offset="0.545" stop-color="#0068ff"/><stop offset="0.554" stop-color="#000dff"/><stop offset="0.573" stop-color="#0000e7"/><stop offset="0.602" stop-color="#00a2ff"/><stop offset="0.609" stop-color="#00c0ff"/><stop offset="0.621" stop-color="#0087ff"/><stop offset="0.634" stop-color="#00beff"/><stop offset="0.653" stop-color="#0012ff"/><stop offset="0.676" stop-color="#0000f3"/><stop offset="0.682" stop-color="#0000d8"/><stop offset="0.695" stop-color="#0023ff"/><stop offset="0.714" stop-color="#0050ff"/><stop offset="0.730" stop-color="#00c4ff"/><stop offset="0.749" stop-color="#0018ff"/><stop offset="0.768" stop-color="#000cff"/><stop offset="0.800" stop-color="#0078ff"/><stop offset="0.810" stop-color="#004eff"/><stop offset="0.823" stop-color="#006dff"/><stop offset="0.832" stop-color="#08efef"/><stop offset="0.839" stop-color="#66ff91"/><stop offset="0.845" stop-color="#5eff99"/><stop offset="0.851" stop-color="#0bf0ed"/><stop offset="0.861" stop-color="#0046ff"/><stop offset="0.874" stop-color="#0017ff"/><stop offset="0.903" stop-color="#00b1ff"/><stop offset="0.925" stop-color="#0082ff"/><stop offset="0.941" stop-color="#0012ff"/><stop offset="0.982" stop-color="#0009f9"/><stop offset="0.998" stop-color="#0075ff"/></linearGradient><linearGradient id="s120"><stop offset="0.002" stop-color="#00ceff"/><stop offset="0.034" stop-color="#004eff"/><stop offset="0.037" stop-color="#0036ff"/><stop offset="0.050" stop-color="#0087ff"/><stop offset="0.072" stop-color="#0024ff"/><stop offset="0.075" stop-color="#0000ff"/><stop offset="0.094" stop-color="#0033ff"/><stop offset="0.107" stop-color="#00c7ff"/><stop offset="0.110" stop-color="#00d2fb"/><stop offset="0.133" stop-color="#0025ff"/><stop offset="0.139" stop-color="#0001ff"/><stop offset="0.158" stop-color="#008bff"/><stop offset="0.174" stop-color="#002bff"/><stop offset="0.193" stop-color="#000cff"/><stop offset="0.209" stop-color="#00caff"/><stop offset="0.232" stop-color="#0005ff"/><stop offset="0.244" stop-color="#006cff"/><stop offset="0.267" stop-color="#0004fd"/><stop offset="0.273" stop-color="#0000d6"/><stop offset="0.283" stop-color="#0035ff"/><stop offset="0.299" stop-color="#00a4ff"/><stop offset="0.327" stop-color="#0027ff"/><stop offset="0.340" stop-color="#007fff"/><stop offset="0.347" stop-color="#006cff"/><stop offset="0.356" stop-color="#0018ff"/><stop offset="0.375" stop-color="#0000ff"/><stop offset="0.404" stop-color="#00c0ff"/><stop offset="0.417" stop-color="#00b5ff"/><stop offset="0.427" stop-color="#36ffc0"/><stop offset="0.433" stop-color="#56ffa1"/><stop offset="0.442" stop-color="#03e4f7"/><stop offset="0.455" stop-color="#0043ff"/><stop offset="0.468" stop-color="#0021ff"/><stop offset="0.478" stop-color="#0075ff"/><stop offset="0.500" stop-color="#00afff"/><stop offset="0.516" stop-color="#003fff"/><stop offset="0.538" stop-color="#0083ff"/><stop offset="0.558" stop-color="#0001ff"/><stop offset="0.573" stop-color="#0000eb"/><stop offset="0.586" stop-color="#0056ff"/><stop offset="0.602" stop-color="#00a7ff"/><stop offset="0.612" stop-color="#00b3ff"/><stop offset="0.621" stop-color="#007eff"/><stop offset="0.634" stop-color="#00c4ff"/><stop offset="0.653" stop-color="#0021ff"/><stop offset="0.685" stop-color="#0000e8"/><stop offset="0.708" stop-color="#0031ff"/><stop offset="0.730" stop-color="#00a5ff"/><stop offset="0.749" stop-color="#002bff"/><stop offset="0.768" stop-color="#000aff"/><stop offset="0.784" stop-color="#004fff"/><stop offset="0.804" stop-color="#007cff"/><stop offset="0.816" stop-color="#004fff"/><stop offset="0.832" stop-color="#00dcfc"/><stop offset="0.842" stop-color="#31fac6"/><stop offset="0.851" stop-color="#00d5ff"/><stop offset="0.864" stop-color="#0040ff"/><stop offset="0.880" stop-color="#0033ff"/><stop offset="0.893" stop-color="#0092ff"/><stop offset="0.912" stop-color="#00a8ff"/><stop offset="0.944" stop-color="#0003ff"/><stop offset="0.960" stop-color="#0000de"/><stop offset="0.970" stop-color="#0000c7"/><stop offset="0.979" stop-color="#0010ff"/><stop offset="0.998" stop-color="#0082ff"/></linearGradient><linearGradient id="s121"><stop offset="0.002" stop-color="#00b8ff"/><stop offset="0.034" stop-color="#0045ff"/><stop offset="0.037" stop-color="#0035ff"/><stop offset="0.046" stop-color="#0086ff"/><stop offset="0.072" stop-color="#0000f0"/><stop offset="0.075" stop-color="#0000d9"/><stop offset="0.081" stop-color="#0023ff"/><stop offset="0.101" stop-color="#0086ff"/><stop offset="0.110" stop-color="#00c9ff"/><stop offset="0.139" stop-color="#0000f6"/><stop offset="0.158" stop-color="#009fff"/><stop offset="0.174" stop-color="#0061ff"/><stop offset="0.184" stop-color="#0046ff"/><stop offset="0.190" stop-color="#0008ff"/><stop offset="0.209" stop-color="#01d9fa"/><stop offset="0.225" stop-color="#0052ff"/><stop offset="0.232" stop-color="#0007fd"/><stop offset="0.238" stop-color="#0035ff"/><stop offset="0.244" stop-color="#0084ff"/><stop offset="0.254" stop-color="#006cff"/><stop offset="0.270" stop-color="#0007f5"/><stop offset="0.276" stop-color="#0000e4"/><stop offset="0.286" stop-color="#005dff"/><stop offset="0.299" stop-color="#00bbff"/><stop offset="0.318" stop-color="#0057ff"/><stop offset="0.331" stop-color="#0019ff"/><stop offset="0.343" stop-color="#0077ff"/><stop offset="0.356" stop-color="#002bff"/><stop offset="0.375" stop-color="#0000ff"/><stop offset="0.395" stop-color="#00a3ff"/><stop offset="0.404" stop-color="#00a4ff"/><stop offset="0.414" stop-color="#0083ff"/><stop offset="0.427" stop-color="#1af2dd"/><stop offset="0.433" stop-color="#63ff94"/><stop offset="0.442" stop-color="#0defed"/><stop offset="0.458" stop-color="#002dff"/><stop offset="0.471" stop-color="#0000fb"/><stop offset="0.500" stop-color="#00b2ff"/><stop offset="0.513" stop-color="#006fff"/><stop offset="0.519" stop-color="#004fff"/><stop offset="0.538" stop-color="#0080ff"/><stop offset="0.558" stop-color="#0000ff"/><stop offset="0.577" stop-color="#0007fa"/><stop offset="0.593" stop-color="#005fff"/><stop offset="0.602" stop-color="#00d0ff"/><stop offset="0.628" stop-color="#00a9ff"/><stop offset="0.634" stop-color="#00c8ff"/><stop offset="0.653" stop-color="#003bff"/><stop offset="0.685" stop-color="#000ae9"/><stop offset="0.717" stop-color="#0050ff"/><stop offset="0.730" stop-color="#00b6ff"/><stop offset="0.752" stop-color="#002aff"/><stop offset="0.768" stop-color="#0001ff"/><stop offset="0.797" stop-color="#0080ff"/><stop offset="0.816" stop-color="#004aff"/><stop offset="0.832" stop-color="#00dffb"/><stop offset="0.839" stop-color="#2cffcb"/><stop offset="0.845" stop-color="#01e3f9"/><stop offset="0.861" stop-color="#0042ff"/><stop offset="0.877" stop-color="#0011ff"/><stop offset="0.893" stop-color="#009aff"/><stop offset="0.912" stop-color="#00b8ff"/><stop offset="0.938" stop-color="#0025ff"/><stop offset="0.950" stop-color="#0022ff"/><stop offset="0.963" stop-color="#0000dc"/><stop offset="0.982" stop-color="#000eff"/><stop offset="0.998" stop-color="#007bff"/></linearGradient><linearGradient id="s122"><stop offset="0.002" stop-color="#00bbff"/><stop offset="0.018" stop-color="#00a2ff"/><stop offset="0.037" stop-color="#001bff"/><stop offset="0.046" stop-color="#009eff"/><stop offset="0.053" stop-color="#0077ff"/><stop offset="0.069" stop-color="#0024ff"/><stop offset="0.081" stop-color="#0000f7"/><stop offset="0.094" stop-color="#005bff"/><stop offset="0.104" stop-color="#00aeff"/><stop offset="0.126" stop-color="#006eff"/><stop offset="0.139" stop-color="#0000eb"/><stop offset="0.158" stop-color="#006eff"/><stop offset="0.171" stop-color="#006aff"/><stop offset="0.187" stop-color="#0000e6"/><stop offset="0.190" stop-color="#0000cb"/><stop offset="0.196" stop-color="#0020ff"/><stop offset="0.209" stop-color="#00a6ff"/><stop offset="0.225" stop-color="#005eff"/><stop offset="0.232" stop-color="#0010ff"/><stop offset="0.238" stop-color="#002fff"/><stop offset="0.244" stop-color="#006eff"/><stop offset="0.260" stop-color="#0024ff"/><stop offset="0.270" stop-color="#0026ff"/><stop offset="0.276" stop-color="#000fff"/><stop offset="0.289" stop-color="#0091ff"/><stop offset="0.308" stop-color="#0098ff"/><stop offset="0.331" stop-color="#001eff"/><stop offset="0.343" stop-color="#0077ff"/><stop offset="0.366" stop-color="#002bff"/><stop offset="0.375" stop-color="#0000eb"/><stop offset="0.391" stop-color="#007eff"/><stop offset="0.404" stop-color="#00c2ff"/><stop offset="0.414" stop-color="#00acff"/><stop offset="0.417" stop-color="#00d4ff"/><stop offset="0.423" stop-color="#61ff96"/><stop offset="0.433" stop-color="#dafa1d"/><stop offset="0.442" stop-color="#55ffa2"/><stop offset="0.446" stop-color="#1cfddb"/><stop offset="0.452" stop-color="#0091ff"/><stop offset="0.468" stop-color="#0000ff"/><stop offset="0.478" stop-color="#0030ff"/><stop offset="0.494" stop-color="#00acff"/><stop offset="0.506" stop-color="#00b2ff"/><stop offset="0.516" stop-color="#0041ff"/><stop offset="0.542" stop-color="#007dff"/><stop offset="0.558" stop-color="#000aff"/><stop offset="0.573" stop-color="#0000d9"/><stop offset="0.580" stop-color="#0018ff"/><stop offset="0.589" stop-color="#003bff"/><stop offset="0.602" stop-color="#0089ff"/><stop offset="0.612" stop-color="#00a0ff"/><stop offset="0.625" stop-color="#00a3ff"/><stop offset="0.634" stop-color="#00cdfd"/><stop offset="0.657" stop-color="#0036ff"/><stop offset="0.692" stop-color="#0008ff"/><stop offset="0.711" stop-color="#0034ff"/><stop offset="0.730" stop-color="#00d0ff"/><stop offset="0.740" stop-color="#0067ff"/><stop offset="0.752" stop-color="#000aff"/><stop offset="0.781" stop-color="#001eff"/><stop offset="0.800" stop-color="#005dff"/><stop offset="0.816" stop-color="#0049ff"/><stop offset="0.829" stop-color="#00d6fe"/><stop offset="0.835" stop-color="#3bffbc"/><stop offset="0.842" stop-color="#55ffa2"/><stop offset="0.851" stop-color="#0ddbee"/><stop offset="0.861" stop-color="#0052ff"/><stop offset="0.877" stop-color="#0039ff"/><stop offset="0.909" stop-color="#00b4ff"/><stop offset="0.931" stop-color="#0041ff"/><stop offset="0.941" stop-color="#0015ff"/><stop offset="0.986" stop-color="#0014ff"/><stop offset="0.998" stop-color="#0068ff"/></linearGradient><linearGradient id="s123"><stop offset="0.002" stop-color="#00c1ff"/><stop offset="0.011" stop-color="#00d5fb"/><stop offset="0.027" stop-color="#006dff"/><stop offset="0.037" stop-color="#003bff"/><stop offset="0.046" stop-color="#0098ff"/><stop offset="0.069" stop-color="#0002ff"/><stop offset="0.088" stop-color="#000fff"/><stop offset="0.110" stop-color="#00b3ff"/><stop offset="0.133" stop-color="#0038ff"/><stop offset="0.139" stop-color="#0000f6"/><stop offset="0.155" stop-color="#008eff"/><stop offset="0.168" stop-color="#007aff"/><stop offset="0.181" stop-color="#0000fa"/><stop offset="0.190" stop-color="#0000df"/><stop offset="0.193" stop-color="#0006ff"/><stop offset="0.203" stop-color="#007dff"/><stop offset="0.209" stop-color="#009dff"/><stop offset="0.225" stop-color="#0046ff"/><stop offset="0.232" stop-color="#0003ff"/><stop offset="0.244" stop-color="#0046ff"/><stop offset="0.267" stop-color="#0000ff"/><stop offset="0.276" stop-color="#0000fe"/><stop offset="0.296" stop-color="#00b7ff"/><stop offset="0.302" stop-color="#00c6ff"/><stop offset="0.312" stop-color="#0066ff"/><stop offset="0.331" stop-color="#0009ff"/><stop offset="0.343" stop-color="#0076ff"/><stop offset="0.375" stop-color="#0000f4"/><stop offset="0.407" stop-color="#00b1ff"/><stop offset="0.417" stop-color="#00bfff"/><stop offset="0.420" stop-color="#16fee1"/><stop offset="0.430" stop-color="#c8ff2f"/><stop offset="0.433" stop-color="#d7f921"/><stop offset="0.442" stop-color="#3dffba"/><stop offset="0.446" stop-color="#05def6"/><stop offset="0.455" stop-color="#0032ff"/><stop offset="0.471" stop-color="#0000f0"/><stop offset="0.481" stop-color="#0049ff"/><stop offset="0.490" stop-color="#008dff"/><stop offset="0.503" stop-color="#00b7ff"/><stop offset="0.516" stop-color="#0038ff"/><stop offset="0.532" stop-color="#006fff"/><stop offset="0.542" stop-color="#008fff"/><stop offset="0.554" stop-color="#0013ff"/><stop offset="0.580" stop-color="#0009ff"/><stop offset="0.605" stop-color="#00b0ff"/><stop offset="0.615" stop-color="#00a4ff"/><stop offset="0.625" stop-color="#008cff"/><stop offset="0.644" stop-color="#00a3ff"/><stop offset="0.657" stop-color="#001cff"/><stop offset="0.708" stop-color="#0009ff"/><stop offset="0.717" stop-color="#0062ff"/><stop offset="0.724" stop-color="#00afff"/><stop offset="0.733" stop-color="#0090ff"/><stop offset="0.749" stop-color="#0007f6"/><stop offset="0.768" stop-color="#0020ff"/><stop offset="0.800" stop-color="#007dff"/><stop offset="0.819" stop-color="#004fff"/><stop offset="0.829" stop-color="#00c7ff"/><stop offset="0.832" stop-color="#1effd9"/><stop offset="0.839" stop-color="#86ff71"/><stop offset="0.845" stop-color="#84ff72"/><stop offset="0.851" stop-color="#22ffd5"/><stop offset="0.858" stop-color="#0080ff"/><stop offset="0.871" stop-color="#0031ff"/><stop offset="0.909" stop-color="#00b7ff"/><stop offset="0.938" stop-color="#0000f5"/><stop offset="0.982" stop-color="#0012ff"/><stop offset="0.998" stop-color="#0077ff"/></linearGradient><linearGradient id="s124"><stop offset="0.002" stop-color="#00b7ff"/><stop offset="0.027" stop-color="#009dff"/><stop offset="0.037" stop-color="#003aff"/><stop offset="0.046" stop-color="#0084ff"/><stop offset="0.072" stop-color="#0000fb"/><stop offset="0.075" stop-color="#0000c5"/><stop offset="0.085" stop-color="#000fff"/><stop offset="0.091" stop-color="#0061ff"/><stop offset="0.110" stop-color="#00aaff"/><stop offset="0.129" stop-color="#0066ff"/><stop offset="0.136" stop-color="#000cff"/><stop offset="0.142" stop-color="#000dff"/><stop offset="0.152" stop-color="#0052ff"/><stop offset="0.161" stop-color="#0058ff"/><stop offset="0.190" stop-color="#0000f3"/><stop offset="0.209" stop-color="#00c2ff"/><stop offset="0.232" stop-color="#0002ff"/><stop offset="0.241" stop-color="#003aff"/><stop offset="0.248" stop-color="#006dff"/><stop offset="0.267" stop-color="#000eff"/><stop offset="0.280" stop-color="#0014ff"/><stop offset="0.299" stop-color="#00bbff"/><stop offset="0.318" stop-color="#0030ff"/><stop offset="0.324" stop-color="#0002ff"/><stop offset="0.334" stop-color="#0042ff"/><stop offset="0.343" stop-color="#0092ff"/><stop offset="0.356" stop-color="#0011ff"/><stop offset="0.375" stop-color="#0000ff"/><stop offset="0.385" stop-color="#005aff"/><stop offset="0.417" stop-color="#00a4ff"/><stop offset="0.427" stop-color="#35ffc2"/><stop offset="0.436" stop-color="#31ffc6"/><stop offset="0.442" stop-color="#00dbfb"/><stop offset="0.455" stop-color="#002bff"/><stop offset="0.468" stop-color="#0000e2"/><stop offset="0.484" stop-color="#0057ff"/><stop offset="0.500" stop-color="#00c3ff"/><stop offset="0.516" stop-color="#005bff"/><stop offset="0.532" stop-color="#0067ff"/><stop offset="0.542" stop-color="#0092ff"/><stop offset="0.551" stop-color="#0008ff"/><stop offset="0.564" stop-color="#0000d0"/><stop offset="0.589" stop-color="#0025ff"/><stop offset="0.602" stop-color="#00c9ff"/><stop offset="0.621" stop-color="#008eff"/><stop offset="0.634" stop-color="#00b0ff"/><stop offset="0.650" stop-color="#0052ff"/><stop offset="0.657" stop-color="#002bff"/><stop offset="0.669" stop-color="#002dff"/><stop offset="0.685" stop-color="#0000e1"/><stop offset="0.704" stop-color="#0009ff"/><stop offset="0.730" stop-color="#00b5ff"/><stop offset="0.743" stop-color="#0066ff"/><stop offset="0.752" stop-color="#0002ff"/><stop offset="0.788" stop-color="#003fff"/><stop offset="0.800" stop-color="#0093ff"/><stop offset="0.816" stop-color="#0024ff"/><stop offset="0.823" stop-color="#004aff"/><stop offset="0.829" stop-color="#00c4ff"/><stop offset="0.832" stop-color="#1bfbdc"/><stop offset="0.839" stop-color="#5dff9a"/><stop offset="0.848" stop-color="#16eae5"/><stop offset="0.861" stop-color="#0039ff"/><stop offset="0.883" stop-color="#0053ff"/><stop offset="0.893" stop-color="#0087ff"/><stop offset="0.912" stop-color="#009cff"/><stop offset="0.941" stop-color="#0000fb"/><stop offset="0.982" stop-color="#001dff"/><stop offset="0.998" stop-color="#0062ff"/></linearGradient><linearGradient id="s125"><stop offset="0.002" stop-color="#0089ff"/><stop offset="0.021" stop-color="#00a5ff"/><stop offset="0.037" stop-color="#0001ff"/><stop offset="0.050" stop-color="#005aff"/><stop offset="0.081" stop-color="#0004ff"/><stop offset="0.101" stop-color="#006fff"/><stop offset="0.110" stop-color="#00bfff"/><stop offset="0.126" stop-color="#007eff"/><stop offset="0.136" stop-color="#0005ff"/><stop offset="0.152" stop-color="#0058ff"/><stop offset="0.158" stop-color="#0080ff"/><stop offset="0.181" stop-color="#0000ef"/><stop offset="0.193" stop-color="#0009ff"/><stop offset="0.206" stop-color="#00c5ff"/><stop offset="0.212" stop-color="#03e3f8"/><stop offset="0.232" stop-color="#000fff"/><stop offset="0.244" stop-color="#0083ff"/><stop offset="0.267" stop-color="#0000f4"/><stop offset="0.276" stop-color="#0003ff"/><stop offset="0.296" stop-color="#007fff"/><stop offset="0.305" stop-color="#008bff"/><stop offset="0.318" stop-color="#0044ff"/><stop offset="0.327" stop-color="#0017ff"/><stop offset="0.337" stop-color="#004dff"/><stop offset="0.343" stop-color="#0084ff"/><stop offset="0.359" stop-color="#0000ff"/><stop offset="0.379" stop-color="#0014ff"/><stop offset="0.388" stop-color="#0077ff"/><stop offset="0.404" stop-color="#00abff"/><stop offset="0.417" stop-color="#0060ff"/><stop offset="0.430" stop-color="#01e3f9"/><stop offset="0.439" stop-color="#00dbfc"/><stop offset="0.458" stop-color="#0002ff"/><stop offset="0.471" stop-color="#0000f4"/><stop offset="0.484" stop-color="#0060ff"/><stop offset="0.494" stop-color="#0083ff"/><stop offset="0.500" stop-color="#00c6ff"/><stop offset="0.516" stop-color="#003bff"/><stop offset="0.529" stop-color="#0070ff"/><stop offset="0.545" stop-color="#0062ff"/><stop offset="0.554" stop-color="#0000f9"/><stop offset="0.564" stop-color="#0000e7"/><stop offset="0.589" stop-color="#0027ff"/><stop offset="0.602" stop-color="#00b3ff"/><stop offset="0.621" stop-color="#0066ff"/><stop offset="0.634" stop-color="#00a9ff"/><stop offset="0.660" stop-color="#0018ff"/><stop offset="0.688" stop-color="#000fff"/><stop offset="0.708" stop-color="#0023ff"/><stop offset="0.733" stop-color="#00c9ff"/><stop offset="0.746" stop-color="#0065ff"/><stop offset="0.752" stop-color="#000cff"/><stop offset="0.768" stop-color="#0000eb"/><stop offset="0.784" stop-color="#0025ff"/><stop offset="0.800" stop-color="#009dff"/><stop offset="0.819" stop-color="#003fff"/><stop offset="0.839" stop-color="#05e0f5"/><stop offset="0.858" stop-color="#0027ff"/><stop offset="0.877" stop-color="#0032ff"/><stop offset="0.893" stop-color="#0075ff"/><stop offset="0.909" stop-color="#009fff"/><stop offset="0.935" stop-color="#0025ff"/><stop offset="0.944" stop-color="#0000f0"/><stop offset="0.986" stop-color="#001eff"/><stop offset="0.998" stop-color="#006eff"/></linearGradient><linearGradient id="s126"><stop offset="0.002" stop-color="#0062ff"/><stop offset="0.014" stop-color="#0096ff"/><stop offset="0.030" stop-color="#004dff"/><stop offset="0.037" stop-color="#001bff"/><stop offset="0.043" stop-color="#009dff"/><stop offset="0.050" stop-color="#00b6ff"/><stop offset="0.065" stop-color="#001cff"/><stop offset="0.078" stop-color="#0000f8"/><stop offset="0.094" stop-color="#002aff"/><stop offset="0.110" stop-color="#00c9ff"/><stop offset="0.126" stop-color="#0067ff"/><stop offset="0.133" stop-color="#000aff"/><stop offset="0.139" stop-color="#0000db"/><stop offset="0.145" stop-color="#0022ff"/><stop offset="0.158" stop-color="#0092ff"/><stop offset="0.177" stop-color="#0009ff"/><stop offset="0.193" stop-color="#0005f3"/><stop offset="0.209" stop-color="#00d2ff"/><stop offset="0.228" stop-color="#004fff"/><stop offset="0.235" stop-color="#000cff"/><stop offset="0.244" stop-color="#0075ff"/><stop offset="0.264" stop-color="#000fff"/><stop offset="0.273" stop-color="#0000ff"/><stop offset="0.289" stop-color="#0075ff"/><stop offset="0.302" stop-color="#00b9ff"/><stop offset="0.321" stop-color="#0039ff"/><stop offset="0.334" stop-color="#003fff"/><stop offset="0.343" stop-color="#007cff"/><stop offset="0.356" stop-color="#0000fe"/><stop offset="0.375" stop-color="#0000cd"/><stop offset="0.379" stop-color="#0000fe"/><stop offset="0.388" stop-color="#006fff"/><stop offset="0.407" stop-color="#008dff"/><stop offset="0.417" stop-color="#006eff"/><stop offset="0.430" stop-color="#1fffd8"/><stop offset="0.439" stop-color="#00c6ff"/><stop offset="0.452" stop-color="#0032ff"/><stop offset="0.471" stop-color="#0000ff"/><stop offset="0.500" stop-color="#00aeff"/><stop offset="0.516" stop-color="#0020ff"/><stop offset="0.538" stop-color="#007dff"/><stop offset="0.554" stop-color="#0000ff"/><stop offset="0.573" stop-color="#0000ee"/><stop offset="0.593" stop-color="#005cff"/><stop offset="0.605" stop-color="#00dbfc"/><stop offset="0.621" stop-color="#0075ff"/><stop offset="0.634" stop-color="#00a5ff"/><stop offset="0.653" stop-color="#001bff"/><stop offset="0.663" stop-color="#0028ff"/><stop offset="0.676" stop-color="#0000fa"/><stop offset="0.708" stop-color="#000fff"/><stop offset="0.720" stop-color="#008aff"/><stop offset="0.736" stop-color="#00a4ff"/><stop offset="0.746" stop-color="#0046ff"/><stop offset="0.752" stop-color="#0002ff"/><stop offset="0.765" stop-color="#0000e2"/><stop offset="0.788" stop-color="#0057ff"/><stop offset="0.804" stop-color="#0092ff"/><stop offset="0.819" stop-color="#0044ff"/><stop offset="0.839" stop-color="#00b7ff"/><stop offset="0.861" stop-color="#0029ff"/><stop offset="0.896" stop-color="#0077ff"/><stop offset="0.909" stop-color="#00b6ff"/><stop offset="0.941" stop-color="#0000fc"/><stop offset="0.963" stop-color="#0000d5"/><stop offset="0.982" stop-color="#0000ff"/><stop offset="0.998" stop-color="#0074ff"/></linearGradient><linearGradient id="s127"><stop offset="0.002" stop-color="#008eff"/><stop offset="0.014" stop-color="#00b1ff"/><stop offset="0.037" stop-color="#0000ee"/><stop offset="0.046" stop-color="#0086ff"/><stop offset="0.053" stop-color="#006aff"/><stop offset="0.062" stop-color="#0020ff"/><stop offset="0.091" stop-color="#0007ff"/><stop offset="0.101" stop-color="#0043ff"/><stop offset="0.110" stop-color="#00b3ff"/><stop offset="0.133" stop-color="#0037ff"/><stop offset="0.139" stop-color="#0000f1"/><stop offset="0.158" stop-color="#007dff"/><stop offset="0.174" stop-color="#0005ff"/><stop offset="0.196" stop-color="#0016ff"/><stop offset="0.209" stop-color="#00b4ff"/><stop offset="0.222" stop-color="#005fff"/><stop offset="0.232" stop-color="#0000fb"/><stop offset="0.241" stop-color="#003cff"/><stop offset="0.248" stop-color="#0065ff"/><stop offset="0.260" stop-color="#0000ff"/><stop offset="0.273" stop-color="#0000c8"/><stop offset="0.283" stop-color="#001cff"/><stop offset="0.302" stop-color="#0096ff"/><stop offset="0.324" stop-color="#001bff"/><stop offset="0.331" stop-color="#001eff"/><stop offset="0.343" stop-color="#007dff"/><stop offset="0.359" stop-color="#0002ff"/><stop offset="0.375" stop-color="#0000da"/><stop offset="0.382" stop-color="#0025ff"/><stop offset="0.404" stop-color="#00b2ff"/><stop offset="0.414" stop-color="#0085ff"/><stop offset="0.433" stop-color="#02e8f5"/><stop offset="0.446" stop-color="#0071ff"/><stop offset="0.458" stop-color="#0000ff"/><stop offset="0.468" stop-color="#0000d7"/><stop offset="0.478" stop-color="#0031ff"/><stop offset="0.494" stop-color="#00aaff"/><stop offset="0.513" stop-color="#0074ff"/><stop offset="0.519" stop-color="#004eff"/><stop offset="0.542" stop-color="#005dff"/><stop offset="0.554" stop-color="#0000f1"/><stop offset="0.573" stop-color="#0000ed"/><stop offset="0.593" stop-color="#003eff"/><stop offset="0.605" stop-color="#00b2ff"/><stop offset="0.618" stop-color="#0071ff"/><stop offset="0.631" stop-color="#009fff"/><stop offset="0.669" stop-color="#0000fc"/><stop offset="0.682" stop-color="#0000c9"/><stop offset="0.698" stop-color="#000cff"/><stop offset="0.711" stop-color="#0028ff"/><stop offset="0.724" stop-color="#0073ff"/><stop offset="0.733" stop-color="#0074ff"/><stop offset="0.752" stop-color="#0000fb"/><stop offset="0.762" stop-color="#0000ce"/><stop offset="0.772" stop-color="#001aff"/><stop offset="0.800" stop-color="#0077ff"/><stop offset="0.813" stop-color="#0070ff"/><stop offset="0.823" stop-color="#005eff"/><stop offset="0.839" stop-color="#0082ff"/><stop offset="0.858" stop-color="#001eff"/><stop offset="0.877" stop-color="#001fff"/><stop offset="0.893" stop-color="#0061ff"/><stop offset="0.903" stop-color="#00b9ff"/><stop offset="0.912" stop-color="#0093ff"/><stop offset="0.944" stop-color="#0000f7"/><stop offset="0.963" stop-color="#0000d2"/><stop offset="0.986" stop-color="#0011ff"/><stop offset="0.998" stop-color="#005eff"/></linearGradient><linearGradient id="s128"><stop offset="0.002" stop-color="#00c9ff"/><stop offset="0.034" stop-color="#003cff"/><stop offset="0.037" stop-color="#001dff"/><stop offset="0.046" stop-color="#009cff"/><stop offset="0.053" stop-color="#0088ff"/><stop offset="0.069" stop-color="#0004ff"/><stop offset="0.075" stop-color="#0000d0"/><stop offset="0.091" stop-color="#0026ff"/><stop offset="0.110" stop-color="#00a0ff"/><stop offset="0.129" stop-color="#003eff"/><stop offset="0.139" stop-color="#0000d1"/><stop offset="0.145" stop-color="#0016ff"/><stop offset="0.158" stop-color="#006cff"/><stop offset="0.187" stop-color="#0007f9"/><stop offset="0.193" stop-color="#0000ea"/><stop offset="0.200" stop-color="#0029ff"/><stop offset="0.209" stop-color="#00bbff"/><stop offset="0.232" stop-color="#0000ff"/><stop offset="0.238" stop-color="#0025ff"/><stop offset="0.244" stop-color="#006eff"/><stop offset="0.273" stop-color="#0002ff"/><stop offset="0.286" stop-color="#0064ff"/><stop offset="0.296" stop-color="#0090ff"/><stop offset="0.302" stop-color="#00d0ff"/><stop offset="0.321" stop-color="#0014ff"/><stop offset="0.334" stop-color="#000cff"/><stop offset="0.347" stop-color="#0051ff"/><stop offset="0.366" stop-color="#0000ff"/><stop offset="0.375" stop-color="#0000e8"/><stop offset="0.395" stop-color="#0088ff"/><stop offset="0.407" stop-color="#0086ff"/><stop offset="0.417" stop-color="#0078ff"/><stop offset="0.433" stop-color="#00bcff"/><stop offset="0.462" stop-color="#0004f2"/><stop offset="0.468" stop-color="#0000d3"/><stop offset="0.478" stop-color="#002eff"/><stop offset="0.497" stop-color="#009eff"/><stop offset="0.510" stop-color="#0056ff"/><stop offset="0.516" stop-color="#0010ff"/><stop offset="0.538" stop-color="#007fff"/><stop offset="0.551" stop-color="#003dff"/><stop offset="0.558" stop-color="#0003ff"/><stop offset="0.570" stop-color="#0000ec"/><stop offset="0.580" stop-color="#0000e5"/><stop offset="0.589" stop-color="#0014ff"/><stop offset="0.602" stop-color="#009dff"/><stop offset="0.615" stop-color="#007eff"/><stop offset="0.621" stop-color="#0070ff"/><stop offset="0.634" stop-color="#00ccff"/><stop offset="0.650" stop-color="#002dff"/><stop offset="0.669" stop-color="#0000fd"/><stop offset="0.695" stop-color="#0000e8"/><stop offset="0.714" stop-color="#0041ff"/><stop offset="0.727" stop-color="#00b6ff"/><stop offset="0.736" stop-color="#00a2ff"/><stop offset="0.752" stop-color="#0000fd"/><stop offset="0.768" stop-color="#0014ff"/><stop offset="0.800" stop-color="#0081ff"/><stop offset="0.819" stop-color="#0069ff"/><stop offset="0.839" stop-color="#00a3ff"/><stop offset="0.861" stop-color="#0019ff"/><stop offset="0.874" stop-color="#0039ff"/><stop offset="0.912" stop-color="#009cff"/><stop offset="0.941" stop-color="#0002fe"/><stop offset="0.957" stop-color="#0000fb"/><stop offset="0.963" stop-color="#0000d9"/><stop offset="0.982" stop-color="#0007ff"/><stop offset="0.998" stop-color="#004dff"/></linearGradient><linearGradient id="s129"><stop offset="0.002" stop-color="#0093ff"/><stop offset="0.034" stop-color="#0062ff"/><stop offset="0.037" stop-color="#004aff"/><stop offset="0.050" stop-color="#0086ff"/><stop offset="0.059" stop-color="#0028ff"/><stop offset="0.072" stop-color="#0001f6"/><stop offset="0.075" stop-color="#0000d8"/><stop offset="0.088" stop-color="#0000ff"/><stop offset="0.113" stop-color="#00a2ff"/><stop offset="0.126" stop-color="#005cff"/><stop offset="0.133" stop-color="#0003ff"/><stop offset="0.139" stop-color="#0000c3"/><stop offset="0.142" stop-color="#0000ff"/><stop offset="0.158" stop-color="#0076ff"/><stop offset="0.181" stop-color="#0000f4"/><stop offset="0.190" stop-color="#0000de"/><stop offset="0.196" stop-color="#0031ff"/><stop offset="0.209" stop-color="#00bfff"/><stop offset="0.232" stop-color="#0010ff"/><stop offset="0.244" stop-color="#0074ff"/><stop offset="0.267" stop-color="#0000f0"/><stop offset="0.276" stop-color="#0000ed"/><stop offset="0.299" stop-color="#00acff"/><stop offset="0.308" stop-color="#00a8ff"/><stop offset="0.327" stop-color="#000fff"/><stop offset="0.337" stop-color="#0031ff"/><stop offset="0.343" stop-color="#0067ff"/><stop offset="0.359" stop-color="#0007ff"/><stop offset="0.375" stop-color="#0000ff"/><stop offset="0.395" stop-color="#0095ff"/><stop offset="0.436" stop-color="#00afff"/><stop offset="0.452" stop-color="#001dff"/><stop offset="0.471" stop-color="#0000fd"/><stop offset="0.481" stop-color="#004cff"/><stop offset="0.490" stop-color="#0079ff"/><stop offset="0.500" stop-color="#00acff"/><stop offset="0.516" stop-color="#0042ff"/><stop offset="0.542" stop-color="#0063ff"/><stop offset="0.558" stop-color="#0000ff"/><stop offset="0.573" stop-color="#0000d0"/><stop offset="0.580" stop-color="#0011ff"/><stop offset="0.602" stop-color="#0095ff"/><stop offset="0.621" stop-color="#0086ff"/><stop offset="0.634" stop-color="#00d3ff"/><stop offset="0.653" stop-color="#0003ff"/><stop offset="0.669" stop-color="#000dff"/><stop offset="0.711" stop-color="#001fff"/><stop offset="0.730" stop-color="#0097ff"/><stop offset="0.756" stop-color="#0000f6"/><stop offset="0.768" stop-color="#0009f6"/><stop offset="0.781" stop-color="#0031ff"/><stop offset="0.791" stop-color="#0031ff"/><stop offset="0.800" stop-color="#005dff"/><stop offset="0.810" stop-color="#0039ff"/><stop offset="0.826" stop-color="#0075ff"/><stop offset="0.848" stop-color="#0094ff"/><stop offset="0.864" stop-color="#0021ff"/><stop offset="0.909" stop-color="#00b1ff"/><stop offset="0.941" stop-color="#0001ff"/><stop offset="0.982" stop-color="#0015ff"/><stop offset="0.995" stop-color="#0067ff"/><stop offset="0.998" stop-color="#0070ff"/></linearGradient><linearGradient id="s130"><stop offset="0.002" stop-color="#02d5f9"/><stop offset="0.014" stop-color="#00a2ff"/><stop offset="0.037" stop-color="#002eff"/><stop offset="0.046" stop-color="#008bff"/><stop offset="0.065" stop-color="#0009ff"/><stop offset="0.078" stop-color="#0006fa"/><stop offset="0.097" stop-color="#0040ff"/><stop offset="0.110" stop-color="#00c2ff"/><stop offset="0.123" stop-color="#0067ff"/><stop offset="0.133" stop-color="#0001ff"/><stop offset="0.139" stop-color="#0000c6"/><stop offset="0.142" stop-color="#0000ff"/><stop offset="0.158" stop-color="#007bff"/><stop offset="0.181" stop-color="#0001fb"/><stop offset="0.193" stop-color="#0009ff"/><stop offset="0.212" stop-color="#0091ff"/><stop offset="0.222" stop-color="#006dff"/><stop offset="0.232" stop-color="#0017ff"/><stop offset="0.248" stop-color="#0052ff"/><stop offset="0.260" stop-color="#0000fe"/><stop offset="0.276" stop-color="#0000f7"/><stop offset="0.302" stop-color="#00cdff"/><stop offset="0.327" stop-color="#0000f7"/><stop offset="0.334" stop-color="#0004ff"/><stop offset="0.343" stop-color="#006fff"/><stop offset="0.369" stop-color="#0000ff"/><stop offset="0.379" stop-color="#0020ff"/><stop offset="0.407" stop-color="#00c0ff"/><stop offset="0.420" stop-color="#00afff"/><stop offset="0.433" stop-color="#00dcfd"/><stop offset="0.449" stop-color="#003bff"/><stop offset="0.468" stop-color="#0000ff"/><stop offset="0.500" stop-color="#0099ff"/><stop offset="0.526" stop-color="#0034ff"/><stop offset="0.538" stop-color="#0073ff"/><stop offset="0.558" stop-color="#0007ff"/><stop offset="0.573" stop-color="#0000e0"/><stop offset="0.583" stop-color="#0020ff"/><stop offset="0.605" stop-color="#0098ff"/><stop offset="0.621" stop-color="#008aff"/><stop offset="0.637" stop-color="#008dff"/><stop offset="0.650" stop-color="#0038ff"/><stop offset="0.657" stop-color="#0006ff"/><stop offset="0.676" stop-color="#0000ea"/><stop offset="0.685" stop-color="#0000df"/><stop offset="0.704" stop-color="#0004ff"/><stop offset="0.720" stop-color="#004eff"/><stop offset="0.730" stop-color="#00b2ff"/><stop offset="0.756" stop-color="#0000f5"/><stop offset="0.768" stop-color="#0000f0"/><stop offset="0.807" stop-color="#0057ff"/><stop offset="0.816" stop-color="#0015ff"/><stop offset="0.839" stop-color="#008fff"/><stop offset="0.858" stop-color="#0009fd"/><stop offset="0.877" stop-color="#0037ff"/><stop offset="0.909" stop-color="#00c1ff"/><stop offset="0.931" stop-color="#0009ff"/><stop offset="0.982" stop-color="#0000ff"/><stop offset="0.992" stop-color="#0057ff"/><stop offset="0.998" stop-color="#0055ff"/></linearGradient><linearGradient id="s131"><stop offset="0.002" stop-color="#008fff"/><stop offset="0.021" stop-color="#00a5ff"/><stop offset="0.037" stop-color="#002cff"/><stop offset="0.046" stop-color="#0084ff"/><stop offset="0.072" stop-color="#0000ff"/><stop offset="0.088" stop-color="#0000f8"/><stop offset="0.101" stop-color="#0050ff"/><stop offset="0.110" stop-color="#00b4ff"/><stop offset="0.139" stop-color="#0000f0"/><stop offset="0.158" stop-color="#007fff"/><stop offset="0.177" stop-color="#0000fe"/><stop offset="0.193" stop-color="#0007ff"/><stop offset="0.209" stop-color="#0095ff"/><stop offset="0.235" stop-color="#0000ff"/><stop offset="0.248" stop-color="#002cff"/><stop offset="0.267" stop-color="#0003ff"/><stop offset="0.283" stop-color="#0013ff"/><stop offset="0.302" stop-color="#00a7ff"/><stop offset="0.331" stop-color="#000cff"/><stop offset="0.343" stop-color="#0082ff"/><stop offset="0.372" stop-color="#0000f6"/><stop offset="0.385" stop-color="#0042ff"/><stop offset="0.398" stop-color="#008aff"/><stop offset="0.423" stop-color="#009eff"/><stop offset="0.433" stop-color="#00b0ff"/><stop offset="0.462" stop-color="#0000fa"/><stop offset="0.474" stop-color="#0024ff"/><stop offset="0.497" stop-color="#009aff"/><stop offset="0.503" stop-color="#007dff"/><stop offset="0.522" stop-color="#001bff"/><stop offset="0.532" stop-color="#003bff"/><stop offset="0.542" stop-color="#006cff"/><stop offset="0.558" stop-color="#0000ff"/><stop offset="0.586" stop-color="#0007ff"/><stop offset="0.605" stop-color="#00c6ff"/><stop offset="0.621" stop-color="#0062ff"/><stop offset="0.634" stop-color="#009fff"/><stop offset="0.650" stop-color="#005cff"/><stop offset="0.663" stop-color="#0000ff"/><stop offset="0.688" stop-color="#0000db"/><stop offset="0.701" stop-color="#0014ff"/><stop offset="0.711" stop-color="#0010ff"/><stop offset="0.720" stop-color="#0060ff"/><stop offset="0.733" stop-color="#00a8ff"/><stop offset="0.749" stop-color="#0010ff"/><stop offset="0.768" stop-color="#0000f5"/><stop offset="0.788" stop-color="#0023ff"/><stop offset="0.804" stop-color="#0069ff"/><stop offset="0.816" stop-color="#002eff"/><stop offset="0.842" stop-color="#00a5ff"/><stop offset="0.858" stop-color="#0026ff"/><stop offset="0.874" stop-color="#0028ff"/><stop offset="0.890" stop-color="#0070ff"/><stop offset="0.909" stop-color="#00a1ff"/><stop offset="0.919" stop-color="#003bff"/><stop offset="0.931" stop-color="#002cff"/><stop offset="0.941" stop-color="#0000fd"/><stop offset="0.950" stop-color="#0000b6"/><stop offset="0.963" stop-color="#0000c5"/><stop offset="0.973" stop-color="#0005ff"/><stop offset="0.992" stop-color="#0022ff"/><stop offset="0.998" stop-color="#0042ff"/></linearGradient><linearGradient id="s132"><stop offset="0.002" stop-color="#007fff"/><stop offset="0.011" stop-color="#00d0ff"/><stop offset="0.037" stop-color="#0009ff"/><stop offset="0.046" stop-color="#007dff"/><stop offset="0.053" stop-color="#0066ff"/><stop offset="0.062" stop-color="#0027ff"/><stop offset="0.075" stop-color="#0000ff"/><stop offset="0.088" stop-color="#000bff"/><stop offset="0.097" stop-color="#0027ff"/><stop offset="0.110" stop-color="#0094ff"/><stop offset="0.129" stop-color="#0049ff"/><stop offset="0.136" stop-color="#0000ff"/><stop offset="0.152" stop-color="#0055ff"/><stop offset="0.158" stop-color="#00abff"/><stop offset="0.165" stop-color="#0088ff"/><stop offset="0.174" stop-color="#0009ff"/><stop offset="0.190" stop-color="#0000d3"/><stop offset="0.200" stop-color="#0043ff"/><stop offset="0.209" stop-color="#00aaff"/><stop offset="0.232" stop-color="#0001ff"/><stop offset="0.244" stop-color="#0059ff"/><stop offset="0.276" stop-color="#0000ff"/><stop offset="0.299" stop-color="#00b2ff"/><stop offset="0.312" stop-color="#007fff"/><stop offset="0.331" stop-color="#0009ff"/><stop offset="0.343" stop-color="#0063ff"/><stop offset="0.366" stop-color="#0003fb"/><stop offset="0.375" stop-color="#000fff"/><stop offset="0.391" stop-color="#0078ff"/><stop offset="0.420" stop-color="#0084ff"/><stop offset="0.433" stop-color="#00baff"/><stop offset="0.446" stop-color="#0083ff"/><stop offset="0.455" stop-color="#0028ff"/><stop offset="0.471" stop-color="#0000ee"/><stop offset="0.487" stop-color="#0061ff"/><stop offset="0.500" stop-color="#00b1ff"/><stop offset="0.519" stop-color="#0033ff"/><stop offset="0.529" stop-color="#0046ff"/><stop offset="0.538" stop-color="#0085ff"/><stop offset="0.548" stop-color="#0020ff"/><stop offset="0.567" stop-color="#0000e2"/><stop offset="0.577" stop-color="#0000ea"/><stop offset="0.593" stop-color="#002fff"/><stop offset="0.605" stop-color="#00cbff"/><stop offset="0.618" stop-color="#0069ff"/><stop offset="0.634" stop-color="#00b4ff"/><stop offset="0.660" stop-color="#0000ff"/><stop offset="0.685" stop-color="#0000ec"/><stop offset="0.711" stop-color="#000fff"/><stop offset="0.730" stop-color="#00a7ff"/><stop offset="0.749" stop-color="#0019ff"/><stop offset="0.762" stop-color="#000bff"/><stop offset="0.788" stop-color="#0039ff"/><stop offset="0.804" stop-color="#0077ff"/><stop offset="0.816" stop-color="#0029ff"/><stop offset="0.835" stop-color="#0085ff"/><stop offset="0.842" stop-color="#00a4ff"/><stop offset="0.867" stop-color="#001eff"/><stop offset="0.877" stop-color="#0027ff"/><stop offset="0.909" stop-color="#00a6ff"/><stop offset="0.935" stop-color="#0008ff"/><stop offset="0.963" stop-color="#0000b6"/><stop offset="0.976" stop-color="#000fff"/><stop offset="0.995" stop-color="#004cff"/><stop offset="0.998" stop-color="#005fff"/></linearGradient><linearGradient id="s133"><stop offset="0.002" stop-color="#13dae8"/><stop offset="0.018" stop-color="#0fddec"/><stop offset="0.037" stop-color="#1389e8"/><stop offset="0.053" stop-color="#0099fd"/><stop offset="0.075" stop-color="#087cf1"/><stop offset="0.085" stop-color="#005bff"/><stop offset="0.097" stop-color="#0096ff"/><stop offset="0.110" stop-color="#1ae0e1"/><stop offset="0.120" stop-color="#00b0ff"/><stop offset="0.126" stop-color="#0073ff"/><stop offset="0.139" stop-color="#0376f6"/><stop offset="0.149" stop-color="#018afa"/><stop offset="0.158" stop-color="#00acfc"/><stop offset="0.177" stop-color="#005eff"/><stop offset="0.193" stop-color="#0068ea"/><stop offset="0.203" stop-color="#004eff"/><stop offset="0.212" stop-color="#00c1ff"/><stop offset="0.222" stop-color="#12b4e9"/><stop offset="0.232" stop-color="#0276f8"/><stop offset="0.251" stop-color="#0298f9"/><stop offset="0.276" stop-color="#006aec"/><stop offset="0.286" stop-color="#0090ff"/><stop offset="0.299" stop-color="#0fe3eb"/><stop offset="0.312" stop-color="#009dff"/><stop offset="0.324" stop-color="#0060ff"/><stop offset="0.343" stop-color="#16b8e5"/><stop offset="0.359" stop-color="#0057ff"/><stop offset="0.388" stop-color="#1fabdc"/><stop offset="0.401" stop-color="#00b5ff"/><stop offset="0.407" stop-color="#18cde3"/><stop offset="0.420" stop-color="#009eff"/><stop offset="0.436" stop-color="#38eac3"/><stop offset="0.449" stop-color="#05a0f5"/><stop offset="0.455" stop-color="#007aff"/><stop offset="0.468" stop-color="#1280e6"/><stop offset="0.481" stop-color="#0067ff"/><stop offset="0.500" stop-color="#00b4fe"/><stop offset="0.516" stop-color="#1799e4"/><stop offset="0.532" stop-color="#009dfc"/><stop offset="0.542" stop-color="#07acf4"/><stop offset="0.558" stop-color="#006ef9"/><stop offset="0.567" stop-color="#1e80dd"/><stop offset="0.583" stop-color="#057af5"/><stop offset="0.599" stop-color="#01b2fa"/><stop offset="0.605" stop-color="#09dbf2"/><stop offset="0.621" stop-color="#0082ff"/><stop offset="0.637" stop-color="#00bffc"/><stop offset="0.653" stop-color="#0060ff"/><stop offset="0.669" stop-color="#178ae4"/><stop offset="0.695" stop-color="#0069fb"/><stop offset="0.708" stop-color="#0058ff"/><stop offset="0.730" stop-color="#00a0ff"/><stop offset="0.759" stop-color="#087df3"/><stop offset="0.768" stop-color="#1080eb"/><stop offset="0.781" stop-color="#0088fd"/><stop offset="0.804" stop-color="#00a2ff"/><stop offset="0.813" stop-color="#0077ff"/><stop offset="0.826" stop-color="#0099fd"/><stop offset="0.835" stop-color="#00abfe"/><stop offset="0.845" stop-color="#0fcceb"/><stop offset="0.855" stop-color="#0074ff"/><stop offset="0.867" stop-color="#108beb"/><stop offset="0.877" stop-color="#005dff"/><stop offset="0.890" stop-color="#23c2d8"/><stop offset="0.912" stop-color="#13cbe8"/><stop offset="0.941" stop-color="#1080e8"/><stop offset="0.976" stop-color="#1380e8"/><stop offset="0.989" stop-color="#0064ff"/><stop offset="0.998" stop-color="#06a6f5"/></linearGradient><linearGradient id="s134"><stop offset="0.002" stop-color="#0ef7e8"/><stop offset="0.014" stop-color="#31ffc6"/><stop offset="0.030" stop-color="#00cbfb"/><stop offset="0.040" stop-color="#00bbff"/><stop offset="0.056" stop-color="#29ffce"/><stop offset="0.075" stop-color="#14fce2"/><stop offset="0.081" stop-color="#00c9ff"/><stop offset="0.091" stop-color="#13f5e4"/><stop offset="0.107" stop-color="#07eef0"/><stop offset="0.117" stop-color="#00c4ff"/><stop offset="0.123" stop-color="#0088ff"/><stop offset="0.139" stop-color="#18ffdf"/><stop offset="0.158" stop-color="#2effc9"/><stop offset="0.168" stop-color="#01d4fa"/><stop offset="0.196" stop-color="#00d8ff"/><stop offset="0.206" stop-color="#00b9ff"/><stop offset="0.222" stop-color="#17ffe0"/><stop offset="0.232" stop-color="#13f8e3"/><stop offset="0.241" stop-color="#1cfbdb"/><stop offset="0.264" stop-color="#05dcf5"/><stop offset="0.273" stop-color="#23ffd4"/><stop offset="0.299" stop-color="#00e2fa"/><stop offset="0.308" stop-color="#18fcdf"/><stop offset="0.321" stop-color="#00a6ff"/><stop offset="0.334" stop-color="#04eaf3"/><stop offset="0.343" stop-color="#00aaff"/><stop offset="0.353" stop-color="#00ceff"/><stop offset="0.363" stop-color="#00a8ff"/><stop offset="0.379" stop-color="#1effd9"/><stop offset="0.398" stop-color="#00c9ff"/><stop offset="0.414" stop-color="#25ffd1"/><stop offset="0.436" stop-color="#3affbd"/><stop offset="0.449" stop-color="#08e7f3"/><stop offset="0.465" stop-color="#1af5dd"/><stop offset="0.503" stop-color="#03e3f7"/><stop offset="0.519" stop-color="#49ffae"/><stop offset="0.532" stop-color="#00d6ff"/><stop offset="0.542" stop-color="#09f0ee"/><stop offset="0.551" stop-color="#00cbff"/><stop offset="0.564" stop-color="#13fee3"/><stop offset="0.573" stop-color="#0083ff"/><stop offset="0.583" stop-color="#14f5e3"/><stop offset="0.593" stop-color="#18f5de"/><stop offset="0.605" stop-color="#06def5"/><stop offset="0.621" stop-color="#0eeced"/><stop offset="0.634" stop-color="#13f4e4"/><stop offset="0.644" stop-color="#23fed4"/><stop offset="0.657" stop-color="#01e7f6"/><stop offset="0.698" stop-color="#0bf4eb"/><stop offset="0.708" stop-color="#1bf6dc"/><stop offset="0.717" stop-color="#04daf7"/><stop offset="0.733" stop-color="#28ffce"/><stop offset="0.768" stop-color="#0af1ed"/><stop offset="0.794" stop-color="#12f7e4"/><stop offset="0.829" stop-color="#0fe2ec"/><stop offset="0.842" stop-color="#1ef9d9"/><stop offset="0.851" stop-color="#27fbcf"/><stop offset="0.867" stop-color="#08eef0"/><stop offset="0.877" stop-color="#00c8ff"/><stop offset="0.890" stop-color="#12f7e5"/><stop offset="0.903" stop-color="#1bf5db"/><stop offset="0.928" stop-color="#39ffbe"/><stop offset="0.938" stop-color="#00c8fe"/><stop offset="0.954" stop-color="#1bffdc"/><stop offset="0.989" stop-color="#00d0ff"/><stop offset="0.998" stop-color="#40ffb7"/></linearGradient><linearGradient id="s135"><stop offset="0.002" stop-color="#00bfff"/><stop offset="0.011" stop-color="#2affcc"/><stop offset="0.027" stop-color="#07eef0"/><stop offset="0.034" stop-color="#00b2ff"/><stop offset="0.043" stop-color="#27ffcf"/><stop offset="0.053" stop-color="#1effd9"/><stop offset="0.062" stop-color="#00d5ff"/><stop offset="0.094" stop-color="#009fff"/><stop offset="0.101" stop-color="#00a3ff"/><stop offset="0.110" stop-color="#32ffc5"/><stop offset="0.117" stop-color="#4cffab"/><stop offset="0.129" stop-color="#54ffa3"/><stop offset="0.136" stop-color="#00e4f8"/><stop offset="0.142" stop-color="#00beff"/><stop offset="0.149" stop-color="#05ecf1"/><stop offset="0.155" stop-color="#4affad"/><stop offset="0.168" stop-color="#0ef6e9"/><stop offset="0.177" stop-color="#00a6ff"/><stop offset="0.203" stop-color="#00e4f8"/><stop offset="0.219" stop-color="#17ffdf"/><stop offset="0.225" stop-color="#009fff"/><stop offset="0.228" stop-color="#00acff"/><stop offset="0.235" stop-color="#30ffc7"/><stop offset="0.244" stop-color="#2affcd"/><stop offset="0.254" stop-color="#16ffe0"/><stop offset="0.267" stop-color="#00d6ff"/><stop offset="0.292" stop-color="#00d1ff"/><stop offset="0.302" stop-color="#01e6f6"/><stop offset="0.315" stop-color="#00c7ff"/><stop offset="0.321" stop-color="#008bff"/><stop offset="0.337" stop-color="#10fae6"/><stop offset="0.347" stop-color="#00adff"/><stop offset="0.359" stop-color="#00b0ff"/><stop offset="0.372" stop-color="#15ffe1"/><stop offset="0.385" stop-color="#02e7f5"/><stop offset="0.395" stop-color="#0af2ed"/><stop offset="0.414" stop-color="#30ffc7"/><stop offset="0.420" stop-color="#6cff8b"/><stop offset="0.433" stop-color="#00e5f7"/><stop offset="0.449" stop-color="#0af2ed"/><stop offset="0.458" stop-color="#34ffc3"/><stop offset="0.462" stop-color="#1dffda"/><stop offset="0.468" stop-color="#009dff"/><stop offset="0.481" stop-color="#0083ff"/><stop offset="0.500" stop-color="#00d8ff"/><stop offset="0.516" stop-color="#22ffd5"/><stop offset="0.522" stop-color="#32ffc5"/><stop offset="0.532" stop-color="#00d0ff"/><stop offset="0.542" stop-color="#27ffd0"/><stop offset="0.564" stop-color="#4cffab"/><stop offset="0.570" stop-color="#12fce5"/><stop offset="0.577" stop-color="#00c6ff"/><stop offset="0.589" stop-color="#1effd9"/><stop offset="0.602" stop-color="#00d2ff"/><stop offset="0.625" stop-color="#1effd8"/><stop offset="0.634" stop-color="#01e6f6"/><stop offset="0.644" stop-color="#05ecf2"/><stop offset="0.660" stop-color="#00b4ff"/><stop offset="0.669" stop-color="#0ff8e8"/><stop offset="0.695" stop-color="#00caff"/><stop offset="0.708" stop-color="#2bffcc"/><stop offset="0.720" stop-color="#39ffbe"/><stop offset="0.730" stop-color="#00ceff"/><stop offset="0.743" stop-color="#02e8f4"/><stop offset="0.749" stop-color="#00c6ff"/><stop offset="0.756" stop-color="#08f0ee"/><stop offset="0.762" stop-color="#00dffc"/><stop offset="0.775" stop-color="#3cffbb"/><stop offset="0.791" stop-color="#00e5f7"/><stop offset="0.800" stop-color="#06edf1"/><stop offset="0.807" stop-color="#00e0fb"/><stop offset="0.813" stop-color="#11fae6"/><stop offset="0.819" stop-color="#00a9ff"/><stop offset="0.829" stop-color="#1dffda"/><stop offset="0.851" stop-color="#1effd9"/><stop offset="0.867" stop-color="#00ccff"/><stop offset="0.874" stop-color="#009fff"/><stop offset="0.887" stop-color="#00daff"/><stop offset="0.899" stop-color="#00cfff"/><stop offset="0.915" stop-color="#22ffd5"/><stop offset="0.928" stop-color="#18ffdf"/><stop offset="0.935" stop-color="#24ffd3"/><stop offset="0.941" stop-color="#00a8ff"/><stop offset="0.944" stop-color="#0099ff"/><stop offset="0.954" stop-color="#1effd9"/><stop offset="0.963" stop-color="#2bffcc"/><stop offset="0.970" stop-color="#46ffb1"/><stop offset="0.979" stop-color="#00ccff"/><stop offset="0.992" stop-color="#00ddfe"/><stop offset="0.998" stop-color="#08efef"/></linearGradient></defs><rect width="708" height="584" fill="#fff"/><rect x="29.2" y="2.3" width="310.3" height="66.2" fill="url(#ga0)"/><rect x="29.20" y="2.30" width="310.30" height="66.20" fill="none" stroke="#383838" stroke-width="0.9"/><line x1="29.20" y1="68.50" x2="29.20" y2="71.10" stroke="#383838" stroke-width="0.8"/><text x="29.20" y="78.80" font-size="7.3" text-anchor="middle" fill="#262626">0.0</text><line x1="55.06" y1="68.50" x2="55.06" y2="71.10" stroke="#383838" stroke-width="0.8"/><text x="55.06" y="78.80" font-size="7.3" text-anchor="middle" fill="#262626">5.0</text><line x1="80.92" y1="68.50" x2="80.92" y2="71.10" stroke="#383838" stroke-width="0.8"/><text x="80.92" y="78.80" font-size="7.3" text-anchor="middle" fill="#262626">10.0</text><line x1="106.78" y1="68.50" x2="106.78" y2="71.10" stroke="#383838" stroke-width="0.8"/><text x="106.78" y="78.80" font-size="7.3" text-anchor="middle" fill="#262626">15.0</text><line x1="132.63" y1="68.50" x2="132.63" y2="71.10" stroke="#383838" stroke-width="0.8"/><text x="132.63" y="78.80" font-size="7.3" text-anchor="middle" fill="#262626">20.0</text><line x1="158.49" y1="68.50" x2="158.49" y2="71.10" stroke="#383838" stroke-width="0.8"/><text x="158.49" y="78.80" font-size="7.3" text-anchor="middle" fill="#262626">25.0</text><line x1="184.35" y1="68.50" x2="184.35" y2="71.10" stroke="#383838" stroke-width="0.8"/><text x="184.35" y="78.80" font-size="7.3" text-anchor="middle" fill="#262626">30.0</text><line x1="210.21" y1="68.50" x2="210.21" y2="71.10" stroke="#383838" stroke-width="0.8"/><text x="210.21" y="78.80" font-size="7.3" text-anchor="middle" fill="#262626">35.0</text><line x1="236.07" y1="68.50" x2="236.07" y2="71.10" stroke="#383838" stroke-width="0.8"/><text x="236.07" y="78.80" font-size="7.3" text-anchor="middle" fill="#262626">40.0</text><line x1="261.93" y1="68.50" x2="261.93" y2="71.10" stroke="#383838" stroke-width="0.8"/><text x="261.93" y="78.80" font-size="7.3" text-anchor="middle" fill="#262626">45.0</text><line x1="287.78" y1="68.50" x2="287.78" y2="71.10" stroke="#383838" stroke-width="0.8"/><text x="287.78" y="78.80" font-size="7.3" text-anchor="middle" fill="#262626">50.0</text><line x1="313.64" y1="68.50" x2="313.64" y2="71.10" stroke="#383838" stroke-width="0.8"/><text x="313.64" y="78.80" font-size="7.3" text-anchor="middle" fill="#262626">55.0</text><line x1="339.50" y1="68.50" x2="339.50" y2="71.10" stroke="#383838" stroke-width="0.8"/><text x="339.50" y="78.80" font-size="7.3" text-anchor="middle" fill="#262626">60.0</text><line x1="26.60" y1="68.50" x2="29.20" y2="68.50" stroke="#383838" stroke-width="0.8"/><text x="23.20" y="71.00" font-size="6.8" text-anchor="end" fill="#262626">0</text><line x1="26.60" y1="42.45" x2="29.20" y2="42.45" stroke="#383838" stroke-width="0.8"/><text x="23.20" y="44.95" font-size="6.8" text-anchor="end" fill="#262626">100</text><line x1="26.60" y1="16.40" x2="29.20" y2="16.40" stroke="#383838" stroke-width="0.8"/><text x="23.20" y="18.90" font-size="6.8" text-anchor="end" fill="#262626">200</text><text x="5.70" y="35.40" font-size="6.9" text-anchor="middle" fill="#262626" transform="rotate(-90 5.7 35.4)" textLength="44" lengthAdjust="spacingAndGlyphs">Rx1 Samples</text><rect x="29.2" y="82.2" width="310.3" height="66.2" fill="url(#ga1)"/><rect x="29.20" y="82.20" width="310.30" height="66.20" fill="none" stroke="#383838" stroke-width="0.9"/><line x1="29.20" y1="148.40" x2="29.20" y2="151.00" stroke="#383838" stroke-width="0.8"/><text x="29.20" y="158.70" font-size="7.3" text-anchor="middle" fill="#262626">0.0</text><line x1="55.06" y1="148.40" x2="55.06" y2="151.00" stroke="#383838" stroke-width="0.8"/><text x="55.06" y="158.70" font-size="7.3" text-anchor="middle" fill="#262626">5.0</text><line x1="80.92" y1="148.40" x2="80.92" y2="151.00" stroke="#383838" stroke-width="0.8"/><text x="80.92" y="158.70" font-size="7.3" text-anchor="middle" fill="#262626">10.0</text><line x1="106.78" y1="148.40" x2="106.78" y2="151.00" stroke="#383838" stroke-width="0.8"/><text x="106.78" y="158.70" font-size="7.3" text-anchor="middle" fill="#262626">15.0</text><line x1="132.63" y1="148.40" x2="132.63" y2="151.00" stroke="#383838" stroke-width="0.8"/><text x="132.63" y="158.70" font-size="7.3" text-anchor="middle" fill="#262626">20.0</text><line x1="158.49" y1="148.40" x2="158.49" y2="151.00" stroke="#383838" stroke-width="0.8"/><text x="158.49" y="158.70" font-size="7.3" text-anchor="middle" fill="#262626">25.0</text><line x1="184.35" y1="148.40" x2="184.35" y2="151.00" stroke="#383838" stroke-width="0.8"/><text x="184.35" y="158.70" font-size="7.3" text-anchor="middle" fill="#262626">30.0</text><line x1="210.21" y1="148.40" x2="210.21" y2="151.00" stroke="#383838" stroke-width="0.8"/><text x="210.21" y="158.70" font-size="7.3" text-anchor="middle" fill="#262626">35.0</text><line x1="236.07" y1="148.40" x2="236.07" y2="151.00" stroke="#383838" stroke-width="0.8"/><text x="236.07" y="158.70" font-size="7.3" text-anchor="middle" fill="#262626">40.0</text><line x1="261.93" y1="148.40" x2="261.93" y2="151.00" stroke="#383838" stroke-width="0.8"/><text x="261.93" y="158.70" font-size="7.3" text-anchor="middle" fill="#262626">45.0</text><line x1="287.78" y1="148.40" x2="287.78" y2="151.00" stroke="#383838" stroke-width="0.8"/><text x="287.78" y="158.70" font-size="7.3" text-anchor="middle" fill="#262626">50.0</text><line x1="313.64" y1="148.40" x2="313.64" y2="151.00" stroke="#383838" stroke-width="0.8"/><text x="313.64" y="158.70" font-size="7.3" text-anchor="middle" fill="#262626">55.0</text><line x1="339.50" y1="148.40" x2="339.50" y2="151.00" stroke="#383838" stroke-width="0.8"/><text x="339.50" y="158.70" font-size="7.3" text-anchor="middle" fill="#262626">60.0</text><line x1="26.60" y1="148.40" x2="29.20" y2="148.40" stroke="#383838" stroke-width="0.8"/><text x="23.20" y="150.90" font-size="6.8" text-anchor="end" fill="#262626">0</text><line x1="26.60" y1="122.35" x2="29.20" y2="122.35" stroke="#383838" stroke-width="0.8"/><text x="23.20" y="124.85" font-size="6.8" text-anchor="end" fill="#262626">100</text><line x1="26.60" y1="96.30" x2="29.20" y2="96.30" stroke="#383838" stroke-width="0.8"/><text x="23.20" y="98.80" font-size="6.8" text-anchor="end" fill="#262626">200</text><text x="5.70" y="115.30" font-size="6.9" text-anchor="middle" fill="#262626" transform="rotate(-90 5.7 115.30000000000001)" textLength="44" lengthAdjust="spacingAndGlyphs">Rx2 Samples</text><rect x="29.2" y="162.2" width="310.3" height="66.2" fill="url(#ga2)"/><rect x="29.20" y="162.20" width="310.30" height="66.20" fill="none" stroke="#383838" stroke-width="0.9"/><line x1="29.20" y1="228.40" x2="29.20" y2="231.00" stroke="#383838" stroke-width="0.8"/><text x="29.20" y="238.70" font-size="7.3" text-anchor="middle" fill="#262626">0.0</text><line x1="55.06" y1="228.40" x2="55.06" y2="231.00" stroke="#383838" stroke-width="0.8"/><text x="55.06" y="238.70" font-size="7.3" text-anchor="middle" fill="#262626">5.0</text><line x1="80.92" y1="228.40" x2="80.92" y2="231.00" stroke="#383838" stroke-width="0.8"/><text x="80.92" y="238.70" font-size="7.3" text-anchor="middle" fill="#262626">10.0</text><line x1="106.78" y1="228.40" x2="106.78" y2="231.00" stroke="#383838" stroke-width="0.8"/><text x="106.78" y="238.70" font-size="7.3" text-anchor="middle" fill="#262626">15.0</text><line x1="132.63" y1="228.40" x2="132.63" y2="231.00" stroke="#383838" stroke-width="0.8"/><text x="132.63" y="238.70" font-size="7.3" text-anchor="middle" fill="#262626">20.0</text><line x1="158.49" y1="228.40" x2="158.49" y2="231.00" stroke="#383838" stroke-width="0.8"/><text x="158.49" y="238.70" font-size="7.3" text-anchor="middle" fill="#262626">25.0</text><line x1="184.35" y1="228.40" x2="184.35" y2="231.00" stroke="#383838" stroke-width="0.8"/><text x="184.35" y="238.70" font-size="7.3" text-anchor="middle" fill="#262626">30.0</text><line x1="210.21" y1="228.40" x2="210.21" y2="231.00" stroke="#383838" stroke-width="0.8"/><text x="210.21" y="238.70" font-size="7.3" text-anchor="middle" fill="#262626">35.0</text><line x1="236.07" y1="228.40" x2="236.07" y2="231.00" stroke="#383838" stroke-width="0.8"/><text x="236.07" y="238.70" font-size="7.3" text-anchor="middle" fill="#262626">40.0</text><line x1="261.93" y1="228.40" x2="261.93" y2="231.00" stroke="#383838" stroke-width="0.8"/><text x="261.93" y="238.70" font-size="7.3" text-anchor="middle" fill="#262626">45.0</text><line x1="287.78" y1="228.40" x2="287.78" y2="231.00" stroke="#383838" stroke-width="0.8"/><text x="287.78" y="238.70" font-size="7.3" text-anchor="middle" fill="#262626">50.0</text><line x1="313.64" y1="228.40" x2="313.64" y2="231.00" stroke="#383838" stroke-width="0.8"/><text x="313.64" y="238.70" font-size="7.3" text-anchor="middle" fill="#262626">55.0</text><line x1="339.50" y1="228.40" x2="339.50" y2="231.00" stroke="#383838" stroke-width="0.8"/><text x="339.50" y="238.70" font-size="7.3" text-anchor="middle" fill="#262626">60.0</text><line x1="26.60" y1="228.40" x2="29.20" y2="228.40" stroke="#383838" stroke-width="0.8"/><text x="23.20" y="230.90" font-size="6.8" text-anchor="end" fill="#262626">0</text><line x1="26.60" y1="202.35" x2="29.20" y2="202.35" stroke="#383838" stroke-width="0.8"/><text x="23.20" y="204.85" font-size="6.8" text-anchor="end" fill="#262626">100</text><line x1="26.60" y1="176.30" x2="29.20" y2="176.30" stroke="#383838" stroke-width="0.8"/><text x="23.20" y="178.80" font-size="6.8" text-anchor="end" fill="#262626">200</text><text x="5.70" y="195.30" font-size="6.9" text-anchor="middle" fill="#262626" transform="rotate(-90 5.7 195.29999999999998)" textLength="44" lengthAdjust="spacingAndGlyphs">Rx3 Samples</text><text x="184.10" y="248.50" font-size="7.6" text-anchor="middle" fill="#262626" textLength="51.5" lengthAdjust="spacingAndGlyphs">Time (seconds)</text><text x="173.55" y="276.20" font-size="13" text-anchor="middle" fill="#000" font-weight="bold" textLength="16.9" lengthAdjust="spacingAndGlyphs">(a)</text><rect x="387.1" y="0" width="313" height="2" fill="#000084"/><rect x="387.1" y="2" width="313" height="2" fill="#000084"/><rect x="387.1" y="4" width="313" height="2" fill="#000084"/><rect x="387.1" y="6" width="313" height="2" fill="#000084"/><rect x="387.1" y="8" width="313" height="2" fill="#000084"/><rect x="387.1" y="10" width="313" height="2" fill="#000084"/><rect x="387.1" y="12" width="313" height="2" fill="#000084"/><rect x="387.1" y="14" width="313" height="2" fill="#000084"/><rect x="387.1" y="16" width="313" height="2" fill="#000084"/><rect x="387.1" y="18" width="313" height="2" fill="#000084"/><rect x="387.1" y="20" width="313" height="2" fill="#000084"/><rect x="387.1" y="22" width="313" height="2" fill="#000084"/><rect x="387.1" y="24" width="313" height="2" fill="#000084"/><rect x="387.1" y="26" width="313" height="2" fill="#000084"/><rect x="387.1" y="28" width="313" height="2" fill="#000084"/><rect x="387.1" y="30" width="313" height="2" fill="#000084"/><rect x="387.1" y="32" width="313" height="2" fill="#000084"/><rect x="387.1" y="34" width="313" height="2" fill="#000084"/><rect x="387.1" y="36" width="313" height="2" fill="#000084"/><rect x="387.1" y="38" width="313" height="2" fill="#000084"/><rect x="387.1" y="40" width="313" height="2" fill="#000085"/><rect x="387.1" y="42" width="313" height="2" fill="#000085"/><rect x="387.1" y="44" width="313" height="2" fill="url(#s22)"/><rect x="387.1" y="46" width="313" height="2" fill="url(#s23)"/><rect x="387.1" y="48" width="313" height="2" fill="url(#s24)"/><rect x="387.1" y="50" width="313" height="2" fill="url(#s25)"/><rect x="387.1" y="52" width="313" height="2" fill="url(#s26)"/><rect x="387.1" y="54" width="313" height="2" fill="url(#s27)"/><rect x="387.1" y="56" width="313" height="2" fill="url(#s28)"/><rect x="387.1" y="58" width="313" height="2" fill="url(#s29)"/><rect x="387.1" y="60" width="313" height="2" fill="url(#s30)"/><rect x="387.1" y="62" width="313" height="2" fill="url(#s31)"/><rect x="387.1" y="64" width="313" height="2" fill="url(#s32)"/><rect x="387.1" y="66" width="313" height="2" fill="url(#s33)"/><rect x="387.1" y="68" width="313" height="2" fill="url(#s34)"/><rect x="387.1" y="70" width="313" height="2" fill="url(#s35)"/><rect x="387.1" y="72" width="313" height="2" fill="url(#s36)"/><rect x="387.1" y="74" width="313" height="2" fill="url(#s37)"/><rect x="387.1" y="76" width="313" height="2" fill="url(#s38)"/><rect x="387.1" y="78" width="313" height="2" fill="url(#s39)"/><rect x="387.1" y="80" width="313" height="2" fill="url(#s40)"/><rect x="387.1" y="82" width="313" height="2" fill="url(#s41)"/><rect x="387.1" y="84" width="313" height="2" fill="url(#s42)"/><rect x="387.1" y="86" width="313" height="2" fill="url(#s43)"/><rect x="387.1" y="88" width="313" height="2" fill="url(#s44)"/><rect x="387.1" y="90" width="313" height="2" fill="url(#s45)"/><rect x="387.1" y="92" width="313" height="2" fill="url(#s46)"/><rect x="387.1" y="94" width="313" height="2" fill="url(#s47)"/><rect x="387.1" y="96" width="313" height="2" fill="url(#s48)"/><rect x="387.1" y="98" width="313" height="2" fill="url(#s49)"/><rect x="387.1" y="100" width="313" height="2" fill="url(#s50)"/><rect x="387.1" y="102" width="313" height="2" fill="url(#s51)"/><rect x="387.1" y="104" width="313" height="2" fill="url(#s52)"/><rect x="387.1" y="106" width="313" height="2" fill="url(#s53)"/><rect x="387.1" y="108" width="313" height="2" fill="url(#s54)"/><rect x="387.1" y="110" width="313" height="2" fill="url(#s55)"/><rect x="387.1" y="112" width="313" height="2" fill="url(#s56)"/><rect x="387.1" y="114" width="313" height="2" fill="url(#s57)"/><rect x="387.1" y="116" width="313" height="2" fill="url(#s58)"/><rect x="387.1" y="118" width="313" height="2" fill="url(#s59)"/><rect x="387.1" y="120" width="313" height="2" fill="url(#s60)"/><rect x="387.1" y="122" width="313" height="2" fill="url(#s61)"/><rect x="387.1" y="124" width="313" height="2" fill="url(#s62)"/><rect x="387.1" y="126" width="313" height="2" fill="url(#s63)"/><rect x="387.1" y="128" width="313" height="2" fill="url(#s64)"/><rect x="387.1" y="130" width="313" height="2" fill="url(#s65)"/><rect x="387.1" y="132" width="313" height="2" fill="url(#s66)"/><rect x="387.1" y="134" width="313" height="2" fill="url(#s67)"/><rect x="387.1" y="136" width="313" height="2" fill="url(#s68)"/><rect x="387.1" y="138" width="313" height="2" fill="url(#s69)"/><rect x="387.1" y="140" width="313" height="2" fill="url(#s70)"/><rect x="387.1" y="142" width="313" height="1" fill="url(#s71)"/><rect x="387.1" y="143" width="313" height="1" fill="url(#s72)"/><rect x="387.1" y="144" width="313" height="1" fill="url(#s73)"/><rect x="387.1" y="145" width="313" height="1" fill="url(#s74)"/><rect x="387.1" y="146" width="313" height="1" fill="url(#s75)"/><rect x="387.1" y="147" width="313" height="1" fill="url(#s76)"/><rect x="387.1" y="148" width="313" height="1" fill="url(#s77)"/><rect x="387.1" y="149" width="313" height="1" fill="url(#s78)"/><rect x="387.1" y="150" width="313" height="1" fill="url(#s79)"/><rect x="387.1" y="151" width="313" height="1" fill="url(#s80)"/><rect x="387.1" y="152" width="313" height="1" fill="url(#s81)"/><rect x="387.1" y="153" width="313" height="1" fill="url(#s82)"/><rect x="387.1" y="154" width="313" height="1" fill="url(#s83)"/><rect x="387.1" y="155" width="313" height="1" fill="url(#s84)"/><rect x="387.1" y="156" width="313" height="1" fill="url(#s85)"/><rect x="387.1" y="157" width="313" height="1" fill="url(#s86)"/><rect x="387.1" y="158" width="313" height="1" fill="url(#s87)"/><rect x="387.1" y="159" width="313" height="1" fill="url(#s88)"/><rect x="387.1" y="160" width="313" height="1" fill="url(#s89)"/><rect x="387.1" y="161" width="313" height="1" fill="url(#s90)"/><rect x="387.1" y="162" width="313" height="1" fill="url(#s91)"/><rect x="387.1" y="163" width="313" height="1" fill="url(#s92)"/><rect x="387.1" y="164" width="313" height="1" fill="url(#s93)"/><rect x="387.1" y="165" width="313" height="1" fill="url(#s94)"/><rect x="387.1" y="166" width="313" height="1" fill="url(#s95)"/><rect x="387.1" y="167" width="313" height="1" fill="url(#s96)"/><rect x="387.1" y="168" width="313" height="1" fill="url(#s97)"/><rect x="387.1" y="169" width="313" height="1" fill="url(#s98)"/><rect x="387.1" y="170" width="313" height="1" fill="url(#s99)"/><rect x="387.1" y="171" width="313" height="1" fill="url(#s100)"/><rect x="387.1" y="172" width="313" height="1" fill="url(#s101)"/><rect x="387.1" y="173" width="313" height="1" fill="url(#s102)"/><rect x="387.1" y="174" width="313" height="1" fill="url(#s103)"/><rect x="387.1" y="175" width="313" height="1" fill="url(#s104)"/><rect x="387.1" y="176" width="313" height="1" fill="url(#s105)"/><rect x="387.1" y="177" width="313" height="1" fill="url(#s106)"/><rect x="387.1" y="178" width="313" height="1" fill="url(#s107)"/><rect x="387.1" y="179" width="313" height="1" fill="url(#s108)"/><rect x="387.1" y="180" width="313" height="1" fill="url(#s109)"/><rect x="387.1" y="181" width="313" height="1" fill="url(#s110)"/><rect x="387.1" y="182" width="313" height="1" fill="url(#s111)"/><rect x="387.1" y="183" width="313" height="1" fill="url(#s112)"/><rect x="387.1" y="184" width="313" height="2" fill="url(#s113)"/><rect x="387.1" y="186" width="313" height="2" fill="url(#s114)"/><rect x="387.1" y="188" width="313" height="2" fill="url(#s115)"/><rect x="387.1" y="190" width="313" height="2" fill="url(#s116)"/><rect x="387.1" y="192" width="313" height="2" fill="url(#s117)"/><rect x="387.1" y="194" width="313" height="2" fill="url(#s118)"/><rect x="387.1" y="196" width="313" height="2" fill="url(#s119)"/><rect x="387.1" y="198" width="313" height="2" fill="url(#s120)"/><rect x="387.1" y="200" width="313" height="2" fill="url(#s121)"/><rect x="387.1" y="202" width="313" height="2" fill="url(#s122)"/><rect x="387.1" y="204" width="313" height="2" fill="url(#s123)"/><rect x="387.1" y="206" width="313" height="2" fill="url(#s124)"/><rect x="387.1" y="208" width="313" height="2" fill="url(#s125)"/><rect x="387.1" y="210" width="313" height="2" fill="url(#s126)"/><rect x="387.1" y="212" width="313" height="2" fill="url(#s127)"/><rect x="387.1" y="214" width="313" height="2" fill="url(#s128)"/><rect x="387.1" y="216" width="313" height="2" fill="url(#s129)"/><rect x="387.1" y="218" width="313" height="2" fill="url(#s130)"/><rect x="387.1" y="220" width="313" height="2" fill="url(#s131)"/><rect x="387.1" y="222" width="313" height="2" fill="url(#s132)"/><rect x="387.1" y="224" width="313" height="2" fill="url(#s133)"/><rect x="387.1" y="226" width="313" height="2" fill="url(#s134)"/><rect x="387.1" y="228" width="313" height="1" fill="url(#s135)"/><rect x="387.10" y="0.40" width="313.00" height="228.10" fill="none" stroke="#383838" stroke-width="0.9"/><line x1="387.10" y1="228.50" x2="387.10" y2="231.10" stroke="#383838" stroke-width="0.8"/><text x="387.10" y="238.80" font-size="7.3" text-anchor="middle" fill="#262626">0.0</text><line x1="413.18" y1="228.50" x2="413.18" y2="231.10" stroke="#383838" stroke-width="0.8"/><text x="413.18" y="238.80" font-size="7.3" text-anchor="middle" fill="#262626">5.0</text><line x1="439.27" y1="228.50" x2="439.27" y2="231.10" stroke="#383838" stroke-width="0.8"/><text x="439.27" y="238.80" font-size="7.3" text-anchor="middle" fill="#262626">10.0</text><line x1="465.35" y1="228.50" x2="465.35" y2="231.10" stroke="#383838" stroke-width="0.8"/><text x="465.35" y="238.80" font-size="7.3" text-anchor="middle" fill="#262626">15.0</text><line x1="491.43" y1="228.50" x2="491.43" y2="231.10" stroke="#383838" stroke-width="0.8"/><text x="491.43" y="238.80" font-size="7.3" text-anchor="middle" fill="#262626">20.0</text><line x1="517.52" y1="228.50" x2="517.52" y2="231.10" stroke="#383838" stroke-width="0.8"/><text x="517.52" y="238.80" font-size="7.3" text-anchor="middle" fill="#262626">25.0</text><line x1="543.60" y1="228.50" x2="543.60" y2="231.10" stroke="#383838" stroke-width="0.8"/><text x="543.60" y="238.80" font-size="7.3" text-anchor="middle" fill="#262626">30.0</text><line x1="569.68" y1="228.50" x2="569.68" y2="231.10" stroke="#383838" stroke-width="0.8"/><text x="569.68" y="238.80" font-size="7.3" text-anchor="middle" fill="#262626">35.0</text><line x1="595.77" y1="228.50" x2="595.77" y2="231.10" stroke="#383838" stroke-width="0.8"/><text x="595.77" y="238.80" font-size="7.3" text-anchor="middle" fill="#262626">40.0</text><line x1="621.85" y1="228.50" x2="621.85" y2="231.10" stroke="#383838" stroke-width="0.8"/><text x="621.85" y="238.80" font-size="7.3" text-anchor="middle" fill="#262626">45.0</text><line x1="647.94" y1="228.50" x2="647.94" y2="231.10" stroke="#383838" stroke-width="0.8"/><text x="647.94" y="238.80" font-size="7.3" text-anchor="middle" fill="#262626">50.0</text><line x1="674.02" y1="228.50" x2="674.02" y2="231.10" stroke="#383838" stroke-width="0.8"/><text x="674.02" y="238.80" font-size="7.3" text-anchor="middle" fill="#262626">55.0</text><line x1="700.10" y1="228.50" x2="700.10" y2="231.10" stroke="#383838" stroke-width="0.8"/><text x="700.10" y="238.80" font-size="7.3" text-anchor="middle" fill="#262626">60.0</text><line x1="384.50" y1="228.40" x2="387.10" y2="228.40" stroke="#383838" stroke-width="0.8"/><text x="381.30" y="231.00" font-size="7.3" text-anchor="end" fill="#262626">0.0</text><line x1="384.50" y1="195.68" x2="387.10" y2="195.68" stroke="#383838" stroke-width="0.8"/><text x="381.30" y="198.28" font-size="7.3" text-anchor="end" fill="#262626">0.5</text><line x1="384.50" y1="162.95" x2="387.10" y2="162.95" stroke="#383838" stroke-width="0.8"/><text x="381.30" y="165.55" font-size="7.3" text-anchor="end" fill="#262626">1.0</text><line x1="384.50" y1="130.22" x2="387.10" y2="130.22" stroke="#383838" stroke-width="0.8"/><text x="381.30" y="132.82" font-size="7.3" text-anchor="end" fill="#262626">1.5</text><line x1="384.50" y1="97.50" x2="387.10" y2="97.50" stroke="#383838" stroke-width="0.8"/><text x="381.30" y="100.10" font-size="7.3" text-anchor="end" fill="#262626">2.0</text><line x1="384.50" y1="64.78" x2="387.10" y2="64.78" stroke="#383838" stroke-width="0.8"/><text x="381.30" y="67.38" font-size="7.3" text-anchor="end" fill="#262626">2.5</text><line x1="384.50" y1="32.05" x2="387.10" y2="32.05" stroke="#383838" stroke-width="0.8"/><text x="381.30" y="34.65" font-size="7.3" text-anchor="end" fill="#262626">3.0</text><text x="365.60" y="113.80" font-size="7.6" text-anchor="middle" fill="#262626" transform="rotate(-90 365.6 113.8)" textLength="45" lengthAdjust="spacingAndGlyphs">Distance (m)</text><text x="543.40" y="248.50" font-size="7.6" text-anchor="middle" fill="#262626" textLength="51.5" lengthAdjust="spacingAndGlyphs">Time (seconds)</text><text x="533.50" y="276.20" font-size="13" text-anchor="middle" fill="#000" font-weight="bold" textLength="17.8" lengthAdjust="spacingAndGlyphs">(b)</text><rect x="15.50" y="288.50" width="332.00" height="13.00" fill="none" stroke="#4a4a4a" stroke-width="1.1"/><line x1="29.70" y1="301.50" x2="29.70" y2="303.50" stroke="#383838" stroke-width="0.7"/><line x1="80.20" y1="301.50" x2="80.20" y2="303.50" stroke="#383838" stroke-width="0.7"/><line x1="130.70" y1="301.50" x2="130.70" y2="303.50" stroke="#383838" stroke-width="0.7"/><line x1="181.20" y1="301.50" x2="181.20" y2="303.50" stroke="#383838" stroke-width="0.7"/><line x1="231.70" y1="301.50" x2="231.70" y2="303.50" stroke="#383838" stroke-width="0.7"/><line x1="282.20" y1="301.50" x2="282.20" y2="303.50" stroke="#383838" stroke-width="0.7"/><line x1="332.70" y1="301.50" x2="332.70" y2="303.50" stroke="#383838" stroke-width="0.7"/><polyline points="29.7,294.8 30.6,294.4 31.6,293.7 32.5,293.0 33.5,292.8 34.4,292.8 35.4,293.0 36.3,293.0 37.3,292.9 38.2,292.6 39.2,293.0 40.1,292.9 41.1,292.9 42.0,292.7 43.0,292.6 43.9,292.8 44.9,292.8 45.8,292.6 46.8,292.6 47.7,292.6 48.7,292.3 49.6,292.1 50.6,292.3 51.5,292.1 52.5,291.8 53.4,292.0 54.4,292.0 55.3,291.8 56.3,291.8 57.2,292.1 58.2,292.3 59.1,292.0 60.1,291.9 61.0,292.1 62.0,292.1 62.9,292.0 63.9,292.1 64.8,292.1 65.8,291.8 66.7,291.6 67.7,291.8 68.6,291.9 69.6,291.8 70.5,291.4 71.5,291.3 72.4,291.2 73.4,291.1 74.3,291.4 75.3,291.5 76.2,291.1 77.2,291.2 78.1,290.9 79.1,290.6 80.0,290.3 81.0,290.2 81.9,289.9 82.9,290.0 83.8,290.0 84.8,289.7 85.7,289.8 86.7,289.9 87.6,290.0 88.6,289.8 89.5,289.8 90.5,289.8 91.4,289.7 92.4,289.9 93.3,289.9 94.3,289.9 95.2,289.9 96.2,290.1 97.1,290.1 98.1,290.0 99.0,290.2 100.0,290.4 100.9,290.3 101.9,289.9 102.8,290.1 103.8,290.2 104.7,290.0 105.7,289.9 106.6,290.2 107.6,290.0 108.5,290.2 109.5,290.3 110.4,289.9 111.4,290.0 112.3,290.1 113.3,290.6 114.2,291.1 115.2,291.2 116.1,290.6 117.1,290.8 118.0,291.3 119.0,291.6 119.9,291.5 120.9,291.3 121.8,291.3 122.8,291.1 123.7,290.8 124.7,290.6 125.6,290.6 126.6,290.5 127.5,290.3 128.5,290.0 129.4,289.8 130.4,290.0 131.3,290.3 132.3,290.0 133.2,289.8 134.2,290.2 135.1,290.3 136.1,290.4 137.0,290.0 138.0,289.7 138.9,289.6 139.9,290.2 140.8,290.4 141.8,289.8 142.7,289.7 143.7,289.9 144.6,289.8 145.6,289.8 146.5,289.9 147.5,290.1 148.4,290.3 149.4,290.3 150.3,290.3 151.3,290.3 152.2,290.4 153.2,290.2 154.1,290.6 155.1,291.2 156.0,291.4 157.0,291.8 157.9,292.2 158.9,292.4 159.8,292.3 160.8,292.1 161.7,291.8 162.7,291.5 163.6,291.4 164.6,291.3 165.5,291.2 166.5,291.2 167.4,291.3 168.4,291.3 169.3,291.1 170.3,290.8 171.2,291.0 172.2,291.2 173.1,291.3 174.1,291.2 175.0,291.2 176.0,291.5 176.9,292.1 177.9,292.4 178.8,292.7 179.8,292.8 180.7,292.6 181.7,292.7 182.6,292.9 183.6,293.0 184.5,293.0 185.5,293.0 186.4,292.9 187.4,292.7 188.3,292.9 189.3,293.0 190.2,293.1 191.2,293.2 192.1,293.4 193.1,293.5 194.0,293.5 195.0,293.5 195.9,293.5 196.9,293.3 197.8,293.1 198.8,292.9 199.7,292.8 200.7,292.7 201.6,292.4 202.6,292.1 203.5,292.1 204.5,291.7 205.4,291.4 206.4,291.3 207.3,291.3 208.3,291.3 209.2,291.1 210.2,290.8 211.1,290.9 212.1,291.2 213.0,290.9 214.0,290.6 214.9,290.6 215.9,290.5 216.8,290.8 217.8,290.8 218.7,291.3 219.7,291.5 220.6,291.5 221.6,292.1 222.5,292.4 223.5,292.5 224.4,292.6 225.4,292.8 226.3,292.8 227.3,292.9 228.2,293.0 229.2,293.1 230.1,293.1 231.1,293.4 232.0,293.3 233.0,293.3 233.9,293.8 234.9,294.2 235.8,294.2 236.8,294.1 237.7,294.1 238.7,293.9 239.6,293.8 240.6,293.7 241.5,293.3 242.5,293.5 243.4,293.4 244.4,293.3 245.3,293.1 246.3,293.0 247.2,293.2 248.2,293.6 249.1,293.8 250.1,293.5 251.0,293.5 252.0,293.1 252.9,292.8 253.9,293.1 254.8,293.2 255.8,293.0 256.7,293.1 257.7,293.0 258.6,292.5 259.6,292.2 260.5,292.3 261.5,292.2 262.4,292.2 263.4,292.3 264.3,292.3 265.3,291.8 266.2,291.8 267.2,291.8 268.1,291.9 269.1,291.9 270.0,291.9 271.0,292.2 271.9,292.5 272.9,292.4 273.8,292.2 274.8,292.5 275.7,292.8 276.7,292.7 277.6,292.7 278.6,292.8 279.5,292.5 280.5,292.7 281.4,292.6 282.4,292.5 283.3,292.8 284.3,292.7 285.2,292.5 286.2,292.6 287.1,292.5 288.1,292.2 289.0,292.4 290.0,292.7 290.9,292.8 291.9,292.7 292.8,292.9 293.8,293.2 294.7,293.5 295.7,294.0 296.6,294.2 297.6,294.5 298.5,294.8 299.5,294.8 300.4,295.3 301.4,296.0 302.3,296.2 303.3,296.1 304.2,296.2 305.2,296.2 306.1,296.3 307.1,296.2 308.0,296.3 309.0,296.2 309.9,296.6 310.9,296.4 311.8,296.2 312.8,296.5 313.7,297.0 314.7,297.3 315.6,297.5 316.6,298.2 317.5,299.0 318.5,298.6 319.4,298.9 320.4,299.1 321.3,299.0 322.3,298.6 323.2,298.7 324.2,298.9 325.1,299.0 326.1,299.1 327.0,298.8 328.0,298.9 328.9,299.2 329.9,298.5 330.8,298.2 331.8,298.2 332.7,298.2" fill="none" stroke="#1414ff" stroke-width="1.35" stroke-linejoin="round"/><text x="6.50" y="295.00" font-size="7.6" text-anchor="middle" fill="#262626" transform="rotate(-90 6.5 295.0)">0</text><rect x="15.50" y="303.50" width="332.00" height="13.00" fill="none" stroke="#4a4a4a" stroke-width="1.1"/><line x1="29.70" y1="316.50" x2="29.70" y2="318.50" stroke="#383838" stroke-width="0.7"/><line x1="80.20" y1="316.50" x2="80.20" y2="318.50" stroke="#383838" stroke-width="0.7"/><line x1="130.70" y1="316.50" x2="130.70" y2="318.50" stroke="#383838" stroke-width="0.7"/><line x1="181.20" y1="316.50" x2="181.20" y2="318.50" stroke="#383838" stroke-width="0.7"/><line x1="231.70" y1="316.50" x2="231.70" y2="318.50" stroke="#383838" stroke-width="0.7"/><line x1="282.20" y1="316.50" x2="282.20" y2="318.50" stroke="#383838" stroke-width="0.7"/><line x1="332.70" y1="316.50" x2="332.70" y2="318.50" stroke="#383838" stroke-width="0.7"/><polyline points="29.7,312.5 30.6,311.8 31.6,311.2 32.5,310.9 33.5,310.8 34.4,310.2 35.4,309.6 36.3,309.7 37.3,309.8 38.2,309.9 39.2,310.4 40.1,311.2 41.1,311.7 42.0,312.1 43.0,312.5 43.9,312.8 44.9,313.1 45.8,313.5 46.8,313.7 47.7,313.8 48.7,314.2 49.6,314.4 50.6,314.3 51.5,314.1 52.5,314.0 53.4,313.8 54.4,313.6 55.3,314.0 56.3,314.1 57.2,313.9 58.2,314.0 59.1,313.9 60.1,313.7 61.0,313.4 62.0,313.6 62.9,313.9 63.9,314.2 64.8,314.2 65.8,314.0 66.7,313.6 67.7,313.4 68.6,313.7 69.6,313.9 70.5,313.8 71.5,313.5 72.4,313.2 73.4,312.8 74.3,312.7 75.3,312.5 76.2,312.3 77.2,312.1 78.1,311.8 79.1,311.6 80.0,311.5 81.0,311.5 81.9,311.4 82.9,311.2 83.8,311.1 84.8,311.3 85.7,311.2 86.7,311.1 87.6,311.0 88.6,310.7 89.5,310.6 90.5,310.6 91.4,310.7 92.4,310.5 93.3,310.2 94.3,310.2 95.2,310.3 96.2,310.3 97.1,309.8 98.1,309.9 99.0,309.9 100.0,309.8 100.9,309.7 101.9,309.8 102.8,310.0 103.8,309.9 104.7,309.9 105.7,309.8 106.6,309.8 107.6,309.9 108.5,309.9 109.5,309.8 110.4,309.9 111.4,309.9 112.3,309.9 113.3,309.7 114.2,309.6 115.2,309.7 116.1,309.6 117.1,309.5 118.0,309.2 119.0,308.9 119.9,308.7 120.9,308.6 121.8,308.6 122.8,308.3 123.7,307.9 124.7,307.8 125.6,307.6 126.6,307.5 127.5,307.7 128.5,308.0 129.4,308.5 130.4,308.8 131.3,308.9 132.3,309.3 133.2,309.4 134.2,309.1 135.1,309.2 136.1,309.0 137.0,308.9 138.0,308.8 138.9,308.8 139.9,309.1 140.8,309.0 141.8,308.7 142.7,308.6 143.7,308.5 144.6,308.7 145.6,308.8 146.5,308.6 147.5,308.7 148.4,308.9 149.4,309.1 150.3,309.1 151.3,308.8 152.2,308.7 153.2,308.8 154.1,308.7 155.1,308.7 156.0,309.0 157.0,309.0 157.9,308.8 158.9,308.6 159.8,308.6 160.8,308.3 161.7,308.4 162.7,308.6 163.6,309.0 164.6,308.9 165.5,308.7 166.5,308.5 167.4,308.4 168.4,308.8 169.3,309.0 170.3,308.8 171.2,308.9 172.2,308.9 173.1,308.8 174.1,309.1 175.0,309.3 176.0,309.2 176.9,309.2 177.9,309.3 178.8,309.1 179.8,309.4 180.7,309.5 181.7,309.2 182.6,309.3 183.6,309.0 184.5,308.7 185.5,308.8 186.4,308.7 187.4,308.7 188.3,308.5 189.3,308.5 190.2,308.2 191.2,308.0 192.1,307.8 193.1,307.7 194.0,307.7 195.0,307.4 195.9,307.1 196.9,306.9 197.8,307.0 198.8,306.8 199.7,306.5 200.7,306.3 201.6,305.9 202.6,305.7 203.5,305.6 204.5,305.6 205.4,305.4 206.4,305.3 207.3,305.8 208.3,306.1 209.2,306.4 210.2,306.7 211.1,306.8 212.1,307.1 213.0,307.5 214.0,307.8 214.9,307.9 215.9,307.9 216.8,308.2 217.8,308.2 218.7,308.2 219.7,308.3 220.6,308.7 221.6,309.0 222.5,309.1 223.5,309.0 224.4,308.8 225.4,308.9 226.3,309.0 227.3,309.0 228.2,309.2 229.2,309.1 230.1,309.1 231.1,309.0 232.0,308.8 233.0,308.7 233.9,308.7 234.9,308.9 235.8,309.0 236.8,309.0 237.7,309.0 238.7,308.8 239.6,308.9 240.6,309.1 241.5,309.0 242.5,309.2 243.4,309.6 244.4,309.6 245.3,309.5 246.3,309.3 247.2,309.2 248.2,309.2 249.1,309.1 250.1,309.1 251.0,309.1 252.0,308.8 252.9,308.7 253.9,308.7 254.8,308.8 255.8,308.7 256.7,308.6 257.7,308.4 258.6,308.1 259.6,308.0 260.5,308.1 261.5,307.9 262.4,307.7 263.4,307.6 264.3,307.7 265.3,307.7 266.2,307.6 267.2,307.6 268.1,307.6 269.1,307.2 270.0,307.1 271.0,306.7 271.9,306.3 272.9,306.1 273.8,305.9 274.8,305.8 275.7,305.7 276.7,305.9 277.6,305.7 278.6,305.4 279.5,305.7 280.5,305.9 281.4,305.6 282.4,305.6 283.3,305.3 284.3,305.4 285.2,305.4 286.2,305.6 287.1,305.4 288.1,305.5 289.0,306.1 290.0,306.5 290.9,306.4 291.9,306.5 292.8,306.6 293.8,306.6 294.7,306.9 295.7,307.0 296.6,306.6 297.6,306.5 298.5,306.4 299.5,306.1 300.4,306.4 301.4,306.3 302.3,305.9 303.3,305.9 304.2,305.6 305.2,305.5 306.1,305.5 307.1,305.4 308.0,305.5 309.0,305.8 309.9,305.9 310.9,305.8 311.8,305.6 312.8,305.7 313.7,306.1 314.7,306.1 315.6,306.2 316.6,306.1 317.5,306.0 318.5,305.9 319.4,306.0 320.4,305.7 321.3,305.5 322.3,305.5 323.2,305.5 324.2,305.1 325.1,305.1 326.1,305.3 327.0,305.5 328.0,305.6 328.9,305.6 329.9,305.7 330.8,305.8 331.8,306.0 332.7,306.0" fill="none" stroke="#1414ff" stroke-width="1.35" stroke-linejoin="round"/><text x="6.50" y="310.00" font-size="7.6" text-anchor="middle" fill="#262626" transform="rotate(-90 6.5 310.0)">1</text><rect x="15.50" y="319.50" width="332.00" height="13.00" fill="none" stroke="#4a4a4a" stroke-width="1.1"/><line x1="29.70" y1="332.50" x2="29.70" y2="334.50" stroke="#383838" stroke-width="0.7"/><line x1="80.20" y1="332.50" x2="80.20" y2="334.50" stroke="#383838" stroke-width="0.7"/><line x1="130.70" y1="332.50" x2="130.70" y2="334.50" stroke="#383838" stroke-width="0.7"/><line x1="181.20" y1="332.50" x2="181.20" y2="334.50" stroke="#383838" stroke-width="0.7"/><line x1="231.70" y1="332.50" x2="231.70" y2="334.50" stroke="#383838" stroke-width="0.7"/><line x1="282.20" y1="332.50" x2="282.20" y2="334.50" stroke="#383838" stroke-width="0.7"/><line x1="332.70" y1="332.50" x2="332.70" y2="334.50" stroke="#383838" stroke-width="0.7"/><polyline points="29.7,321.7 30.6,321.8 31.6,322.1 32.5,322.3 33.5,322.0 34.4,322.1 35.4,322.4 36.3,322.0 37.3,322.1 38.2,322.5 39.2,323.2 40.1,323.9 41.1,323.8 42.0,323.5 43.0,322.8 43.9,322.0 44.9,321.9 45.8,322.2 46.8,322.0 47.7,321.5 48.7,321.5 49.6,321.1 50.6,321.5 51.5,321.7 52.5,321.4 53.4,321.5 54.4,321.8 55.3,321.8 56.3,322.1 57.2,322.1 58.2,322.4 59.1,322.6 60.1,322.6 61.0,322.8 62.0,323.1 62.9,323.1 63.9,323.5 64.8,323.9 65.8,324.2 66.7,324.4 67.7,324.9 68.6,324.9 69.6,324.7 70.5,324.9 71.5,324.6 72.4,323.9 73.4,323.4 74.3,323.1 75.3,322.7 76.2,322.6 77.2,322.6 78.1,322.1 79.1,321.7 80.0,321.4 81.0,321.3 81.9,321.5 82.9,321.6 83.8,321.5 84.8,321.7 85.7,322.2 86.7,322.0 87.6,322.0 88.6,322.4 89.5,322.5 90.5,322.6 91.4,323.1 92.4,323.4 93.3,323.8 94.3,324.3 95.2,324.6 96.2,324.8 97.1,324.5 98.1,324.4 99.0,324.3 100.0,323.8 100.9,323.5 101.9,323.6 102.8,323.1 103.8,323.0 104.7,322.7 105.7,322.0 106.6,321.5 107.6,321.5 108.5,321.4 109.5,321.5 110.4,321.6 111.4,321.9 112.3,322.0 113.3,321.8 114.2,322.2 115.2,322.2 116.1,322.1 117.1,322.4 118.0,323.0 119.0,323.0 119.9,322.8 120.9,323.2 121.8,323.5 122.8,323.8 123.7,323.9 124.7,324.1 125.6,324.5 126.6,324.0 127.5,323.5 128.5,323.1 129.4,322.8 130.4,322.6 131.3,322.2 132.3,321.5 133.2,321.0 134.2,321.2 135.1,321.5 136.1,321.6 137.0,321.6 138.0,321.6 138.9,321.7 139.9,321.8 140.8,321.8 141.8,322.3 142.7,322.1 143.7,322.3 144.6,322.7 145.6,322.7 146.5,322.7 147.5,322.7 148.4,322.7 149.4,323.3 150.3,323.6 151.3,323.6 152.2,323.9 153.2,323.7 154.1,324.2 155.1,325.6 156.0,326.7 157.0,327.8 157.9,328.7 158.9,328.8 159.8,328.4 160.8,328.2 161.7,328.0 162.7,327.0 163.6,326.2 164.6,325.0 165.5,324.0 166.5,323.5 167.4,322.1 168.4,322.0 169.3,322.4 170.3,322.3 171.2,321.8 172.2,321.6 173.1,321.8 174.1,322.1 175.0,321.9 176.0,321.7 176.9,322.0 177.9,322.4 178.8,322.3 179.8,322.5 180.7,322.9 181.7,323.8 182.6,324.1 183.6,324.1 184.5,324.1 185.5,324.2 186.4,324.1 187.4,324.3 188.3,323.8 189.3,323.5 190.2,323.4 191.2,323.3 192.1,323.3 193.1,323.1 194.0,322.6 195.0,322.2 195.9,322.1 196.9,321.9 197.8,321.7 198.8,321.1 199.7,320.9 200.7,321.4 201.6,322.1 202.6,322.0 203.5,321.9 204.5,322.1 205.4,322.2 206.4,322.1 207.3,322.0 208.3,322.2 209.2,322.2 210.2,322.1 211.1,322.1 212.1,322.4 213.0,322.6 214.0,322.4 214.9,322.3 215.9,322.3 216.8,322.4 217.8,322.0 218.7,321.9 219.7,321.9 220.6,321.5 221.6,321.3 222.5,321.4 223.5,321.4 224.4,321.0 225.4,320.8 226.3,320.7 227.3,320.7 228.2,321.0 229.2,320.9 230.1,320.7 231.1,320.9 232.0,320.8 233.0,321.0 233.9,321.2 234.9,321.4 235.8,321.9 236.8,322.0 237.7,322.6 238.7,323.1 239.6,323.6 240.6,323.9 241.5,324.0 242.5,324.3 243.4,324.6 244.4,324.3 245.3,323.7 246.3,323.3 247.2,322.9 248.2,322.4 249.1,322.0 250.1,321.8 251.0,321.5 252.0,321.5 252.9,321.6 253.9,321.7 254.8,321.7 255.8,321.8 256.7,321.7 257.7,321.4 258.6,321.5 259.6,321.4 260.5,321.6 261.5,321.4 262.4,321.5 263.4,321.8 264.3,322.1 265.3,322.1 266.2,322.1 267.2,322.3 268.1,322.0 269.1,321.9 270.0,322.3 271.0,322.8 271.9,323.3 272.9,323.6 273.8,323.4 274.8,324.0 275.7,323.9 276.7,323.4 277.6,323.1 278.6,323.0 279.5,322.4 280.5,321.9 281.4,324.5 282.4,328.1 283.3,329.8 284.3,330.8 285.2,328.2 286.2,325.9 287.1,324.7 288.1,323.7 289.0,322.8 290.0,322.7 290.9,322.3 291.9,322.3 292.8,322.1 293.8,322.0 294.7,321.7 295.7,321.4 296.6,321.9 297.6,322.5 298.5,322.9 299.5,322.7 300.4,322.8 301.4,323.4 302.3,323.8 303.3,323.5 304.2,323.2 305.2,323.3 306.1,323.1 307.1,322.6 308.0,322.1 309.0,321.8 309.9,321.7 310.9,321.5 311.8,321.8 312.8,321.7 313.7,321.6 314.7,321.8 315.6,321.8 316.6,321.7 317.5,321.7 318.5,321.4 319.4,321.0 320.4,321.1 321.3,321.5 322.3,321.5 323.2,321.7 324.2,322.1 325.1,322.5 326.1,322.7 327.0,322.7 328.0,322.8 328.9,323.2 329.9,323.5 330.8,323.7 331.8,324.2 332.7,324.2" fill="none" stroke="#1414ff" stroke-width="1.35" stroke-linejoin="round"/><text x="6.50" y="326.00" font-size="7.6" text-anchor="middle" fill="#262626" transform="rotate(-90 6.5 326.0)">2</text><rect x="15.50" y="334.50" width="332.00" height="13.00" fill="none" stroke="#4a4a4a" stroke-width="1.1"/><line x1="29.70" y1="347.50" x2="29.70" y2="349.50" stroke="#383838" stroke-width="0.7"/><line x1="80.20" y1="347.50" x2="80.20" y2="349.50" stroke="#383838" stroke-width="0.7"/><line x1="130.70" y1="347.50" x2="130.70" y2="349.50" stroke="#383838" stroke-width="0.7"/><line x1="181.20" y1="347.50" x2="181.20" y2="349.50" stroke="#383838" stroke-width="0.7"/><line x1="231.70" y1="347.50" x2="231.70" y2="349.50" stroke="#383838" stroke-width="0.7"/><line x1="282.20" y1="347.50" x2="282.20" y2="349.50" stroke="#383838" stroke-width="0.7"/><line x1="332.70" y1="347.50" x2="332.70" y2="349.50" stroke="#383838" stroke-width="0.7"/><polyline points="29.7,336.8 30.6,337.4 31.6,337.6 32.5,337.8 33.5,337.9 34.4,338.2 35.4,338.4 36.3,338.6 37.3,339.0 38.2,339.9 39.2,339.7 40.1,339.4 41.1,339.2 42.0,338.8 43.0,338.4 43.9,337.9 44.9,337.8 45.8,337.5 46.8,337.4 47.7,337.0 48.7,336.3 49.6,335.9 50.6,336.2 51.5,336.7 52.5,336.9 53.4,336.8 54.4,336.4 55.3,336.3 56.3,336.8 57.2,337.1 58.2,337.3 59.1,337.5 60.1,337.7 61.0,337.7 62.0,338.0 62.9,338.5 63.9,338.8 64.8,339.1 65.8,339.7 66.7,339.6 67.7,339.6 68.6,339.7 69.6,339.8 70.5,339.6 71.5,339.3 72.4,338.9 73.4,338.6 74.3,338.1 75.3,337.2 76.2,336.9 77.2,337.5 78.1,337.1 79.1,336.4 80.0,335.7 81.0,335.8 81.9,336.2 82.9,335.8 83.8,336.2 84.8,336.7 85.7,336.8 86.7,336.9 87.6,337.0 88.6,337.4 89.5,337.3 90.5,337.4 91.4,338.2 92.4,338.8 93.3,339.1 94.3,339.5 95.2,339.6 96.2,339.9 97.1,340.1 98.1,340.0 99.0,339.5 100.0,338.8 100.9,338.2 101.9,337.9 102.8,337.8 103.8,337.7 104.7,337.3 105.7,336.7 106.6,336.6 107.6,336.4 108.5,336.1 109.5,336.2 110.4,336.3 111.4,336.6 112.3,336.7 113.3,336.8 114.2,336.8 115.2,337.1 116.1,337.1 117.1,337.0 118.0,337.5 119.0,337.9 119.9,338.3 120.9,338.4 121.8,338.6 122.8,339.0 123.7,339.2 124.7,339.2 125.6,339.4 126.6,339.4 127.5,338.7 128.5,338.3 129.4,338.2 130.4,337.8 131.3,337.5 132.3,337.2 133.2,336.8 134.2,336.8 135.1,337.1 136.1,336.6 137.0,336.6 138.0,336.7 138.9,336.7 139.9,337.0 140.8,337.2 141.8,337.0 142.7,337.0 143.7,337.3 144.6,337.6 145.6,337.9 146.5,337.8 147.5,337.8 148.4,338.0 149.4,338.5 150.3,338.7 151.3,339.0 152.2,339.5 153.2,340.0 154.1,340.3 155.1,341.1 156.0,343.1 157.0,344.8 157.9,346.2 158.9,345.4 159.8,344.7 160.8,344.3 161.7,343.9 162.7,342.7 163.6,341.5 164.6,340.5 165.5,339.2 166.5,337.8 167.4,336.7 168.4,336.7 169.3,336.8 170.3,336.6 171.2,336.8 172.2,337.0 173.1,336.9 174.1,336.6 175.0,336.7 176.0,336.9 176.9,337.3 177.9,337.8 178.8,337.9 179.8,338.3 180.7,339.0 181.7,339.1 182.6,339.3 183.6,339.4 184.5,339.3 185.5,339.6 186.4,340.0 187.4,340.1 188.3,339.5 189.3,338.7 190.2,338.8 191.2,338.8 192.1,338.7 193.1,338.5 194.0,338.4 195.0,338.0 195.9,337.6 196.9,337.0 197.8,336.4 198.8,336.6 199.7,336.7 200.7,336.7 201.6,337.0 202.6,337.1 203.5,337.1 204.5,337.2 205.4,337.4 206.4,337.5 207.3,337.6 208.3,337.8 209.2,337.6 210.2,337.8 211.1,337.8 212.1,338.2 213.0,338.6 214.0,338.7 214.9,338.4 215.9,338.3 216.8,338.3 217.8,337.7 218.7,337.6 219.7,337.1 220.6,336.9 221.6,336.9 222.5,336.6 223.5,336.5 224.4,336.3 225.4,335.9 226.3,335.9 227.3,335.9 228.2,335.7 229.2,336.0 230.1,336.1 231.1,336.4 232.0,336.3 233.0,336.6 233.9,336.5 234.9,336.9 235.8,337.1 236.8,337.4 237.7,337.7 238.7,338.1 239.6,338.6 240.6,338.8 241.5,338.7 242.5,338.5 243.4,338.7 244.4,339.4 245.3,339.5 246.3,339.1 247.2,338.5 248.2,337.9 249.1,337.4 250.1,337.1 251.0,336.7 252.0,336.0 252.9,336.0 253.9,335.8 254.8,335.9 255.8,335.9 256.7,335.9 257.7,335.8 258.6,335.8 259.6,336.0 260.5,336.2 261.5,336.6 262.4,336.3 263.4,336.1 264.3,336.1 265.3,335.9 266.2,335.8 267.2,336.2 268.1,336.3 269.1,336.3 270.0,336.5 271.0,336.7 271.9,337.0 272.9,337.4 273.8,337.6 274.8,337.8 275.7,337.8 276.7,338.1 277.6,338.2 278.6,338.5 279.5,338.8 280.5,340.5 281.4,342.6 282.4,344.3 283.3,344.8 284.3,344.3 285.2,343.1 286.2,342.2 287.1,341.2 288.1,340.2 289.0,340.1 290.0,339.9 290.9,339.1 291.9,338.4 292.8,338.2 293.8,338.1 294.7,337.9 295.7,337.4 296.6,337.0 297.6,337.0 298.5,336.9 299.5,336.5 300.4,336.6 301.4,336.7 302.3,336.7 303.3,336.7 304.2,336.8 305.2,336.6 306.1,336.3 307.1,336.2 308.0,336.6 309.0,336.9 309.9,337.0 310.9,336.7 311.8,336.7 312.8,337.0 313.7,337.1 314.7,336.9 315.6,336.8 316.6,336.7 317.5,336.8 318.5,336.7 319.4,336.7 320.4,336.8 321.3,336.8 322.3,336.7 323.2,337.1 324.2,337.6 325.1,337.7 326.1,337.9 327.0,338.2 328.0,338.5 328.9,338.6 329.9,338.5 330.8,338.7 331.8,338.8 332.7,338.7" fill="none" stroke="#1414ff" stroke-width="1.35" stroke-linejoin="round"/><text x="6.50" y="341.00" font-size="7.6" text-anchor="middle" fill="#262626" transform="rotate(-90 6.5 341.0)">3</text><rect x="15.50" y="349.50" width="332.00" height="13.00" fill="none" stroke="#4a4a4a" stroke-width="1.1"/><line x1="29.70" y1="362.50" x2="29.70" y2="364.50" stroke="#383838" stroke-width="0.7"/><line x1="80.20" y1="362.50" x2="80.20" y2="364.50" stroke="#383838" stroke-width="0.7"/><line x1="130.70" y1="362.50" x2="130.70" y2="364.50" stroke="#383838" stroke-width="0.7"/><line x1="181.20" y1="362.50" x2="181.20" y2="364.50" stroke="#383838" stroke-width="0.7"/><line x1="231.70" y1="362.50" x2="231.70" y2="364.50" stroke="#383838" stroke-width="0.7"/><line x1="282.20" y1="362.50" x2="282.20" y2="364.50" stroke="#383838" stroke-width="0.7"/><line x1="332.70" y1="362.50" x2="332.70" y2="364.50" stroke="#383838" stroke-width="0.7"/><polyline points="29.7,353.6 30.6,354.0 31.6,354.3 32.5,354.8 33.5,354.7 34.4,354.6 35.4,354.9 36.3,355.2 37.3,355.0 38.2,355.1 39.2,354.9 40.1,354.7 41.1,354.6 42.0,354.4 43.0,353.8 43.9,353.7 44.9,353.7 45.8,353.2 46.8,352.7 47.7,352.2 48.7,351.7 49.6,351.9 50.6,352.3 51.5,352.1 52.5,352.1 53.4,352.6 54.4,352.9 55.3,353.3 56.3,353.4 57.2,353.4 58.2,353.4 59.1,353.5 60.1,354.1 61.0,354.5 62.0,354.9 62.9,355.1 63.9,355.2 64.8,355.3 65.8,355.4 66.7,355.5 67.7,356.1 68.6,356.5 69.6,356.3 70.5,356.1 71.5,355.7 72.4,355.2 73.4,354.4 74.3,353.9 75.3,353.9 76.2,353.5 77.2,352.9 78.1,352.4 79.1,351.9 80.0,352.0 81.0,352.0 81.9,351.9 82.9,352.4 83.8,352.3 84.8,352.5 85.7,352.8 86.7,352.9 87.6,352.9 88.6,353.5 89.5,353.9 90.5,354.3 91.4,354.6 92.4,354.4 93.3,354.4 94.3,355.3 95.2,356.1 96.2,356.4 97.1,356.4 98.1,356.1 99.0,355.6 100.0,354.9 100.9,354.6 101.9,354.4 102.8,354.3 103.8,353.7 104.7,353.5 105.7,352.8 106.6,352.2 107.6,352.2 108.5,351.6 109.5,351.9 110.4,352.2 111.4,352.0 112.3,352.0 113.3,352.5 114.2,352.5 115.2,352.4 116.1,352.6 117.1,353.0 118.0,353.4 119.0,353.5 119.9,353.9 120.9,354.4 121.8,354.6 122.8,354.8 123.7,354.8 124.7,354.7 125.6,355.2 126.6,355.4 127.5,354.9 128.5,354.2 129.4,353.7 130.4,353.4 131.3,353.2 132.3,352.6 133.2,352.3 134.2,352.0 135.1,352.1 136.1,352.1 137.0,352.3 138.0,352.5 138.9,352.5 139.9,352.5 140.8,352.4 141.8,352.7 142.7,352.8 143.7,352.9 144.6,352.8 145.6,352.8 146.5,353.0 147.5,353.3 148.4,353.9 149.4,354.2 150.3,354.3 151.3,354.8 152.2,355.1 153.2,355.5 154.1,355.7 155.1,356.1 156.0,358.2 157.0,359.8 157.9,360.9 158.9,360.0 159.8,359.3 160.8,358.6 161.7,358.0 162.7,357.3 163.6,356.5 164.6,355.3 165.5,354.5 166.5,353.5 167.4,352.2 168.4,352.1 169.3,352.5 170.3,352.8 171.2,353.1 172.2,353.0 173.1,352.9 174.1,352.8 175.0,352.5 176.0,352.5 176.9,352.9 177.9,353.5 178.8,353.5 179.8,353.4 180.7,354.2 181.7,354.4 182.6,354.8 183.6,355.0 184.5,355.4 185.5,355.8 186.4,356.0 187.4,355.9 188.3,355.9 189.3,355.5 190.2,355.1 191.2,354.8 192.1,354.5 193.1,354.4 194.0,354.0 195.0,353.6 195.9,353.2 196.9,352.6 197.8,352.2 198.8,352.4 199.7,352.8 200.7,353.1 201.6,353.1 202.6,353.0 203.5,353.4 204.5,353.8 205.4,354.0 206.4,353.9 207.3,353.9 208.3,354.3 209.2,354.4 210.2,354.5 211.1,354.5 212.1,354.9 213.0,355.1 214.0,355.6 214.9,355.5 215.9,355.0 216.8,354.2 217.8,353.7 218.7,353.5 219.7,353.5 220.6,353.2 221.6,352.9 222.5,352.6 223.5,352.4 224.4,352.1 225.4,351.9 226.3,351.7 227.3,351.6 228.2,351.3 229.2,351.4 230.1,351.6 231.1,351.8 232.0,352.2 233.0,352.4 233.9,352.3 234.9,352.3 235.8,352.6 236.8,353.0 237.7,353.2 238.7,353.6 239.6,354.0 240.6,354.3 241.5,354.6 242.5,354.8 243.4,355.1 244.4,355.6 245.3,355.2 246.3,354.8 247.2,354.2 248.2,353.7 249.1,353.2 250.1,352.8 251.0,352.5 252.0,352.1 252.9,351.9 253.9,352.2 254.8,352.1 255.8,352.2 256.7,352.2 257.7,352.1 258.6,351.9 259.6,352.2 260.5,352.6 261.5,352.4 262.4,352.3 263.4,352.2 264.3,352.1 265.3,351.8 266.2,351.8 267.2,352.2 268.1,352.5 269.1,352.4 270.0,352.5 271.0,352.7 271.9,352.8 272.9,352.7 273.8,352.8 274.8,353.1 275.7,353.1 276.7,353.3 277.6,353.6 278.6,353.7 279.5,353.0 280.5,352.1 281.4,354.7 282.4,358.3 283.3,357.8 284.3,357.5 285.2,356.9 286.2,356.2 287.1,355.8 288.1,355.4 289.0,355.0 290.0,354.7 290.9,354.1 291.9,354.2 292.8,354.3 293.8,354.2 294.7,354.2 295.7,354.6 296.6,354.7 297.6,354.7 298.5,354.5 299.5,354.1 300.4,353.7 301.4,353.4 302.3,352.9 303.3,352.8 304.2,352.4 305.2,352.3 306.1,352.3 307.1,351.9 308.0,351.9 309.0,352.1 309.9,352.0 310.9,352.0 311.8,352.1 312.8,352.5 313.7,352.4 314.7,352.2 315.6,352.0 316.6,352.2 317.5,352.1 318.5,352.2 319.4,352.2 320.4,352.5 321.3,352.5 322.3,353.0 323.2,353.2 324.2,353.0 325.1,353.5 326.1,354.1 327.0,354.2 328.0,354.0 328.9,354.2 329.9,354.4 330.8,354.6 331.8,355.1 332.7,355.7" fill="none" stroke="#1414ff" stroke-width="1.35" stroke-linejoin="round"/><text x="6.50" y="356.00" font-size="7.6" text-anchor="middle" fill="#262626" transform="rotate(-90 6.5 356.0)">4</text><rect x="15.50" y="365.50" width="332.00" height="13.00" fill="none" stroke="#4a4a4a" stroke-width="1.1"/><line x1="29.70" y1="378.50" x2="29.70" y2="380.50" stroke="#383838" stroke-width="0.7"/><line x1="80.20" y1="378.50" x2="80.20" y2="380.50" stroke="#383838" stroke-width="0.7"/><line x1="130.70" y1="378.50" x2="130.70" y2="380.50" stroke="#383838" stroke-width="0.7"/><line x1="181.20" y1="378.50" x2="181.20" y2="380.50" stroke="#383838" stroke-width="0.7"/><line x1="231.70" y1="378.50" x2="231.70" y2="380.50" stroke="#383838" stroke-width="0.7"/><line x1="282.20" y1="378.50" x2="282.20" y2="380.50" stroke="#383838" stroke-width="0.7"/><line x1="332.70" y1="378.50" x2="332.70" y2="380.50" stroke="#383838" stroke-width="0.7"/><polyline points="29.7,368.0 30.6,368.0 31.6,368.1 32.5,368.2 33.5,368.2 34.4,368.2 35.4,368.3 36.3,368.3 37.3,368.3 38.2,368.5 39.2,368.5 40.1,368.2 41.1,368.0 42.0,367.9 43.0,367.6 43.9,367.5 44.9,367.3 45.8,367.0 46.8,366.8 47.7,366.7 48.7,366.8 49.6,366.9 50.6,366.8 51.5,367.0 52.5,367.3 53.4,367.4 54.4,367.4 55.3,367.6 56.3,367.7 57.2,367.8 58.2,367.9 59.1,368.0 60.1,368.1 61.0,368.2 62.0,368.3 62.9,368.2 63.9,368.3 64.8,368.4 65.8,368.4 66.7,368.4 67.7,368.6 68.6,368.7 69.6,368.8 70.5,368.7 71.5,368.5 72.4,368.5 73.4,368.1 74.3,367.8 75.3,367.6 76.2,367.5 77.2,367.5 78.1,367.2 79.1,367.0 80.0,366.8 81.0,366.9 81.9,366.9 82.9,366.9 83.8,367.1 84.8,367.2 85.7,367.3 86.7,367.4 87.6,367.5 88.6,367.5 89.5,367.5 90.5,367.6 91.4,367.9 92.4,368.0 93.3,367.9 94.3,367.7 95.2,367.5 96.2,367.5 97.1,367.5 98.1,367.3 99.0,367.2 100.0,367.0 100.9,366.9 101.9,366.9 102.8,366.8 103.8,366.7 104.7,366.7 105.7,366.7 106.6,366.9 107.6,367.0 108.5,367.1 109.5,367.3 110.4,367.3 111.4,367.3 112.3,367.4 113.3,367.5 114.2,367.4 115.2,367.4 116.1,367.6 117.1,367.8 118.0,367.8 119.0,368.0 119.9,368.0 120.9,368.0 121.8,368.2 122.8,368.4 123.7,368.3 124.7,368.3 125.6,368.2 126.6,368.1 127.5,367.9 128.5,367.5 129.4,367.3 130.4,367.2 131.3,367.1 132.3,367.2 133.2,367.2 134.2,367.2 135.1,367.2 136.1,367.3 137.0,367.3 138.0,367.4 138.9,367.5 139.9,367.5 140.8,367.7 141.8,367.7 142.7,367.8 143.7,367.8 144.6,367.9 145.6,368.0 146.5,368.3 147.5,368.4 148.4,368.2 149.4,368.3 150.3,368.3 151.3,368.4 152.2,368.6 153.2,368.8 154.1,369.1 155.1,369.3 156.0,369.4 157.0,369.7 157.9,370.0 158.9,370.1 159.8,370.4 160.8,370.9 161.7,372.4 162.7,374.0 163.6,375.4 164.6,375.9 165.5,375.7 166.5,375.4 167.4,375.3 168.4,375.2 169.3,375.0 170.3,374.9 171.2,375.0 172.2,375.2 173.1,375.4 174.1,375.4 175.0,375.5 176.0,375.5 176.9,375.6 177.9,375.8 178.8,375.9 179.8,375.9 180.7,375.8 181.7,375.8 182.6,376.0 183.6,375.9 184.5,375.8 185.5,375.8 186.4,375.7 187.4,375.6 188.3,375.6 189.3,375.7 190.2,375.7 191.2,375.5 192.1,375.5 193.1,375.6 194.0,375.5 195.0,375.2 195.9,375.3 196.9,375.3 197.8,375.1 198.8,375.1 199.7,375.1 200.7,375.1 201.6,375.0 202.6,374.9 203.5,374.9 204.5,374.9 205.4,374.8 206.4,374.7 207.3,374.6 208.3,374.7 209.2,374.7 210.2,374.6 211.1,374.4 212.1,374.4 213.0,374.5 214.0,374.4 214.9,374.2 215.9,374.2 216.8,374.1 217.8,374.0 218.7,374.0 219.7,374.0 220.6,374.0 221.6,373.9 222.5,373.8 223.5,374.0 224.4,374.1 225.4,374.3 226.3,374.3 227.3,374.4 228.2,374.4 229.2,374.3 230.1,374.3 231.1,374.4 232.0,374.5 233.0,374.6 233.9,374.6 234.9,374.6 235.8,374.5 236.8,374.4 237.7,374.5 238.7,374.4 239.6,374.2 240.6,374.1 241.5,374.0 242.5,374.0 243.4,374.0 244.4,374.1 245.3,374.0 246.3,373.9 247.2,373.8 248.2,373.7 249.1,373.7 250.1,373.8 251.0,373.9 252.0,374.0 252.9,374.2 253.9,374.4 254.8,374.4 255.8,374.4 256.7,374.6 257.7,374.8 258.6,374.7 259.6,374.8 260.5,374.8 261.5,374.7 262.4,374.7 263.4,374.7 264.3,374.5 265.3,374.6 266.2,374.5 267.2,374.4 268.1,374.4 269.1,374.4 270.0,374.3 271.0,374.3 271.9,374.3 272.9,374.2 273.8,374.2 274.8,374.1 275.7,373.9 276.7,374.0 277.6,374.1 278.6,374.5 279.5,374.8 280.5,375.3 281.4,376.4 282.4,377.5 283.3,377.1 284.3,376.6 285.2,376.1 286.2,375.6 287.1,375.3 288.1,375.3 289.0,375.1 290.0,374.9 290.9,374.8 291.9,374.7 292.8,374.6 293.8,374.4 294.7,374.2 295.7,374.1 296.6,374.1 297.6,374.0 298.5,373.9 299.5,373.9 300.4,373.7 301.4,373.5 302.3,373.4 303.3,373.5 304.2,373.5 305.2,373.4 306.1,373.6 307.1,373.7 308.0,373.9 309.0,373.8 309.9,374.0 310.9,374.0 311.8,374.1 312.8,374.1 313.7,374.2 314.7,374.4 315.6,374.4 316.6,374.5 317.5,374.4 318.5,374.4 319.4,374.4 320.4,374.5 321.3,374.6 322.3,374.7 323.2,374.5 324.2,374.5 325.1,374.7 326.1,374.9 327.0,374.9 328.0,375.0 328.9,375.0 329.9,374.9 330.8,374.8 331.8,374.7 332.7,374.8" fill="none" stroke="#1414ff" stroke-width="1.35" stroke-linejoin="round"/><text x="6.50" y="372.00" font-size="7.6" text-anchor="middle" fill="#262626" transform="rotate(-90 6.5 372.0)">5</text><rect x="15.50" y="380.50" width="332.00" height="13.00" fill="none" stroke="#4a4a4a" stroke-width="1.1"/><line x1="29.70" y1="393.50" x2="29.70" y2="395.50" stroke="#383838" stroke-width="0.7"/><line x1="80.20" y1="393.50" x2="80.20" y2="395.50" stroke="#383838" stroke-width="0.7"/><line x1="130.70" y1="393.50" x2="130.70" y2="395.50" stroke="#383838" stroke-width="0.7"/><line x1="181.20" y1="393.50" x2="181.20" y2="395.50" stroke="#383838" stroke-width="0.7"/><line x1="231.70" y1="393.50" x2="231.70" y2="395.50" stroke="#383838" stroke-width="0.7"/><line x1="282.20" y1="393.50" x2="282.20" y2="395.50" stroke="#383838" stroke-width="0.7"/><line x1="332.70" y1="393.50" x2="332.70" y2="395.50" stroke="#383838" stroke-width="0.7"/><polyline points="29.7,390.1 30.6,389.9 31.6,389.9 32.5,390.1 33.5,390.4 34.4,390.8 35.4,391.0 36.3,390.8 37.3,389.7 38.2,388.8 39.2,388.4 40.1,387.7 41.1,386.8 42.0,386.0 43.0,385.4 43.9,384.7 44.9,384.0 45.8,383.3 46.8,383.2 47.7,384.0 48.7,384.9 49.6,385.8 50.6,385.9 51.5,386.1 52.5,386.7 53.4,387.1 54.4,387.3 55.3,387.6 56.3,387.9 57.2,388.2 58.2,388.4 59.1,388.8 60.1,389.0 61.0,389.2 62.0,389.4 62.9,389.6 63.9,389.6 64.8,389.7 65.8,389.8 66.7,390.2 67.7,390.6 68.6,390.6 69.6,390.7 70.5,390.4 71.5,389.5 72.4,388.4 73.4,387.5 74.3,386.5 75.3,385.5 76.2,384.6 77.2,383.6 78.1,382.7 79.1,383.8 80.0,384.5 81.0,385.1 81.9,386.0 82.9,386.3 83.8,386.7 84.8,387.1 85.7,387.2 86.7,387.3 87.6,388.0 88.6,388.5 89.5,388.9 90.5,389.1 91.4,389.5 92.4,390.0 93.3,390.1 94.3,390.3 95.2,390.4 96.2,390.5 97.1,390.8 98.1,389.6 99.0,388.4 100.0,387.2 100.9,386.0 101.9,384.9 102.8,383.9 103.8,382.7 104.7,382.7 105.7,383.4 106.6,384.2 107.6,384.8 108.5,385.6 109.5,386.1 110.4,386.3 111.4,386.4 112.3,386.7 113.3,387.3 114.2,387.4 115.2,387.5 116.1,387.9 117.1,388.4 118.0,388.8 119.0,389.1 119.9,389.4 120.9,389.5 121.8,389.6 122.8,389.7 123.7,389.7 124.7,389.8 125.6,389.9 126.6,390.0 127.5,389.3 128.5,388.2 129.4,387.3 130.4,386.3 131.3,385.4 132.3,384.5 133.2,383.7 134.2,382.8 135.1,382.9 136.1,383.9 137.0,384.4 138.0,385.3 138.9,385.6 139.9,386.2 140.8,386.6 141.8,386.9 142.7,387.1 143.7,387.4 144.6,387.9 145.6,388.1 146.5,388.2 147.5,388.4 148.4,388.8 149.4,389.0 150.3,389.3 151.3,389.7 152.2,389.2 153.2,388.5 154.1,388.0 155.1,387.6 156.0,389.9 157.0,389.8 157.9,389.5 158.9,389.2 159.8,388.8 160.8,388.3 161.7,386.6 162.7,384.9 163.6,384.5 164.6,385.6 165.5,386.8 166.5,387.8 167.4,388.0 168.4,388.2 169.3,388.0 170.3,388.1 171.2,388.3 172.2,388.6 173.1,388.5 174.1,388.5 175.0,389.0 176.0,389.2 176.9,389.6 177.9,390.0 178.8,390.1 179.8,390.5 180.7,390.4 181.7,389.9 182.6,389.3 183.6,388.7 184.5,388.2 185.5,387.6 186.4,387.1 187.4,386.9 188.3,386.4 189.3,385.8 190.2,385.2 191.2,384.8 192.1,384.3 193.1,383.8 194.0,383.5 195.0,383.1 195.9,383.8 196.9,384.5 197.8,385.5 198.8,386.0 199.7,386.3 200.7,386.4 201.6,386.8 202.6,387.3 203.5,387.6 204.5,387.9 205.4,388.2 206.4,388.5 207.3,389.0 208.3,389.1 209.2,389.5 210.2,389.7 211.1,389.7 212.1,389.9 213.0,390.1 214.0,390.1 214.9,389.3 215.9,388.6 216.8,387.8 217.8,386.9 218.7,386.2 219.7,385.3 220.6,384.5 221.6,383.6 222.5,382.5 223.5,382.3 224.4,383.2 225.4,384.0 226.3,384.9 227.3,385.6 228.2,386.0 229.2,386.3 230.1,386.5 231.1,386.8 232.0,387.2 233.0,387.7 233.9,387.9 234.9,388.2 235.8,388.6 236.8,388.9 237.7,389.1 238.7,389.4 239.6,389.7 240.6,389.7 241.5,389.7 242.5,389.7 243.4,389.6 244.4,389.1 245.3,388.0 246.3,387.0 247.2,385.9 248.2,385.2 249.1,384.3 250.1,383.3 251.0,382.5 252.0,382.9 252.9,383.7 253.9,384.7 254.8,385.9 255.8,386.2 256.7,386.5 257.7,387.0 258.6,387.2 259.6,387.4 260.5,387.8 261.5,388.1 262.4,388.5 263.4,388.8 264.3,389.0 265.3,389.4 266.2,389.8 267.2,389.9 268.1,390.0 269.1,390.1 270.0,390.1 271.0,389.8 271.9,388.7 272.9,387.8 273.8,386.8 274.8,385.7 275.7,385.0 276.7,384.2 277.6,382.9 278.6,382.2 279.5,382.7 280.5,383.6 281.4,387.2 282.4,391.5 283.3,390.9 284.3,390.4 285.2,390.2 286.2,390.2 287.1,390.0 288.1,390.0 289.0,390.0 290.0,390.0 290.9,389.9 291.9,389.8 292.8,389.6 293.8,389.5 294.7,388.8 295.7,388.6 296.6,388.2 297.6,387.7 298.5,387.3 299.5,386.9 300.4,386.5 301.4,386.0 302.3,385.5 303.3,384.9 304.2,384.1 305.2,383.5 306.1,382.6 307.1,382.3 308.0,383.1 309.0,383.9 309.9,384.5 310.9,385.4 311.8,386.0 312.8,386.1 313.7,386.4 314.7,386.7 315.6,386.9 316.6,387.0 317.5,387.5 318.5,388.1 319.4,388.5 320.4,388.8 321.3,388.9 322.3,389.0 323.2,389.3 324.2,389.6 325.1,389.7 326.1,389.9 327.0,390.1 328.0,389.3 328.9,388.4 329.9,387.5 330.8,386.9 331.8,385.9 332.7,385.7" fill="none" stroke="#1414ff" stroke-width="1.35" stroke-linejoin="round"/><text x="6.50" y="387.00" font-size="7.6" text-anchor="middle" fill="#262626" transform="rotate(-90 6.5 387.0)">6</text><rect x="15.50" y="395.50" width="332.00" height="13.00" fill="none" stroke="#4a4a4a" stroke-width="1.1"/><line x1="29.70" y1="408.50" x2="29.70" y2="410.50" stroke="#383838" stroke-width="0.7"/><line x1="80.20" y1="408.50" x2="80.20" y2="410.50" stroke="#383838" stroke-width="0.7"/><line x1="130.70" y1="408.50" x2="130.70" y2="410.50" stroke="#383838" stroke-width="0.7"/><line x1="181.20" y1="408.50" x2="181.20" y2="410.50" stroke="#383838" stroke-width="0.7"/><line x1="231.70" y1="408.50" x2="231.70" y2="410.50" stroke="#383838" stroke-width="0.7"/><line x1="282.20" y1="408.50" x2="282.20" y2="410.50" stroke="#383838" stroke-width="0.7"/><line x1="332.70" y1="408.50" x2="332.70" y2="410.50" stroke="#383838" stroke-width="0.7"/><polyline points="29.7,404.9 30.6,405.2 31.6,405.4 32.5,405.6 33.5,405.8 34.4,405.9 35.4,405.8 36.3,405.7 37.3,405.1 38.2,404.3 39.2,403.4 40.1,402.5 41.1,401.9 42.0,401.2 43.0,400.4 43.9,399.4 44.9,398.3 45.8,397.4 46.8,397.1 47.7,398.1 48.7,398.9 49.6,399.6 50.6,400.1 51.5,400.4 52.5,400.8 53.4,401.4 54.4,401.9 55.3,402.0 56.3,402.2 57.2,402.5 58.2,402.8 59.1,403.2 60.1,403.3 61.0,403.4 62.0,403.6 62.9,403.9 63.9,404.0 64.8,404.2 65.8,404.3 66.7,404.6 67.7,404.9 68.6,404.9 69.6,405.1 70.5,405.1 71.5,404.1 72.4,403.0 73.4,401.7 74.3,400.8 75.3,399.7 76.2,398.7 77.2,397.9 78.1,397.1 79.1,397.6 80.0,398.4 81.0,399.3 81.9,400.0 82.9,400.4 83.8,401.2 84.8,401.5 85.7,401.8 86.7,402.2 87.6,403.0 88.6,403.4 89.5,403.6 90.5,404.0 91.4,404.5 92.4,404.7 93.3,405.0 94.3,405.4 95.2,405.4 96.2,405.5 97.1,405.6 98.1,404.7 99.0,403.6 100.0,402.2 100.9,400.9 101.9,399.8 102.8,398.8 103.8,397.4 104.7,397.3 105.7,398.0 106.6,398.7 107.6,399.2 108.5,399.6 109.5,400.2 110.4,400.6 111.4,401.0 112.3,401.3 113.3,401.8 114.2,402.1 115.2,402.4 116.1,403.0 117.1,403.3 118.0,403.7 119.0,404.2 119.9,404.7 120.9,404.8 121.8,404.8 122.8,404.7 123.7,404.5 124.7,404.5 125.6,404.8 126.6,404.9 127.5,404.1 128.5,403.1 129.4,401.9 130.4,401.0 131.3,400.0 132.3,399.1 133.2,398.3 134.2,397.5 135.1,397.6 136.1,398.1 137.0,399.0 138.0,400.1 138.9,400.4 139.9,400.5 140.8,400.5 141.8,400.9 142.7,401.4 143.7,401.8 144.6,402.4 145.6,402.6 146.5,402.8 147.5,402.9 148.4,403.2 149.4,403.6 150.3,404.0 151.3,404.4 152.2,404.1 153.2,403.6 154.1,403.0 155.1,402.6 156.0,404.2 157.0,404.6 157.9,403.9 158.9,402.9 159.8,402.0 160.8,401.1 161.7,400.3 162.7,399.5 163.6,399.3 164.6,400.4 165.5,401.6 166.5,402.5 167.4,402.5 168.4,402.7 169.3,402.9 170.3,403.2 171.2,403.2 172.2,403.1 173.1,403.2 174.1,403.6 175.0,403.9 176.0,404.2 176.9,404.5 177.9,404.9 178.8,405.4 179.8,405.8 180.7,405.6 181.7,405.2 182.6,404.6 183.6,404.0 184.5,403.6 185.5,403.1 186.4,402.6 187.4,401.9 188.3,401.4 189.3,400.8 190.2,400.3 191.2,399.7 192.1,399.2 193.1,398.5 194.0,398.2 195.0,398.0 195.9,398.8 196.9,399.5 197.8,400.1 198.8,400.8 199.7,401.1 200.7,401.1 201.6,401.3 202.6,401.7 203.5,402.0 204.5,402.3 205.4,402.4 206.4,402.9 207.3,403.2 208.3,403.4 209.2,403.8 210.2,404.1 211.1,404.4 212.1,404.6 213.0,404.7 214.0,405.1 214.9,404.3 215.9,403.3 216.8,402.3 217.8,401.6 218.7,400.9 219.7,400.1 220.6,399.4 221.6,398.4 222.5,397.5 223.5,397.2 224.4,397.8 225.4,398.6 226.3,399.2 227.3,399.8 228.2,400.4 229.2,401.0 230.1,401.3 231.1,401.6 232.0,401.8 233.0,402.3 233.9,402.8 234.9,403.1 235.8,403.4 236.8,403.9 237.7,404.1 238.7,404.4 239.6,404.6 240.6,404.5 241.5,404.7 242.5,404.7 243.4,404.8 244.4,403.9 245.3,403.1 246.3,402.1 247.2,401.2 248.2,400.3 249.1,399.5 250.1,398.5 251.0,397.5 252.0,397.7 252.9,398.5 253.9,399.4 254.8,400.5 255.8,400.9 256.7,401.2 257.7,401.4 258.6,402.0 259.6,402.1 260.5,402.5 261.5,402.9 262.4,403.0 263.4,403.3 264.3,403.5 265.3,403.8 266.2,404.2 267.2,404.6 268.1,404.9 269.1,405.1 270.0,405.4 271.0,405.1 271.9,403.9 272.9,402.8 273.8,401.8 274.8,400.9 275.7,400.0 276.7,398.9 277.6,397.8 278.6,397.1 279.5,398.8 280.5,400.5 281.4,402.3 282.4,404.0 283.3,404.2 284.3,404.3 285.2,404.2 286.2,404.4 287.1,404.5 288.1,404.5 289.0,404.6 290.0,404.6 290.9,404.6 291.9,404.5 292.8,404.5 293.8,404.2 294.7,403.5 295.7,403.0 296.6,402.6 297.6,402.4 298.5,401.9 299.5,401.3 300.4,400.8 301.4,400.2 302.3,399.7 303.3,399.2 304.2,398.6 305.2,398.1 306.1,397.4 307.1,397.2 308.0,397.9 309.0,398.7 309.9,399.5 310.9,400.4 311.8,400.9 312.8,400.9 313.7,401.3 314.7,401.6 315.6,401.7 316.6,402.0 317.5,402.2 318.5,402.4 319.4,403.0 320.4,403.3 321.3,403.5 322.3,403.8 323.2,404.1 324.2,404.5 325.1,404.6 326.1,404.8 327.0,404.9 328.0,404.2 328.9,403.4 329.9,402.6 330.8,401.8 331.8,401.0 332.7,401.0" fill="none" stroke="#1414ff" stroke-width="1.35" stroke-linejoin="round"/><text x="6.50" y="402.00" font-size="7.6" text-anchor="middle" fill="#262626" transform="rotate(-90 6.5 402.0)">7</text><rect x="15.50" y="411.50" width="332.00" height="13.00" fill="none" stroke="#4a4a4a" stroke-width="1.1"/><line x1="29.70" y1="424.50" x2="29.70" y2="426.50" stroke="#383838" stroke-width="0.7"/><line x1="80.20" y1="424.50" x2="80.20" y2="426.50" stroke="#383838" stroke-width="0.7"/><line x1="130.70" y1="424.50" x2="130.70" y2="426.50" stroke="#383838" stroke-width="0.7"/><line x1="181.20" y1="424.50" x2="181.20" y2="426.50" stroke="#383838" stroke-width="0.7"/><line x1="231.70" y1="424.50" x2="231.70" y2="426.50" stroke="#383838" stroke-width="0.7"/><line x1="282.20" y1="424.50" x2="282.20" y2="426.50" stroke="#383838" stroke-width="0.7"/><line x1="332.70" y1="424.50" x2="332.70" y2="426.50" stroke="#383838" stroke-width="0.7"/><polyline points="29.7,420.9 30.6,421.1 31.6,421.2 32.5,421.4 33.5,421.5 34.4,422.0 35.4,422.0 36.3,421.3 37.3,420.6 38.2,419.7 39.2,419.0 40.1,418.1 41.1,417.4 42.0,416.6 43.0,415.9 43.9,415.2 44.9,414.3 45.8,413.4 46.8,413.2 47.7,414.0 48.7,414.8 49.6,415.1 50.6,415.4 51.5,416.1 52.5,416.6 53.4,417.2 54.4,417.7 55.3,418.0 56.3,418.4 57.2,418.7 58.2,419.3 59.1,419.8 60.1,420.4 61.0,420.8 62.0,421.0 62.9,421.4 63.9,422.0 64.8,422.4 65.8,422.5 66.7,422.5 67.7,422.6 68.6,422.3 69.6,421.6 70.5,420.5 71.5,419.4 72.4,418.5 73.4,417.5 74.3,416.5 75.3,415.5 76.2,414.4 77.2,413.1 78.1,413.5 79.1,414.1 80.0,414.8 81.0,415.3 81.9,415.9 82.9,416.6 83.8,417.1 84.8,417.6 85.7,418.1 86.7,418.7 87.6,419.1 88.6,419.4 89.5,420.1 90.5,420.8 91.4,421.5 92.4,422.1 93.3,422.1 94.3,422.2 95.2,422.0 96.2,421.8 97.1,421.6 98.1,420.7 99.0,419.7 100.0,418.5 100.9,417.4 101.9,416.4 102.8,415.3 103.8,413.8 104.7,413.1 105.7,413.9 106.6,414.8 107.6,415.5 108.5,415.9 109.5,416.3 110.4,416.8 111.4,417.3 112.3,417.6 113.3,418.0 114.2,418.3 115.2,418.5 116.1,419.0 117.1,419.8 118.0,420.2 119.0,420.3 119.9,420.8 120.9,421.3 121.8,421.6 122.8,421.9 123.7,421.7 124.7,421.1 125.6,421.0 126.6,420.8 127.5,420.2 128.5,419.2 129.4,418.3 130.4,417.5 131.3,416.8 132.3,415.9 133.2,414.9 134.2,414.0 135.1,414.1 136.1,414.8 137.0,415.5 138.0,415.9 138.9,416.1 139.9,416.5 140.8,417.0 141.8,417.3 142.7,417.7 143.7,418.4 144.6,418.8 145.6,418.9 146.5,419.2 147.5,419.7 148.4,420.1 149.4,420.8 150.3,421.0 151.3,421.3 152.2,420.9 153.2,420.6 154.1,420.3 155.1,419.8 156.0,419.4 157.0,420.0 157.9,420.2 158.9,419.3 159.8,417.9 160.8,416.6 161.7,415.4 162.7,415.7 163.6,416.1 164.6,416.6 165.5,417.1 166.5,417.4 167.4,417.7 168.4,417.8 169.3,417.9 170.3,418.2 171.2,418.3 172.2,418.3 173.1,418.8 174.1,419.2 175.0,419.3 176.0,419.7 176.9,420.0 177.9,420.5 178.8,421.0 179.8,421.6 180.7,421.4 181.7,420.8 182.6,420.5 183.6,419.9 184.5,419.3 185.5,418.9 186.4,418.4 187.4,418.0 188.3,417.5 189.3,417.0 190.2,416.5 191.2,416.0 192.1,415.5 193.1,414.9 194.0,414.7 195.0,414.3 195.9,414.7 196.9,415.2 197.8,415.9 198.8,416.3 199.7,416.8 200.7,417.2 201.6,417.5 202.6,417.9 203.5,418.4 204.5,418.8 205.4,419.1 206.4,419.5 207.3,419.9 208.3,420.4 209.2,420.8 210.2,421.0 211.1,421.3 212.1,421.5 213.0,420.9 214.0,420.2 214.9,419.3 215.9,418.6 216.8,417.8 217.8,416.8 218.7,416.1 219.7,415.4 220.6,414.7 221.6,414.0 222.5,413.2 223.5,413.1 224.4,413.5 225.4,414.0 226.3,414.7 227.3,415.2 228.2,415.6 229.2,416.1 230.1,416.5 231.1,416.9 232.0,417.3 233.0,417.6 233.9,418.0 234.9,418.3 235.8,418.7 236.8,419.2 237.7,419.9 238.7,420.2 239.6,420.6 240.6,420.9 241.5,421.0 242.5,420.2 243.4,419.4 244.4,418.6 245.3,417.7 246.3,417.2 247.2,416.5 248.2,415.4 249.1,414.5 250.1,413.6 251.0,412.9 252.0,413.0 252.9,413.9 253.9,414.5 254.8,415.0 255.8,415.4 256.7,415.8 257.7,416.4 258.6,417.0 259.6,417.2 260.5,417.5 261.5,417.9 262.4,418.3 263.4,418.6 264.3,419.2 265.3,419.6 266.2,419.8 267.2,420.3 268.1,420.6 269.1,421.1 270.0,420.8 271.0,419.6 271.9,418.6 272.9,417.8 273.8,417.0 274.8,416.2 275.7,415.2 276.7,414.3 277.6,413.4 278.6,412.7 279.5,413.5 280.5,414.5 281.4,415.9 282.4,417.5 283.3,418.9 284.3,418.8 285.2,419.0 286.2,419.0 287.1,419.2 288.1,419.4 289.0,419.6 290.0,419.7 290.9,419.7 291.9,420.1 292.8,420.0 293.8,419.8 294.7,420.0 295.7,420.2 296.6,419.3 297.6,418.2 298.5,417.3 299.5,416.4 300.4,415.6 301.4,415.1 302.3,414.7 303.3,414.4 304.2,413.8 305.2,413.3 306.1,412.9 307.1,412.6 308.0,413.2 309.0,413.8 309.9,414.2 310.9,414.6 311.8,415.0 312.8,415.5 313.7,415.8 314.7,416.0 315.6,416.5 316.6,416.6 317.5,417.2 318.5,418.1 319.4,418.5 320.4,418.7 321.3,419.2 322.3,419.6 323.2,420.1 324.2,420.4 325.1,420.4 326.1,420.0 327.0,419.7 328.0,419.3 328.9,418.8 329.9,418.4 330.8,417.8 331.8,417.4 332.7,417.2" fill="none" stroke="#1414ff" stroke-width="1.35" stroke-linejoin="round"/><text x="6.50" y="418.00" font-size="7.6" text-anchor="middle" fill="#262626" transform="rotate(-90 6.5 418.0)">8</text><rect x="15.50" y="426.50" width="332.00" height="13.00" fill="none" stroke="#4a4a4a" stroke-width="1.1"/><line x1="29.70" y1="439.50" x2="29.70" y2="441.50" stroke="#383838" stroke-width="0.7"/><line x1="80.20" y1="439.50" x2="80.20" y2="441.50" stroke="#383838" stroke-width="0.7"/><line x1="130.70" y1="439.50" x2="130.70" y2="441.50" stroke="#383838" stroke-width="0.7"/><line x1="181.20" y1="439.50" x2="181.20" y2="441.50" stroke="#383838" stroke-width="0.7"/><line x1="231.70" y1="439.50" x2="231.70" y2="441.50" stroke="#383838" stroke-width="0.7"/><line x1="282.20" y1="439.50" x2="282.20" y2="441.50" stroke="#383838" stroke-width="0.7"/><line x1="332.70" y1="439.50" x2="332.70" y2="441.50" stroke="#383838" stroke-width="0.7"/><polyline points="29.7,430.9 30.6,431.5 31.6,431.8 32.5,432.1 33.5,432.6 34.4,433.0 35.4,433.6 36.3,434.1 37.3,433.7 38.2,433.1 39.2,432.8 40.1,432.6 41.1,432.2 42.0,431.9 43.0,431.5 43.9,430.9 44.9,430.6 45.8,430.3 46.8,430.0 47.7,429.6 48.7,429.1 49.6,428.7 50.6,428.9 51.5,429.2 52.5,429.5 53.4,429.7 54.4,430.4 55.3,430.7 56.3,431.0 57.2,431.4 58.2,431.7 59.1,432.1 60.1,432.4 61.0,432.6 62.0,433.1 62.9,433.6 63.9,433.8 64.8,434.2 65.8,434.8 66.7,434.5 67.7,434.1 68.6,433.6 69.6,433.2 70.5,432.9 71.5,432.6 72.4,432.1 73.4,431.6 74.3,431.2 75.3,431.0 76.2,430.9 77.2,430.4 78.1,430.1 79.1,429.8 80.0,429.4 81.0,429.1 81.9,429.0 82.9,429.4 83.8,430.2 84.8,430.5 85.7,430.9 86.7,431.3 87.6,431.9 88.6,432.4 89.5,433.0 90.5,433.3 91.4,433.8 92.4,434.3 93.3,434.4 94.3,433.8 95.2,433.5 96.2,433.1 97.1,432.6 98.1,432.3 99.0,431.9 100.0,431.4 100.9,431.1 101.9,430.9 102.8,430.4 103.8,429.9 104.7,429.5 105.7,429.3 106.6,429.0 107.6,428.5 108.5,428.2 109.5,428.4 110.4,428.4 111.4,428.7 112.3,429.0 113.3,429.6 114.2,429.8 115.2,430.4 116.1,430.8 117.1,431.0 118.0,431.4 119.0,431.8 119.9,432.3 120.9,432.5 121.8,433.0 122.8,433.4 123.7,433.7 124.7,433.9 125.6,433.5 126.6,433.0 127.5,432.4 128.5,432.0 129.4,431.6 130.4,431.1 131.3,430.7 132.3,430.3 133.2,429.8 134.2,429.2 135.1,428.8 136.1,428.7 137.0,429.0 138.0,429.3 138.9,429.5 139.9,429.9 140.8,430.2 141.8,430.3 142.7,430.3 143.7,430.5 144.6,431.0 145.6,431.2 146.5,431.5 147.5,431.8 148.4,432.2 149.4,432.4 150.3,432.5 151.3,432.8 152.2,433.4 153.2,434.2 154.1,435.2 155.1,436.1 156.0,437.0 157.0,437.4 157.9,437.4 158.9,437.4 159.8,436.8 160.8,435.8 161.7,435.0 162.7,434.0 163.6,433.0 164.6,432.1 165.5,431.3 166.5,430.5 167.4,429.4 168.4,429.4 169.3,429.6 170.3,429.7 171.2,429.6 172.2,429.6 173.1,429.9 174.1,430.1 175.0,430.1 176.0,430.2 176.9,430.3 177.9,430.5 178.8,430.6 179.8,430.6 180.7,430.6 181.7,430.6 182.6,430.3 183.6,430.0 184.5,429.9 185.5,429.9 186.4,429.8 187.4,429.6 188.3,429.6 189.3,429.5 190.2,429.5 191.2,429.5 192.1,429.2 193.1,429.1 194.0,429.2 195.0,429.2 195.9,428.9 196.9,428.7 197.8,428.8 198.8,429.1 199.7,429.5 200.7,429.6 201.6,429.9 202.6,430.2 203.5,430.5 204.5,430.7 205.4,431.1 206.4,431.5 207.3,431.8 208.3,432.0 209.2,432.2 210.2,432.5 211.1,432.9 212.1,433.4 213.0,433.8 214.0,434.1 214.9,433.7 215.9,433.1 216.8,432.5 217.8,432.0 218.7,431.7 219.7,431.2 220.6,430.8 221.6,430.4 222.5,429.8 223.5,429.3 224.4,428.9 225.4,428.5 226.3,428.8 227.3,429.1 228.2,429.3 229.2,429.6 230.1,430.0 231.1,430.2 232.0,430.3 233.0,430.4 233.9,430.7 234.9,431.1 235.8,431.5 236.8,431.9 237.7,431.9 238.7,432.1 239.6,432.3 240.6,432.6 241.5,432.7 242.5,433.0 243.4,433.4 244.4,433.0 245.3,432.5 246.3,431.9 247.2,431.4 248.2,430.8 249.1,430.1 250.1,429.6 251.0,429.3 252.0,428.8 252.9,428.4 253.9,428.7 254.8,429.0 255.8,429.4 256.7,429.8 257.7,430.0 258.6,430.4 259.6,430.4 260.5,430.6 261.5,431.1 262.4,431.4 263.4,431.7 264.3,432.0 265.3,432.2 266.2,432.3 267.2,432.3 268.1,432.5 269.1,433.0 270.0,433.3 271.0,433.3 271.9,432.7 272.9,432.5 273.8,432.1 274.8,431.5 275.7,431.0 276.7,430.6 277.6,430.1 278.6,429.6 279.5,429.0 280.5,428.6 281.4,428.1 282.4,428.2 283.3,429.2 284.3,430.0 285.2,430.2 286.2,430.3 287.1,430.6 288.1,430.8 289.0,430.8 290.0,431.1 290.9,431.4 291.9,431.5 292.8,431.5 293.8,431.6 294.7,431.9 295.7,432.1 296.6,432.5 297.6,432.5 298.5,432.1 299.5,431.9 300.4,431.4 301.4,430.9 302.3,430.7 303.3,430.4 304.2,430.0 305.2,429.6 306.1,429.4 307.1,429.1 308.0,428.8 309.0,428.4 309.9,428.5 310.9,428.7 311.8,428.9 312.8,429.0 313.7,429.1 314.7,429.3 315.6,429.5 316.6,429.6 317.5,429.7 318.5,429.9 319.4,430.1 320.4,430.2 321.3,430.4 322.3,430.6 323.2,430.7 324.2,430.7 325.1,430.8 326.1,431.1 327.0,431.3 328.0,431.6 328.9,432.1 329.9,432.6 330.8,433.1 331.8,433.4 332.7,433.6" fill="none" stroke="#1414ff" stroke-width="1.35" stroke-linejoin="round"/><text x="6.50" y="433.00" font-size="7.6" text-anchor="middle" fill="#262626" transform="rotate(-90 6.5 433.0)">9</text><rect x="15.50" y="441.50" width="332.00" height="13.00" fill="none" stroke="#4a4a4a" stroke-width="1.1"/><line x1="29.70" y1="454.50" x2="29.70" y2="456.50" stroke="#383838" stroke-width="0.7"/><line x1="80.20" y1="454.50" x2="80.20" y2="456.50" stroke="#383838" stroke-width="0.7"/><line x1="130.70" y1="454.50" x2="130.70" y2="456.50" stroke="#383838" stroke-width="0.7"/><line x1="181.20" y1="454.50" x2="181.20" y2="456.50" stroke="#383838" stroke-width="0.7"/><line x1="231.70" y1="454.50" x2="231.70" y2="456.50" stroke="#383838" stroke-width="0.7"/><line x1="282.20" y1="454.50" x2="282.20" y2="456.50" stroke="#383838" stroke-width="0.7"/><line x1="332.70" y1="454.50" x2="332.70" y2="456.50" stroke="#383838" stroke-width="0.7"/><polyline points="29.7,444.2 30.6,444.5 31.6,444.8 32.5,444.9 33.5,444.9 34.4,445.0 35.4,444.9 36.3,445.0 37.3,445.4 38.2,445.9 39.2,446.2 40.1,446.5 41.1,447.0 42.0,447.3 43.0,447.9 43.9,448.4 44.9,448.4 45.8,447.1 46.8,444.9 47.7,443.4 48.7,443.4 49.6,443.3 50.6,443.5 51.5,443.3 52.5,443.5 53.4,443.8 54.4,444.0 55.3,444.2 56.3,444.8 57.2,444.8 58.2,444.9 59.1,445.0 60.1,445.0 61.0,445.3 62.0,445.7 62.9,446.0 63.9,446.1 64.8,446.3 65.8,446.5 66.7,446.6 67.7,446.6 68.6,447.0 69.6,447.2 70.5,447.2 71.5,447.0 72.4,447.4 73.4,448.0 74.3,448.3 75.3,448.1 76.2,448.1 77.2,448.4 78.1,448.4 79.1,446.0 80.0,443.8 81.0,443.3 81.9,443.6 82.9,444.0 83.8,444.3 84.8,444.4 85.7,444.5 86.7,444.7 87.6,444.9 88.6,445.0 89.5,445.5 90.5,445.6 91.4,445.8 92.4,445.8 93.3,446.1 94.3,446.3 95.2,446.4 96.2,446.5 97.1,446.8 98.1,447.4 99.0,447.6 100.0,447.6 100.9,447.7 101.9,447.8 102.8,447.7 103.8,448.0 104.7,447.0 105.7,445.2 106.6,443.3 107.6,443.4 108.5,443.7 109.5,443.7 110.4,443.6 111.4,444.0 112.3,444.2 113.3,444.2 114.2,444.4 115.2,445.1 116.1,445.3 117.1,445.4 118.0,445.8 119.0,446.0 119.9,446.0 120.9,446.2 121.8,446.5 122.8,446.8 123.7,446.8 124.7,446.9 125.6,447.0 126.6,446.9 127.5,447.4 128.5,447.7 129.4,447.9 130.4,448.1 131.3,448.4 132.3,448.6 133.2,448.8 134.2,447.7 135.1,446.3 136.1,444.8 137.0,443.7 138.0,443.6 138.9,444.0 139.9,444.2 140.8,444.2 141.8,444.5 142.7,444.9 143.7,444.9 144.6,444.8 145.6,444.7 146.5,445.3 147.5,445.7 148.4,446.0 149.4,446.3 150.3,446.3 151.3,446.3 152.2,446.7 153.2,447.3 154.1,448.0 155.1,448.9 156.0,450.6 157.0,452.1 157.9,452.6 158.9,452.7 159.8,452.6 160.8,452.8 161.7,452.9 162.7,451.0 163.6,449.2 164.6,447.5 165.5,445.6 166.5,444.3 167.4,444.4 168.4,444.7 169.3,444.9 170.3,445.0 171.2,444.8 172.2,444.8 173.1,445.0 174.1,445.1 175.0,445.2 176.0,445.5 176.9,445.5 177.9,445.3 178.8,445.1 179.8,445.4 180.7,446.1 181.7,446.2 182.6,446.3 183.6,446.4 184.5,446.5 185.5,446.4 186.4,446.4 187.4,446.7 188.3,447.2 189.3,447.5 190.2,447.0 191.2,446.3 192.1,445.7 193.1,445.4 194.0,444.8 195.0,444.3 195.9,443.8 196.9,443.7 197.8,443.8 198.8,443.9 199.7,444.0 200.7,444.3 201.6,444.4 202.6,444.6 203.5,444.5 204.5,444.8 205.4,444.9 206.4,444.9 207.3,444.9 208.3,444.9 209.2,445.1 210.2,445.5 211.1,445.6 212.1,445.8 213.0,445.9 214.0,445.8 214.9,446.0 215.9,446.3 216.8,446.8 217.8,447.0 218.7,447.2 219.7,447.5 220.6,447.8 221.6,448.2 222.5,447.3 223.5,446.1 224.4,444.8 225.4,443.1 226.3,443.4 227.3,443.6 228.2,443.7 229.2,443.6 230.1,443.8 231.1,443.9 232.0,444.2 233.0,444.5 233.9,444.4 234.9,444.2 235.8,444.4 236.8,444.7 237.7,445.1 238.7,445.1 239.6,445.2 240.6,445.6 241.5,445.8 242.5,445.9 243.4,446.0 244.4,446.3 245.3,446.2 246.3,446.1 247.2,446.4 248.2,446.8 249.1,447.3 250.1,447.7 251.0,447.8 252.0,446.7 252.9,445.0 253.9,443.3 254.8,443.3 255.8,443.5 256.7,443.6 257.7,444.0 258.6,444.3 259.6,444.3 260.5,444.6 261.5,444.7 262.4,444.8 263.4,444.8 264.3,444.9 265.3,445.1 266.2,445.5 267.2,445.7 268.1,445.8 269.1,445.8 270.0,446.0 271.0,446.3 271.9,446.6 272.9,446.8 273.8,446.9 274.8,447.2 275.7,447.6 276.7,447.7 277.6,448.0 278.6,448.1 279.5,448.2 280.5,446.5 281.4,444.9 282.4,443.1 283.3,443.3 284.3,443.4 285.2,443.4 286.2,443.8 287.1,444.4 288.1,444.7 289.0,444.9 290.0,444.9 290.9,444.7 291.9,445.2 292.8,445.5 293.8,445.7 294.7,445.9 295.7,446.0 296.6,446.3 297.6,446.8 298.5,446.9 299.5,446.9 300.4,447.0 301.4,447.4 302.3,447.5 303.3,447.5 304.2,447.4 305.2,447.6 306.1,447.6 307.1,447.1 308.0,445.7 309.0,444.0 309.9,443.1 310.9,443.3 311.8,443.8 312.8,444.2 313.7,444.2 314.7,444.2 315.6,444.1 316.6,444.4 317.5,444.7 318.5,445.0 319.4,445.0 320.4,444.9 321.3,445.2 322.3,445.4 323.2,445.8 324.2,446.0 325.1,446.1 326.1,446.3 327.0,446.6 328.0,446.7 328.9,446.8 329.9,447.1 330.8,447.7 331.8,448.1 332.7,448.2" fill="none" stroke="#1414ff" stroke-width="1.35" stroke-linejoin="round"/><text x="6.50" y="448.00" font-size="7.6" text-anchor="middle" fill="#262626" transform="rotate(-90 6.5 448.0)">10</text><rect x="15.50" y="457.50" width="332.00" height="13.00" fill="none" stroke="#4a4a4a" stroke-width="1.1"/><line x1="29.70" y1="470.50" x2="29.70" y2="472.50" stroke="#383838" stroke-width="0.7"/><line x1="80.20" y1="470.50" x2="80.20" y2="472.50" stroke="#383838" stroke-width="0.7"/><line x1="130.70" y1="470.50" x2="130.70" y2="472.50" stroke="#383838" stroke-width="0.7"/><line x1="181.20" y1="470.50" x2="181.20" y2="472.50" stroke="#383838" stroke-width="0.7"/><line x1="231.70" y1="470.50" x2="231.70" y2="472.50" stroke="#383838" stroke-width="0.7"/><line x1="282.20" y1="470.50" x2="282.20" y2="472.50" stroke="#383838" stroke-width="0.7"/><line x1="332.70" y1="470.50" x2="332.70" y2="472.50" stroke="#383838" stroke-width="0.7"/><polyline points="29.7,466.3 30.6,466.6 31.6,466.6 32.5,466.9 33.5,466.9 34.4,467.0 35.4,467.2 36.3,467.6 37.3,467.1 38.2,466.6 39.2,465.9 40.1,465.3 41.1,465.0 42.0,464.7 43.0,464.1 43.9,463.4 44.9,462.8 45.8,462.0 46.8,461.6 47.7,461.5 48.7,461.6 49.6,461.7 50.6,462.1 51.5,462.3 52.5,462.5 53.4,462.7 54.4,463.2 55.3,463.8 56.3,464.3 57.2,464.7 58.2,465.0 59.1,465.4 60.1,465.9 61.0,466.3 62.0,466.4 62.9,466.9 63.9,467.4 64.8,467.9 65.8,468.3 66.7,467.7 67.7,467.4 68.6,466.8 69.6,466.4 70.5,466.0 71.5,465.5 72.4,464.9 73.4,464.4 74.3,463.9 75.3,463.3 76.2,462.5 77.2,462.1 78.1,461.8 79.1,461.5 80.0,462.1 81.0,462.7 81.9,462.8 82.9,463.1 83.8,463.7 84.8,464.3 85.7,464.6 86.7,464.9 87.6,465.5 88.6,466.0 89.5,466.3 90.5,466.9 91.4,467.5 92.4,467.8 93.3,467.8 94.3,467.4 95.2,467.1 96.2,466.5 97.1,465.8 98.1,465.4 99.0,464.8 100.0,464.6 100.9,464.1 101.9,463.3 102.8,462.7 103.8,462.1 104.7,461.5 105.7,461.6 106.6,461.9 107.6,462.3 108.5,462.6 109.5,463.0 110.4,463.2 111.4,463.3 112.3,463.6 113.3,463.9 114.2,464.1 115.2,464.5 116.1,465.0 117.1,465.3 118.0,465.6 119.0,465.6 119.9,465.8 120.9,466.1 121.8,466.4 122.8,466.3 123.7,465.9 124.7,465.6 125.6,465.5 126.6,465.0 127.5,464.4 128.5,464.0 129.4,463.9 130.4,463.5 131.3,463.0 132.3,462.7 133.2,462.1 134.2,461.8 135.1,461.6 136.1,461.1 137.0,461.5 138.0,462.0 138.9,462.1 139.9,462.2 140.8,462.3 141.8,462.5 142.7,462.8 143.7,463.3 144.6,463.6 145.6,463.9 146.5,464.2 147.5,464.4 148.4,464.4 149.4,464.8 150.3,465.1 151.3,465.3 152.2,465.0 153.2,464.7 154.1,464.7 155.1,464.4 156.0,462.1 157.0,459.5 157.9,460.0 158.9,461.2 159.8,462.4 160.8,463.4 161.7,463.3 162.7,463.4 163.6,463.3 164.6,463.3 165.5,463.6 166.5,463.7 167.4,463.6 168.4,463.7 169.3,463.7 170.3,463.6 171.2,463.7 172.2,464.1 173.1,464.6 174.1,464.9 175.0,465.1 176.0,465.7 176.9,466.1 177.9,466.5 178.8,466.7 179.8,466.8 180.7,466.7 181.7,466.2 182.6,465.8 183.6,465.5 184.5,465.3 185.5,465.0 186.4,464.4 187.4,464.1 188.3,463.7 189.3,463.3 190.2,463.0 191.2,462.6 192.1,462.4 193.1,462.0 194.0,461.6 195.0,461.5 195.9,461.1 196.9,461.8 197.8,462.9 198.8,463.5 199.7,463.6 200.7,463.6 201.6,464.0 202.6,464.6 203.5,464.8 204.5,464.9 205.4,465.3 206.4,465.6 207.3,465.9 208.3,466.1 209.2,466.5 210.2,466.6 211.1,467.0 212.1,467.0 213.0,466.3 214.0,466.0 214.9,465.7 215.9,465.4 216.8,464.7 217.8,464.4 218.7,464.2 219.7,463.7 220.6,463.1 221.6,462.7 222.5,462.4 223.5,462.0 224.4,461.7 225.4,461.5 226.3,461.6 227.3,461.7 228.2,462.5 229.2,463.1 230.1,463.5 231.1,463.7 232.0,463.8 233.0,464.4 233.9,464.8 234.9,465.2 235.8,465.4 236.8,465.7 237.7,466.2 238.7,466.8 239.6,466.5 240.6,465.9 241.5,465.4 242.5,465.2 243.4,464.9 244.4,464.6 245.3,464.3 246.3,463.9 247.2,463.4 248.2,463.0 249.1,462.7 250.1,462.4 251.0,462.0 252.0,461.5 252.9,461.4 253.9,462.0 254.8,462.4 255.8,462.6 256.7,463.0 257.7,463.3 258.6,463.5 259.6,464.2 260.5,464.7 261.5,464.9 262.4,465.3 263.4,465.9 264.3,466.1 265.3,466.4 266.2,466.8 267.2,466.5 268.1,466.0 269.1,465.4 270.0,464.9 271.0,464.5 271.9,463.9 272.9,463.3 273.8,462.9 274.8,462.6 275.7,462.3 276.7,462.1 277.6,461.6 278.6,461.6 279.5,461.9 280.5,462.3 281.4,462.7 282.4,463.0 283.3,463.2 284.3,463.5 285.2,463.9 286.2,464.4 287.1,464.3 288.1,464.5 289.0,465.0 290.0,465.4 290.9,465.7 291.9,466.0 292.8,466.1 293.8,465.9 294.7,465.7 295.7,465.5 296.6,465.3 297.6,464.8 298.5,464.1 299.5,463.9 300.4,463.4 301.4,462.9 302.3,462.8 303.3,462.5 304.2,462.0 305.2,461.6 306.1,461.3 307.1,461.1 308.0,461.0 309.0,461.2 309.9,461.3 310.9,461.3 311.8,462.0 312.8,463.0 313.7,463.8 314.7,464.1 315.6,464.6 316.6,465.0 317.5,465.1 318.5,465.2 319.4,465.4 320.4,465.4 321.3,465.8 322.3,466.2 323.2,466.5 324.2,466.7 325.1,466.6 326.1,465.9 327.0,465.4 328.0,464.8 328.9,464.0 329.9,463.4 330.8,463.1 331.8,462.8 332.7,462.6" fill="none" stroke="#1414ff" stroke-width="1.35" stroke-linejoin="round"/><text x="6.50" y="464.00" font-size="7.6" text-anchor="middle" fill="#262626" transform="rotate(-90 6.5 464.0)">11</text><rect x="15.50" y="472.50" width="332.00" height="13.00" fill="none" stroke="#4a4a4a" stroke-width="1.1"/><line x1="29.70" y1="485.50" x2="29.70" y2="487.50" stroke="#383838" stroke-width="0.7"/><line x1="80.20" y1="485.50" x2="80.20" y2="487.50" stroke="#383838" stroke-width="0.7"/><line x1="130.70" y1="485.50" x2="130.70" y2="487.50" stroke="#383838" stroke-width="0.7"/><line x1="181.20" y1="485.50" x2="181.20" y2="487.50" stroke="#383838" stroke-width="0.7"/><line x1="231.70" y1="485.50" x2="231.70" y2="487.50" stroke="#383838" stroke-width="0.7"/><line x1="282.20" y1="485.50" x2="282.20" y2="487.50" stroke="#383838" stroke-width="0.7"/><line x1="332.70" y1="485.50" x2="332.70" y2="487.50" stroke="#383838" stroke-width="0.7"/><polyline points="29.7,476.0 30.6,476.0 31.6,475.9 32.5,475.9 33.5,476.0 34.4,476.2 35.4,476.2 36.3,476.2 37.3,476.1 38.2,475.9 39.2,475.7 40.1,475.5 41.1,475.4 42.0,475.1 43.0,474.9 43.9,474.8 44.9,474.7 45.8,474.5 46.8,474.3 47.7,474.3 48.7,474.3 49.6,474.3 50.6,474.5 51.5,474.6 52.5,474.9 53.4,475.1 54.4,475.4 55.3,475.6 56.3,475.7 57.2,475.8 58.2,475.8 59.1,475.9 60.1,476.1 61.0,476.4 62.0,476.6 62.9,476.7 63.9,476.8 64.8,477.1 65.8,477.2 66.7,476.9 67.7,476.7 68.6,476.5 69.6,476.4 70.5,476.2 71.5,475.9 72.4,475.8 73.4,475.5 74.3,475.3 75.3,475.1 76.2,474.8 77.2,474.6 78.1,474.3 79.1,474.1 80.0,474.3 81.0,474.7 81.9,474.9 82.9,475.0 83.8,475.1 84.8,475.3 85.7,475.6 86.7,475.8 87.6,475.9 88.6,476.0 89.5,476.1 90.5,476.4 91.4,476.6 92.4,476.7 93.3,476.9 94.3,477.2 95.2,477.3 96.2,477.1 97.1,476.8 98.1,476.5 99.0,476.3 100.0,476.0 100.9,475.7 101.9,475.3 102.8,475.0 103.8,474.9 104.7,474.6 105.7,474.3 106.6,474.2 107.6,474.3 108.5,474.3 109.5,474.5 110.4,474.7 111.4,474.9 112.3,475.1 113.3,475.2 114.2,475.3 115.2,475.4 116.1,475.5 117.1,475.6 118.0,475.8 119.0,476.0 119.9,476.2 120.9,476.2 121.8,476.3 122.8,476.4 123.7,476.6 124.7,476.6 125.6,476.1 126.6,475.7 127.5,475.4 128.5,475.1 129.4,474.8 130.4,474.3 131.3,474.0 132.3,474.3 133.2,474.5 134.2,474.6 135.1,474.6 136.1,474.7 137.0,474.6 138.0,474.7 138.9,475.0 139.9,475.1 140.8,475.1 141.8,475.2 142.7,475.4 143.7,475.4 144.6,475.5 145.6,475.6 146.5,475.7 147.5,475.7 148.4,475.8 149.4,476.0 150.3,476.0 151.3,476.1 152.2,476.6 153.2,477.1 154.1,477.5 155.1,477.9 156.0,478.3 157.0,478.4 157.9,478.7 158.9,479.0 159.8,479.2 160.8,479.4 161.7,479.5 162.7,479.7 163.6,479.8 164.6,480.0 165.5,480.2 166.5,480.3 167.4,480.5 168.4,480.7 169.3,480.9 170.3,481.1 171.2,481.3 172.2,481.5 173.1,481.8 174.1,482.0 175.0,482.3 176.0,482.5 176.9,482.8 177.9,483.1 178.8,483.4 179.8,483.5 180.7,483.5 181.7,483.3 182.6,483.2 183.6,483.1 184.5,482.9 185.5,482.7 186.4,482.5 187.4,482.2 188.3,482.1 189.3,482.1 190.2,481.9 191.2,481.7 192.1,481.5 193.1,481.3 194.0,481.1 195.0,480.9 195.9,480.7 196.9,480.8 197.8,480.9 198.8,481.1 199.7,481.3 200.7,481.4 201.6,481.5 202.6,481.6 203.5,481.8 204.5,481.9 205.4,482.0 206.4,482.0 207.3,482.2 208.3,482.3 209.2,482.4 210.2,482.6 211.1,482.6 212.1,482.7 213.0,482.5 214.0,482.4 214.9,482.3 215.9,482.1 216.8,481.8 217.8,481.7 218.7,481.5 219.7,481.2 220.6,481.2 221.6,481.1 222.5,480.8 223.5,480.7 224.4,480.5 225.4,480.3 226.3,480.3 227.3,480.5 228.2,480.8 229.2,480.9 230.1,481.1 231.1,481.2 232.0,481.3 233.0,481.6 233.9,481.8 234.9,482.0 235.8,482.2 236.8,482.4 237.7,482.6 238.7,482.9 239.6,482.7 240.6,482.5 241.5,482.2 242.5,481.9 243.4,481.7 244.4,481.6 245.3,481.3 246.3,481.2 247.2,481.0 248.2,480.7 249.1,480.5 250.1,480.4 251.0,480.5 252.0,480.6 252.9,480.7 253.9,480.8 254.8,481.0 255.8,481.1 256.7,481.3 257.7,481.5 258.6,481.5 259.6,481.6 260.5,481.8 261.5,481.9 262.4,482.3 263.4,482.4 264.3,482.4 265.3,482.7 266.2,482.9 267.2,482.6 268.1,482.2 269.1,481.9 270.0,481.7 271.0,481.8 271.9,481.5 272.9,481.2 273.8,481.1 274.8,480.8 275.7,480.6 276.7,480.4 277.6,480.4 278.6,480.7 279.5,480.9 280.5,481.2 281.4,481.6 282.4,481.8 283.3,482.0 284.3,482.4 285.2,482.6 286.2,482.7 287.1,483.1 288.1,483.3 289.0,483.4 290.0,483.1 290.9,482.9 291.9,482.9 292.8,482.8 293.8,482.6 294.7,482.4 295.7,482.2 296.6,482.0 297.6,481.8 298.5,481.8 299.5,481.6 300.4,481.4 301.4,481.2 302.3,481.0 303.3,480.8 304.2,480.6 305.2,480.5 306.1,480.5 307.1,480.3 308.0,480.4 309.0,480.6 309.9,480.8 310.9,480.9 311.8,481.1 312.8,481.3 313.7,481.3 314.7,481.5 315.6,481.7 316.6,481.7 317.5,481.8 318.5,481.9 319.4,481.9 320.4,482.1 321.3,482.3 322.3,482.3 323.2,482.5 324.2,482.7 325.1,482.7 326.1,482.5 327.0,482.3 328.0,482.1 328.9,481.9 329.9,481.8 330.8,481.6 331.8,481.5 332.7,481.6" fill="none" stroke="#1414ff" stroke-width="1.35" stroke-linejoin="round"/><text x="6.50" y="479.00" font-size="7.6" text-anchor="middle" fill="#262626" transform="rotate(-90 6.5 479.0)">12</text><rect x="15.50" y="488.50" width="332.00" height="13.00" fill="none" stroke="#4a4a4a" stroke-width="1.1"/><line x1="29.70" y1="501.50" x2="29.70" y2="503.50" stroke="#383838" stroke-width="0.7"/><line x1="80.20" y1="501.50" x2="80.20" y2="503.50" stroke="#383838" stroke-width="0.7"/><line x1="130.70" y1="501.50" x2="130.70" y2="503.50" stroke="#383838" stroke-width="0.7"/><line x1="181.20" y1="501.50" x2="181.20" y2="503.50" stroke="#383838" stroke-width="0.7"/><line x1="231.70" y1="501.50" x2="231.70" y2="503.50" stroke="#383838" stroke-width="0.7"/><line x1="282.20" y1="501.50" x2="282.20" y2="503.50" stroke="#383838" stroke-width="0.7"/><line x1="332.70" y1="501.50" x2="332.70" y2="503.50" stroke="#383838" stroke-width="0.7"/><polyline points="29.7,492.9 30.6,493.1 31.6,493.3 32.5,493.1 33.5,493.0 34.4,493.1 35.4,493.1 36.3,493.4 37.3,493.4 38.2,493.1 39.2,492.6 40.1,492.4 41.1,492.4 42.0,492.2 43.0,491.8 43.9,491.6 44.9,491.5 45.8,491.3 46.8,491.0 47.7,490.8 48.7,490.4 49.6,490.3 50.6,490.2 51.5,489.8 52.5,489.8 53.4,490.4 54.4,490.9 55.3,491.5 56.3,491.6 57.2,492.1 58.2,492.8 59.1,492.9 60.1,492.6 61.0,492.4 62.0,492.6 62.9,492.7 63.9,492.5 64.8,492.3 65.8,492.2 66.7,492.2 67.7,492.2 68.6,492.0 69.6,491.9 70.5,491.6 71.5,491.3 72.4,491.0 73.4,491.2 74.3,491.4 75.3,491.3 76.2,491.3 77.2,490.8 78.1,490.6 79.1,490.4 80.0,490.3 81.0,490.2 81.9,490.1 82.9,490.4 83.8,491.0 84.8,491.0 85.7,491.1 86.7,491.1 87.6,491.4 88.6,491.7 89.5,491.8 90.5,491.9 91.4,492.1 92.4,492.4 93.3,492.5 94.3,492.4 95.2,491.8 96.2,491.5 97.1,491.7 98.1,491.7 99.0,491.7 100.0,491.6 100.9,491.4 101.9,491.5 102.8,491.1 103.8,490.7 104.7,490.9 105.7,490.8 106.6,490.5 107.6,490.2 108.5,490.2 109.5,490.4 110.4,490.6 111.4,491.0 112.3,491.3 113.3,491.5 114.2,491.6 115.2,491.6 116.1,491.9 117.1,492.0 118.0,492.1 119.0,492.1 119.9,492.0 120.9,492.1 121.8,492.6 122.8,492.6 123.7,492.5 124.7,492.4 125.6,491.9 126.6,491.8 127.5,491.9 128.5,491.9 129.4,491.6 130.4,491.4 131.3,491.1 132.3,491.1 133.2,491.0 134.2,491.1 135.1,491.0 136.1,490.8 137.0,491.0 138.0,491.1 138.9,491.4 139.9,491.6 140.8,491.6 141.8,491.7 142.7,491.8 143.7,491.7 144.6,491.9 145.6,492.1 146.5,492.4 147.5,492.7 148.4,492.7 149.4,492.4 150.3,492.4 151.3,492.4 152.2,492.4 153.2,492.4 154.1,492.7 155.1,492.6 156.0,492.3 157.0,492.4 157.9,492.6 158.9,492.6 159.8,492.4 160.8,492.2 161.7,492.1 162.7,492.1 163.6,492.0 164.6,491.7 165.5,492.2 166.5,493.5 167.4,494.5 168.4,495.7 169.3,496.3 170.3,496.8 171.2,497.2 172.2,497.5 173.1,497.9 174.1,498.1 175.0,498.2 176.0,498.4 176.9,498.7 177.9,498.8 178.8,498.9 179.8,499.2 180.7,499.0 181.7,498.9 182.6,498.7 183.6,498.5 184.5,498.4 185.5,498.3 186.4,498.0 187.4,497.9 188.3,497.5 189.3,497.2 190.2,497.1 191.2,496.8 192.1,496.8 193.1,496.7 194.0,496.6 195.0,496.6 195.9,496.4 196.9,495.9 197.8,496.1 198.8,496.2 199.7,496.2 200.7,495.9 201.6,495.7 202.6,495.8 203.5,496.1 204.5,496.2 205.4,496.6 206.4,497.1 207.3,497.4 208.3,498.1 209.2,498.8 210.2,498.7 211.1,498.6 212.1,498.5 213.0,498.5 214.0,498.5 214.9,498.5 215.9,498.2 216.8,498.2 217.8,498.0 218.7,497.8 219.7,497.8 220.6,497.5 221.6,497.5 222.5,497.7 223.5,497.4 224.4,497.0 225.4,496.9 226.3,496.7 227.3,496.5 228.2,496.3 229.2,496.3 230.1,496.1 231.1,496.2 232.0,496.2 233.0,496.3 233.9,496.2 234.9,495.6 235.8,495.4 236.8,495.4 237.7,495.5 238.7,495.7 239.6,495.5 240.6,495.3 241.5,495.2 242.5,495.2 243.4,495.2 244.4,495.1 245.3,494.9 246.3,495.1 247.2,495.2 248.2,495.0 249.1,494.8 250.1,495.0 251.0,495.0 252.0,494.8 252.9,494.5 253.9,494.4 254.8,494.5 255.8,494.3 256.7,494.3 257.7,494.6 258.6,493.3 259.6,491.4 260.5,491.6 261.5,491.7 262.4,491.6 263.4,492.0 264.3,492.2 265.3,492.4 266.2,492.7 267.2,492.4 268.1,492.3 269.1,491.9 270.0,491.5 271.0,491.3 271.9,491.1 272.9,490.8 273.8,490.7 274.8,490.6 275.7,490.2 276.7,489.8 277.6,489.7 278.6,489.8 279.5,489.7 280.5,491.0 281.4,492.1 282.4,493.4 283.3,494.5 284.3,495.8 285.2,497.3 286.2,498.8 287.1,499.3 288.1,499.1 289.0,498.8 290.0,498.9 290.9,499.0 291.9,499.0 292.8,499.2 293.8,499.4 294.7,499.2 295.7,499.4 296.6,499.4 297.6,499.3 298.5,499.3 299.5,499.1 300.4,498.7 301.4,498.5 302.3,498.1 303.3,497.9 304.2,497.5 305.2,497.0 306.1,496.8 307.1,496.6 308.0,496.5 309.0,496.4 309.9,496.5 310.9,496.6 311.8,496.8 312.8,496.6 313.7,496.7 314.7,496.7 315.6,496.7 316.6,497.1 317.5,497.4 318.5,497.9 319.4,498.1 320.4,498.4 321.3,498.7 322.3,499.2 323.2,499.5 324.2,499.6 325.1,499.8 326.1,499.7 327.0,499.3 328.0,499.2 328.9,498.7 329.9,498.2 330.8,497.8 331.8,497.6 332.7,497.4" fill="none" stroke="#1414ff" stroke-width="1.35" stroke-linejoin="round"/><text x="6.50" y="495.00" font-size="7.6" text-anchor="middle" fill="#262626" transform="rotate(-90 6.5 495.0)">13</text><rect x="15.50" y="503.50" width="332.00" height="13.00" fill="none" stroke="#4a4a4a" stroke-width="1.1"/><line x1="29.70" y1="516.50" x2="29.70" y2="518.50" stroke="#383838" stroke-width="0.7"/><line x1="80.20" y1="516.50" x2="80.20" y2="518.50" stroke="#383838" stroke-width="0.7"/><line x1="130.70" y1="516.50" x2="130.70" y2="518.50" stroke="#383838" stroke-width="0.7"/><line x1="181.20" y1="516.50" x2="181.20" y2="518.50" stroke="#383838" stroke-width="0.7"/><line x1="231.70" y1="516.50" x2="231.70" y2="518.50" stroke="#383838" stroke-width="0.7"/><line x1="282.20" y1="516.50" x2="282.20" y2="518.50" stroke="#383838" stroke-width="0.7"/><line x1="332.70" y1="516.50" x2="332.70" y2="518.50" stroke="#383838" stroke-width="0.7"/><polyline points="29.7,515.2 30.6,515.1 31.6,515.0 32.5,514.9 33.5,514.8 34.4,514.7 35.4,514.6 36.3,514.6 37.3,514.6 38.2,514.5 39.2,514.3 40.1,514.3 41.1,514.3 42.0,514.1 43.0,514.0 43.9,513.9 44.9,513.8 45.8,513.9 46.8,513.9 47.7,513.7 48.7,513.6 49.6,513.7 50.6,513.7 51.5,513.7 52.5,513.7 53.4,513.6 54.4,513.6 55.3,513.6 56.3,513.6 57.2,513.5 58.2,513.5 59.1,513.5 60.1,513.5 61.0,513.4 62.0,513.4 62.9,513.4 63.9,513.4 64.8,513.4 65.8,513.4 66.7,513.4 67.7,513.4 68.6,513.4 69.6,513.4 70.5,513.3 71.5,513.3 72.4,513.3 73.4,513.3 74.3,513.3 75.3,513.3 76.2,513.3 77.2,513.3 78.1,513.3 79.1,513.3 80.0,513.2 81.0,513.3 81.9,513.3 82.9,513.3 83.8,513.2 84.8,513.2 85.7,513.2 86.7,513.2 87.6,513.1 88.6,513.1 89.5,513.1 90.5,513.1 91.4,513.1 92.4,513.1 93.3,513.0 94.3,513.0 95.2,513.0 96.2,513.0 97.1,513.0 98.1,512.8 99.0,512.8 100.0,512.9 100.9,512.8 101.9,512.8 102.8,512.7 103.8,512.7 104.7,512.7 105.7,512.7 106.6,512.6 107.6,512.6 108.5,512.6 109.5,512.6 110.4,512.5 111.4,512.5 112.3,512.4 113.3,512.4 114.2,512.4 115.2,512.4 116.1,512.3 117.1,512.3 118.0,512.3 119.0,512.3 119.9,512.2 120.9,512.2 121.8,512.2 122.8,512.1 123.7,512.1 124.7,512.0 125.6,512.0 126.6,512.0 127.5,512.0 128.5,511.9 129.4,511.9 130.4,511.9 131.3,511.9 132.3,511.9 133.2,511.9 134.2,511.8 135.1,511.7 136.1,511.7 137.0,511.7 138.0,511.7 138.9,511.7 139.9,511.6 140.8,511.6 141.8,511.6 142.7,511.5 143.7,511.4 144.6,511.3 145.6,511.3 146.5,511.3 147.5,511.3 148.4,511.2 149.4,511.2 150.3,511.1 151.3,511.0 152.2,511.0 153.2,511.0 154.1,510.9 155.1,510.9 156.0,510.8 157.0,510.7 157.9,510.7 158.9,510.7 159.8,510.6 160.8,510.5 161.7,510.5 162.7,510.6 163.6,510.6 164.6,510.5 165.5,510.6 166.5,510.6 167.4,510.6 168.4,510.6 169.3,510.6 170.3,510.6 171.2,510.6 172.2,510.5 173.1,510.6 174.1,510.6 175.0,510.6 176.0,510.5 176.9,510.6 177.9,510.6 178.8,510.6 179.8,510.5 180.7,510.5 181.7,510.5 182.6,510.5 183.6,510.4 184.5,510.4 185.5,510.3 186.4,510.3 187.4,510.3 188.3,510.2 189.3,510.2 190.2,510.1 191.2,510.0 192.1,510.0 193.1,509.9 194.0,509.9 195.0,509.9 195.9,509.9 196.9,509.9 197.8,509.8 198.8,509.7 199.7,509.7 200.7,509.6 201.6,509.6 202.6,509.6 203.5,509.5 204.5,509.4 205.4,509.4 206.4,509.4 207.3,509.3 208.3,509.3 209.2,509.3 210.2,509.2 211.1,509.1 212.1,509.1 213.0,509.1 214.0,509.1 214.9,509.0 215.9,508.9 216.8,508.9 217.8,508.8 218.7,508.7 219.7,508.7 220.6,508.6 221.6,508.6 222.5,508.5 223.5,508.5 224.4,508.5 225.4,508.5 226.3,508.4 227.3,508.4 228.2,508.3 229.2,508.2 230.1,508.2 231.1,508.2 232.0,508.2 233.0,508.1 233.9,508.0 234.9,507.9 235.8,507.9 236.8,507.9 237.7,507.8 238.7,507.8 239.6,507.7 240.6,507.6 241.5,507.6 242.5,507.6 243.4,507.5 244.4,507.5 245.3,507.4 246.3,507.3 247.2,507.2 248.2,507.2 249.1,507.1 250.1,507.1 251.0,507.1 252.0,507.1 252.9,507.0 253.9,506.8 254.8,506.7 255.8,506.8 256.7,506.8 257.7,506.7 258.6,506.7 259.6,506.6 260.5,506.5 261.5,506.5 262.4,506.4 263.4,506.4 264.3,506.4 265.3,506.3 266.2,506.3 267.2,506.2 268.1,506.1 269.1,506.1 270.0,506.1 271.0,506.0 271.9,506.1 272.9,506.2 273.8,506.2 274.8,506.3 275.7,506.4 276.7,506.5 277.6,506.6 278.6,506.6 279.5,506.7 280.5,506.7 281.4,506.8 282.4,507.0 283.3,507.0 284.3,507.0 285.2,507.1 286.2,507.2 287.1,507.3 288.1,507.4 289.0,507.4 290.0,507.3 290.9,507.3 291.9,507.1 292.8,507.0 293.8,507.0 294.7,506.9 295.7,506.8 296.6,506.7 297.6,506.6 298.5,506.5 299.5,506.4 300.4,506.3 301.4,506.2 302.3,506.2 303.3,506.1 304.2,506.0 305.2,506.0 306.1,505.9 307.1,505.8 308.0,505.8 309.0,505.8 309.9,505.8 310.9,505.7 311.8,505.7 312.8,505.5 313.7,505.5 314.7,505.5 315.6,505.4 316.6,505.4 317.5,505.3 318.5,505.3 319.4,505.3 320.4,505.2 321.3,505.2 322.3,505.2 323.2,505.2 324.2,505.1 325.1,505.0 326.1,505.0 327.0,504.9 328.0,504.8 328.9,504.8 329.9,504.8 330.8,504.7 331.8,504.7 332.7,504.7" fill="none" stroke="#1414ff" stroke-width="1.35" stroke-linejoin="round"/><text x="6.50" y="510.00" font-size="7.6" text-anchor="middle" fill="#262626" transform="rotate(-90 6.5 510.0)">14</text><rect x="15.50" y="518.50" width="332.00" height="13.00" fill="none" stroke="#4a4a4a" stroke-width="1.1"/><line x1="29.70" y1="531.50" x2="29.70" y2="533.50" stroke="#383838" stroke-width="0.7"/><line x1="80.20" y1="531.50" x2="80.20" y2="533.50" stroke="#383838" stroke-width="0.7"/><line x1="130.70" y1="531.50" x2="130.70" y2="533.50" stroke="#383838" stroke-width="0.7"/><line x1="181.20" y1="531.50" x2="181.20" y2="533.50" stroke="#383838" stroke-width="0.7"/><line x1="231.70" y1="531.50" x2="231.70" y2="533.50" stroke="#383838" stroke-width="0.7"/><line x1="282.20" y1="531.50" x2="282.20" y2="533.50" stroke="#383838" stroke-width="0.7"/><line x1="332.70" y1="531.50" x2="332.70" y2="533.50" stroke="#383838" stroke-width="0.7"/><polyline points="29.7,525.2 30.6,525.5 31.6,525.6 32.5,526.2 33.5,526.3 34.4,526.4 35.4,526.2 36.3,526.5 37.3,526.0 38.2,525.7 39.2,525.0 40.1,524.1 41.1,523.8 42.0,523.0 43.0,522.8 43.9,522.1 44.9,521.3 45.8,521.1 46.8,520.8 47.7,520.9 48.7,521.5 49.6,522.1 50.6,522.2 51.5,522.9 52.5,523.8 53.4,524.0 54.4,524.5 55.3,524.8 56.3,525.0 57.2,524.8 58.2,524.3 59.1,524.8 60.1,525.3 61.0,525.3 62.0,525.8 62.9,525.6 63.9,525.4 64.8,525.9 65.8,526.2 66.7,525.4 67.7,525.0 68.6,524.4 69.6,524.0 70.5,523.8 71.5,523.6 72.4,523.2 73.4,522.9 74.3,522.7 75.3,521.6 76.2,520.9 77.2,521.0 78.1,520.6 79.1,520.8 80.0,521.6 81.0,521.6 81.9,521.8 82.9,522.6 83.8,523.3 84.8,523.5 85.7,522.9 86.7,522.9 87.6,523.3 88.6,523.6 89.5,523.7 90.5,523.7 91.4,523.7 92.4,524.2 93.3,524.7 94.3,524.8 95.2,524.8 96.2,525.1 97.1,525.2 98.1,525.1 99.0,525.3 100.0,525.3 100.9,524.9 101.9,523.5 102.8,522.2 103.8,521.3 104.7,520.5 105.7,520.5 106.6,520.4 107.6,521.1 108.5,522.2 109.5,522.8 110.4,523.2 111.4,523.5 112.3,523.4 113.3,523.7 114.2,523.6 115.2,523.8 116.1,524.2 117.1,524.3 118.0,524.6 119.0,524.9 119.9,524.9 120.9,525.4 121.8,525.9 122.8,525.8 123.7,526.0 124.7,525.8 125.6,524.8 126.6,524.2 127.5,523.8 128.5,523.0 129.4,522.9 130.4,522.6 131.3,522.2 132.3,521.7 133.2,521.3 134.2,520.6 135.1,520.7 136.1,521.0 137.0,521.2 138.0,521.4 138.9,521.8 139.9,522.0 140.8,522.5 141.8,522.9 142.7,522.8 143.7,522.9 144.6,523.2 145.6,523.7 146.5,524.2 147.5,524.7 148.4,525.3 149.4,525.5 150.3,525.3 151.3,525.2 152.2,525.7 153.2,526.7 154.1,527.3 155.1,527.7 156.0,528.2 157.0,528.6 157.9,528.8 158.9,529.1 159.8,528.6 160.8,527.7 161.7,526.8 162.7,526.3 163.6,525.8 164.6,525.4 165.5,524.9 166.5,524.5 167.4,524.2 168.4,523.8 169.3,523.7 170.3,523.6 171.2,523.9 172.2,524.2 173.1,524.2 174.1,524.0 175.0,524.2 176.0,524.5 176.9,524.4 177.9,524.3 178.8,524.9 179.8,525.2 180.7,524.8 181.7,524.5 182.6,524.0 183.6,524.2 184.5,524.3 185.5,523.9 186.4,523.8 187.4,523.3 188.3,522.6 189.3,522.2 190.2,522.4 191.2,522.1 192.1,521.4 193.1,521.3 194.0,521.5 195.0,521.5 195.9,521.7 196.9,521.6 197.8,522.1 198.8,522.7 199.7,522.6 200.7,522.7 201.6,523.0 202.6,523.5 203.5,523.7 204.5,524.3 205.4,524.9 206.4,525.3 207.3,525.4 208.3,525.9 209.2,526.0 210.2,526.1 211.1,526.6 212.1,527.0 213.0,526.4 214.0,525.7 214.9,524.9 215.9,524.5 216.8,523.9 217.8,523.3 218.7,522.9 219.7,522.5 220.6,521.4 221.6,520.8 222.5,520.3 223.5,520.5 224.4,521.1 225.4,521.3 226.3,521.3 227.3,521.6 228.2,522.1 229.2,522.3 230.1,522.6 231.1,522.9 232.0,523.2 233.0,523.5 233.9,523.8 234.9,523.8 235.8,524.1 236.8,524.4 237.7,524.9 238.7,525.3 239.6,525.3 240.6,525.0 241.5,524.0 242.5,523.6 243.4,523.5 244.4,523.4 245.3,522.8 246.3,522.2 247.2,521.6 248.2,521.1 249.1,520.8 250.1,520.4 251.0,520.4 252.0,520.4 252.9,520.4 253.9,520.8 254.8,521.1 255.8,521.4 256.7,521.8 257.7,521.8 258.6,522.3 259.6,522.8 260.5,523.2 261.5,523.4 262.4,523.7 263.4,523.6 264.3,523.8 265.3,524.3 266.2,524.2 267.2,523.8 268.1,523.4 269.1,523.6 270.0,523.3 271.0,522.5 271.9,522.0 272.9,522.0 273.8,522.0 274.8,521.9 275.7,521.7 276.7,521.0 277.6,520.4 278.6,520.3 279.5,522.6 280.5,524.7 281.4,527.2 282.4,527.9 283.3,527.4 284.3,525.5 285.2,523.9 286.2,521.7 287.1,521.6 288.1,521.9 289.0,521.9 290.0,522.1 290.9,522.0 291.9,522.0 292.8,522.3 293.8,522.6 294.7,522.8 295.7,523.0 296.6,523.2 297.6,523.5 298.5,523.1 299.5,522.7 300.4,522.5 301.4,521.9 302.3,521.8 303.3,521.8 304.2,521.3 305.2,521.1 306.1,520.4 307.1,520.1 308.0,520.2 309.0,520.3 309.9,520.5 310.9,520.8 311.8,521.2 312.8,521.3 313.7,521.2 314.7,521.5 315.6,522.3 316.6,522.1 317.5,522.1 318.5,521.8 319.4,522.0 320.4,522.5 321.3,522.4 322.3,522.6 323.2,523.2 324.2,523.5 325.1,523.9 326.1,524.4 327.0,524.9 328.0,525.2 328.9,525.6 329.9,525.8 330.8,525.3 331.8,524.4 332.7,523.8" fill="none" stroke="#1414ff" stroke-width="1.35" stroke-linejoin="round"/><text x="6.50" y="525.00" font-size="7.6" text-anchor="middle" fill="#262626" transform="rotate(-90 6.5 525.0)">15</text><text x="29.70" y="542.40" font-size="7.6" text-anchor="middle" fill="#262626">0</text><text x="80.20" y="542.40" font-size="7.6" text-anchor="middle" fill="#262626">10</text><text x="130.70" y="542.40" font-size="7.6" text-anchor="middle" fill="#262626">20</text><text x="181.20" y="542.40" font-size="7.6" text-anchor="middle" fill="#262626">30</text><text x="231.70" y="542.40" font-size="7.6" text-anchor="middle" fill="#262626">40</text><text x="282.20" y="542.40" font-size="7.6" text-anchor="middle" fill="#262626">50</text><text x="332.70" y="542.40" font-size="7.6" text-anchor="middle" fill="#262626">60</text><text x="181.10" y="552.40" font-size="8.0" text-anchor="middle" fill="#262626" textLength="55.2" lengthAdjust="spacingAndGlyphs">Time (seconds)</text><text x="173.70" y="580.60" font-size="13" text-anchor="middle" fill="#000" font-weight="bold" textLength="16.6" lengthAdjust="spacingAndGlyphs">(c)</text><line x1="402.50" y1="299.40" x2="402.50" y2="405.00" stroke="#c2c2c2" stroke-width="0.9"/><line x1="451.50" y1="299.40" x2="451.50" y2="405.00" stroke="#c2c2c2" stroke-width="0.9"/><line x1="499.50" y1="299.40" x2="499.50" y2="405.00" stroke="#c2c2c2" stroke-width="0.9"/><line x1="547.50" y1="299.40" x2="547.50" y2="405.00" stroke="#c2c2c2" stroke-width="0.9"/><line x1="596.50" y1="299.40" x2="596.50" y2="405.00" stroke="#c2c2c2" stroke-width="0.9"/><line x1="644.50" y1="299.40" x2="644.50" y2="405.00" stroke="#c2c2c2" stroke-width="0.9"/><line x1="693.50" y1="299.40" x2="693.50" y2="405.00" stroke="#c2c2c2" stroke-width="0.9"/><line x1="387.40" y1="400.50" x2="707.50" y2="400.50" stroke="#c2c2c2" stroke-width="0.9"/><line x1="387.40" y1="379.50" x2="707.50" y2="379.50" stroke="#c2c2c2" stroke-width="0.9"/><line x1="387.40" y1="359.50" x2="707.50" y2="359.50" stroke="#c2c2c2" stroke-width="0.9"/><line x1="387.40" y1="338.50" x2="707.50" y2="338.50" stroke="#c2c2c2" stroke-width="0.9"/><line x1="387.40" y1="318.50" x2="707.50" y2="318.50" stroke="#c2c2c2" stroke-width="0.9"/><polyline points="402.6,324.7 403.2,349.2 403.8,369.6 404.3,373.7 404.8,379.8 405.3,388.0 405.6,369.6 405.1,384.0 405.5,363.2 406.0,332.8 406.4,318.0 406.7,325.1 407.1,343.0 407.4,364.0 407.7,380.1 408.1,386.2 408.4,379.0 408.7,370.9 409.1,379.1 409.4,386.5 409.7,381.4 410.1,367.2 410.4,348.8 410.7,333.0 411.1,326.8 411.4,333.2 411.8,349.5 412.2,368.5 412.5,383.2 412.9,389.2 413.3,384.3 413.6,378.3 414.0,384.3 414.3,389.0 414.7,382.3 415.1,366.2 415.4,345.5 415.8,327.7 416.2,320.6 416.5,328.0 416.9,346.6 417.3,368.3 417.7,385.1 418.1,392.0 418.5,387.0 418.8,380.6 419.2,386.9 419.6,391.7 420.0,383.6 420.4,364.7 420.7,340.2 421.1,319.2 421.5,310.9 421.8,319.5 422.2,341.2 422.5,366.5 422.9,386.2 423.2,396.4 423.6,399.4 423.9,399.6 424.3,399.3 424.6,396.3 425.0,385.5 425.3,364.7 425.6,338.2 426.0,315.4 426.3,306.4 426.7,315.4 427.0,338.3 427.4,365.1 427.7,386.0 428.1,396.8 428.4,399.9 428.8,400.1 429.1,399.9 429.5,396.7 429.8,385.5 430.1,364.0 430.5,336.3 430.8,312.7 431.2,303.3 431.6,312.7 431.9,336.3 432.3,363.9 432.7,385.5 433.1,396.7 433.5,399.9 433.9,400.1 434.2,399.9 434.6,396.8 435.0,385.8 435.4,364.7 435.8,337.7 436.1,314.5 436.5,305.3 436.9,314.4 437.2,337.2 437.6,363.8 437.9,384.6 438.2,395.4 438.6,398.4 438.9,398.7 439.3,398.4 439.6,395.4 440.0,384.7 440.3,364.2 440.7,337.8 441.0,315.3 441.4,306.4 441.7,315.3 442.1,338.0 442.5,364.5 442.8,385.2 443.2,395.9 443.5,399.0 443.9,399.2 444.3,399.0 444.6,396.2 445.0,386.3 445.4,367.2 445.7,342.7 446.1,321.8 446.4,313.5 446.8,321.8 447.2,342.9 447.5,367.6 447.9,386.8 448.3,396.8 448.6,399.6 449.0,399.8 449.4,399.6 449.7,396.7 450.1,386.3 450.4,366.4 450.8,340.9 451.2,319.1 451.5,310.4 451.9,319.0 452.3,340.8 452.7,366.2 453.1,386.1 453.4,396.4 453.8,399.3 454.2,399.5 454.6,399.3 455.0,396.1 455.3,385.0 455.7,363.6 456.1,336.1 456.5,312.6 456.9,303.3 457.2,312.5 457.5,335.8 457.9,363.1 458.2,384.3 458.5,395.3 458.8,398.5 459.2,398.7 459.5,398.5 459.8,395.4 460.2,384.8 460.5,364.2 460.8,337.9 461.1,315.3 461.5,306.4 461.8,315.3 462.2,337.9 462.6,364.3 462.9,384.9 463.3,395.5 463.6,398.6 464.0,398.8 464.4,398.6 464.7,395.7 465.1,385.5 465.5,366.0 465.8,340.9 466.2,319.4 466.6,310.9 466.9,319.4 467.2,340.9 467.6,366.0 467.9,385.6 468.3,395.8 468.6,398.7 469.0,398.9 469.3,398.7 469.7,395.8 470.0,385.8 470.4,366.4 470.7,341.6 471.1,320.4 471.4,312.0 471.8,320.4 472.2,341.9 472.5,366.9 472.9,386.4 473.3,396.5 473.7,399.4 474.1,399.6 474.4,399.4 474.8,396.9 475.2,388.2 475.6,371.4 476.0,349.9 476.3,331.5 476.7,324.2 477.1,331.5 477.4,349.9 477.8,371.3 478.1,388.1 478.5,396.8 478.8,399.3 479.2,399.4 479.5,399.2 479.8,396.4 480.2,386.3 480.5,367.0 480.9,342.1 481.2,320.9 481.6,312.5 481.9,320.9 482.3,342.0 482.6,366.8 483.0,386.1 483.3,396.1 483.6,399.0 484.0,399.2 484.3,399.0 484.7,396.1 485.0,386.1 485.4,366.8 485.7,342.0 486.1,320.9 486.4,312.5 486.8,320.9 487.2,342.4 487.6,367.4 487.9,386.9 488.3,397.0 488.7,399.9 489.1,400.1 489.5,399.9 489.8,397.4 490.2,388.4 490.6,371.2 491.0,349.1 491.4,330.2 491.7,322.7 492.1,330.1 492.4,348.8 492.7,370.7 493.0,387.8 493.3,396.6 493.6,399.2 493.9,399.3 494.2,399.2 494.6,396.6 494.9,387.5 495.2,369.9 495.5,347.5 495.8,328.2 496.1,320.6 496.5,328.3 496.8,347.6 497.1,370.2 497.5,387.8 497.8,397.0 498.2,399.6 498.5,399.8 498.9,399.6 499.2,397.1 499.6,388.2 499.9,371.2 500.3,349.3 500.6,330.6 501.0,323.2 501.3,330.5 501.6,349.0 501.9,370.6 502.2,387.4 502.5,396.2 502.8,398.7 503.1,398.9 503.4,398.8 503.8,397.5 504.1,393.1 504.4,384.7 504.7,373.9 505.0,364.6 505.3,360.9 505.7,364.5 506.1,373.5 506.6,384.0 507.0,392.0 507.4,394.4 507.8,387.9 508.2,381.3 508.6,387.9 509.1,394.2 509.5,391.2 509.9,381.9 510.3,369.8 510.7,359.4 511.1,355.3 512.1,388.0 513.1,369.6 514.5,388.0 516.0,348.2 516.2,353.0 516.5,365.2 516.8,379.4 517.1,390.4 517.4,394.2 517.6,387.9 517.9,381.2 518.2,387.9 518.5,393.9 518.7,389.0 519.0,376.0 519.3,359.1 519.6,344.7 519.8,339.0 520.8,381.8 521.8,354.3 523.2,381.8 524.7,316.1 525.3,369.4 525.9,323.2 526.2,330.2 526.4,348.1 526.7,368.9 526.9,385.1 527.2,392.4 527.5,390.1 527.7,386.2 528.0,390.2 528.2,393.1 528.5,387.9 528.8,376.0 529.0,360.5 529.3,347.3 529.5,342.1 530.5,385.9 531.5,364.5 531.7,367.3 532.0,374.3 532.2,382.5 532.4,388.8 532.7,390.9 532.9,386.6 533.2,382.2 533.4,386.6 533.7,390.5 533.9,387.4 534.1,379.1 534.4,368.3 534.6,359.0 534.9,355.3 535.5,382.2 536.1,355.3 536.4,359.2 536.7,368.9 537.1,380.2 537.4,388.9 537.7,391.9 538.1,386.4 538.4,380.7 538.7,386.4 539.0,391.3 539.4,386.5 539.7,374.1 540.0,358.1 540.4,344.4 540.7,339.0 541.0,344.6 541.4,358.7 541.7,375.1 542.1,387.9 542.4,393.6 542.8,391.6 543.1,388.4 543.5,391.6 543.8,393.0 544.1,385.1 544.5,368.3 544.8,346.6 545.2,328.0 545.5,320.6 545.9,328.1 546.3,347.1 546.7,369.3 547.1,386.6 547.4,395.4 547.8,397.6 548.2,397.4 548.6,397.6 549.0,395.7 549.3,387.6 549.7,371.9 550.1,351.8 550.5,334.6 550.9,327.8 551.2,334.6 551.5,351.9 551.8,372.1 552.1,387.8 552.4,395.5 552.7,396.1 553.0,394.7 553.3,396.0 553.7,394.8 554.0,384.7 554.3,364.4 554.6,338.5 554.9,316.2 555.2,307.4 555.6,316.2 555.9,338.4 556.3,364.3 556.6,384.5 556.9,394.5 557.3,395.6 557.6,394.2 558.0,395.7 558.3,395.5 558.7,388.5 559.0,374.2 559.4,355.9 559.7,340.1 560.1,333.9 560.4,340.1 560.8,355.9 561.2,374.2 561.6,388.5 562.0,395.3 562.3,394.8 562.7,392.6 563.1,394.7 563.5,394.7 563.9,386.0 564.2,367.9 564.6,344.8 565.0,324.9 565.4,317.1 565.7,325.1 566.1,345.3 566.4,368.8 566.8,387.2 567.1,395.8 567.5,395.0 567.8,392.1 568.2,395.0 568.5,395.7 568.9,386.6 569.2,367.5 569.5,342.9 569.9,321.8 570.2,313.5 570.6,321.7 570.9,342.6 571.3,366.9 571.6,385.9 572.0,394.9 572.3,394.5 572.7,391.8 573.0,394.4 573.4,394.6 573.7,384.6 574.0,363.7 574.4,336.9 574.7,313.9 575.1,304.8 575.5,313.9 575.8,337.0 576.2,364.0 576.6,385.0 577.0,395.6 577.4,397.7 577.7,397.0 578.1,397.7 578.5,396.0 578.9,386.6 579.3,368.0 579.7,344.1 580.0,323.6 580.4,315.5 580.8,323.6 581.1,344.0 581.4,367.7 581.8,386.3 582.1,395.8 582.5,398.0 582.8,397.8 583.2,398.0 583.5,395.5 583.9,385.1 584.2,364.9 584.6,338.9 584.9,316.7 585.3,307.9 585.6,316.7 585.9,338.9 586.3,364.8 586.6,385.0 587.0,394.8 587.3,394.7 587.7,392.3 588.0,394.7 588.4,395.2 588.7,386.8 589.1,369.2 589.4,346.6 589.8,327.3 590.1,319.6 590.5,327.3 590.9,346.8 591.2,369.6 591.6,387.3 592.0,395.6 592.4,394.4 592.8,391.3 593.1,394.4 593.5,395.7 593.9,387.8 594.3,370.8 594.7,348.9 595.1,330.1 595.4,322.7 595.7,330.1 596.1,349.0 596.4,371.0 596.7,388.1 597.0,396.6 597.3,397.2 597.6,395.8 597.9,397.2 598.2,396.3 598.5,387.0 598.9,368.3 599.2,344.3 599.5,323.7 599.8,315.5 600.2,323.6 600.5,343.9 600.9,367.5 601.2,386.0 601.6,395.1 602.0,396.1 602.3,394.7 602.7,396.1 603.1,396.2 603.4,390.6 603.8,379.0 604.2,364.0 604.5,351.2 604.9,346.1 605.2,350.9 605.6,363.1 606.0,377.3 606.3,388.1 606.7,391.2 607.1,382.2 607.4,373.1 607.8,382.2 608.1,390.5 608.5,385.0 608.9,369.6 609.2,349.6 609.6,332.5 610.0,325.7 610.3,332.4 610.7,349.2 611.0,368.8 611.4,383.8 611.7,388.2 612.0,376.2 612.4,364.0 612.7,376.2 613.1,389.0 613.4,386.9 613.8,376.6 614.1,363.0 614.5,351.3 614.8,346.6 615.2,351.4 615.5,363.4 615.8,377.4 616.2,388.1 616.5,390.7 616.9,379.8 617.2,369.1 617.6,379.7 617.9,390.1 618.3,385.6 618.6,371.3 619.0,352.6 619.3,336.7 619.7,330.3 620.0,337.0 620.3,353.8 620.7,373.5 621.0,388.6 621.4,393.7 621.7,384.4 622.1,374.5 622.4,384.4 622.8,393.9 623.1,389.3 623.5,375.2 623.8,356.9 624.2,341.1 624.5,334.9 624.9,340.7 625.3,355.4 625.6,372.6 626.0,385.8 626.4,390.6 626.8,383.9 627.2,376.6 627.5,383.9 627.9,390.0 628.3,383.1 628.7,366.1 629.1,344.0 629.4,325.1 629.8,317.6 630.2,325.2 630.5,344.6 630.9,367.2 631.2,384.7 631.6,391.5 631.9,384.7 632.3,376.8 632.6,384.8 632.9,392.5 633.3,388.7 633.6,377.1 634.0,362.1 634.3,349.2 634.7,344.1 635.0,349.0 635.4,361.2 635.7,375.6 636.1,386.6 636.4,390.5 636.8,384.3 637.1,377.7 637.4,384.3 637.8,390.2 638.1,385.6 638.5,373.1 638.8,356.9 639.2,343.0 639.5,337.5 639.9,343.3 640.4,358.0 640.8,375.2 641.2,388.5 641.6,394.3 642.0,391.5 642.4,387.5 642.8,391.6 643.3,394.9 643.7,390.8 644.1,380.7 644.5,367.8 644.9,356.7 645.3,352.3 645.7,356.6 646.1,367.7 646.5,380.7 646.9,390.6 647.2,393.1 647.6,383.8 648.0,374.5 648.4,383.7 648.8,392.3 649.1,387.0 649.5,371.9 649.9,352.3 650.3,335.4 650.7,328.8 651.0,335.1 651.3,351.2 651.6,369.9 651.9,384.3 652.2,388.5 652.5,377.1 652.8,365.4 653.2,377.1 653.5,389.4 653.8,388.0 654.1,379.1 654.4,367.3 654.7,357.3 655.0,353.3 655.4,357.6 655.7,368.6 656.1,381.4 656.4,391.1 656.8,392.8 657.1,380.0 657.4,367.8 657.8,380.0 658.1,392.5 658.5,390.0 658.8,378.5 659.2,363.6 659.5,350.7 659.9,345.6 660.1,350.8 660.4,363.9 660.7,379.1 661.0,390.7 661.3,393.8 661.5,382.9 661.8,372.1 662.1,382.8 662.4,393.3 662.6,388.5 662.9,373.6 663.2,354.1 663.5,337.4 663.7,330.8 664.0,337.4 664.2,354.2 664.5,373.7 664.7,388.7 665.0,394.5 665.2,388.1 665.4,380.8 665.7,388.1 665.9,394.8 666.2,390.0 666.4,376.7 666.7,359.5 666.9,344.8 667.1,339.0 667.9,369.6 668.6,394.1 669.1,379.2 670.4,387.1 671.4,375.5 672.4,389.5 673.6,378.9 675.0,391.1 676.1,379.3 677.0,391.7 678.1,372.2 679.5,389.6 680.6,374.4 682.0,390.7 683.3,376.5 684.5,387.8 685.7,374.2 687.0,393.0 687.9,378.6 688.8,391.6 689.7,378.0 691.0,386.7 692.0,376.8 693.2,388.2 693.3,379.8" fill="none" stroke="#0000ff" stroke-width="1.2" stroke-linejoin="round"/><rect x="387.40" y="299.40" width="320.10" height="105.60" fill="none" stroke="#383838" stroke-width="0.9"/><line x1="402.60" y1="405.00" x2="402.60" y2="407.60" stroke="#383838" stroke-width="0.8"/><text x="402.60" y="415.60" font-size="7.8" text-anchor="middle" fill="#262626">0</text><line x1="451.05" y1="405.00" x2="451.05" y2="407.60" stroke="#383838" stroke-width="0.8"/><text x="451.05" y="415.60" font-size="7.8" text-anchor="middle" fill="#262626">10</text><line x1="499.50" y1="405.00" x2="499.50" y2="407.60" stroke="#383838" stroke-width="0.8"/><text x="499.50" y="415.60" font-size="7.8" text-anchor="middle" fill="#262626">20</text><line x1="547.95" y1="405.00" x2="547.95" y2="407.60" stroke="#383838" stroke-width="0.8"/><text x="547.95" y="415.60" font-size="7.8" text-anchor="middle" fill="#262626">30</text><line x1="596.40" y1="405.00" x2="596.40" y2="407.60" stroke="#383838" stroke-width="0.8"/><text x="596.40" y="415.60" font-size="7.8" text-anchor="middle" fill="#262626">40</text><line x1="644.85" y1="405.00" x2="644.85" y2="407.60" stroke="#383838" stroke-width="0.8"/><text x="644.85" y="415.60" font-size="7.8" text-anchor="middle" fill="#262626">50</text><line x1="693.30" y1="405.00" x2="693.30" y2="407.60" stroke="#383838" stroke-width="0.8"/><text x="693.30" y="415.60" font-size="7.8" text-anchor="middle" fill="#262626">60</text><line x1="384.80" y1="400.20" x2="387.40" y2="400.20" stroke="#383838" stroke-width="0.8"/><text x="381.80" y="403.00" font-size="7.8" text-anchor="end" fill="#262626">0.0</text><line x1="384.80" y1="379.80" x2="387.40" y2="379.80" stroke="#383838" stroke-width="0.8"/><text x="381.80" y="382.60" font-size="7.8" text-anchor="end" fill="#262626">0.2</text><line x1="384.80" y1="359.40" x2="387.40" y2="359.40" stroke="#383838" stroke-width="0.8"/><text x="381.80" y="362.20" font-size="7.8" text-anchor="end" fill="#262626">0.4</text><line x1="384.80" y1="339.00" x2="387.40" y2="339.00" stroke="#383838" stroke-width="0.8"/><text x="381.80" y="341.80" font-size="7.8" text-anchor="end" fill="#262626">0.6</text><line x1="384.80" y1="318.60" x2="387.40" y2="318.60" stroke="#383838" stroke-width="0.8"/><text x="381.80" y="321.40" font-size="7.8" text-anchor="end" fill="#262626">0.8</text><text x="364.60" y="352.20" font-size="7.8" text-anchor="middle" fill="#262626" transform="rotate(-90 364.6 352.2)">Pulse Waveform</text><line x1="428.50" y1="426.60" x2="428.50" y2="532.40" stroke="#c2c2c2" stroke-width="0.9"/><line x1="472.50" y1="426.60" x2="472.50" y2="532.40" stroke="#c2c2c2" stroke-width="0.9"/><line x1="516.50" y1="426.60" x2="516.50" y2="532.40" stroke="#c2c2c2" stroke-width="0.9"/><line x1="560.50" y1="426.60" x2="560.50" y2="532.40" stroke="#c2c2c2" stroke-width="0.9"/><line x1="604.50" y1="426.60" x2="604.50" y2="532.40" stroke="#c2c2c2" stroke-width="0.9"/><line x1="648.50" y1="426.60" x2="648.50" y2="532.40" stroke="#c2c2c2" stroke-width="0.9"/><line x1="692.50" y1="426.60" x2="692.50" y2="532.40" stroke="#c2c2c2" stroke-width="0.9"/><line x1="387.40" y1="527.50" x2="707.50" y2="527.50" stroke="#c2c2c2" stroke-width="0.9"/><line x1="387.40" y1="498.50" x2="707.50" y2="498.50" stroke="#c2c2c2" stroke-width="0.9"/><line x1="387.40" y1="470.50" x2="707.50" y2="470.50" stroke="#c2c2c2" stroke-width="0.9"/><line x1="387.40" y1="441.50" x2="707.50" y2="441.50" stroke="#c2c2c2" stroke-width="0.9"/><polyline points="402.17,527.50 405.05,527.50 407.94,527.50 410.82,527.50 413.70,527.50 416.59,527.50 419.47,527.50 422.35,527.50 425.24,527.50 428.12,527.50 431.00,527.50 433.89,527.49 433.89,527.49 434.10,527.49 434.32,527.49 434.54,527.48 434.76,527.47 434.97,527.45 435.19,527.43 435.41,527.40 435.63,527.36 435.85,527.30 436.06,527.21 436.28,527.10 436.50,526.95 436.72,526.75 436.93,526.48 437.15,526.13 437.37,525.69 437.59,525.12 437.81,524.39 438.02,523.50 438.24,522.39 438.46,521.04 438.68,519.41 438.89,517.46 439.11,515.18 439.33,512.51 439.55,509.46 439.77,505.98 439.98,502.09 440.20,497.79 440.42,493.10 440.64,488.05 440.85,482.71 441.07,477.13 441.29,471.41 441.51,465.65 441.73,459.96 441.94,454.47 442.16,449.30 442.38,444.57 442.60,440.42 442.81,436.94 443.03,434.25 443.25,432.41 443.47,431.47 443.69,431.47 443.90,432.41 444.12,434.25 444.34,436.94 444.56,440.42 444.77,444.57 444.99,449.30 445.21,454.47 445.43,459.96 445.65,465.65 445.86,471.41 446.08,477.13 446.30,482.71 446.52,488.05 446.73,493.10 446.95,497.79 447.17,502.09 447.39,505.98 447.61,509.46 447.82,512.51 448.04,515.18 448.26,517.46 448.48,519.41 448.69,521.04 448.91,522.39 449.13,523.50 449.35,524.39 449.57,525.12 449.78,525.69 450.00,526.13 450.22,526.48 450.44,526.75 450.65,526.95 450.87,527.10 451.09,527.21 451.31,527.30 451.53,527.36 451.74,527.40 451.96,527.43 452.18,527.45 452.40,527.47 452.61,527.48 452.83,527.49 453.05,527.49 453.27,527.49 453.27,527.49 479.89,527.50 506.52,527.50 533.15,527.50 559.77,527.50 586.40,527.50 613.02,527.50 639.65,527.50 666.27,527.50 692.90,527.50" fill="none" stroke="#0000ff" stroke-width="1.2" stroke-linejoin="round"/><rect x="387.40" y="426.60" width="320.10" height="105.80" fill="none" stroke="#383838" stroke-width="0.9"/><line x1="428.60" y1="532.40" x2="428.60" y2="535.00" stroke="#383838" stroke-width="0.8"/><text x="428.60" y="542.80" font-size="7.8" text-anchor="middle" fill="#262626">50</text><line x1="472.65" y1="532.40" x2="472.65" y2="535.00" stroke="#383838" stroke-width="0.8"/><text x="472.65" y="542.80" font-size="7.8" text-anchor="middle" fill="#262626">75</text><line x1="516.70" y1="532.40" x2="516.70" y2="535.00" stroke="#383838" stroke-width="0.8"/><text x="516.70" y="542.80" font-size="7.8" text-anchor="middle" fill="#262626">100</text><line x1="560.75" y1="532.40" x2="560.75" y2="535.00" stroke="#383838" stroke-width="0.8"/><text x="560.75" y="542.80" font-size="7.8" text-anchor="middle" fill="#262626">125</text><line x1="604.80" y1="532.40" x2="604.80" y2="535.00" stroke="#383838" stroke-width="0.8"/><text x="604.80" y="542.80" font-size="7.8" text-anchor="middle" fill="#262626">150</text><line x1="648.85" y1="532.40" x2="648.85" y2="535.00" stroke="#383838" stroke-width="0.8"/><text x="648.85" y="542.80" font-size="7.8" text-anchor="middle" fill="#262626">175</text><line x1="692.90" y1="532.40" x2="692.90" y2="535.00" stroke="#383838" stroke-width="0.8"/><text x="692.90" y="542.80" font-size="7.8" text-anchor="middle" fill="#262626">200</text><line x1="384.80" y1="527.50" x2="387.40" y2="527.50" stroke="#383838" stroke-width="0.8"/><text x="381.80" y="530.30" font-size="7.8" text-anchor="end" fill="#262626">0.0</text><line x1="384.80" y1="498.80" x2="387.40" y2="498.80" stroke="#383838" stroke-width="0.8"/><text x="381.80" y="501.60" font-size="7.8" text-anchor="end" fill="#262626">0.1</text><line x1="384.80" y1="470.10" x2="387.40" y2="470.10" stroke="#383838" stroke-width="0.8"/><text x="381.80" y="472.90" font-size="7.8" text-anchor="end" fill="#262626">0.2</text><line x1="384.80" y1="441.40" x2="387.40" y2="441.40" stroke="#383838" stroke-width="0.8"/><text x="381.80" y="444.20" font-size="7.8" text-anchor="end" fill="#262626">0.3</text><text x="364.60" y="479.50" font-size="7.8" text-anchor="middle" fill="#262626" transform="rotate(-90 364.6 479.5)">Spectrum</text><text x="547.20" y="425.60" font-size="7.8" text-anchor="middle" fill="#262626">Time (seconds)</text><text x="547.20" y="551.80" font-size="7.8" text-anchor="middle" fill="#262626" textLength="59.8" lengthAdjust="spacingAndGlyphs">Frequency (bpm)</text><text x="533.60" y="580.60" font-size="13" text-anchor="middle" fill="#000" font-weight="bold" textLength="17.8" lengthAdjust="spacingAndGlyphs">(d)</text></svg></body></html>
